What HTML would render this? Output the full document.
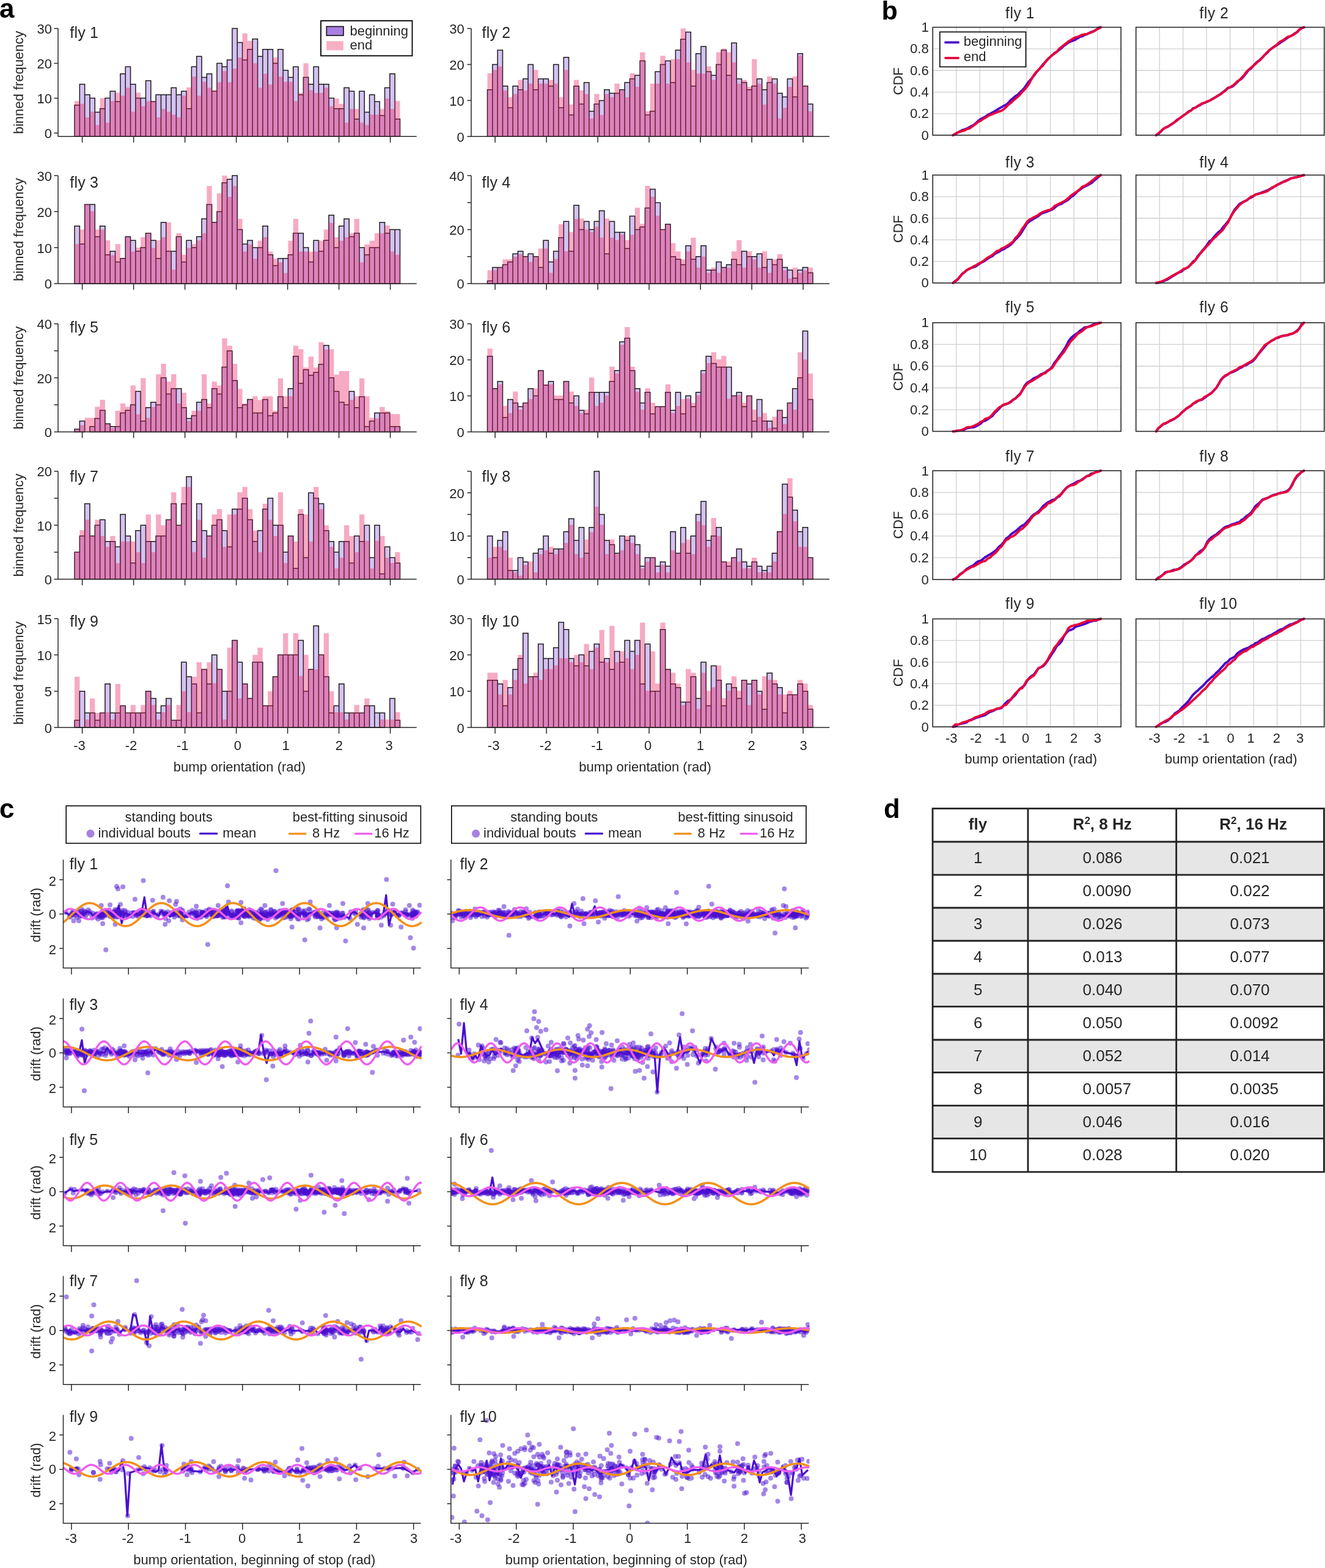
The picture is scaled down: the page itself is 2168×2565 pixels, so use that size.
<!DOCTYPE html>
<html><head><meta charset="utf-8"><title>figure</title>
<style>html,body{margin:0;padding:0;background:#fff;} svg{display:block;}</style></head>
<body><svg width="2168" height="2565" viewBox="0 0 2168 2565" font-family="'Liberation Sans', Arial, Helvetica, sans-serif">
<rect width="2168" height="2565" fill="#fff"/>
<path d="M122 223.3V172H130.32V223.3ZM130.32 223.3V137.8H138.64V223.3ZM138.64 223.3V154.9H146.96V223.3ZM146.96 223.3V160.6H155.28V223.3ZM155.28 223.3V183.4H163.6V223.3ZM163.6 223.3V177.7H171.92V223.3ZM171.92 223.3V160.6H180.24V223.3ZM180.24 223.3V149.2H188.56V223.3ZM188.56 223.3V166.3H196.88V223.3ZM196.88 223.3V120.7H205.2V223.3ZM205.2 223.3V109.3H213.52V223.3ZM213.52 223.3V137.8H221.84V223.3ZM221.84 223.3V160.6H230.16V223.3ZM230.16 223.3V160.6H238.48V223.3ZM238.48 223.3V132.1H246.8V223.3ZM246.8 223.3V166.3H255.12V223.3ZM255.12 223.3V154.9H263.44V223.3ZM263.44 223.3V154.9H271.76V223.3ZM271.76 223.3V154.9H280.08V223.3ZM280.08 223.3V143.5H288.4V223.3ZM288.4 223.3V154.9H296.72V223.3ZM296.72 223.3V149.2H305.04V223.3ZM305.04 223.3V177.7H313.36V223.3ZM313.36 223.3V109.3H321.68V223.3ZM321.68 223.3V92.2H330V223.3ZM330 223.3V126.4H338.32V223.3ZM338.32 223.3V120.7H346.64V223.3ZM346.64 223.3V149.2H354.96V223.3ZM354.96 223.3V103.6H363.28V223.3ZM363.28 223.3V109.3H371.6V223.3ZM371.6 223.3V97.9H379.92V223.3ZM379.92 223.3V46.6H388.24V223.3ZM388.24 223.3V69.4H396.56V223.3ZM396.56 223.3V97.9H404.88V223.3ZM404.88 223.3V80.8H413.2V223.3ZM413.2 223.3V63.7H421.52V223.3ZM421.52 223.3V92.2H429.84V223.3ZM429.84 223.3V80.8H438.16V223.3ZM438.16 223.3V80.8H446.48V223.3ZM446.48 223.3V103.6H454.8V223.3ZM454.8 223.3V80.8H463.12V223.3ZM463.12 223.3V115H471.44V223.3ZM471.44 223.3V126.4H479.76V223.3ZM479.76 223.3V109.3H488.08V223.3ZM488.08 223.3V154.9H496.4V223.3ZM496.4 223.3V126.4H504.72V223.3ZM504.72 223.3V137.8H513.04V223.3ZM513.04 223.3V109.3H521.36V223.3ZM521.36 223.3V137.8H529.68V223.3ZM529.68 223.3V137.8H538V223.3ZM538 223.3V160.6H546.32V223.3ZM546.32 223.3V177.7H554.64V223.3ZM554.64 223.3V177.7H562.96V223.3ZM562.96 223.3V143.5H571.28V223.3ZM571.28 223.3V149.2H579.6V223.3ZM579.6 223.3V194.8H587.92V223.3ZM587.92 223.3V149.2H596.24V223.3ZM596.24 223.3V183.4H604.56V223.3ZM604.56 223.3V154.9H612.88V223.3ZM612.88 223.3V166.3H621.2V223.3ZM621.2 223.3V189.1H629.52V223.3ZM629.52 223.3V143.5H637.84V223.3ZM637.84 223.3V120.7H646.16V223.3ZM646.16 223.3V194.8H654.48V223.3Z" fill="#a57ee6" fill-opacity="0.47" stroke="#1c1c1c" stroke-width="1.5"/>
<path d="M122 223.3V165.16H130.32V223.3ZM130.32 223.3V169.72H138.64V223.3ZM138.64 223.3V191.95H146.96V223.3ZM146.96 223.3V182.83H155.28V223.3ZM155.28 223.3V204.49H163.6V223.3ZM163.6 223.3V160.6H171.92V223.3ZM171.92 223.3V200.5H180.24V223.3ZM180.24 223.3V165.16H188.56V223.3ZM188.56 223.3V151.48H196.88V223.3ZM196.88 223.3V156.61H205.2V223.3ZM205.2 223.3V143.5H213.52V223.3ZM213.52 223.3V182.83H221.84V223.3ZM221.84 223.3V151.48H230.16V223.3ZM230.16 223.3V173.71H238.48V223.3ZM238.48 223.3V165.16H246.8V223.3ZM246.8 223.3V165.16H255.12V223.3ZM255.12 223.3V191.95H263.44V223.3ZM263.44 223.3V178.27H271.76V223.3ZM271.76 223.3V182.83H280.08V223.3ZM280.08 223.3V187.39H288.4V223.3ZM288.4 223.3V191.95H296.72V223.3ZM296.72 223.3V156.61H305.04V223.3ZM305.04 223.3V142.93H313.36V223.3ZM313.36 223.3V125.26H321.68V223.3ZM321.68 223.3V156.61H330V223.3ZM330 223.3V133.81H338.32V223.3ZM338.32 223.3V143.5H346.64V223.3ZM346.64 223.3V148.06H354.96V223.3ZM354.96 223.3V134.38H363.28V223.3ZM363.28 223.3V116.14H371.6V223.3ZM371.6 223.3V134.38H379.92V223.3ZM379.92 223.3V112.15H388.24V223.3ZM388.24 223.3V93.91H396.56V223.3ZM396.56 223.3V54.58H404.88V223.3ZM404.88 223.3V67.12H413.2V223.3ZM413.2 223.3V103.6H421.52V223.3ZM421.52 223.3V143.5H429.84V223.3ZM429.84 223.3V120.7H438.16V223.3ZM438.16 223.3V138.37H446.48V223.3ZM446.48 223.3V93.91H454.8V223.3ZM454.8 223.3V125.26H463.12V223.3ZM463.12 223.3V133.81H471.44V223.3ZM471.44 223.3V133.81H479.76V223.3ZM479.76 223.3V165.16H488.08V223.3ZM488.08 223.3V152.05H496.4V223.3ZM496.4 223.3V103.6H504.72V223.3ZM504.72 223.3V147.49H513.04V223.3ZM513.04 223.3V152.05H521.36V223.3ZM521.36 223.3V152.05H529.68V223.3ZM529.68 223.3V143.5H538V223.3ZM538 223.3V173.71H546.32V223.3ZM546.32 223.3V161.17H554.64V223.3ZM554.64 223.3V169.72H562.96V223.3ZM562.96 223.3V200.5H571.28V223.3ZM571.28 223.3V178.27H579.6V223.3ZM579.6 223.3V178.27H587.92V223.3ZM587.92 223.3V200.5H596.24V223.3ZM596.24 223.3V204.49H604.56V223.3ZM604.56 223.3V187.39H612.88V223.3ZM612.88 223.3V187.39H621.2V223.3ZM621.2 223.3V178.27H629.52V223.3ZM629.52 223.3V161.17H637.84V223.3ZM637.84 223.3V178.27H646.16V223.3ZM646.16 223.3V165.16H654.48V223.3Z" fill="#e6195d" fill-opacity="0.37"/>
<line x1="95" y1="46.6" x2="95" y2="223.3" stroke="#262626" stroke-width="1.5" />
<line x1="95" y1="223.3" x2="681.7" y2="223.3" stroke="#262626" stroke-width="1.5" />
<line x1="88.5" y1="217.6" x2="95" y2="217.6" stroke="#262626" stroke-width="1.5" />
<text x="85.1" y="226.1" font-size="22" text-anchor="end" font-weight="normal" fill="#262626" >0</text>
<line x1="88.5" y1="160.6" x2="95" y2="160.6" stroke="#262626" stroke-width="1.5" />
<text x="85.1" y="169.1" font-size="22" text-anchor="end" font-weight="normal" fill="#262626" >10</text>
<line x1="88.5" y1="103.6" x2="95" y2="103.6" stroke="#262626" stroke-width="1.5" />
<text x="85.1" y="112.1" font-size="22" text-anchor="end" font-weight="normal" fill="#262626" >20</text>
<line x1="88.5" y1="46.6" x2="95" y2="46.6" stroke="#262626" stroke-width="1.5" />
<text x="85.1" y="55.1" font-size="22" text-anchor="end" font-weight="normal" fill="#262626" >30</text>
<line x1="134.6" y1="223.3" x2="134.6" y2="233.3" stroke="#262626" stroke-width="1.5" />
<line x1="218.6" y1="223.3" x2="218.6" y2="233.3" stroke="#262626" stroke-width="1.5" />
<line x1="302.6" y1="223.3" x2="302.6" y2="233.3" stroke="#262626" stroke-width="1.5" />
<line x1="386.6" y1="223.3" x2="386.6" y2="233.3" stroke="#262626" stroke-width="1.5" />
<line x1="470.6" y1="223.3" x2="470.6" y2="233.3" stroke="#262626" stroke-width="1.5" />
<line x1="554.6" y1="223.3" x2="554.6" y2="233.3" stroke="#262626" stroke-width="1.5" />
<line x1="638.6" y1="223.3" x2="638.6" y2="233.3" stroke="#262626" stroke-width="1.5" />
<text x="114.3" y="61.5" font-size="25" text-anchor="start" font-weight="normal" fill="#262626" letter-spacing="0.2">fly 1</text>
<text transform="translate(37.8 134.95) rotate(-90)" font-size="22" text-anchor="middle" fill="#262626">binned frequency</text>
<path d="M797.5 223.3V146.73H805.82V223.3ZM805.82 223.3V105.5H814.14V223.3ZM814.14 223.3V81.94H822.46V223.3ZM822.46 223.3V140.84H830.78V223.3ZM830.78 223.3V176.18H839.1V223.3ZM839.1 223.3V140.84H847.42V223.3ZM847.42 223.3V146.73H855.74V223.3ZM855.74 223.3V129.06H864.06V223.3ZM864.06 223.3V105.5H872.38V223.3ZM872.38 223.3V146.73H880.7V223.3ZM880.7 223.3V129.06H889.02V223.3ZM889.02 223.3V129.06H897.34V223.3ZM897.34 223.3V140.84H905.66V223.3ZM905.66 223.3V105.5H913.98V223.3ZM913.98 223.3V176.18H922.3V223.3ZM922.3 223.3V93.72H930.62V223.3ZM930.62 223.3V187.96H938.94V223.3ZM938.94 223.3V140.84H947.26V223.3ZM947.26 223.3V170.29H955.58V223.3ZM955.58 223.3V134.95H963.9V223.3ZM963.9 223.3V182.07H972.22V223.3ZM972.22 223.3V170.29H980.54V223.3ZM980.54 223.3V164.4H988.86V223.3ZM988.86 223.3V146.73H997.18V223.3ZM997.18 223.3V152.62H1005.5V223.3ZM1005.5 223.3V152.62H1013.82V223.3ZM1013.82 223.3V146.73H1022.14V223.3ZM1022.14 223.3V134.95H1030.46V223.3ZM1030.46 223.3V129.06H1038.78V223.3ZM1038.78 223.3V123.17H1047.1V223.3ZM1047.1 223.3V99.61H1055.42V223.3ZM1055.42 223.3V187.96H1063.74V223.3ZM1063.74 223.3V182.07H1072.06V223.3ZM1072.06 223.3V117.28H1080.38V223.3ZM1080.38 223.3V105.5H1088.7V223.3ZM1088.7 223.3V99.61H1097.02V223.3ZM1097.02 223.3V134.95H1105.34V223.3ZM1105.34 223.3V81.94H1113.66V223.3ZM1113.66 223.3V64.27H1121.98V223.3ZM1121.98 223.3V52.49H1130.3V223.3ZM1130.3 223.3V140.84H1138.62V223.3ZM1138.62 223.3V87.83H1146.94V223.3ZM1146.94 223.3V76.05H1155.26V223.3ZM1155.26 223.3V117.28H1163.58V223.3ZM1163.58 223.3V123.17H1171.9V223.3ZM1171.9 223.3V105.5H1180.22V223.3ZM1180.22 223.3V81.94H1188.54V223.3ZM1188.54 223.3V123.17H1196.86V223.3ZM1196.86 223.3V70.16H1205.18V223.3ZM1205.18 223.3V129.06H1213.5V223.3ZM1213.5 223.3V134.95H1221.82V223.3ZM1221.82 223.3V146.73H1230.14V223.3ZM1230.14 223.3V140.84H1238.46V223.3ZM1238.46 223.3V129.06H1246.78V223.3ZM1246.78 223.3V146.73H1255.1V223.3ZM1255.1 223.3V134.95H1263.42V223.3ZM1263.42 223.3V129.06H1271.74V223.3ZM1271.74 223.3V152.62H1280.06V223.3ZM1280.06 223.3V158.51H1288.38V223.3ZM1288.38 223.3V129.06H1296.7V223.3ZM1296.7 223.3V158.51H1305.02V223.3ZM1305.02 223.3V87.83H1313.34V223.3ZM1313.34 223.3V140.84H1321.66V223.3ZM1321.66 223.3V170.29H1329.98V223.3Z" fill="#a57ee6" fill-opacity="0.47" stroke="#1c1c1c" stroke-width="1.5"/>
<path d="M797.5 223.3V119.64H805.82V223.3ZM805.82 223.3V114.33H814.14V223.3ZM814.14 223.3V108.44H822.46V223.3ZM822.46 223.3V147.91H830.78V223.3ZM830.78 223.3V159.1H839.1V223.3ZM839.1 223.3V153.8H847.42V223.3ZM847.42 223.3V130.83H855.74V223.3ZM855.74 223.3V147.91H864.06V223.3ZM864.06 223.3V136.72H872.38V223.3ZM872.38 223.3V114.33H880.7V223.3ZM880.7 223.3V136.72H889.02V223.3ZM889.02 223.3V136.72H897.34V223.3ZM897.34 223.3V130.83H905.66V223.3ZM905.66 223.3V136.72H913.98V223.3ZM913.98 223.3V159.1H922.3V223.3ZM922.3 223.3V114.33H930.62V223.3ZM930.62 223.3V170.88H938.94V223.3ZM938.94 223.3V130.83H947.26V223.3ZM947.26 223.3V147.91H955.58V223.3ZM955.58 223.3V153.8H963.9V223.3ZM963.9 223.3V193.85H972.22V223.3ZM972.22 223.3V153.8H980.54V223.3ZM980.54 223.3V187.96H988.86V223.3ZM988.86 223.3V153.8H997.18V223.3ZM997.18 223.3V159.1H1005.5V223.3ZM1005.5 223.3V136.72H1013.82V223.3ZM1013.82 223.3V147.91H1022.14V223.3ZM1022.14 223.3V159.1H1030.46V223.3ZM1030.46 223.3V119.64H1038.78V223.3ZM1038.78 223.3V142.02H1047.1V223.3ZM1047.1 223.3V85.47H1055.42V223.3ZM1055.42 223.3V182.07H1063.74V223.3ZM1063.74 223.3V136.72H1072.06V223.3ZM1072.06 223.3V136.72H1080.38V223.3ZM1080.38 223.3V91.36H1088.7V223.3ZM1088.7 223.3V136.72H1097.02V223.3ZM1097.02 223.3V96.66H1105.34V223.3ZM1105.34 223.3V96.66H1113.66V223.3ZM1113.66 223.3V46.6H1121.98V223.3ZM1121.98 223.3V101.97H1130.3V223.3ZM1130.3 223.3V114.33H1138.62V223.3ZM1138.62 223.3V120.22H1146.94V223.3ZM1146.94 223.3V120.22H1155.26V223.3ZM1155.26 223.3V108.44H1163.58V223.3ZM1163.58 223.3V130.83H1171.9V223.3ZM1171.9 223.3V85.47H1180.22V223.3ZM1180.22 223.3V79.58H1188.54V223.3ZM1188.54 223.3V85.47H1196.86V223.3ZM1196.86 223.3V101.97H1205.18V223.3ZM1205.18 223.3V136.72H1213.5V223.3ZM1213.5 223.3V130.83H1221.82V223.3ZM1221.82 223.3V142.02H1230.14V223.3ZM1230.14 223.3V96.66H1238.46V223.3ZM1238.46 223.3V136.72H1246.78V223.3ZM1246.78 223.3V170.88H1255.1V223.3ZM1255.1 223.3V124.94H1263.42V223.3ZM1263.42 223.3V136.72H1271.74V223.3ZM1271.74 223.3V193.85H1280.06V223.3ZM1280.06 223.3V176.18H1288.38V223.3ZM1288.38 223.3V142.02H1296.7V223.3ZM1296.7 223.3V124.94H1305.02V223.3ZM1305.02 223.3V90.78H1313.34V223.3ZM1313.34 223.3V140.84H1321.66V223.3ZM1321.66 223.3V182.07H1329.98V223.3Z" fill="#e6195d" fill-opacity="0.37"/>
<line x1="771" y1="46.6" x2="771" y2="223.3" stroke="#262626" stroke-width="1.5" />
<line x1="771" y1="223.3" x2="1357.2" y2="223.3" stroke="#262626" stroke-width="1.5" />
<line x1="764.5" y1="223.3" x2="771" y2="223.3" stroke="#262626" stroke-width="1.5" />
<text x="759.7" y="231.8" font-size="22" text-anchor="end" font-weight="normal" fill="#262626" >0</text>
<line x1="764.5" y1="164.4" x2="771" y2="164.4" stroke="#262626" stroke-width="1.5" />
<text x="759.7" y="172.9" font-size="22" text-anchor="end" font-weight="normal" fill="#262626" >10</text>
<line x1="764.5" y1="105.5" x2="771" y2="105.5" stroke="#262626" stroke-width="1.5" />
<text x="759.7" y="114" font-size="22" text-anchor="end" font-weight="normal" fill="#262626" >20</text>
<line x1="764.5" y1="46.6" x2="771" y2="46.6" stroke="#262626" stroke-width="1.5" />
<text x="759.7" y="55.1" font-size="22" text-anchor="end" font-weight="normal" fill="#262626" >30</text>
<line x1="810.1" y1="223.3" x2="810.1" y2="233.3" stroke="#262626" stroke-width="1.5" />
<line x1="894.1" y1="223.3" x2="894.1" y2="233.3" stroke="#262626" stroke-width="1.5" />
<line x1="978.1" y1="223.3" x2="978.1" y2="233.3" stroke="#262626" stroke-width="1.5" />
<line x1="1062.1" y1="223.3" x2="1062.1" y2="233.3" stroke="#262626" stroke-width="1.5" />
<line x1="1146.1" y1="223.3" x2="1146.1" y2="233.3" stroke="#262626" stroke-width="1.5" />
<line x1="1230.1" y1="223.3" x2="1230.1" y2="233.3" stroke="#262626" stroke-width="1.5" />
<line x1="1314.1" y1="223.3" x2="1314.1" y2="233.3" stroke="#262626" stroke-width="1.5" />
<text x="788.6" y="61.5" font-size="25" text-anchor="start" font-weight="normal" fill="#262626" letter-spacing="0.2">fly 2</text>
<path d="M122 463.9V369.71H130.32V463.9ZM130.32 463.9V399.15H138.64V463.9ZM138.64 463.9V334.39H146.96V463.9ZM146.96 463.9V334.39H155.28V463.9ZM155.28 463.9V387.37H163.6V463.9ZM163.6 463.9V369.71H171.92V463.9ZM171.92 463.9V416.81H180.24V463.9ZM180.24 463.9V410.92H188.56V463.9ZM188.56 463.9V428.58H196.88V463.9ZM196.88 463.9V422.69H205.2V463.9ZM205.2 463.9V387.37H213.52V463.9ZM213.52 463.9V393.26H221.84V463.9ZM221.84 463.9V410.92H230.16V463.9ZM230.16 463.9V405.03H238.48V463.9ZM238.48 463.9V381.49H246.8V463.9ZM246.8 463.9V393.26H255.12V463.9ZM255.12 463.9V422.69H263.44V463.9ZM263.44 463.9V363.83H271.76V463.9ZM271.76 463.9V410.92H280.08V463.9ZM280.08 463.9V410.92H288.4V463.9ZM288.4 463.9V387.37H296.72V463.9ZM296.72 463.9V428.58H305.04V463.9ZM305.04 463.9V393.26H313.36V463.9ZM313.36 463.9V405.03H321.68V463.9ZM321.68 463.9V387.37H330V463.9ZM330 463.9V357.94H338.32V463.9ZM338.32 463.9V334.39H346.64V463.9ZM346.64 463.9V363.83H354.96V463.9ZM354.96 463.9V346.17H363.28V463.9ZM363.28 463.9V299.07H371.6V463.9ZM371.6 463.9V293.19H379.92V463.9ZM379.92 463.9V287.3H388.24V463.9ZM388.24 463.9V375.6H396.56V463.9ZM396.56 463.9V399.15H404.88V463.9ZM404.88 463.9V393.26H413.2V463.9ZM413.2 463.9V405.03H421.52V463.9ZM421.52 463.9V405.03H429.84V463.9ZM429.84 463.9V369.71H438.16V463.9ZM438.16 463.9V416.81H446.48V463.9ZM446.48 463.9V434.47H454.8V463.9ZM454.8 463.9V422.69H463.12V463.9ZM463.12 463.9V422.69H471.44V463.9ZM471.44 463.9V416.81H479.76V463.9ZM479.76 463.9V381.49H488.08V463.9ZM488.08 463.9V381.49H496.4V463.9ZM496.4 463.9V405.03H504.72V463.9ZM504.72 463.9V428.58H513.04V463.9ZM513.04 463.9V393.26H521.36V463.9ZM521.36 463.9V410.92H529.68V463.9ZM529.68 463.9V393.26H538V463.9ZM538 463.9V352.05H546.32V463.9ZM546.32 463.9V405.03H554.64V463.9ZM554.64 463.9V369.71H562.96V463.9ZM562.96 463.9V357.94H571.28V463.9ZM571.28 463.9V387.37H579.6V463.9ZM579.6 463.9V381.49H587.92V463.9ZM587.92 463.9V405.03H596.24V463.9ZM596.24 463.9V416.81H604.56V463.9ZM604.56 463.9V405.03H612.88V463.9ZM612.88 463.9V405.03H621.2V463.9ZM621.2 463.9V363.83H629.52V463.9ZM629.52 463.9V381.49H637.84V463.9ZM637.84 463.9V375.6H646.16V463.9ZM646.16 463.9V375.6H654.48V463.9Z" fill="#a57ee6" fill-opacity="0.47" stroke="#1c1c1c" stroke-width="1.5"/>
<path d="M122 463.9V399.15H130.32V463.9ZM130.32 463.9V375.6H138.64V463.9ZM138.64 463.9V334.39H146.96V463.9ZM146.96 463.9V345.58H155.28V463.9ZM155.28 463.9V375.6H163.6V463.9ZM163.6 463.9V375.6H171.92V463.9ZM171.92 463.9V393.26H180.24V463.9ZM180.24 463.9V417.4H188.56V463.9ZM188.56 463.9V399.15H196.88V463.9ZM196.88 463.9V422.69H205.2V463.9ZM205.2 463.9V387.96H213.52V463.9ZM213.52 463.9V411.51H221.84V463.9ZM221.84 463.9V405.03H230.16V463.9ZM230.16 463.9V387.96H238.48V463.9ZM238.48 463.9V381.49H246.8V463.9ZM246.8 463.9V405.62H255.12V463.9ZM255.12 463.9V393.26H263.44V463.9ZM263.44 463.9V387.96H271.76V463.9ZM271.76 463.9V363.83H280.08V463.9ZM280.08 463.9V440.94H288.4V463.9ZM288.4 463.9V381.49H296.72V463.9ZM296.72 463.9V416.81H305.04V463.9ZM305.04 463.9V405.62H313.36V463.9ZM313.36 463.9V399.15H321.68V463.9ZM321.68 463.9V393.26H330V463.9ZM330 463.9V381.49H338.32V463.9ZM338.32 463.9V304.37H346.64V463.9ZM346.64 463.9V364.42H354.96V463.9ZM354.96 463.9V316.14H363.28V463.9ZM363.28 463.9V287.3H371.6V463.9ZM371.6 463.9V322.03H379.92V463.9ZM379.92 463.9V304.37H388.24V463.9ZM388.24 463.9V357.94H396.56V463.9ZM396.56 463.9V411.51H404.88V463.9ZM404.88 463.9V399.74H413.2V463.9ZM413.2 463.9V423.28H421.52V463.9ZM421.52 463.9V393.85H429.84V463.9ZM429.84 463.9V387.96H438.16V463.9ZM438.16 463.9V411.51H446.48V463.9ZM446.48 463.9V423.28H454.8V463.9ZM454.8 463.9V429.17H463.12V463.9ZM463.12 463.9V446.83H471.44V463.9ZM471.44 463.9V393.85H479.76V463.9ZM479.76 463.9V357.94H488.08V463.9ZM488.08 463.9V411.51H496.4V463.9ZM496.4 463.9V411.51H504.72V463.9ZM504.72 463.9V411.51H513.04V463.9ZM513.04 463.9V411.51H521.36V463.9ZM521.36 463.9V393.85H529.68V463.9ZM529.68 463.9V375.6H538V463.9ZM538 463.9V364.42H546.32V463.9ZM546.32 463.9V387.96H554.64V463.9ZM554.64 463.9V393.85H562.96V463.9ZM562.96 463.9V387.96H571.28V463.9ZM571.28 463.9V381.49H579.6V463.9ZM579.6 463.9V357.94H587.92V463.9ZM587.92 463.9V429.17H596.24V463.9ZM596.24 463.9V399.74H604.56V463.9ZM604.56 463.9V393.85H612.88V463.9ZM612.88 463.9V381.49H621.2V463.9ZM621.2 463.9V381.49H629.52V463.9ZM629.52 463.9V369.12H637.84V463.9ZM637.84 463.9V411.51H646.16V463.9ZM646.16 463.9V416.81H654.48V463.9Z" fill="#e6195d" fill-opacity="0.37"/>
<line x1="95" y1="287.3" x2="95" y2="463.9" stroke="#262626" stroke-width="1.5" />
<line x1="95" y1="463.9" x2="681.7" y2="463.9" stroke="#262626" stroke-width="1.5" />
<line x1="88.5" y1="463.9" x2="95" y2="463.9" stroke="#262626" stroke-width="1.5" />
<text x="85.1" y="472.4" font-size="22" text-anchor="end" font-weight="normal" fill="#262626" >0</text>
<line x1="88.5" y1="405.03" x2="95" y2="405.03" stroke="#262626" stroke-width="1.5" />
<text x="85.1" y="413.53" font-size="22" text-anchor="end" font-weight="normal" fill="#262626" >10</text>
<line x1="88.5" y1="346.17" x2="95" y2="346.17" stroke="#262626" stroke-width="1.5" />
<text x="85.1" y="354.67" font-size="22" text-anchor="end" font-weight="normal" fill="#262626" >20</text>
<line x1="88.5" y1="287.3" x2="95" y2="287.3" stroke="#262626" stroke-width="1.5" />
<text x="85.1" y="295.8" font-size="22" text-anchor="end" font-weight="normal" fill="#262626" >30</text>
<line x1="134.6" y1="463.9" x2="134.6" y2="473.9" stroke="#262626" stroke-width="1.5" />
<line x1="218.6" y1="463.9" x2="218.6" y2="473.9" stroke="#262626" stroke-width="1.5" />
<line x1="302.6" y1="463.9" x2="302.6" y2="473.9" stroke="#262626" stroke-width="1.5" />
<line x1="386.6" y1="463.9" x2="386.6" y2="473.9" stroke="#262626" stroke-width="1.5" />
<line x1="470.6" y1="463.9" x2="470.6" y2="473.9" stroke="#262626" stroke-width="1.5" />
<line x1="554.6" y1="463.9" x2="554.6" y2="473.9" stroke="#262626" stroke-width="1.5" />
<line x1="638.6" y1="463.9" x2="638.6" y2="473.9" stroke="#262626" stroke-width="1.5" />
<text x="114.3" y="306.5" font-size="25" text-anchor="start" font-weight="normal" fill="#262626" letter-spacing="0.2">fly 3</text>
<text transform="translate(37.8 375.6) rotate(-90)" font-size="22" text-anchor="middle" fill="#262626">binned frequency</text>
<path d="M797.5 463.9V459.48H805.82V463.9ZM805.82 463.9V437.41H814.14V463.9ZM814.14 463.9V437.41H822.46V463.9ZM822.46 463.9V433H830.78V463.9ZM830.78 463.9V428.58H839.1V463.9ZM839.1 463.9V415.33H847.42V463.9ZM847.42 463.9V410.92H855.74V463.9ZM855.74 463.9V419.75H864.06V463.9ZM864.06 463.9V415.33H872.38V463.9ZM872.38 463.9V419.75H880.7V463.9ZM880.7 463.9V437.41H889.02V463.9ZM889.02 463.9V393.26H897.34V463.9ZM897.34 463.9V428.58H905.66V463.9ZM905.66 463.9V410.92H913.98V463.9ZM913.98 463.9V388.85H922.3V463.9ZM922.3 463.9V362.36H930.62V463.9ZM930.62 463.9V410.92H938.94V463.9ZM938.94 463.9V335.87H947.26V463.9ZM947.26 463.9V375.6H955.58V463.9ZM955.58 463.9V362.36H963.9V463.9ZM963.9 463.9V375.6H972.22V463.9ZM972.22 463.9V362.36H980.54V463.9ZM980.54 463.9V344.69H988.86V463.9ZM988.86 463.9V415.33H997.18V463.9ZM997.18 463.9V362.36H1005.5V463.9ZM1005.5 463.9V380.01H1013.82V463.9ZM1013.82 463.9V380.01H1022.14V463.9ZM1022.14 463.9V406.5H1030.46V463.9ZM1030.46 463.9V353.52H1038.78V463.9ZM1038.78 463.9V375.6H1047.1V463.9ZM1047.1 463.9V371.19H1055.42V463.9ZM1055.42 463.9V340.28H1063.74V463.9ZM1063.74 463.9V309.38H1072.06V463.9ZM1072.06 463.9V331.45H1080.38V463.9ZM1080.38 463.9V375.6H1088.7V463.9ZM1088.7 463.9V366.77H1097.02V463.9ZM1097.02 463.9V419.75H1105.34V463.9ZM1105.34 463.9V424.16H1113.66V463.9ZM1113.66 463.9V433H1121.98V463.9ZM1121.98 463.9V402.09H1130.3V463.9ZM1130.3 463.9V424.16H1138.62V463.9ZM1138.62 463.9V419.75H1146.94V463.9ZM1146.94 463.9V402.09H1155.26V463.9ZM1155.26 463.9V441.82H1163.58V463.9ZM1163.58 463.9V441.82H1171.9V463.9ZM1171.9 463.9V428.58H1180.22V463.9ZM1180.22 463.9V437.41H1188.54V463.9ZM1188.54 463.9V433H1196.86V463.9ZM1196.86 463.9V424.16H1205.18V463.9ZM1205.18 463.9V433H1213.5V463.9ZM1213.5 463.9V410.92H1221.82V463.9ZM1221.82 463.9V419.75H1230.14V463.9ZM1230.14 463.9V419.75H1238.46V463.9ZM1238.46 463.9V415.33H1246.78V463.9ZM1246.78 463.9V437.41H1255.1V463.9ZM1255.1 463.9V424.16H1263.42V463.9ZM1263.42 463.9V433H1271.74V463.9ZM1271.74 463.9V424.16H1280.06V463.9ZM1280.06 463.9V437.41H1288.38V463.9ZM1288.38 463.9V441.82H1296.7V463.9ZM1296.7 463.9V455.07H1305.02V463.9ZM1305.02 463.9V441.82H1313.34V463.9ZM1313.34 463.9V437.41H1321.66V463.9ZM1321.66 463.9V446.24H1329.98V463.9Z" fill="#a57ee6" fill-opacity="0.47" stroke="#1c1c1c" stroke-width="1.5"/>
<path d="M797.5 463.9V442.27H805.82V463.9ZM805.82 463.9V441.82H814.14V463.9ZM814.14 463.9V437.41H822.46V463.9ZM822.46 463.9V424.16H830.78V463.9ZM830.78 463.9V424.16H839.1V463.9ZM839.1 463.9V419.75H847.42V463.9ZM847.42 463.9V415.78H855.74V463.9ZM855.74 463.9V419.75H864.06V463.9ZM864.06 463.9V428.58H872.38V463.9ZM872.38 463.9V419.75H880.7V463.9ZM880.7 463.9V406.5H889.02V463.9ZM889.02 463.9V406.5H897.34V463.9ZM897.34 463.9V446.24H905.66V463.9ZM905.66 463.9V423.72H913.98V463.9ZM913.98 463.9V366.77H922.3V463.9ZM922.3 463.9V410.92H930.62V463.9ZM930.62 463.9V379.57H938.94V463.9ZM938.94 463.9V357.94H947.26V463.9ZM947.26 463.9V357.5H955.58V463.9ZM955.58 463.9V375.6H963.9V463.9ZM963.9 463.9V379.57H972.22V463.9ZM972.22 463.9V370.74H980.54V463.9ZM980.54 463.9V388.85H988.86V463.9ZM988.86 463.9V357.5H997.18V463.9ZM997.18 463.9V388.85H1005.5V463.9ZM1005.5 463.9V392.82H1013.82V463.9ZM1013.82 463.9V383.55H1022.14V463.9ZM1022.14 463.9V392.82H1030.46V463.9ZM1030.46 463.9V383.99H1038.78V463.9ZM1038.78 463.9V339.84H1047.1V463.9ZM1047.1 463.9V366.33H1055.42V463.9ZM1055.42 463.9V304.08H1063.74V463.9ZM1063.74 463.9V321.74H1072.06V463.9ZM1072.06 463.9V352.64H1080.38V463.9ZM1080.38 463.9V375.6H1088.7V463.9ZM1088.7 463.9V367.21H1097.02V463.9ZM1097.02 463.9V397.67H1105.34V463.9ZM1105.34 463.9V411.36H1113.66V463.9ZM1113.66 463.9V424.16H1121.98V463.9ZM1121.98 463.9V411.36H1130.3V463.9ZM1130.3 463.9V388.85H1138.62V463.9ZM1138.62 463.9V437.85H1146.94V463.9ZM1146.94 463.9V419.75H1155.26V463.9ZM1155.26 463.9V446.24H1163.58V463.9ZM1163.58 463.9V437.85H1171.9V463.9ZM1171.9 463.9V446.24H1180.22V463.9ZM1180.22 463.9V437.85H1188.54V463.9ZM1188.54 463.9V437.85H1196.86V463.9ZM1196.86 463.9V411.36H1205.18V463.9ZM1205.18 463.9V392.82H1213.5V463.9ZM1213.5 463.9V437.85H1221.82V463.9ZM1221.82 463.9V411.36H1230.14V463.9ZM1230.14 463.9V424.16H1238.46V463.9ZM1238.46 463.9V437.85H1246.78V463.9ZM1246.78 463.9V411.36H1255.1V463.9ZM1255.1 463.9V446.24H1263.42V463.9ZM1263.42 463.9V424.16H1271.74V463.9ZM1271.74 463.9V415.78H1280.06V463.9ZM1280.06 463.9V442.27H1288.38V463.9ZM1288.38 463.9V455.51H1296.7V463.9ZM1296.7 463.9V437.85H1305.02V463.9ZM1305.02 463.9V446.24H1313.34V463.9ZM1313.34 463.9V442.27H1321.66V463.9ZM1321.66 463.9V437.85H1329.98V463.9Z" fill="#e6195d" fill-opacity="0.37"/>
<line x1="771" y1="287.3" x2="771" y2="463.9" stroke="#262626" stroke-width="1.5" />
<line x1="771" y1="463.9" x2="1357.2" y2="463.9" stroke="#262626" stroke-width="1.5" />
<line x1="764.5" y1="463.9" x2="771" y2="463.9" stroke="#262626" stroke-width="1.5" />
<text x="759.7" y="472.4" font-size="22" text-anchor="end" font-weight="normal" fill="#262626" >0</text>
<line x1="764.5" y1="375.6" x2="771" y2="375.6" stroke="#262626" stroke-width="1.5" />
<text x="759.7" y="384.1" font-size="22" text-anchor="end" font-weight="normal" fill="#262626" >20</text>
<line x1="764.5" y1="287.3" x2="771" y2="287.3" stroke="#262626" stroke-width="1.5" />
<text x="759.7" y="295.8" font-size="22" text-anchor="end" font-weight="normal" fill="#262626" >40</text>
<line x1="764.5" y1="419.75" x2="771" y2="419.75" stroke="#262626" stroke-width="1.5" />
<line x1="764.5" y1="331.45" x2="771" y2="331.45" stroke="#262626" stroke-width="1.5" />
<line x1="810.1" y1="463.9" x2="810.1" y2="473.9" stroke="#262626" stroke-width="1.5" />
<line x1="894.1" y1="463.9" x2="894.1" y2="473.9" stroke="#262626" stroke-width="1.5" />
<line x1="978.1" y1="463.9" x2="978.1" y2="473.9" stroke="#262626" stroke-width="1.5" />
<line x1="1062.1" y1="463.9" x2="1062.1" y2="473.9" stroke="#262626" stroke-width="1.5" />
<line x1="1146.1" y1="463.9" x2="1146.1" y2="473.9" stroke="#262626" stroke-width="1.5" />
<line x1="1230.1" y1="463.9" x2="1230.1" y2="473.9" stroke="#262626" stroke-width="1.5" />
<line x1="1314.1" y1="463.9" x2="1314.1" y2="473.9" stroke="#262626" stroke-width="1.5" />
<text x="788.6" y="306.5" font-size="25" text-anchor="start" font-weight="normal" fill="#262626" letter-spacing="0.2">fly 4</text>
<path d="M122 706.5V702.08H130.32V706.5ZM130.32 706.5V688.82H138.64V706.5ZM146.96 706.5V697.66H155.28V706.5ZM155.28 706.5V684.4H163.6V706.5ZM163.6 706.5V671.14H171.92V706.5ZM171.92 706.5V693.24H180.24V706.5ZM180.24 706.5V697.66H188.56V706.5ZM188.56 706.5V697.66H196.88V706.5ZM196.88 706.5V675.56H205.2V706.5ZM205.2 706.5V671.14H213.52V706.5ZM213.52 706.5V662.3H221.84V706.5ZM221.84 706.5V640.2H230.16V706.5ZM230.16 706.5V688.82H238.48V706.5ZM238.48 706.5V666.72H246.8V706.5ZM246.8 706.5V657.88H255.12V706.5ZM255.12 706.5V662.3H263.44V706.5ZM263.44 706.5V618.1H271.76V706.5ZM271.76 706.5V644.62H280.08V706.5ZM280.08 706.5V635.78H288.4V706.5ZM288.4 706.5V635.78H296.72V706.5ZM296.72 706.5V666.72H305.04V706.5ZM305.04 706.5V684.4H313.36V706.5ZM313.36 706.5V679.98H321.68V706.5ZM321.68 706.5V657.88H330V706.5ZM330 706.5V653.46H338.32V706.5ZM338.32 706.5V666.72H346.64V706.5ZM346.64 706.5V635.78H354.96V706.5ZM354.96 706.5V644.62H363.28V706.5ZM363.28 706.5V600.42H371.6V706.5ZM371.6 706.5V573.9H379.92V706.5ZM379.92 706.5V622.52H388.24V706.5ZM388.24 706.5V666.72H396.56V706.5ZM396.56 706.5V662.3H404.88V706.5ZM404.88 706.5V653.46H413.2V706.5ZM413.2 706.5V675.56H421.52V706.5ZM421.52 706.5V675.56H429.84V706.5ZM429.84 706.5V653.46H438.16V706.5ZM438.16 706.5V679.98H446.48V706.5ZM446.48 706.5V675.56H454.8V706.5ZM454.8 706.5V649.04H463.12V706.5ZM463.12 706.5V666.72H471.44V706.5ZM471.44 706.5V635.78H479.76V706.5ZM479.76 706.5V582.74H488.08V706.5ZM488.08 706.5V626.94H496.4V706.5ZM496.4 706.5V604.84H504.72V706.5ZM504.72 706.5V613.68H513.04V706.5ZM513.04 706.5V609.26H521.36V706.5ZM521.36 706.5V596H529.68V706.5ZM529.68 706.5V565.06H538V706.5ZM538 706.5V618.1H546.32V706.5ZM546.32 706.5V640.2H554.64V706.5ZM554.64 706.5V657.88H562.96V706.5ZM562.96 706.5V662.3H571.28V706.5ZM571.28 706.5V640.2H579.6V706.5ZM579.6 706.5V666.72H587.92V706.5ZM587.92 706.5V649.04H596.24V706.5ZM596.24 706.5V697.66H604.56V706.5ZM604.56 706.5V688.82H612.88V706.5ZM612.88 706.5V675.56H621.2V706.5ZM621.2 706.5V675.56H629.52V706.5ZM629.52 706.5V675.56H637.84V706.5ZM637.84 706.5V697.66H646.16V706.5ZM646.16 706.5V697.66H654.48V706.5Z" fill="#a57ee6" fill-opacity="0.47" stroke="#1c1c1c" stroke-width="1.5"/>
<path d="M122 706.5V702.52H130.32V706.5ZM130.32 706.5V695.45H138.64V706.5ZM138.64 706.5V683.52H146.96V706.5ZM146.96 706.5V683.52H155.28V706.5ZM155.28 706.5V665.39H163.6V706.5ZM163.6 706.5V653.9H171.92V706.5ZM171.92 706.5V693.68H180.24V706.5ZM180.24 706.5V700.31H188.56V706.5ZM188.56 706.5V672.02H196.88V706.5ZM196.88 706.5V660.09H205.2V706.5ZM205.2 706.5V665.39H213.52V706.5ZM213.52 706.5V630.48H221.84V706.5ZM221.84 706.5V677.77H230.16V706.5ZM230.16 706.5V618.54H238.48V706.5ZM238.48 706.5V683.52H246.8V706.5ZM246.8 706.5V665.84H255.12V706.5ZM255.12 706.5V612.35H263.44V706.5ZM263.44 706.5V595.12H271.76V706.5ZM271.76 706.5V624.29H280.08V706.5ZM280.08 706.5V612.35H288.4V706.5ZM288.4 706.5V660.09H296.72V706.5ZM296.72 706.5V642.41H305.04V706.5ZM305.04 706.5V688.82H313.36V706.5ZM313.36 706.5V672.02H321.68V706.5ZM321.68 706.5V672.02H330V706.5ZM330 706.5V612.35H338.32V706.5ZM338.32 706.5V660.09H346.64V706.5ZM346.64 706.5V624.29H354.96V706.5ZM354.96 706.5V630.48H363.28V706.5ZM363.28 706.5V553.57H371.6V706.5ZM371.6 706.5V565.5H379.92V706.5ZM379.92 706.5V595.12H388.24V706.5ZM388.24 706.5V636.22H396.56V706.5ZM396.56 706.5V660.09H404.88V706.5ZM404.88 706.5V653.9H413.2V706.5ZM413.2 706.5V648.16H421.52V706.5ZM421.52 706.5V654.34H429.84V706.5ZM429.84 706.5V648.16H438.16V706.5ZM438.16 706.5V648.16H446.48V706.5ZM446.48 706.5V672.02H454.8V706.5ZM454.8 706.5V618.98H463.12V706.5ZM463.12 706.5V648.16H471.44V706.5ZM471.44 706.5V648.16H479.76V706.5ZM479.76 706.5V565.5H488.08V706.5ZM488.08 706.5V571.25H496.4V706.5ZM496.4 706.5V601.3H504.72V706.5ZM504.72 706.5V583.18H513.04V706.5ZM513.04 706.5V601.3H521.36V706.5ZM521.36 706.5V559.76H529.68V706.5ZM529.68 706.5V571.69H538V706.5ZM538 706.5V571.25H546.32V706.5ZM546.32 706.5V612.8H554.64V706.5ZM554.64 706.5V607.05H562.96V706.5ZM562.96 706.5V607.05H571.28V706.5ZM571.28 706.5V653.9H579.6V706.5ZM579.6 706.5V648.16H587.92V706.5ZM587.92 706.5V618.98H596.24V706.5ZM596.24 706.5V648.16H604.56V706.5ZM604.56 706.5V683.52H612.88V706.5ZM612.88 706.5V684.4H621.2V706.5ZM621.2 706.5V665.84H629.52V706.5ZM629.52 706.5V672.47H637.84V706.5ZM637.84 706.5V677.33H646.16V706.5ZM646.16 706.5V677.33H654.48V706.5Z" fill="#e6195d" fill-opacity="0.37"/>
<line x1="95" y1="529.7" x2="95" y2="706.5" stroke="#262626" stroke-width="1.5" />
<line x1="95" y1="706.5" x2="681.7" y2="706.5" stroke="#262626" stroke-width="1.5" />
<line x1="88.5" y1="706.5" x2="95" y2="706.5" stroke="#262626" stroke-width="1.5" />
<text x="85.1" y="715" font-size="22" text-anchor="end" font-weight="normal" fill="#262626" >0</text>
<line x1="88.5" y1="618.1" x2="95" y2="618.1" stroke="#262626" stroke-width="1.5" />
<text x="85.1" y="626.6" font-size="22" text-anchor="end" font-weight="normal" fill="#262626" >20</text>
<line x1="88.5" y1="529.7" x2="95" y2="529.7" stroke="#262626" stroke-width="1.5" />
<text x="85.1" y="538.2" font-size="22" text-anchor="end" font-weight="normal" fill="#262626" >40</text>
<line x1="88.5" y1="662.3" x2="95" y2="662.3" stroke="#262626" stroke-width="1.5" />
<line x1="88.5" y1="573.9" x2="95" y2="573.9" stroke="#262626" stroke-width="1.5" />
<line x1="134.6" y1="706.5" x2="134.6" y2="716.5" stroke="#262626" stroke-width="1.5" />
<line x1="218.6" y1="706.5" x2="218.6" y2="716.5" stroke="#262626" stroke-width="1.5" />
<line x1="302.6" y1="706.5" x2="302.6" y2="716.5" stroke="#262626" stroke-width="1.5" />
<line x1="386.6" y1="706.5" x2="386.6" y2="716.5" stroke="#262626" stroke-width="1.5" />
<line x1="470.6" y1="706.5" x2="470.6" y2="716.5" stroke="#262626" stroke-width="1.5" />
<line x1="554.6" y1="706.5" x2="554.6" y2="716.5" stroke="#262626" stroke-width="1.5" />
<line x1="638.6" y1="706.5" x2="638.6" y2="716.5" stroke="#262626" stroke-width="1.5" />
<text x="114.3" y="543.6" font-size="25" text-anchor="start" font-weight="normal" fill="#262626" letter-spacing="0.2">fly 5</text>
<text transform="translate(37.8 618.1) rotate(-90)" font-size="22" text-anchor="middle" fill="#262626">binned frequency</text>
<path d="M797.5 706.5V582.74H805.82V706.5ZM805.82 706.5V635.78H814.14V706.5ZM814.14 706.5V623.99H822.46V706.5ZM822.46 706.5V682.93H830.78V706.5ZM830.78 706.5V653.46H839.1V706.5ZM839.1 706.5V659.35H847.42V706.5ZM847.42 706.5V665.25H855.74V706.5ZM855.74 706.5V659.35H864.06V706.5ZM864.06 706.5V635.78H872.38V706.5ZM872.38 706.5V647.57H880.7V706.5ZM880.7 706.5V606.31H889.02V706.5ZM889.02 706.5V629.89H897.34V706.5ZM897.34 706.5V623.99H905.66V706.5ZM905.66 706.5V653.46H913.98V706.5ZM913.98 706.5V653.46H922.3V706.5ZM922.3 706.5V623.99H930.62V706.5ZM930.62 706.5V659.35H938.94V706.5ZM938.94 706.5V647.57H947.26V706.5ZM947.26 706.5V671.14H955.58V706.5ZM955.58 706.5V677.03H963.9V706.5ZM963.9 706.5V641.67H972.22V706.5ZM972.22 706.5V641.67H980.54V706.5ZM980.54 706.5V641.67H988.86V706.5ZM988.86 706.5V641.67H997.18V706.5ZM997.18 706.5V623.99H1005.5V706.5ZM1005.5 706.5V606.31H1013.82V706.5ZM1013.82 706.5V559.17H1022.14V706.5ZM1022.14 706.5V553.27H1030.46V706.5ZM1030.46 706.5V606.31H1038.78V706.5ZM1038.78 706.5V635.78H1047.1V706.5ZM1047.1 706.5V659.35H1055.42V706.5ZM1055.42 706.5V641.67H1063.74V706.5ZM1063.74 706.5V677.03H1072.06V706.5ZM1072.06 706.5V665.25H1080.38V706.5ZM1080.38 706.5V665.25H1088.7V706.5ZM1088.7 706.5V641.67H1097.02V706.5ZM1097.02 706.5V671.14H1105.34V706.5ZM1105.34 706.5V641.67H1113.66V706.5ZM1113.66 706.5V677.03H1121.98V706.5ZM1121.98 706.5V647.57H1130.3V706.5ZM1130.3 706.5V665.25H1138.62V706.5ZM1138.62 706.5V641.67H1146.94V706.5ZM1146.94 706.5V606.31H1155.26V706.5ZM1155.26 706.5V582.74H1163.58V706.5ZM1163.58 706.5V594.53H1171.9V706.5ZM1171.9 706.5V600.42H1180.22V706.5ZM1180.22 706.5V600.42H1188.54V706.5ZM1188.54 706.5V600.42H1196.86V706.5ZM1196.86 706.5V647.57H1205.18V706.5ZM1205.18 706.5V641.67H1213.5V706.5ZM1213.5 706.5V665.25H1221.82V706.5ZM1221.82 706.5V647.57H1230.14V706.5ZM1230.14 706.5V688.82H1238.46V706.5ZM1238.46 706.5V653.46H1246.78V706.5ZM1246.78 706.5V688.82H1255.1V706.5ZM1255.1 706.5V688.82H1263.42V706.5ZM1263.42 706.5V700.61H1271.74V706.5ZM1271.74 706.5V671.14H1280.06V706.5ZM1280.06 706.5V682.93H1288.38V706.5ZM1288.38 706.5V659.35H1296.7V706.5ZM1296.7 706.5V635.78H1305.02V706.5ZM1305.02 706.5V618.1H1313.34V706.5ZM1313.34 706.5V541.49H1321.66V706.5ZM1321.66 706.5V653.46H1329.98V706.5Z" fill="#a57ee6" fill-opacity="0.47" stroke="#1c1c1c" stroke-width="1.5"/>
<path d="M797.5 706.5V570.36H805.82V706.5ZM805.82 706.5V636.37H814.14V706.5ZM814.14 706.5V628.71H822.46V706.5ZM822.46 706.5V664.07H830.78V706.5ZM830.78 706.5V675.85H839.1V706.5ZM839.1 706.5V640.49H847.42V706.5ZM847.42 706.5V669.96H855.74V706.5ZM855.74 706.5V659.35H864.06V706.5ZM864.06 706.5V652.87H872.38V706.5ZM872.38 706.5V635.19H880.7V706.5ZM880.7 706.5V606.9H889.02V706.5ZM889.02 706.5V628.71H897.34V706.5ZM897.34 706.5V628.71H905.66V706.5ZM905.66 706.5V646.98H913.98V706.5ZM913.98 706.5V646.98H922.3V706.5ZM922.3 706.5V624.58H930.62V706.5ZM930.62 706.5V640.49H938.94V706.5ZM938.94 706.5V664.07H947.26V706.5ZM947.26 706.5V675.85H955.58V706.5ZM955.58 706.5V669.96H963.9V706.5ZM963.9 706.5V617.51H972.22V706.5ZM972.22 706.5V664.07H980.54V706.5ZM980.54 706.5V658.76H988.86V706.5ZM988.86 706.5V646.98H997.18V706.5ZM997.18 706.5V599.83H1005.5V706.5ZM1005.5 706.5V611.03H1013.82V706.5ZM1013.82 706.5V563.88H1022.14V706.5ZM1022.14 706.5V535H1030.46V706.5ZM1030.46 706.5V599.83H1038.78V706.5ZM1038.78 706.5V640.49H1047.1V706.5ZM1047.1 706.5V669.96H1055.42V706.5ZM1055.42 706.5V635.19H1063.74V706.5ZM1063.74 706.5V658.76H1072.06V706.5ZM1072.06 706.5V665.25H1080.38V706.5ZM1080.38 706.5V665.25H1088.7V706.5ZM1088.7 706.5V628.71H1097.02V706.5ZM1097.02 706.5V675.85H1105.34V706.5ZM1105.34 706.5V664.07H1113.66V706.5ZM1113.66 706.5V652.87H1121.98V706.5ZM1121.98 706.5V652.28H1130.3V706.5ZM1130.3 706.5V658.76H1138.62V706.5ZM1138.62 706.5V646.39H1146.94V706.5ZM1146.94 706.5V611.03H1155.26V706.5ZM1155.26 706.5V593.94H1163.58V706.5ZM1163.58 706.5V576.26H1171.9V706.5ZM1171.9 706.5V588.04H1180.22V706.5ZM1180.22 706.5V582.15H1188.54V706.5ZM1188.54 706.5V652.28H1196.86V706.5ZM1196.86 706.5V647.57H1205.18V706.5ZM1205.18 706.5V646.39H1213.5V706.5ZM1213.5 706.5V658.76H1221.82V706.5ZM1221.82 706.5V647.57H1230.14V706.5ZM1230.14 706.5V669.96H1238.46V706.5ZM1238.46 706.5V681.75H1246.78V706.5ZM1246.78 706.5V675.85H1255.1V706.5ZM1255.1 706.5V700.02H1263.42V706.5ZM1263.42 706.5V681.75H1271.74V706.5ZM1271.74 706.5V671.14H1280.06V706.5ZM1280.06 706.5V693.53H1288.38V706.5ZM1288.38 706.5V659.35H1296.7V706.5ZM1296.7 706.5V669.96H1305.02V706.5ZM1305.02 706.5V576.26H1313.34V706.5ZM1313.34 706.5V588.04H1321.66V706.5ZM1321.66 706.5V611.03H1329.98V706.5Z" fill="#e6195d" fill-opacity="0.37"/>
<line x1="771" y1="529.7" x2="771" y2="706.5" stroke="#262626" stroke-width="1.5" />
<line x1="771" y1="706.5" x2="1357.2" y2="706.5" stroke="#262626" stroke-width="1.5" />
<line x1="764.5" y1="706.5" x2="771" y2="706.5" stroke="#262626" stroke-width="1.5" />
<text x="759.7" y="715" font-size="22" text-anchor="end" font-weight="normal" fill="#262626" >0</text>
<line x1="764.5" y1="647.57" x2="771" y2="647.57" stroke="#262626" stroke-width="1.5" />
<text x="759.7" y="656.07" font-size="22" text-anchor="end" font-weight="normal" fill="#262626" >10</text>
<line x1="764.5" y1="588.63" x2="771" y2="588.63" stroke="#262626" stroke-width="1.5" />
<text x="759.7" y="597.13" font-size="22" text-anchor="end" font-weight="normal" fill="#262626" >20</text>
<line x1="764.5" y1="529.7" x2="771" y2="529.7" stroke="#262626" stroke-width="1.5" />
<text x="759.7" y="538.2" font-size="22" text-anchor="end" font-weight="normal" fill="#262626" >30</text>
<line x1="810.1" y1="706.5" x2="810.1" y2="716.5" stroke="#262626" stroke-width="1.5" />
<line x1="894.1" y1="706.5" x2="894.1" y2="716.5" stroke="#262626" stroke-width="1.5" />
<line x1="978.1" y1="706.5" x2="978.1" y2="716.5" stroke="#262626" stroke-width="1.5" />
<line x1="1062.1" y1="706.5" x2="1062.1" y2="716.5" stroke="#262626" stroke-width="1.5" />
<line x1="1146.1" y1="706.5" x2="1146.1" y2="716.5" stroke="#262626" stroke-width="1.5" />
<line x1="1230.1" y1="706.5" x2="1230.1" y2="716.5" stroke="#262626" stroke-width="1.5" />
<line x1="1314.1" y1="706.5" x2="1314.1" y2="716.5" stroke="#262626" stroke-width="1.5" />
<text x="788.6" y="543.6" font-size="25" text-anchor="start" font-weight="normal" fill="#262626" letter-spacing="0.2">fly 6</text>
<path d="M122 947.5V903.35H130.32V947.5ZM130.32 947.5V876.86H138.64V947.5ZM138.64 947.5V823.88H146.96V947.5ZM146.96 947.5V876.86H155.28V947.5ZM155.28 947.5V859.2H163.6V947.5ZM163.6 947.5V850.37H171.92V947.5ZM171.92 947.5V885.69H180.24V947.5ZM180.24 947.5V885.69H188.56V947.5ZM188.56 947.5V894.52H196.88V947.5ZM196.88 947.5V841.54H205.2V947.5ZM205.2 947.5V876.86H213.52V947.5ZM213.52 947.5V921.01H221.84V947.5ZM221.84 947.5V868.03H230.16V947.5ZM230.16 947.5V859.2H238.48V947.5ZM238.48 947.5V885.69H246.8V947.5ZM246.8 947.5V885.69H255.12V947.5ZM255.12 947.5V876.86H263.44V947.5ZM263.44 947.5V876.86H271.76V947.5ZM271.76 947.5V850.37H280.08V947.5ZM280.08 947.5V823.88H288.4V947.5ZM288.4 947.5V859.2H296.72V947.5ZM296.72 947.5V823.88H305.04V947.5ZM305.04 947.5V779.73H313.36V947.5ZM313.36 947.5V885.69H321.68V947.5ZM321.68 947.5V823.88H330V947.5ZM330 947.5V868.03H338.32V947.5ZM338.32 947.5V876.86H346.64V947.5ZM346.64 947.5V859.2H354.96V947.5ZM354.96 947.5V850.37H363.28V947.5ZM363.28 947.5V868.03H371.6V947.5ZM371.6 947.5V894.52H379.92V947.5ZM379.92 947.5V832.71H388.24V947.5ZM388.24 947.5V832.71H396.56V947.5ZM396.56 947.5V815.05H404.88V947.5ZM404.88 947.5V850.37H413.2V947.5ZM413.2 947.5V885.69H421.52V947.5ZM421.52 947.5V868.03H429.84V947.5ZM429.84 947.5V832.71H438.16V947.5ZM438.16 947.5V815.05H446.48V947.5ZM446.48 947.5V859.2H454.8V947.5ZM454.8 947.5V859.2H463.12V947.5ZM463.12 947.5V903.35H471.44V947.5ZM471.44 947.5V876.86H479.76V947.5ZM479.76 947.5V929.84H488.08V947.5ZM488.08 947.5V841.54H496.4V947.5ZM496.4 947.5V912.18H504.72V947.5ZM504.72 947.5V806.22H513.04V947.5ZM513.04 947.5V815.05H521.36V947.5ZM521.36 947.5V823.88H529.68V947.5ZM529.68 947.5V868.03H538V947.5ZM538 947.5V885.69H546.32V947.5ZM546.32 947.5V903.35H554.64V947.5ZM554.64 947.5V885.69H562.96V947.5ZM562.96 947.5V885.69H571.28V947.5ZM571.28 947.5V921.01H579.6V947.5ZM579.6 947.5V876.86H587.92V947.5ZM587.92 947.5V885.69H596.24V947.5ZM596.24 947.5V859.2H604.56V947.5ZM604.56 947.5V912.18H612.88V947.5ZM612.88 947.5V859.2H621.2V947.5ZM621.2 947.5V938.67H629.52V947.5ZM629.52 947.5V894.52H637.84V947.5ZM637.84 947.5V912.18H646.16V947.5ZM646.16 947.5V921.01H654.48V947.5Z" fill="#a57ee6" fill-opacity="0.47" stroke="#1c1c1c" stroke-width="1.5"/>
<path d="M122 947.5V903.35H130.32V947.5ZM130.32 947.5V867.15H138.64V947.5ZM138.64 947.5V850.37H146.96V947.5ZM146.96 947.5V876.86H155.28V947.5ZM155.28 947.5V850.37H163.6V947.5ZM163.6 947.5V876.86H171.92V947.5ZM171.92 947.5V894.52H180.24V947.5ZM180.24 947.5V876.86H188.56V947.5ZM188.56 947.5V921.01H196.88V947.5ZM196.88 947.5V885.69H205.2V947.5ZM205.2 947.5V885.69H213.52V947.5ZM213.52 947.5V885.69H221.84V947.5ZM221.84 947.5V903.35H230.16V947.5ZM230.16 947.5V921.01H238.48V947.5ZM238.48 947.5V841.54H246.8V947.5ZM246.8 947.5V903.35H255.12V947.5ZM255.12 947.5V841.54H263.44V947.5ZM263.44 947.5V859.2H271.76V947.5ZM271.76 947.5V850.37H280.08V947.5ZM280.08 947.5V805.34H288.4V947.5ZM288.4 947.5V859.2H296.72V947.5ZM296.72 947.5V796.51H305.04V947.5ZM305.04 947.5V796.51H313.36V947.5ZM313.36 947.5V903.35H321.68V947.5ZM321.68 947.5V850.37H330V947.5ZM330 947.5V912.18H338.32V947.5ZM338.32 947.5V876.86H346.64V947.5ZM346.64 947.5V841.54H354.96V947.5ZM354.96 947.5V832.71H363.28V947.5ZM363.28 947.5V894.52H371.6V947.5ZM371.6 947.5V841.54H379.92V947.5ZM379.92 947.5V841.54H388.24V947.5ZM388.24 947.5V805.34H396.56V947.5ZM396.56 947.5V796.51H404.88V947.5ZM404.88 947.5V832.71H413.2V947.5ZM413.2 947.5V868.03H421.52V947.5ZM421.52 947.5V903.35H429.84V947.5ZM429.84 947.5V823.88H438.16V947.5ZM438.16 947.5V850.37H446.48V947.5ZM446.48 947.5V876.86H454.8V947.5ZM454.8 947.5V805.34H463.12V947.5ZM463.12 947.5V921.01H471.44V947.5ZM471.44 947.5V876.86H479.76V947.5ZM479.76 947.5V885.69H488.08V947.5ZM488.08 947.5V832.71H496.4V947.5ZM496.4 947.5V841.54H504.72V947.5ZM504.72 947.5V885.69H513.04V947.5ZM513.04 947.5V796.51H521.36V947.5ZM521.36 947.5V832.71H529.68V947.5ZM529.68 947.5V859.2H538V947.5ZM538 947.5V894.52H546.32V947.5ZM546.32 947.5V929.84H554.64V947.5ZM554.64 947.5V912.18H562.96V947.5ZM562.96 947.5V859.2H571.28V947.5ZM571.28 947.5V876.86H579.6V947.5ZM579.6 947.5V903.35H587.92V947.5ZM587.92 947.5V841.54H596.24V947.5ZM596.24 947.5V884.81H604.56V947.5ZM604.56 947.5V929.84H612.88V947.5ZM612.88 947.5V884.81H621.2V947.5ZM621.2 947.5V876.86H629.52V947.5ZM629.52 947.5V912.18H637.84V947.5ZM637.84 947.5V921.01H646.16V947.5ZM646.16 947.5V903.35H654.48V947.5Z" fill="#e6195d" fill-opacity="0.37"/>
<line x1="95" y1="770.9" x2="95" y2="947.5" stroke="#262626" stroke-width="1.5" />
<line x1="95" y1="947.5" x2="681.7" y2="947.5" stroke="#262626" stroke-width="1.5" />
<line x1="88.5" y1="947.5" x2="95" y2="947.5" stroke="#262626" stroke-width="1.5" />
<text x="85.1" y="956" font-size="22" text-anchor="end" font-weight="normal" fill="#262626" >0</text>
<line x1="88.5" y1="859.2" x2="95" y2="859.2" stroke="#262626" stroke-width="1.5" />
<text x="85.1" y="867.7" font-size="22" text-anchor="end" font-weight="normal" fill="#262626" >10</text>
<line x1="88.5" y1="770.9" x2="95" y2="770.9" stroke="#262626" stroke-width="1.5" />
<text x="85.1" y="779.4" font-size="22" text-anchor="end" font-weight="normal" fill="#262626" >20</text>
<line x1="88.5" y1="903.35" x2="95" y2="903.35" stroke="#262626" stroke-width="1.5" />
<line x1="88.5" y1="815.05" x2="95" y2="815.05" stroke="#262626" stroke-width="1.5" />
<line x1="134.6" y1="947.5" x2="134.6" y2="957.5" stroke="#262626" stroke-width="1.5" />
<line x1="218.6" y1="947.5" x2="218.6" y2="957.5" stroke="#262626" stroke-width="1.5" />
<line x1="302.6" y1="947.5" x2="302.6" y2="957.5" stroke="#262626" stroke-width="1.5" />
<line x1="386.6" y1="947.5" x2="386.6" y2="957.5" stroke="#262626" stroke-width="1.5" />
<line x1="470.6" y1="947.5" x2="470.6" y2="957.5" stroke="#262626" stroke-width="1.5" />
<line x1="554.6" y1="947.5" x2="554.6" y2="957.5" stroke="#262626" stroke-width="1.5" />
<line x1="638.6" y1="947.5" x2="638.6" y2="957.5" stroke="#262626" stroke-width="1.5" />
<text x="114.3" y="787.5" font-size="25" text-anchor="start" font-weight="normal" fill="#262626" letter-spacing="0.2">fly 7</text>
<text transform="translate(37.8 859.2) rotate(-90)" font-size="22" text-anchor="middle" fill="#262626">binned frequency</text>
<path d="M797.5 947.5V876.86H805.82V947.5ZM805.82 947.5V912.18H814.14V947.5ZM814.14 947.5V883.92H822.46V947.5ZM822.46 947.5V869.8H830.78V947.5ZM830.78 947.5V933.37H839.1V947.5ZM839.1 947.5V933.37H847.42V947.5ZM847.42 947.5V912.18H855.74V947.5ZM855.74 947.5V919.24H864.06V947.5ZM872.38 947.5V905.12H880.7V947.5ZM880.7 947.5V898.05H889.02V947.5ZM889.02 947.5V876.86H897.34V947.5ZM897.34 947.5V905.12H905.66V947.5ZM905.66 947.5V898.05H913.98V947.5ZM913.98 947.5V898.05H922.3V947.5ZM922.3 947.5V869.8H930.62V947.5ZM930.62 947.5V848.6H938.94V947.5ZM938.94 947.5V883.92H947.26V947.5ZM947.26 947.5V862.73H955.58V947.5ZM955.58 947.5V905.12H963.9V947.5ZM963.9 947.5V862.73H972.22V947.5ZM972.22 947.5V770.9H980.54V947.5ZM980.54 947.5V841.54H988.86V947.5ZM988.86 947.5V883.92H997.18V947.5ZM997.18 947.5V890.99H1005.5V947.5ZM1005.5 947.5V905.12H1013.82V947.5ZM1013.82 947.5V876.86H1022.14V947.5ZM1022.14 947.5V883.92H1030.46V947.5ZM1030.46 947.5V876.86H1038.78V947.5ZM1038.78 947.5V890.99H1047.1V947.5ZM1047.1 947.5V926.31H1055.42V947.5ZM1055.42 947.5V912.18H1063.74V947.5ZM1063.74 947.5V912.18H1072.06V947.5ZM1072.06 947.5V926.31H1080.38V947.5ZM1080.38 947.5V919.24H1088.7V947.5ZM1088.7 947.5V926.31H1097.02V947.5ZM1097.02 947.5V869.8H1105.34V947.5ZM1105.34 947.5V905.12H1113.66V947.5ZM1113.66 947.5V862.73H1121.98V947.5ZM1121.98 947.5V905.12H1130.3V947.5ZM1130.3 947.5V876.86H1138.62V947.5ZM1138.62 947.5V841.54H1146.94V947.5ZM1146.94 947.5V820.35H1155.26V947.5ZM1155.26 947.5V883.92H1163.58V947.5ZM1163.58 947.5V876.86H1171.9V947.5ZM1171.9 947.5V862.73H1180.22V947.5ZM1180.22 947.5V919.24H1188.54V947.5ZM1188.54 947.5V926.31H1196.86V947.5ZM1196.86 947.5V912.18H1205.18V947.5ZM1205.18 947.5V898.05H1213.5V947.5ZM1213.5 947.5V919.24H1221.82V947.5ZM1221.82 947.5V926.31H1230.14V947.5ZM1230.14 947.5V919.24H1238.46V947.5ZM1238.46 947.5V926.31H1246.78V947.5ZM1246.78 947.5V933.37H1255.1V947.5ZM1255.1 947.5V926.31H1263.42V947.5ZM1263.42 947.5V905.12H1271.74V947.5ZM1271.74 947.5V869.8H1280.06V947.5ZM1280.06 947.5V792.09H1288.38V947.5ZM1288.38 947.5V813.28H1296.7V947.5ZM1296.7 947.5V834.48H1305.02V947.5ZM1305.02 947.5V869.8H1313.34V947.5ZM1313.34 947.5V862.73H1321.66V947.5ZM1321.66 947.5V912.18H1329.98V947.5Z" fill="#a57ee6" fill-opacity="0.47" stroke="#1c1c1c" stroke-width="1.5"/>
<path d="M797.5 947.5V912.18H805.82V947.5ZM805.82 947.5V894.52H814.14V947.5ZM814.14 947.5V894.52H822.46V947.5ZM822.46 947.5V900.17H830.78V947.5ZM830.78 947.5V912.18H839.1V947.5ZM839.1 947.5V936.2H847.42V947.5ZM847.42 947.5V941.85H855.74V947.5ZM855.74 947.5V924.19H864.06V947.5ZM864.06 947.5V918.54H872.38V947.5ZM872.38 947.5V936.2H880.7V947.5ZM880.7 947.5V906.53H889.02V947.5ZM889.02 947.5V900.17H897.34V947.5ZM897.34 947.5V894.52H905.66V947.5ZM905.66 947.5V906.53H913.98V947.5ZM913.98 947.5V899.46H922.3V947.5ZM922.3 947.5V888.16H930.62V947.5ZM930.62 947.5V858.49H938.94V947.5ZM938.94 947.5V906.53H947.26V947.5ZM947.26 947.5V912.18H955.58V947.5ZM955.58 947.5V882.51H963.9V947.5ZM963.9 947.5V870.5H972.22V947.5ZM972.22 947.5V828.82H980.54V947.5ZM980.54 947.5V858.49H988.86V947.5ZM988.86 947.5V906.53H997.18V947.5ZM997.18 947.5V882.51H1005.5V947.5ZM1005.5 947.5V906.53H1013.82V947.5ZM1013.82 947.5V900.17H1022.14V947.5ZM1022.14 947.5V876.86H1030.46V947.5ZM1030.46 947.5V888.16H1038.78V947.5ZM1038.78 947.5V906.53H1047.1V947.5ZM1047.1 947.5V929.84H1055.42V947.5ZM1055.42 947.5V918.54H1063.74V947.5ZM1063.74 947.5V912.18H1072.06V947.5ZM1072.06 947.5V936.2H1080.38V947.5ZM1080.38 947.5V924.19H1088.7V947.5ZM1088.7 947.5V936.2H1097.02V947.5ZM1097.02 947.5V900.17H1105.34V947.5ZM1105.34 947.5V905.12H1113.66V947.5ZM1113.66 947.5V888.16H1121.98V947.5ZM1121.98 947.5V882.51H1130.3V947.5ZM1130.3 947.5V906.53H1138.62V947.5ZM1138.62 947.5V852.84H1146.94V947.5ZM1146.94 947.5V859.2H1155.26V947.5ZM1155.26 947.5V894.52H1163.58V947.5ZM1163.58 947.5V847.19H1171.9V947.5ZM1171.9 947.5V876.86H1180.22V947.5ZM1180.22 947.5V919.24H1188.54V947.5ZM1188.54 947.5V918.54H1196.86V947.5ZM1196.86 947.5V912.18H1205.18V947.5ZM1205.18 947.5V918.54H1213.5V947.5ZM1213.5 947.5V929.84H1221.82V947.5ZM1221.82 947.5V929.84H1230.14V947.5ZM1230.14 947.5V912.18H1238.46V947.5ZM1238.46 947.5V936.2H1246.78V947.5ZM1246.78 947.5V936.2H1255.1V947.5ZM1255.1 947.5V936.2H1263.42V947.5ZM1263.42 947.5V918.54H1271.74V947.5ZM1271.74 947.5V869.8H1280.06V947.5ZM1280.06 947.5V840.83H1288.38V947.5ZM1288.38 947.5V782.2H1296.7V947.5ZM1296.7 947.5V852.84H1305.02V947.5ZM1305.02 947.5V894.52H1313.34V947.5ZM1313.34 947.5V894.52H1321.66V947.5ZM1321.66 947.5V912.18H1329.98V947.5Z" fill="#e6195d" fill-opacity="0.37"/>
<line x1="771" y1="770.9" x2="771" y2="947.5" stroke="#262626" stroke-width="1.5" />
<line x1="771" y1="947.5" x2="1357.2" y2="947.5" stroke="#262626" stroke-width="1.5" />
<line x1="764.5" y1="947.5" x2="771" y2="947.5" stroke="#262626" stroke-width="1.5" />
<text x="759.7" y="956" font-size="22" text-anchor="end" font-weight="normal" fill="#262626" >0</text>
<line x1="764.5" y1="876.86" x2="771" y2="876.86" stroke="#262626" stroke-width="1.5" />
<text x="759.7" y="885.36" font-size="22" text-anchor="end" font-weight="normal" fill="#262626" >10</text>
<line x1="764.5" y1="806.22" x2="771" y2="806.22" stroke="#262626" stroke-width="1.5" />
<text x="759.7" y="814.72" font-size="22" text-anchor="end" font-weight="normal" fill="#262626" >20</text>
<line x1="764.5" y1="912.18" x2="771" y2="912.18" stroke="#262626" stroke-width="1.5" />
<line x1="764.5" y1="841.54" x2="771" y2="841.54" stroke="#262626" stroke-width="1.5" />
<line x1="764.5" y1="770.9" x2="771" y2="770.9" stroke="#262626" stroke-width="1.5" />
<line x1="810.1" y1="947.5" x2="810.1" y2="957.5" stroke="#262626" stroke-width="1.5" />
<line x1="894.1" y1="947.5" x2="894.1" y2="957.5" stroke="#262626" stroke-width="1.5" />
<line x1="978.1" y1="947.5" x2="978.1" y2="957.5" stroke="#262626" stroke-width="1.5" />
<line x1="1062.1" y1="947.5" x2="1062.1" y2="957.5" stroke="#262626" stroke-width="1.5" />
<line x1="1146.1" y1="947.5" x2="1146.1" y2="957.5" stroke="#262626" stroke-width="1.5" />
<line x1="1230.1" y1="947.5" x2="1230.1" y2="957.5" stroke="#262626" stroke-width="1.5" />
<line x1="1314.1" y1="947.5" x2="1314.1" y2="957.5" stroke="#262626" stroke-width="1.5" />
<text x="788.6" y="787.5" font-size="25" text-anchor="start" font-weight="normal" fill="#262626" letter-spacing="0.2">fly 8</text>
<path d="M122 1190V1178.13H130.32V1190ZM130.32 1190V1130.67H138.64V1190ZM138.64 1190V1166.27H146.96V1190ZM146.96 1190V1166.27H155.28V1190ZM155.28 1190V1178.13H163.6V1190ZM163.6 1190V1166.27H171.92V1190ZM171.92 1190V1118.8H180.24V1190ZM180.24 1190V1166.27H188.56V1190ZM188.56 1190V1166.27H196.88V1190ZM196.88 1190V1154.4H205.2V1190ZM205.2 1190V1166.27H213.52V1190ZM213.52 1190V1166.27H221.84V1190ZM221.84 1190V1166.27H230.16V1190ZM230.16 1190V1166.27H238.48V1190ZM238.48 1190V1130.67H246.8V1190ZM246.8 1190V1142.53H255.12V1190ZM255.12 1190V1166.27H263.44V1190ZM263.44 1190V1154.4H271.76V1190ZM271.76 1190V1142.53H280.08V1190ZM280.08 1190V1178.13H288.4V1190ZM288.4 1190V1178.13H296.72V1190ZM296.72 1190V1083.2H305.04V1190ZM305.04 1190V1106.93H313.36V1190ZM313.36 1190V1118.8H321.68V1190ZM321.68 1190V1166.27H330V1190ZM330 1190V1095.07H338.32V1190ZM338.32 1190V1118.8H346.64V1190ZM346.64 1190V1071.33H354.96V1190ZM354.96 1190V1095.07H363.28V1190ZM363.28 1190V1130.67H371.6V1190ZM371.6 1190V1130.67H379.92V1190ZM379.92 1190V1047.6H388.24V1190ZM388.24 1190V1083.2H396.56V1190ZM396.56 1190V1118.8H404.88V1190ZM404.88 1190V1142.53H413.2V1190ZM413.2 1190V1083.2H421.52V1190ZM421.52 1190V1083.2H429.84V1190ZM429.84 1190V1154.4H438.16V1190ZM438.16 1190V1154.4H446.48V1190ZM446.48 1190V1106.93H454.8V1190ZM454.8 1190V1071.33H463.12V1190ZM463.12 1190V1071.33H471.44V1190ZM471.44 1190V1071.33H479.76V1190ZM479.76 1190V1071.33H488.08V1190ZM488.08 1190V1047.6H496.4V1190ZM496.4 1190V1130.67H504.72V1190ZM504.72 1190V1095.07H513.04V1190ZM513.04 1190V1023.87H521.36V1190ZM521.36 1190V1071.33H529.68V1190ZM529.68 1190V1106.93H538V1190ZM538 1190V1166.27H546.32V1190ZM546.32 1190V1154.4H554.64V1190ZM554.64 1190V1118.8H562.96V1190ZM562.96 1190V1166.27H571.28V1190ZM571.28 1190V1166.27H579.6V1190ZM579.6 1190V1166.27H587.92V1190ZM587.92 1190V1166.27H596.24V1190ZM596.24 1190V1154.4H604.56V1190ZM604.56 1190V1154.4H612.88V1190ZM612.88 1190V1166.27H621.2V1190ZM621.2 1190V1166.27H629.52V1190ZM637.84 1190V1142.53H646.16V1190ZM646.16 1190V1178.13H654.48V1190Z" fill="#a57ee6" fill-opacity="0.47" stroke="#1c1c1c" stroke-width="1.5"/>
<path d="M122 1190V1106.93H130.32V1190ZM138.64 1190V1176.95H146.96V1190ZM146.96 1190V1142.53H155.28V1190ZM155.28 1190V1166.27H163.6V1190ZM163.6 1190V1166.27H171.92V1190ZM171.92 1190V1165.08H180.24V1190ZM180.24 1190V1176.95H188.56V1190ZM188.56 1190V1118.8H196.88V1190ZM196.88 1190V1154.4H205.2V1190ZM205.2 1190V1166.27H213.52V1190ZM213.52 1190V1153.21H221.84V1190ZM221.84 1190V1166.27H230.16V1190ZM230.16 1190V1153.21H238.48V1190ZM238.48 1190V1130.67H246.8V1190ZM246.8 1190V1153.21H255.12V1190ZM255.12 1190V1176.95H263.44V1190ZM263.44 1190V1165.08H271.76V1190ZM271.76 1190V1153.21H280.08V1190ZM280.08 1190V1178.13H288.4V1190ZM288.4 1190V1153.21H296.72V1190ZM296.72 1190V1130.67H305.04V1190ZM305.04 1190V1165.08H313.36V1190ZM313.36 1190V1106.93H321.68V1190ZM321.68 1190V1083.2H330V1190ZM330 1190V1095.07H338.32V1190ZM338.32 1190V1083.2H346.64V1190ZM346.64 1190V1117.61H354.96V1190ZM354.96 1190V1095.07H363.28V1190ZM363.28 1190V1176.95H371.6V1190ZM371.6 1190V1059.47H379.92V1190ZM379.92 1190V1047.6H388.24V1190ZM388.24 1190V1142.53H396.56V1190ZM396.56 1190V1118.8H404.88V1190ZM404.88 1190V1142.53H413.2V1190ZM413.2 1190V1071.33H421.52V1190ZM421.52 1190V1059.47H429.84V1190ZM429.84 1190V1154.4H438.16V1190ZM438.16 1190V1130.67H446.48V1190ZM446.48 1190V1106.93H454.8V1190ZM454.8 1190V1071.33H463.12V1190ZM463.12 1190V1035.73H471.44V1190ZM471.44 1190V1071.33H479.76V1190ZM479.76 1190V1035.73H488.08V1190ZM488.08 1190V1105.75H496.4V1190ZM496.4 1190V1071.33H504.72V1190ZM504.72 1190V1095.07H513.04V1190ZM513.04 1190V1095.07H521.36V1190ZM521.36 1190V1071.33H529.68V1190ZM529.68 1190V1035.73H538V1190ZM538 1190V1130.67H546.32V1190ZM546.32 1190V1165.08H554.64V1190ZM554.64 1190V1165.08H562.96V1190ZM562.96 1190V1176.95H571.28V1190ZM571.28 1190V1166.27H579.6V1190ZM579.6 1190V1153.21H587.92V1190ZM587.92 1190V1166.27H596.24V1190ZM596.24 1190V1142.53H604.56V1190ZM621.2 1190V1176.95H629.52V1190ZM629.52 1190V1176.95H637.84V1190ZM637.84 1190V1176.95H646.16V1190ZM646.16 1190V1165.08H654.48V1190Z" fill="#e6195d" fill-opacity="0.37"/>
<line x1="95" y1="1012" x2="95" y2="1190" stroke="#262626" stroke-width="1.5" />
<line x1="95" y1="1190" x2="681.7" y2="1190" stroke="#262626" stroke-width="1.5" />
<line x1="88.5" y1="1190" x2="95" y2="1190" stroke="#262626" stroke-width="1.5" />
<text x="85.1" y="1198.5" font-size="22" text-anchor="end" font-weight="normal" fill="#262626" >0</text>
<line x1="88.5" y1="1130.67" x2="95" y2="1130.67" stroke="#262626" stroke-width="1.5" />
<text x="85.1" y="1139.17" font-size="22" text-anchor="end" font-weight="normal" fill="#262626" >5</text>
<line x1="88.5" y1="1071.33" x2="95" y2="1071.33" stroke="#262626" stroke-width="1.5" />
<text x="85.1" y="1079.83" font-size="22" text-anchor="end" font-weight="normal" fill="#262626" >10</text>
<line x1="88.5" y1="1012" x2="95" y2="1012" stroke="#262626" stroke-width="1.5" />
<text x="85.1" y="1020.5" font-size="22" text-anchor="end" font-weight="normal" fill="#262626" >15</text>
<line x1="134.6" y1="1190" x2="134.6" y2="1200" stroke="#262626" stroke-width="1.5" />
<text x="130" y="1226.6" font-size="22" text-anchor="middle" font-weight="normal" fill="#262626" >-3</text>
<line x1="218.6" y1="1190" x2="218.6" y2="1200" stroke="#262626" stroke-width="1.5" />
<text x="214.5" y="1226.6" font-size="22" text-anchor="middle" font-weight="normal" fill="#262626" >-2</text>
<line x1="302.6" y1="1190" x2="302.6" y2="1200" stroke="#262626" stroke-width="1.5" />
<text x="298.7" y="1226.6" font-size="22" text-anchor="middle" font-weight="normal" fill="#262626" >-1</text>
<line x1="386.6" y1="1190" x2="386.6" y2="1200" stroke="#262626" stroke-width="1.5" />
<text x="388.8" y="1226.6" font-size="22" text-anchor="middle" font-weight="normal" fill="#262626" >0</text>
<line x1="470.6" y1="1190" x2="470.6" y2="1200" stroke="#262626" stroke-width="1.5" />
<text x="467.5" y="1226.6" font-size="22" text-anchor="middle" font-weight="normal" fill="#262626" >1</text>
<line x1="554.6" y1="1190" x2="554.6" y2="1200" stroke="#262626" stroke-width="1.5" />
<text x="554.8" y="1226.6" font-size="22" text-anchor="middle" font-weight="normal" fill="#262626" >2</text>
<line x1="638.6" y1="1190" x2="638.6" y2="1200" stroke="#262626" stroke-width="1.5" />
<text x="636.7" y="1226.6" font-size="22" text-anchor="middle" font-weight="normal" fill="#262626" >3</text>
<text x="114.3" y="1024.6" font-size="25" text-anchor="start" font-weight="normal" fill="#262626" letter-spacing="0.2">fly 9</text>
<text transform="translate(37.8 1101) rotate(-90)" font-size="22" text-anchor="middle" fill="#262626">binned frequency</text>
<path d="M797.5 1190V1112.87H805.82V1190ZM805.82 1190V1112.87H814.14V1190ZM814.14 1190V1118.8H822.46V1190ZM822.46 1190V1154.4H830.78V1190ZM830.78 1190V1124.73H839.1V1190ZM839.1 1190V1095.07H847.42V1190ZM847.42 1190V1077.27H855.74V1190ZM855.74 1190V1035.73H864.06V1190ZM864.06 1190V1106.93H872.38V1190ZM872.38 1190V1106.93H880.7V1190ZM880.7 1190V1053.53H889.02V1190ZM889.02 1190V1077.27H897.34V1190ZM897.34 1190V1077.27H905.66V1190ZM905.66 1190V1059.47H913.98V1190ZM913.98 1190V1017.93H922.3V1190ZM922.3 1190V1029.8H930.62V1190ZM930.62 1190V1077.27H938.94V1190ZM938.94 1190V1089.13H947.26V1190ZM947.26 1190V1071.33H955.58V1190ZM955.58 1190V1089.13H963.9V1190ZM963.9 1190V1065.4H972.22V1190ZM972.22 1190V1053.53H980.54V1190ZM980.54 1190V1083.2H988.86V1190ZM988.86 1190V1077.27H997.18V1190ZM997.18 1190V1095.07H1005.5V1190ZM1005.5 1190V1065.4H1013.82V1190ZM1013.82 1190V1083.2H1022.14V1190ZM1022.14 1190V1047.6H1030.46V1190ZM1030.46 1190V1065.4H1038.78V1190ZM1038.78 1190V1047.6H1047.1V1190ZM1047.1 1190V1118.8H1055.42V1190ZM1055.42 1190V1053.53H1063.74V1190ZM1063.74 1190V1130.67H1072.06V1190ZM1072.06 1190V1130.67H1080.38V1190ZM1080.38 1190V1029.8H1088.7V1190ZM1088.7 1190V1095.07H1097.02V1190ZM1097.02 1190V1118.8H1105.34V1190ZM1105.34 1190V1124.73H1113.66V1190ZM1113.66 1190V1148.47H1121.98V1190ZM1121.98 1190V1148.47H1130.3V1190ZM1130.3 1190V1106.93H1138.62V1190ZM1138.62 1190V1142.53H1146.94V1190ZM1146.94 1190V1083.2H1155.26V1190ZM1155.26 1190V1154.4H1163.58V1190ZM1163.58 1190V1089.13H1171.9V1190ZM1171.9 1190V1112.87H1180.22V1190ZM1180.22 1190V1154.4H1188.54V1190ZM1188.54 1190V1118.8H1196.86V1190ZM1196.86 1190V1124.73H1205.18V1190ZM1205.18 1190V1142.53H1213.5V1190ZM1213.5 1190V1112.87H1221.82V1190ZM1221.82 1190V1118.8H1230.14V1190ZM1230.14 1190V1112.87H1238.46V1190ZM1238.46 1190V1130.67H1246.78V1190ZM1246.78 1190V1160.33H1255.1V1190ZM1255.1 1190V1101H1263.42V1190ZM1263.42 1190V1118.8H1271.74V1190ZM1271.74 1190V1124.73H1280.06V1190ZM1280.06 1190V1166.27H1288.38V1190ZM1288.38 1190V1136.6H1296.7V1190ZM1296.7 1190V1136.6H1305.02V1190ZM1305.02 1190V1118.8H1313.34V1190ZM1313.34 1190V1130.67H1321.66V1190ZM1321.66 1190V1160.33H1329.98V1190Z" fill="#a57ee6" fill-opacity="0.47" stroke="#1c1c1c" stroke-width="1.5"/>
<path d="M797.5 1190V1100.41H805.82V1190ZM805.82 1190V1100.41H814.14V1190ZM814.14 1190V1136.01H822.46V1190ZM822.46 1190V1112.27H830.78V1190ZM830.78 1190V1136.01H839.1V1190ZM839.1 1190V1112.27H847.42V1190ZM847.42 1190V1071.33H855.74V1190ZM855.74 1190V1118.21H864.06V1190ZM864.06 1190V1106.93H872.38V1190ZM872.38 1190V1100.41H880.7V1190ZM880.7 1190V1112.27H889.02V1190ZM889.02 1190V1094.47H897.34V1190ZM897.34 1190V1094.47H905.66V1190ZM905.66 1190V1088.54H913.98V1190ZM913.98 1190V1076.67H922.3V1190ZM922.3 1190V1076.67H930.62V1190ZM930.62 1190V1083.2H938.94V1190ZM938.94 1190V1071.33H947.26V1190ZM947.26 1190V1083.2H955.58V1190ZM955.58 1190V1053.53H963.9V1190ZM963.9 1190V1094.47H972.22V1190ZM972.22 1190V1059.47H980.54V1190ZM980.54 1190V1030.39H988.86V1190ZM988.86 1190V1083.2H997.18V1190ZM997.18 1190V1023.87H1005.5V1190ZM1005.5 1190V1083.2H1013.82V1190ZM1013.82 1190V1065.4H1022.14V1190ZM1022.14 1190V1076.67H1030.46V1190ZM1030.46 1190V1094.47H1038.78V1190ZM1038.78 1190V1071.33H1047.1V1190ZM1047.1 1190V1018.53H1055.42V1190ZM1055.42 1190V1130.07H1063.74V1190ZM1063.74 1190V1065.4H1072.06V1190ZM1072.06 1190V1118.21H1080.38V1190ZM1080.38 1190V1018.53H1088.7V1190ZM1088.7 1190V1095.66H1097.02V1190ZM1097.02 1190V1100.41H1105.34V1190ZM1105.34 1190V1118.21H1113.66V1190ZM1113.66 1190V1153.81H1121.98V1190ZM1121.98 1190V1094.47H1130.3V1190ZM1130.3 1190V1100.41H1138.62V1190ZM1138.62 1190V1159.74H1146.94V1190ZM1146.94 1190V1100.41H1155.26V1190ZM1155.26 1190V1130.07H1163.58V1190ZM1163.58 1190V1124.14H1171.9V1190ZM1171.9 1190V1088.54H1180.22V1190ZM1180.22 1190V1141.94H1188.54V1190ZM1188.54 1190V1130.07H1196.86V1190ZM1196.86 1190V1106.34H1205.18V1190ZM1205.18 1190V1130.07H1213.5V1190ZM1213.5 1190V1112.87H1221.82V1190ZM1221.82 1190V1153.21H1230.14V1190ZM1230.14 1190V1112.87H1238.46V1190ZM1238.46 1190V1136.01H1246.78V1190ZM1246.78 1190V1106.34H1255.1V1190ZM1255.1 1190V1112.27H1263.42V1190ZM1263.42 1190V1112.27H1271.74V1190ZM1271.74 1190V1136.01H1280.06V1190ZM1280.06 1190V1136.01H1288.38V1190ZM1288.38 1190V1130.07H1296.7V1190ZM1296.7 1190V1136.01H1305.02V1190ZM1305.02 1190V1112.27H1313.34V1190ZM1313.34 1190V1118.21H1321.66V1190ZM1321.66 1190V1153.21H1329.98V1190Z" fill="#e6195d" fill-opacity="0.37"/>
<line x1="771" y1="1012" x2="771" y2="1190" stroke="#262626" stroke-width="1.5" />
<line x1="771" y1="1190" x2="1357.2" y2="1190" stroke="#262626" stroke-width="1.5" />
<line x1="764.5" y1="1190" x2="771" y2="1190" stroke="#262626" stroke-width="1.5" />
<text x="759.7" y="1198.5" font-size="22" text-anchor="end" font-weight="normal" fill="#262626" >0</text>
<line x1="764.5" y1="1130.67" x2="771" y2="1130.67" stroke="#262626" stroke-width="1.5" />
<text x="759.7" y="1139.17" font-size="22" text-anchor="end" font-weight="normal" fill="#262626" >10</text>
<line x1="764.5" y1="1071.33" x2="771" y2="1071.33" stroke="#262626" stroke-width="1.5" />
<text x="759.7" y="1079.83" font-size="22" text-anchor="end" font-weight="normal" fill="#262626" >20</text>
<line x1="764.5" y1="1012" x2="771" y2="1012" stroke="#262626" stroke-width="1.5" />
<text x="759.7" y="1020.5" font-size="22" text-anchor="end" font-weight="normal" fill="#262626" >30</text>
<line x1="810.1" y1="1190" x2="810.1" y2="1200" stroke="#262626" stroke-width="1.5" />
<text x="807.6" y="1226.6" font-size="22" text-anchor="middle" font-weight="normal" fill="#262626" >-3</text>
<line x1="894.1" y1="1190" x2="894.1" y2="1200" stroke="#262626" stroke-width="1.5" />
<text x="892.6" y="1226.6" font-size="22" text-anchor="middle" font-weight="normal" fill="#262626" >-2</text>
<line x1="978.1" y1="1190" x2="978.1" y2="1200" stroke="#262626" stroke-width="1.5" />
<text x="977" y="1226.6" font-size="22" text-anchor="middle" font-weight="normal" fill="#262626" >-1</text>
<line x1="1062.1" y1="1190" x2="1062.1" y2="1200" stroke="#262626" stroke-width="1.5" />
<text x="1060.2" y="1226.6" font-size="22" text-anchor="middle" font-weight="normal" fill="#262626" >0</text>
<line x1="1146.1" y1="1190" x2="1146.1" y2="1200" stroke="#262626" stroke-width="1.5" />
<text x="1145.8" y="1226.6" font-size="22" text-anchor="middle" font-weight="normal" fill="#262626" >1</text>
<line x1="1230.1" y1="1190" x2="1230.1" y2="1200" stroke="#262626" stroke-width="1.5" />
<text x="1229.7" y="1226.6" font-size="22" text-anchor="middle" font-weight="normal" fill="#262626" >2</text>
<line x1="1314.1" y1="1190" x2="1314.1" y2="1200" stroke="#262626" stroke-width="1.5" />
<text x="1314.6" y="1226.6" font-size="22" text-anchor="middle" font-weight="normal" fill="#262626" >3</text>
<text x="788.6" y="1024.6" font-size="25" text-anchor="start" font-weight="normal" fill="#262626" letter-spacing="0.2">fly 10</text>
<text x="391.9" y="1261.6" font-size="22" text-anchor="middle" font-weight="normal" fill="#262626" >bump orientation (rad)</text>
<text x="1055.6" y="1261.5" font-size="22" text-anchor="middle" font-weight="normal" fill="#262626" >bump orientation (rad)</text>
<rect x="525" y="34" width="149.5" height="57.3" fill="#fff" stroke="#000" stroke-width="1.8"/>
<rect x="534.3" y="43.4" width="27.7" height="14.7" fill="#a87fe2" stroke="#111" stroke-width="1.6"/>
<rect x="534.1" y="67.3" width="27.7" height="15" fill="#f8b0c4"/>
<text x="572.5" y="57.5" font-size="22" text-anchor="start" font-weight="normal" fill="#262626" >beginning</text>
<text x="572.5" y="81.3" font-size="22" text-anchor="start" font-weight="normal" fill="#262626" >end</text>
<text x="-1" y="28.8" font-size="44" text-anchor="start" font-weight="bold" fill="#000" >a</text>
<path d="M1564.7 44.6V221.2M1603.2 44.6V221.2M1641.7 44.6V221.2M1680.2 44.6V221.2M1718.7 44.6V221.2M1757.2 44.6V221.2M1795.7 44.6V221.2M1526.2 185.88H1834.2M1526.2 150.56H1834.2M1526.2 115.24H1834.2M1526.2 79.92H1834.2" stroke="#d0d0d0" stroke-width="1.3" fill="none"/>
<path d="M1559.25 221.2 L1563.03 219.66 L1566.81 216.96 L1570.59 214.84 L1574.37 212.91 L1578.15 211.75 L1581.93 210.4 L1585.71 208.48 L1589.49 206.16 L1593.27 204.43 L1597.05 201.15 L1600.83 197.49 L1604.61 194.79 L1608.39 192.86 L1612.16 190.93 L1615.94 188.04 L1619.72 186.3 L1623.5 184.18 L1627.28 182.06 L1631.06 179.94 L1634.84 177.44 L1638.62 175.31 L1642.4 173 L1646.18 171.65 L1649.96 167.99 L1653.74 163.75 L1657.52 160.66 L1661.3 157.38 L1665.08 155.07 L1668.86 151.22 L1672.64 147.55 L1676.42 143.5 L1680.2 137.72 L1683.98 132.71 L1687.76 128.66 L1691.54 124.03 L1695.32 118.83 L1699.1 114.58 L1702.88 109.96 L1706.66 105.33 L1710.44 101.47 L1714.22 96.85 L1718 93.38 L1721.78 90.29 L1725.56 86.63 L1729.34 84.51 L1733.12 81.42 L1736.9 78.72 L1740.68 75.06 L1744.46 72.36 L1748.24 69.66 L1752.01 67.74 L1755.79 66.39 L1759.57 65.04 L1763.35 62.53 L1767.13 60.22 L1770.91 59.45 L1774.69 57.13 L1778.47 55.97 L1782.25 53.85 L1786.03 52.12 L1789.81 51.16 L1793.59 48.65 L1797.37 45.37 L1801.15 44.6" stroke="#4a00cc" stroke-width="3.8" fill="none" stroke-linejoin="round" stroke-linecap="round"/>
<path d="M1559.25 221.2 L1563.03 218.89 L1566.81 216.78 L1570.59 215.65 L1574.37 214.12 L1578.15 213.55 L1581.93 211.04 L1585.71 210.28 L1589.49 207.97 L1593.27 205.06 L1597.05 202.38 L1600.83 199.12 L1604.61 197.58 L1608.39 194.67 L1612.16 192.74 L1615.94 190.43 L1619.72 188.12 L1623.5 186.99 L1627.28 185.26 L1631.06 183.73 L1634.84 182.4 L1638.62 181.27 L1642.4 178.59 L1646.18 175.3 L1649.96 171.23 L1653.74 168.55 L1657.52 164.86 L1661.3 161.6 L1665.08 158.54 L1668.86 154.87 L1672.64 150.4 L1676.42 146.74 L1680.2 142.1 L1683.98 136.65 L1687.76 129.47 L1691.54 122.85 L1695.32 117.83 L1699.1 114.57 L1702.88 110.3 L1706.66 106.81 L1710.44 101.37 L1714.22 97.3 L1718 93.61 L1721.78 89.92 L1725.56 87.61 L1729.34 84.73 L1733.12 79.71 L1736.9 76.62 L1740.68 73.74 L1744.46 70.85 L1748.24 67.59 L1752.01 65.66 L1755.79 63.17 L1759.57 61.06 L1763.35 60.31 L1767.13 58.58 L1770.91 56.85 L1774.69 56.09 L1778.47 55.52 L1782.25 54.19 L1786.03 52.86 L1789.81 51.12 L1793.59 48.64 L1797.37 46.91 L1801.15 44.6" stroke="#e8003c" stroke-width="3.8" fill="none" stroke-linejoin="round" stroke-linecap="round"/>
<rect x="1526.2" y="44.6" width="308" height="176.6" fill="none" stroke="#262626" stroke-width="1.6"/>
<text transform="translate(1645 29.5) scale(1 1.09)" font-size="24.5" letter-spacing="0.6" fill="#262626">fly 1</text>
<text x="1519.7" y="228.7" font-size="22" text-anchor="end" font-weight="normal" fill="#262626" >0</text>
<text x="1519.7" y="193.38" font-size="22" text-anchor="end" font-weight="normal" fill="#262626" >0.2</text>
<text x="1519.7" y="158.06" font-size="22" text-anchor="end" font-weight="normal" fill="#262626" >0.4</text>
<text x="1519.7" y="122.74" font-size="22" text-anchor="end" font-weight="normal" fill="#262626" >0.6</text>
<text x="1519.7" y="87.42" font-size="22" text-anchor="end" font-weight="normal" fill="#262626" >0.8</text>
<text x="1519.7" y="52.1" font-size="22" text-anchor="end" font-weight="normal" fill="#262626" >1</text>
<text transform="translate(1477.2 132.9) rotate(-90)" font-size="22" text-anchor="middle" fill="#262626">CDF</text>
<path d="M1897.2 44.6V221.2M1935.7 44.6V221.2M1974.2 44.6V221.2M2012.7 44.6V221.2M2051.2 44.6V221.2M2089.7 44.6V221.2M2128.2 44.6V221.2M1858.7 185.88H2166.7M1858.7 150.56H2166.7M1858.7 115.24H2166.7M1858.7 79.92H2166.7" stroke="#d0d0d0" stroke-width="1.3" fill="none"/>
<path d="M1891.75 221.2 L1895.53 218.92 L1899.31 215.4 L1903.09 211.18 L1906.87 208.72 L1910.65 207.32 L1914.43 204.86 L1918.21 202.57 L1921.99 199.76 L1925.77 196.25 L1929.55 193.96 L1933.33 191.15 L1937.11 188.34 L1940.89 185.88 L1944.66 182.37 L1948.44 180.96 L1952.22 177.09 L1956 176.04 L1959.78 173.58 L1963.56 172 L1967.34 169.36 L1971.12 168.13 L1974.9 166.55 L1978.68 164.79 L1982.46 162.51 L1986.24 160.4 L1990.02 158.29 L1993.8 156.01 L1997.58 153.37 L2001.36 150.56 L2005.14 147.57 L2008.92 143.88 L2012.7 142.83 L2016.48 141.6 L2020.26 138.44 L2024.04 134.92 L2027.82 131.23 L2031.6 128.59 L2035.38 124.38 L2039.16 119.63 L2042.94 114.54 L2046.72 112.08 L2050.5 108.04 L2054.28 103.64 L2058.06 100.48 L2061.84 97.49 L2065.62 93.98 L2069.4 89.76 L2073.18 86.77 L2076.96 82.2 L2080.74 79.39 L2084.51 76.76 L2088.29 74.47 L2092.07 72.01 L2095.85 69.2 L2099.63 66.92 L2103.41 64.28 L2107.19 61.47 L2110.97 59.36 L2114.75 57.43 L2118.53 54.62 L2122.31 52.68 L2126.09 48.64 L2129.87 46.18 L2133.65 44.6" stroke="#4a00cc" stroke-width="3.8" fill="none" stroke-linejoin="round" stroke-linecap="round"/>
<path d="M1891.75 221.2 L1895.53 218.05 L1899.31 214.73 L1903.09 211.23 L1906.87 208.94 L1910.65 206.99 L1914.43 204.87 L1918.21 202.06 L1921.99 199.76 L1925.77 197.13 L1929.55 193.81 L1933.33 191.18 L1937.11 188.54 L1940.89 185.73 L1944.66 183.09 L1948.44 181.14 L1952.22 177.82 L1956 176.23 L1959.78 173.41 L1963.56 171.12 L1967.34 169 L1971.12 168.11 L1974.9 165.99 L1978.68 164.91 L1982.46 162.8 L1986.24 160.85 L1990.02 158.21 L1993.8 155.92 L1997.58 153.96 L2001.36 150.81 L2005.14 148.33 L2008.92 144.14 L2012.7 142.88 L2016.48 140.25 L2020.26 137.61 L2024.04 133.6 L2027.82 130.96 L2031.6 127.11 L2035.38 123.26 L2039.16 117.88 L2042.94 114.19 L2046.72 110.87 L2050.5 107.73 L2054.28 104.6 L2058.06 101.1 L2061.84 98.29 L2065.62 94.09 L2069.4 89.72 L2073.18 85.52 L2076.96 81.83 L2080.74 79.2 L2084.51 76.38 L2088.29 73.91 L2092.07 70.05 L2095.85 67.42 L2099.63 65.82 L2103.41 62.83 L2107.19 60.2 L2110.97 59.3 L2114.75 57.86 L2118.53 55.39 L2122.31 52.4 L2126.09 48.36 L2129.87 45.85 L2133.65 44.6" stroke="#e8003c" stroke-width="3.8" fill="none" stroke-linejoin="round" stroke-linecap="round"/>
<rect x="1858.7" y="44.6" width="308" height="176.6" fill="none" stroke="#262626" stroke-width="1.6"/>
<text transform="translate(1962.5 29.5) scale(1 1.09)" font-size="24.5" letter-spacing="0.6" fill="#262626">fly 2</text>
<path d="M1564.7 286.4V462.9M1603.2 286.4V462.9M1641.7 286.4V462.9M1680.2 286.4V462.9M1718.7 286.4V462.9M1757.2 286.4V462.9M1795.7 286.4V462.9M1526.2 427.6H1834.2M1526.2 392.3H1834.2M1526.2 357H1834.2M1526.2 321.7H1834.2" stroke="#d0d0d0" stroke-width="1.3" fill="none"/>
<path d="M1559.25 462.9 L1563.03 459.52 L1566.81 457.19 L1570.59 452.54 L1574.37 447.89 L1578.15 445.14 L1581.93 441.76 L1585.71 440.07 L1589.49 438.17 L1593.27 436.9 L1597.05 435.42 L1600.83 432.67 L1604.61 430.14 L1608.39 428.23 L1612.16 426.12 L1615.94 423.16 L1619.72 420.62 L1623.5 419.14 L1627.28 415.55 L1631.06 413.65 L1634.84 411.75 L1638.62 409 L1642.4 407.73 L1646.18 405.19 L1649.96 403.08 L1653.74 400.33 L1657.52 396.53 L1661.3 391.88 L1665.08 388.28 L1668.86 384.06 L1672.64 378.14 L1676.42 372.01 L1680.2 365.67 L1683.98 362.5 L1687.76 360.17 L1691.54 357.63 L1695.32 355.52 L1699.1 353.41 L1702.88 350.02 L1706.66 348.33 L1710.44 347.28 L1714.22 345.8 L1718 344.32 L1721.78 342.63 L1725.56 339.67 L1729.34 336.71 L1733.12 334.59 L1736.9 333.33 L1740.68 330.79 L1744.46 328.89 L1748.24 326.35 L1752.01 322.33 L1755.79 320.22 L1759.57 316.84 L1763.35 313.03 L1767.13 310.29 L1770.91 307.33 L1774.69 305.21 L1778.47 303.52 L1782.25 301.41 L1786.03 299.29 L1789.81 295.7 L1793.59 292.74 L1797.37 289.57 L1801.15 286.4" stroke="#4a00cc" stroke-width="3.8" fill="none" stroke-linejoin="round" stroke-linecap="round"/>
<path d="M1559.25 462.9 L1563.03 460.57 L1566.81 457.39 L1570.59 452.72 L1574.37 448.46 L1578.15 445.28 L1581.93 442.1 L1585.71 439.55 L1589.49 437.88 L1593.27 435.55 L1597.05 434.06 L1600.83 431.33 L1604.61 429.44 L1608.39 427.32 L1612.16 424.58 L1615.94 421.62 L1619.72 419.52 L1623.5 416.97 L1627.28 414.24 L1631.06 410.63 L1634.84 409.81 L1638.62 406.84 L1642.4 405.14 L1646.18 403.04 L1649.96 400.71 L1653.74 398.16 L1657.52 395.2 L1661.3 389.45 L1665.08 385.87 L1668.86 380.54 L1672.64 374.18 L1676.42 369.07 L1680.2 363.33 L1683.98 359.51 L1687.76 357.62 L1691.54 355.31 L1695.32 353.85 L1699.1 351.33 L1702.88 348.59 L1706.66 346.7 L1710.44 345.24 L1714.22 343.99 L1718 343.37 L1721.78 340.85 L1725.56 337.03 L1729.34 335.15 L1733.12 333.26 L1736.9 331.37 L1740.68 329.49 L1744.46 326.96 L1748.24 323.78 L1752.01 320.2 L1755.79 317.46 L1759.57 314.94 L1763.35 312.2 L1767.13 309.24 L1770.91 305.42 L1774.69 304.17 L1778.47 301.86 L1782.25 299.33 L1786.03 296.37 L1789.81 293.4 L1793.59 289.98 L1797.37 288.1 L1801.15 286.4" stroke="#e8003c" stroke-width="3.8" fill="none" stroke-linejoin="round" stroke-linecap="round"/>
<rect x="1526.2" y="286.4" width="308" height="176.5" fill="none" stroke="#262626" stroke-width="1.6"/>
<text transform="translate(1645 273.5) scale(1 1.09)" font-size="24.5" letter-spacing="0.6" fill="#262626">fly 3</text>
<text x="1519.7" y="470.4" font-size="22" text-anchor="end" font-weight="normal" fill="#262626" >0</text>
<text x="1519.7" y="435.1" font-size="22" text-anchor="end" font-weight="normal" fill="#262626" >0.2</text>
<text x="1519.7" y="399.8" font-size="22" text-anchor="end" font-weight="normal" fill="#262626" >0.4</text>
<text x="1519.7" y="364.5" font-size="22" text-anchor="end" font-weight="normal" fill="#262626" >0.6</text>
<text x="1519.7" y="329.2" font-size="22" text-anchor="end" font-weight="normal" fill="#262626" >0.8</text>
<text x="1519.7" y="293.9" font-size="22" text-anchor="end" font-weight="normal" fill="#262626" >1</text>
<text transform="translate(1477.2 374.65) rotate(-90)" font-size="22" text-anchor="middle" fill="#262626">CDF</text>
<path d="M1897.2 286.4V462.9M1935.7 286.4V462.9M1974.2 286.4V462.9M2012.7 286.4V462.9M2051.2 286.4V462.9M2089.7 286.4V462.9M2128.2 286.4V462.9M1858.7 427.6H2166.7M1858.7 392.3H2166.7M1858.7 357H2166.7M1858.7 321.7H2166.7" stroke="#d0d0d0" stroke-width="1.3" fill="none"/>
<path d="M1891.75 462.9 L1895.53 462.69 L1899.31 461.4 L1903.09 460.12 L1906.87 458.63 L1910.65 456.92 L1914.43 454.57 L1918.21 452 L1921.99 449.87 L1925.77 447.52 L1929.55 445.38 L1933.33 444.1 L1937.11 440.68 L1940.89 438.97 L1944.66 436.4 L1948.44 432.77 L1952.22 427.86 L1956 425.29 L1959.78 419.1 L1963.56 414.82 L1967.34 409.91 L1971.12 405.63 L1974.9 400.72 L1978.68 394.95 L1982.46 392.6 L1986.24 387.68 L1990.02 383.62 L1993.8 379.56 L1997.58 376.79 L2001.36 371.44 L2005.14 367.17 L2008.92 362.68 L2012.7 356.7 L2016.48 349.22 L2020.26 342.81 L2024.04 338.54 L2027.82 333.84 L2031.6 331.7 L2035.38 329.78 L2039.16 328.28 L2042.94 325.29 L2046.72 323.37 L2050.5 321.23 L2054.28 318.24 L2058.06 317.17 L2061.84 316.1 L2065.62 314.39 L2069.4 313.11 L2073.18 311.61 L2076.96 309.69 L2080.74 308.2 L2084.51 305.63 L2088.29 303.49 L2092.07 301.36 L2095.85 299.01 L2099.63 297.73 L2103.41 295.8 L2107.19 294.31 L2110.97 292.38 L2114.75 291.1 L2118.53 290.03 L2122.31 289.61 L2126.09 288.54 L2129.87 287.25 L2133.65 286.4" stroke="#4a00cc" stroke-width="3.8" fill="none" stroke-linejoin="round" stroke-linecap="round"/>
<path d="M1891.75 462.9 L1895.53 461.85 L1899.31 460.78 L1903.09 459.5 L1906.87 457.58 L1910.65 455.66 L1914.43 453.52 L1918.21 451.19 L1921.99 449.05 L1925.77 447.34 L1929.55 445.21 L1933.33 442.43 L1937.11 439.65 L1940.89 438.8 L1944.66 436.85 L1948.44 432.15 L1952.22 429.59 L1956 425.51 L1959.78 420.38 L1963.56 415.23 L1967.34 410.95 L1971.12 406.87 L1974.9 402.36 L1978.68 398.73 L1982.46 393.58 L1986.24 389.95 L1990.02 386.51 L1993.8 382.62 L1997.58 379.18 L2001.36 375.31 L2005.14 369.31 L2008.92 364.59 L2012.7 356.85 L2016.48 349.97 L2020.26 344.59 L2024.04 340.31 L2027.82 335.63 L2031.6 332.43 L2035.38 329.88 L2039.16 327.96 L2042.94 325.42 L2046.72 321.79 L2050.5 320.52 L2054.28 318.39 L2058.06 317.53 L2061.84 316.27 L2065.62 315.42 L2069.4 314.16 L2073.18 312.9 L2076.96 310.35 L2080.74 306.91 L2084.51 305.65 L2088.29 303.11 L2092.07 301.19 L2095.85 299.93 L2099.63 297.38 L2103.41 296.53 L2107.19 294.61 L2110.97 292.28 L2114.75 291.23 L2118.53 290.82 L2122.31 289.56 L2126.09 288.71 L2129.87 287.66 L2133.65 286.4" stroke="#e8003c" stroke-width="3.8" fill="none" stroke-linejoin="round" stroke-linecap="round"/>
<rect x="1858.7" y="286.4" width="308" height="176.5" fill="none" stroke="#262626" stroke-width="1.6"/>
<text transform="translate(1962.5 273.5) scale(1 1.09)" font-size="24.5" letter-spacing="0.6" fill="#262626">fly 4</text>
<path d="M1564.7 527.9V705.6M1603.2 527.9V705.6M1641.7 527.9V705.6M1680.2 527.9V705.6M1718.7 527.9V705.6M1757.2 527.9V705.6M1795.7 527.9V705.6M1526.2 670.06H1834.2M1526.2 634.52H1834.2M1526.2 598.98H1834.2M1526.2 563.44H1834.2" stroke="#d0d0d0" stroke-width="1.3" fill="none"/>
<path d="M1559.25 705.6 L1563.03 705.35 L1566.81 704.37 L1570.59 704.37 L1574.37 703.88 L1578.15 702.65 L1581.93 700.68 L1585.71 699.95 L1589.49 699.46 L1593.27 698.96 L1597.05 697.24 L1600.83 695.28 L1604.61 692.82 L1608.39 689.13 L1612.16 688.15 L1615.94 685.94 L1619.72 683.23 L1623.5 680.78 L1627.28 675.86 L1631.06 672.42 L1634.84 668.49 L1638.62 664.55 L1642.4 662.34 L1646.18 661.11 L1649.96 659.64 L1653.74 656.94 L1657.52 653.99 L1661.3 651.77 L1665.08 647.84 L1668.86 644.4 L1672.64 638.5 L1676.42 631.13 L1680.2 626.46 L1683.98 624.25 L1687.76 621.79 L1691.54 618.84 L1695.32 617.12 L1699.1 615.4 L1702.88 612.45 L1706.66 610.97 L1710.44 609.25 L1714.22 606.06 L1718 603.85 L1721.78 599.91 L1725.56 593.03 L1729.34 588.61 L1733.12 582.96 L1736.9 577.79 L1740.68 572.39 L1744.46 566.24 L1748.24 558.38 L1752.01 553.46 L1755.79 549.77 L1759.57 547.07 L1763.35 544.61 L1767.13 540.93 L1770.91 538.71 L1774.69 535.52 L1778.47 535.03 L1782.25 534.04 L1786.03 532.32 L1789.81 530.6 L1793.59 528.88 L1797.37 528.39 L1801.15 527.9" stroke="#4a00cc" stroke-width="3.8" fill="none" stroke-linejoin="round" stroke-linecap="round"/>
<path d="M1559.25 705.6 L1563.03 705.43 L1566.81 704.97 L1570.59 704 L1574.37 703.03 L1578.15 701.31 L1581.93 699.09 L1585.71 698.55 L1589.49 698.29 L1593.27 696.84 L1597.05 694.89 L1600.83 693.16 L1604.61 689.96 L1608.39 688.76 L1612.16 685.06 L1615.94 684.09 L1619.72 682.38 L1623.5 678.42 L1627.28 673.73 L1631.06 670.28 L1634.84 666.32 L1638.62 664.36 L1642.4 661.67 L1646.18 660.92 L1649.96 659.47 L1653.74 658.02 L1657.52 654.06 L1661.3 652.11 L1665.08 648.65 L1668.86 645.46 L1672.64 639.02 L1676.42 633.09 L1680.2 628.41 L1683.98 625.45 L1687.76 623.5 L1691.54 621.29 L1695.32 618.83 L1699.1 616.64 L1702.88 614.18 L1706.66 611.73 L1710.44 610.28 L1714.22 606.6 L1718 604.14 L1721.78 601.69 L1725.56 595.76 L1729.34 590.07 L1733.12 585.65 L1736.9 580.46 L1740.68 576.03 L1744.46 569.86 L1748.24 564.19 L1752.01 558.5 L1755.79 554.56 L1759.57 550.38 L1763.35 546.19 L1767.13 543.98 L1770.91 541.53 L1774.69 537.85 L1778.47 535.39 L1782.25 534.43 L1786.03 533.5 L1789.81 531.79 L1793.59 530.35 L1797.37 529.13 L1801.15 527.9" stroke="#e8003c" stroke-width="3.8" fill="none" stroke-linejoin="round" stroke-linecap="round"/>
<rect x="1526.2" y="527.9" width="308" height="177.7" fill="none" stroke="#262626" stroke-width="1.6"/>
<text transform="translate(1645 510.6) scale(1 1.09)" font-size="24.5" letter-spacing="0.6" fill="#262626">fly 5</text>
<text x="1519.7" y="713.1" font-size="22" text-anchor="end" font-weight="normal" fill="#262626" >0</text>
<text x="1519.7" y="677.56" font-size="22" text-anchor="end" font-weight="normal" fill="#262626" >0.2</text>
<text x="1519.7" y="642.02" font-size="22" text-anchor="end" font-weight="normal" fill="#262626" >0.4</text>
<text x="1519.7" y="606.48" font-size="22" text-anchor="end" font-weight="normal" fill="#262626" >0.6</text>
<text x="1519.7" y="570.94" font-size="22" text-anchor="end" font-weight="normal" fill="#262626" >0.8</text>
<text x="1519.7" y="535.4" font-size="22" text-anchor="end" font-weight="normal" fill="#262626" >1</text>
<text transform="translate(1477.2 616.75) rotate(-90)" font-size="22" text-anchor="middle" fill="#262626">CDF</text>
<path d="M1897.2 527.9V705.6M1935.7 527.9V705.6M1974.2 527.9V705.6M2012.7 527.9V705.6M2051.2 527.9V705.6M2089.7 527.9V705.6M2128.2 527.9V705.6M1858.7 670.06H2166.7M1858.7 634.52H2166.7M1858.7 598.98H2166.7M1858.7 563.44H2166.7" stroke="#d0d0d0" stroke-width="1.3" fill="none"/>
<path d="M1891.75 705.6 L1895.53 700.37 L1899.31 697.39 L1903.09 693.9 L1906.87 692.91 L1910.65 690.67 L1914.43 688.68 L1918.21 686.93 L1921.99 684.94 L1925.77 681.96 L1929.55 679.47 L1933.33 675.24 L1937.11 672 L1940.89 668.52 L1944.66 666.28 L1948.44 664.04 L1952.22 660.55 L1956 658.56 L1959.78 656.07 L1963.56 654.58 L1967.34 653.34 L1971.12 650.6 L1974.9 647.86 L1978.68 645.12 L1982.46 642.38 L1986.24 638.9 L1990.02 634.67 L1993.8 628.45 L1997.58 621.98 L2001.36 617.75 L2005.14 614.76 L2008.92 612.77 L2012.7 610.03 L2016.48 608.79 L2020.26 607.04 L2024.04 605.3 L2027.82 602.56 L2031.6 601.07 L2035.38 598.33 L2039.16 597.09 L2042.94 594.6 L2046.72 592.86 L2050.5 590.12 L2054.28 585.89 L2058.06 580.66 L2061.84 575.93 L2065.62 571.45 L2069.4 566.97 L2073.18 562.49 L2076.96 560.01 L2080.74 557.27 L2084.51 555.53 L2088.29 553.04 L2092.07 552.29 L2095.85 550.05 L2099.63 549.3 L2103.41 548.56 L2107.19 548.31 L2110.97 546.81 L2114.75 545.82 L2118.53 543.83 L2122.31 540.84 L2126.09 537.11 L2129.87 530.14 L2133.65 527.9" stroke="#4a00cc" stroke-width="3.8" fill="none" stroke-linejoin="round" stroke-linecap="round"/>
<path d="M1891.75 705.6 L1895.53 699.92 L1899.31 696.99 L1903.09 693.74 L1906.87 691.97 L1910.65 690.69 L1914.43 687.93 L1918.21 686.41 L1921.99 684.44 L1925.77 682.2 L1929.55 679.22 L1933.33 675.06 L1937.11 671.82 L1940.89 668.57 L1944.66 666.08 L1948.44 663.6 L1952.22 660.18 L1956 657.42 L1959.78 655.65 L1963.56 654.37 L1967.34 652.85 L1971.12 649.13 L1974.9 647.36 L1978.68 645.37 L1982.46 642.88 L1986.24 638.43 L1990.02 634.44 L1993.8 628.49 L1997.58 621.33 L2001.36 616.87 L2005.14 614.12 L2008.92 612.59 L2012.7 609.61 L2016.48 607.62 L2020.26 605.9 L2024.04 604.18 L2027.82 600.93 L2031.6 599.65 L2035.38 597.88 L2039.16 595.64 L2042.94 593.37 L2046.72 591.38 L2050.5 588.87 L2054.28 584.89 L2058.06 580.19 L2061.84 574.75 L2065.62 569.8 L2069.4 564.61 L2073.18 562.35 L2076.96 559.89 L2080.74 557.38 L2084.51 555.38 L2088.29 552.92 L2092.07 551.4 L2095.85 550.36 L2099.63 549.09 L2103.41 548.81 L2107.19 547.78 L2110.97 546.3 L2114.75 545.76 L2118.53 543.8 L2122.31 542.27 L2126.09 536.83 L2129.87 531.89 L2133.65 527.9" stroke="#e8003c" stroke-width="3.8" fill="none" stroke-linejoin="round" stroke-linecap="round"/>
<rect x="1858.7" y="527.9" width="308" height="177.7" fill="none" stroke="#262626" stroke-width="1.6"/>
<text transform="translate(1962.5 510.6) scale(1 1.09)" font-size="24.5" letter-spacing="0.6" fill="#262626">fly 6</text>
<path d="M1564.7 770V948M1603.2 770V948M1641.7 770V948M1680.2 770V948M1718.7 770V948M1757.2 770V948M1795.7 770V948M1526.2 912.4H1834.2M1526.2 876.8H1834.2M1526.2 841.2H1834.2M1526.2 805.6H1834.2" stroke="#d0d0d0" stroke-width="1.3" fill="none"/>
<path d="M1559.25 948 L1563.03 946.45 L1566.81 943.96 L1570.59 939.61 L1574.37 937.13 L1578.15 934.02 L1581.93 930.6 L1585.71 928.43 L1589.49 926.25 L1593.27 924.39 L1597.05 920.66 L1600.83 918.18 L1604.61 917.25 L1608.39 914.45 L1612.16 911.34 L1615.94 909.17 L1619.72 906.99 L1623.5 904.51 L1627.28 902.02 L1631.06 898.61 L1634.84 894.26 L1638.62 891.15 L1642.4 886.8 L1646.18 880.9 L1649.96 878.73 L1653.74 874.38 L1657.52 871.58 L1661.3 869.1 L1665.08 865.99 L1668.86 862.57 L1672.64 859.78 L1676.42 857.91 L1680.2 853.87 L1683.98 849.84 L1687.76 845.18 L1691.54 841.76 L1695.32 839.58 L1699.1 836.79 L1702.88 832.75 L1706.66 828.09 L1710.44 824.98 L1714.22 821.88 L1718 820.32 L1721.78 817.84 L1725.56 817.22 L1729.34 813.49 L1733.12 812.25 L1736.9 807.28 L1740.68 802.62 L1744.46 798.27 L1748.24 795.47 L1752.01 793.3 L1755.79 791.75 L1759.57 789.57 L1763.35 787.4 L1767.13 786.46 L1770.91 783.98 L1774.69 781.8 L1778.47 778.7 L1782.25 777.46 L1786.03 774.35 L1789.81 774.04 L1793.59 772.17 L1797.37 770.93 L1801.15 770" stroke="#4a00cc" stroke-width="3.8" fill="none" stroke-linejoin="round" stroke-linecap="round"/>
<path d="M1559.25 948 L1563.03 946.45 L1566.81 943.63 L1570.59 940.22 L1574.37 937.74 L1578.15 934.32 L1581.93 931.84 L1585.71 929.98 L1589.49 927.5 L1593.27 926.57 L1597.05 924.4 L1600.83 922.23 L1604.61 920.06 L1608.39 918.51 L1612.16 917.58 L1615.94 913.86 L1619.72 912.31 L1623.5 908.59 L1627.28 905.48 L1631.06 902.07 L1634.84 897.08 L1638.62 893.98 L1642.4 888.68 L1646.18 883.37 L1649.96 881.82 L1653.74 878.41 L1657.52 877.17 L1661.3 874.69 L1665.08 870.97 L1668.86 866.94 L1672.64 865.08 L1676.42 861.36 L1680.2 857.64 L1683.98 852.64 L1687.76 847.34 L1691.54 843.31 L1695.32 840.52 L1699.1 838.97 L1702.88 834.63 L1706.66 831.21 L1710.44 828.73 L1714.22 823.74 L1718 822.81 L1721.78 820.33 L1725.56 818.16 L1729.34 814.13 L1733.12 810.41 L1736.9 808.24 L1740.68 802.93 L1744.46 798.9 L1748.24 795.8 L1752.01 793.94 L1755.79 793.32 L1759.57 792.08 L1763.35 788.98 L1767.13 786.5 L1770.91 784.95 L1774.69 781.23 L1778.47 779.02 L1782.25 778.4 L1786.03 776.2 L1789.81 773.72 L1793.59 772.48 L1797.37 771.55 L1801.15 770" stroke="#e8003c" stroke-width="3.8" fill="none" stroke-linejoin="round" stroke-linecap="round"/>
<rect x="1526.2" y="770" width="308" height="178" fill="none" stroke="#262626" stroke-width="1.6"/>
<text transform="translate(1645 754.6) scale(1 1.09)" font-size="24.5" letter-spacing="0.6" fill="#262626">fly 7</text>
<text x="1519.7" y="955.5" font-size="22" text-anchor="end" font-weight="normal" fill="#262626" >0</text>
<text x="1519.7" y="919.9" font-size="22" text-anchor="end" font-weight="normal" fill="#262626" >0.2</text>
<text x="1519.7" y="884.3" font-size="22" text-anchor="end" font-weight="normal" fill="#262626" >0.4</text>
<text x="1519.7" y="848.7" font-size="22" text-anchor="end" font-weight="normal" fill="#262626" >0.6</text>
<text x="1519.7" y="813.1" font-size="22" text-anchor="end" font-weight="normal" fill="#262626" >0.8</text>
<text x="1519.7" y="777.5" font-size="22" text-anchor="end" font-weight="normal" fill="#262626" >1</text>
<text transform="translate(1477.2 859) rotate(-90)" font-size="22" text-anchor="middle" fill="#262626">CDF</text>
<path d="M1897.2 770V948M1935.7 770V948M1974.2 770V948M2012.7 770V948M2051.2 770V948M2089.7 770V948M2128.2 770V948M1858.7 912.4H2166.7M1858.7 876.8H2166.7M1858.7 841.2H2166.7M1858.7 805.6H2166.7" stroke="#d0d0d0" stroke-width="1.3" fill="none"/>
<path d="M1891.75 948 L1895.53 944.62 L1899.31 942.93 L1903.09 939.89 L1906.87 936.18 L1910.65 935.5 L1914.43 934.83 L1918.21 933.14 L1921.99 931.79 L1925.77 931.79 L1929.55 929.76 L1933.33 927.4 L1937.11 924.02 L1940.89 921.99 L1944.66 919.63 L1948.44 917.26 L1952.22 913.55 L1956 908.82 L1959.78 905.78 L1963.56 901.73 L1967.34 899.7 L1971.12 895.65 L1974.9 887.2 L1978.68 882.14 L1982.46 879.1 L1986.24 876.39 L1990.02 874.37 L1993.8 870.99 L1997.58 867.95 L2001.36 864.57 L2005.14 861.87 L2008.92 860.86 L2012.7 859.17 L2016.48 857.48 L2020.26 856.47 L2024.04 855.12 L2027.82 854.1 L2031.6 850.39 L2035.38 848.36 L2039.16 844.31 L2042.94 842.28 L2046.72 838.9 L2050.5 833.84 L2054.28 827.76 L2058.06 824.72 L2061.84 821.34 L2065.62 817.29 L2069.4 815.94 L2073.18 814.92 L2076.96 813.23 L2080.74 810.87 L2084.51 809.52 L2088.29 808.5 L2092.07 807.15 L2095.85 806.14 L2099.63 805.46 L2103.41 804.45 L2107.19 802.43 L2110.97 798.71 L2114.75 791.28 L2118.53 784.86 L2122.31 779.46 L2126.09 775.74 L2129.87 771.69 L2133.65 770" stroke="#4a00cc" stroke-width="3.8" fill="none" stroke-linejoin="round" stroke-linecap="round"/>
<path d="M1891.75 948 L1895.53 945.97 L1899.31 942.94 L1903.09 939.9 L1906.87 937.19 L1910.65 935.16 L1914.43 934.51 L1918.21 934.19 L1921.99 932.85 L1925.77 931.19 L1929.55 930.54 L1933.33 928.2 L1937.11 925.48 L1940.89 922.44 L1944.66 920.1 L1948.44 917.34 L1952.22 913.94 L1956 908.84 L1959.78 906.49 L1963.56 904.46 L1967.34 900.74 L1971.12 896.32 L1974.9 889.52 L1978.68 884.41 L1982.46 882.07 L1986.24 878.34 L1990.02 875.99 L1993.8 873.28 L1997.58 869.23 L2001.36 865.82 L2005.14 863.48 L2008.92 862.46 L2012.7 860.8 L2016.48 858.78 L2020.26 858.13 L2024.04 856.79 L2027.82 856.14 L2031.6 853.43 L2035.38 851 L2039.16 847.6 L2042.94 843.87 L2046.72 841.52 L2050.5 836.1 L2054.28 831.03 L2058.06 828 L2061.84 822.25 L2065.62 818.2 L2069.4 816.58 L2073.18 814.92 L2076.96 812.89 L2080.74 811.23 L2084.51 810.22 L2088.29 809.2 L2092.07 807.18 L2095.85 806.53 L2099.63 805.88 L2103.41 805.24 L2107.19 803.57 L2110.97 799.12 L2114.75 793 L2118.53 783.53 L2122.31 778.1 L2126.09 775.06 L2129.87 772.03 L2133.65 770" stroke="#e8003c" stroke-width="3.8" fill="none" stroke-linejoin="round" stroke-linecap="round"/>
<rect x="1858.7" y="770" width="308" height="178" fill="none" stroke="#262626" stroke-width="1.6"/>
<text transform="translate(1962.5 754.6) scale(1 1.09)" font-size="24.5" letter-spacing="0.6" fill="#262626">fly 8</text>
<path d="M1564.7 1012.4V1189M1603.2 1012.4V1189M1641.7 1012.4V1189M1680.2 1012.4V1189M1718.7 1012.4V1189M1757.2 1012.4V1189M1795.7 1012.4V1189M1526.2 1153.68H1834.2M1526.2 1118.36H1834.2M1526.2 1083.04H1834.2M1526.2 1047.72H1834.2" stroke="#d0d0d0" stroke-width="1.3" fill="none"/>
<path d="M1559.25 1189 L1563.03 1188.43 L1566.81 1185.6 L1570.59 1184.47 L1574.37 1183.34 L1578.15 1182.77 L1581.93 1181.64 L1585.71 1178.25 L1589.49 1177.11 L1593.27 1175.98 L1597.05 1174.28 L1600.83 1173.15 L1604.61 1172.02 L1608.39 1170.89 L1612.16 1169.76 L1615.94 1166.92 L1619.72 1164.66 L1623.5 1163.53 L1627.28 1161.83 L1631.06 1159.57 L1634.84 1159 L1638.62 1158.43 L1642.4 1153.34 L1646.18 1149.38 L1649.96 1145.98 L1653.74 1144.85 L1657.52 1140.32 L1661.3 1136.93 L1665.08 1131.27 L1668.86 1126.74 L1672.64 1123.91 L1676.42 1121.08 L1680.2 1114.28 L1683.98 1109.19 L1687.76 1105.79 L1691.54 1103.53 L1695.32 1098.44 L1699.1 1093.34 L1702.88 1091.64 L1706.66 1089.95 L1710.44 1085.98 L1714.22 1080.32 L1718 1074.66 L1721.78 1069 L1725.56 1063.34 L1729.34 1056.55 L1733.12 1053.72 L1736.9 1049.19 L1740.68 1041.27 L1744.46 1035.61 L1748.24 1031.64 L1752.01 1030.51 L1755.79 1028.81 L1759.57 1025.42 L1763.35 1024.29 L1767.13 1023.15 L1770.91 1022.02 L1774.69 1020.89 L1778.47 1019.19 L1782.25 1017.49 L1786.03 1016.36 L1789.81 1015.23 L1793.59 1015.23 L1797.37 1012.97 L1801.15 1012.4" stroke="#4a00cc" stroke-width="3.8" fill="none" stroke-linejoin="round" stroke-linecap="round"/>
<path d="M1559.25 1189 L1563.03 1185.07 L1566.81 1185.07 L1570.59 1184.45 L1574.37 1182.2 L1578.15 1181.07 L1581.93 1179.95 L1585.71 1178.77 L1589.49 1178.15 L1593.27 1174.78 L1597.05 1173.09 L1600.83 1171.97 L1604.61 1170.23 L1608.39 1169.1 L1612.16 1167.36 L1615.94 1164.55 L1619.72 1162.81 L1623.5 1162.19 L1627.28 1161.01 L1631.06 1159.27 L1634.84 1158.7 L1638.62 1156.96 L1642.4 1154.15 L1646.18 1152.97 L1649.96 1149.04 L1653.74 1143.98 L1657.52 1139.48 L1661.3 1134.42 L1665.08 1131 L1668.86 1126.5 L1672.64 1125.88 L1676.42 1119.7 L1680.2 1112.95 L1683.98 1110.7 L1687.76 1107.33 L1691.54 1105.08 L1695.32 1099.46 L1699.1 1093.28 L1702.88 1091.59 L1706.66 1088.78 L1710.44 1084.85 L1714.22 1079.23 L1718 1071.92 L1721.78 1066.3 L1725.56 1058.99 L1729.34 1055 L1733.12 1049.38 L1736.9 1044.89 L1740.68 1040.39 L1744.46 1034.77 L1748.24 1027.46 L1752.01 1024.65 L1755.79 1023.47 L1759.57 1022.29 L1763.35 1021.67 L1767.13 1020.55 L1770.91 1018.81 L1774.69 1017.68 L1778.47 1015.44 L1782.25 1015.44 L1786.03 1015.44 L1789.81 1014.82 L1793.59 1014.2 L1797.37 1013.58 L1801.15 1012.4" stroke="#e8003c" stroke-width="3.8" fill="none" stroke-linejoin="round" stroke-linecap="round"/>
<rect x="1526.2" y="1012.4" width="308" height="176.6" fill="none" stroke="#262626" stroke-width="1.6"/>
<text transform="translate(1645 995.6) scale(1 1.09)" font-size="24.5" letter-spacing="0.6" fill="#262626">fly 9</text>
<text x="1519.7" y="1196.5" font-size="22" text-anchor="end" font-weight="normal" fill="#262626" >0</text>
<text x="1519.7" y="1161.18" font-size="22" text-anchor="end" font-weight="normal" fill="#262626" >0.2</text>
<text x="1519.7" y="1125.86" font-size="22" text-anchor="end" font-weight="normal" fill="#262626" >0.4</text>
<text x="1519.7" y="1090.54" font-size="22" text-anchor="end" font-weight="normal" fill="#262626" >0.6</text>
<text x="1519.7" y="1055.22" font-size="22" text-anchor="end" font-weight="normal" fill="#262626" >0.8</text>
<text x="1519.7" y="1019.9" font-size="22" text-anchor="end" font-weight="normal" fill="#262626" >1</text>
<text transform="translate(1477.2 1100.7) rotate(-90)" font-size="22" text-anchor="middle" fill="#262626">CDF</text>
<text x="1556.8" y="1214.5" font-size="22" text-anchor="middle" font-weight="normal" fill="#262626" >-3</text>
<text x="1596.8" y="1214.5" font-size="22" text-anchor="middle" font-weight="normal" fill="#262626" >-2</text>
<text x="1637.3" y="1214.5" font-size="22" text-anchor="middle" font-weight="normal" fill="#262626" >-1</text>
<text x="1678.1" y="1214.5" font-size="22" text-anchor="middle" font-weight="normal" fill="#262626" >0</text>
<text x="1715.3" y="1214.5" font-size="22" text-anchor="middle" font-weight="normal" fill="#262626" >1</text>
<text x="1757" y="1214.5" font-size="22" text-anchor="middle" font-weight="normal" fill="#262626" >2</text>
<text x="1795.8" y="1214.5" font-size="22" text-anchor="middle" font-weight="normal" fill="#262626" >3</text>
<path d="M1897.2 1012.4V1189M1935.7 1012.4V1189M1974.2 1012.4V1189M2012.7 1012.4V1189M2051.2 1012.4V1189M2089.7 1012.4V1189M2128.2 1012.4V1189M1858.7 1153.68H2166.7M1858.7 1118.36H2166.7M1858.7 1083.04H2166.7M1858.7 1047.72H2166.7" stroke="#d0d0d0" stroke-width="1.3" fill="none"/>
<path d="M1891.75 1189 L1895.53 1186.58 L1899.31 1184.16 L1903.09 1181.93 L1906.87 1180.81 L1910.65 1178.77 L1914.43 1175.79 L1918.21 1172.25 L1921.99 1167.41 L1925.77 1164.81 L1929.55 1162.2 L1933.33 1157.92 L1937.11 1154.39 L1940.89 1150.85 L1944.66 1146.76 L1948.44 1141.36 L1952.22 1136.34 L1956 1132.8 L1959.78 1129.64 L1963.56 1125.92 L1967.34 1122.75 L1971.12 1118.84 L1974.9 1114.56 L1978.68 1111.21 L1982.46 1107.68 L1986.24 1104.7 L1990.02 1100.79 L1993.8 1097.44 L1997.58 1092.98 L2001.36 1089.07 L2005.14 1084.6 L2008.92 1082.37 L2012.7 1078.09 L2016.48 1076.23 L2020.26 1074.37 L2024.04 1069.34 L2027.82 1066.37 L2031.6 1064.13 L2035.38 1062.09 L2039.16 1060.78 L2042.94 1059.48 L2046.72 1056.88 L2050.5 1055.39 L2054.28 1052.04 L2058.06 1050.92 L2061.84 1047.76 L2065.62 1045.34 L2069.4 1044.22 L2073.18 1041.99 L2076.96 1039.94 L2080.74 1038.45 L2084.51 1036.03 L2088.29 1033.8 L2092.07 1031.38 L2095.85 1029.52 L2099.63 1028.59 L2103.41 1025.8 L2107.19 1023.57 L2110.97 1021.52 L2114.75 1020.77 L2118.53 1019.1 L2122.31 1017.42 L2126.09 1015.19 L2129.87 1013.33 L2133.65 1012.4" stroke="#4a00cc" stroke-width="3.8" fill="none" stroke-linejoin="round" stroke-linecap="round"/>
<path d="M1891.75 1189 L1895.53 1186.2 L1899.31 1183.41 L1903.09 1181.72 L1906.87 1179.29 L1910.65 1177.61 L1914.43 1175.18 L1918.21 1171.48 L1921.99 1169.23 L1925.77 1166.64 L1929.55 1163.84 L1933.33 1161.42 L1937.11 1158.43 L1940.89 1155.45 L1944.66 1152.28 L1948.44 1148.74 L1952.22 1145.21 L1956 1141.87 L1959.78 1138.17 L1963.56 1134.83 L1967.34 1130.57 L1971.12 1127.59 L1974.9 1123.51 L1978.68 1118.53 L1982.46 1115.2 L1986.24 1110.01 L1990.02 1106.67 L1993.8 1102.78 L1997.58 1099.25 L2001.36 1096.26 L2005.14 1092.56 L2008.92 1087.2 L2012.7 1085.33 L2016.48 1081.44 L2020.26 1079.2 L2024.04 1073.85 L2027.82 1070.9 L2031.6 1068.11 L2035.38 1065.86 L2039.16 1064.73 L2042.94 1061.75 L2046.72 1058.95 L2050.5 1058.01 L2054.28 1055.21 L2058.06 1053.34 L2061.84 1051.28 L2065.62 1048.12 L2069.4 1046.62 L2073.18 1044.74 L2076.96 1042.13 L2080.74 1040.26 L2084.51 1037.85 L2088.29 1036.7 L2092.07 1034.3 L2095.85 1032.61 L2099.63 1030 L2103.41 1027.57 L2107.19 1025.15 L2110.97 1023.46 L2114.75 1021.77 L2118.53 1019.9 L2122.31 1018.22 L2126.09 1015.79 L2129.87 1013.55 L2133.65 1012.4" stroke="#e8003c" stroke-width="3.8" fill="none" stroke-linejoin="round" stroke-linecap="round"/>
<rect x="1858.7" y="1012.4" width="308" height="176.6" fill="none" stroke="#262626" stroke-width="1.6"/>
<text transform="translate(1962.5 995.6) scale(1 1.09)" font-size="24.5" letter-spacing="0.6" fill="#262626">fly 10</text>
<text x="1889" y="1214.5" font-size="22" text-anchor="middle" font-weight="normal" fill="#262626" >-3</text>
<text x="1929.5" y="1214.5" font-size="22" text-anchor="middle" font-weight="normal" fill="#262626" >-2</text>
<text x="1969.5" y="1214.5" font-size="22" text-anchor="middle" font-weight="normal" fill="#262626" >-1</text>
<text x="2013.7" y="1214.5" font-size="22" text-anchor="middle" font-weight="normal" fill="#262626" >0</text>
<text x="2046.7" y="1214.5" font-size="22" text-anchor="middle" font-weight="normal" fill="#262626" >1</text>
<text x="2088.8" y="1214.5" font-size="22" text-anchor="middle" font-weight="normal" fill="#262626" >2</text>
<text x="2127.2" y="1214.5" font-size="22" text-anchor="middle" font-weight="normal" fill="#262626" >3</text>
<text x="1686.8" y="1249.2" font-size="22" text-anchor="middle" font-weight="normal" fill="#262626" >bump orientation (rad)</text>
<text x="2014.3" y="1249.2" font-size="22" text-anchor="middle" font-weight="normal" fill="#262626" >bump orientation (rad)</text>
<rect x="1537.8" y="52.3" width="140.7" height="57.1" fill="#fff" stroke="#000" stroke-width="1.6"/>
<line x1="1547" y1="69.4" x2="1568" y2="69.4" stroke="#4a00cc" stroke-width="3.8" stroke-linecap="round"/>
<line x1="1547" y1="94.8" x2="1568" y2="94.8" stroke="#e8003c" stroke-width="3.8" stroke-linecap="round"/>
<text x="1576.8" y="75.4" font-size="22" text-anchor="start" font-weight="normal" fill="#262626" >beginning</text>
<text x="1576.8" y="100.2" font-size="22" text-anchor="start" font-weight="normal" fill="#262626" >end</text>
<text x="1442.5" y="31.8" font-size="43" text-anchor="start" font-weight="bold" fill="#000" >b</text>
<clipPath id="cc1"><rect x="103.69" y="1407.02" width="586.22" height="176.56"/></clipPath>
<g clip-path="url(#cc1)">
<g stroke="#4a10d0" stroke-opacity="0.5" stroke-width="8" stroke-linecap="round" fill="none">
<path d="M173.2 1489.9h0m13 7.7h0m44.6-5.9h0m.9 3.5h0m31.5-4.7h0m25.7-16h0m.1 18.9h0m8.3-3.3h0m37.1 7.2h0m13.1 1.5h0m19.3 .3h0m9.9-.7h0m12 .2h0m27.4-5.5h0m2.5-.3h0m8.8 8h0m.1-3.6h0m11.8-1.6h0m13.5 3.5h0m23.1 3.9h0m13.2 .6h0m8.9-3.4h0m1.6-10.7h0m33.2 8.5h0m84.9-8.7h0m.3 9h0m2.1-.6h0m53.9-2.2h0"/>
<path d="M122.9 1497.5h0m3.8-2.2h0m33.7 8.1h0m5.7-7.9h0m1.4 5.9h0m23.7-7h0m1.6-.7h0m15.6 4.3h0m10-4.7h0m21.8 4.5h0m5.9 .5h0m24.5-2.2h0m11.2-2.2h0m14.2 .1h0m35.8 .2h0m40.4-.1h0m1.7-18.5h0m10.3 20.4h0m13.7-.1h0m10.8 .9h0m20.5 1h0m1.5 .8h0m1.1 3.2h0m19.7-77.6h0m17.3 68.3h0m7.7-1.6h0m18.4-.8h0m12.2-1.8h0m90.5 3.2h0m5.2-2.9h0m1.4 14.2h0m13.6-5.3h0m24-3.2h0m18.9-.4h0m2.9-5.7h0m3.4 8.3h0m9-5.7h0"/>
<path d="M114.6 1500.3h0m.8-.9h0m55.9-9.4h0m13.2 1.7h0m6.9-3.5h0m47.8 10.1h0m35.2-6.9h0m15.9 6h0m1.1-1.2h0m7 8.6h0m23.7-6h0m47.5-3.4h0m12 5.1h0m6.9-10.4h0m12.4 9.4h0m1.6-4.7h0m33.1 4.5h0m3.8-4.4h0m6.3 .3h0m2.4 .5h0m12-1.3h0m16.1 3.9h0m40.4-6h0m.1 4.8h0m34.1 20.6h0m1.6-14.8h0m5.6-1.2h0m2-7.2h0m3.3 6.3h0m9.4 1.6h0m50.7-2h0m51.4 .9h0m0 .9h0m.4-13.4h0"/>
<path d="M159.3 1494.7h0m6.9 2.4h0m18.2-2.8h0m3.3-2.4h0m7.8 4.1h0m4 .5h0m35.7-.8h0m59.5 2.9h0m59.8-5.2h0m2.4 4.7h0m3.2-1.9h0m29.7-4.6h0m1.7-2.1h0m10.3 8.6h0m3.4-3.5h0m25.9 3.8h0m26.6-1.1h0m5.6 4.1h0m20.3-9.5h0m3 2h0m33.1-.2h0m13 3h0m2-3.1h0m10.1-.1h0m7.3 3.8h0m43.1 3.1h0m6.6-22.5h0m3.1 19.5h0m1.8-2.9h0m71.8-1.1h0"/>
<path d="M117.9 1495.9h0m1.9-2.7h0m3.9-.4h0m2.4 8h0m2.6-10.1h0m15.6-2.1h0m56.8-37.9h0m19.8 20.4h0m3.2 23.1h0m35 1.6h0m95.9 1.2h0m17.2-48h0m32.6 47.4h0m3.3-8.2h0m6.1 6.9h0m14.4-1.8h0m13.5 2.9h0m20.2-18.3h0m13.1 21.2h0m14.2-4h0m59.1-.5h0m46.3 23.5h0m.3-23.9h0m6.5 2.4h0m.2 2.3h0m44.6-9.4h0m3.2 8.6h0"/>
<path d="M113.8 1498.4h0m23.1-8.3h0m3.3 8.9h0m27.9 11.9h0m4.3-16.6h0m.6 3h0m6.3 1.3h0m29.8-6h0m112.9 5.1h0m97.1 4.7h0m7.6-15.4h0m17 10.6h0m10.1 1.8h0m22-2.2h0m2.5-7.6h0m5.3 6h0m13.7-.9h0m4.3 .4h0m.8 9.4h0m58.6-26.6h0m103.7 18.8h0m15.7-1.2h0"/>
<path d="M119.0 1497.1h0m14-6.2h0m55.5 21h0m17.7-16.1h0m63.9-1.3h0m15.4-1.6h0m11.3-.4h0m24.1-2h0m19.2 2h0m19.1 2.9h0m118.5 21h0m44.6-17.6h0m1.3 19.3h0m16.4-21.4h0m39.2-3.7h0m30.5-.5h0m28.9-2.6h0"/>
<path d="M108.0 1492.5h0m57.7 2.1h0m18.9 2.8h0m11.3 1.9h0m1.1-19.7h0m44.9 15.9h0m29.4-.1h0m34.9 2.3h0m2.5-1.3h0m28.7 .8h0m8.5-3h0m32.1 3h0m15.5-5.9h0m5.6 2.1h0m38.9 10.5h0m32.8-4.6h0m58 1.8h0m25.4-7.4h0m6.7-.1h0m31 4.1h0m50.7-18.7h0m21.1 12.5h0"/>
<path d="M117.4 1493.0h0m13 5.9h0m34.5 2h0m23.2-12.8h0m46.4-47.6h0m41.6 65.7h0m17.6-9.6h0m10.5 1.7h0m24.8 2.2h0m23.9-4.2h0m7.1-3.8h0m7.6-3.1h0m1.5 2.7h0m17.6 8.8h0m7.8-5.5h0m3.2 1.9h0m8.2-3.8h0m8.8 8.3h0m9.3-11.3h0m9.4-9.2h0m18.9 13.3h0m4.7-4.1h0m4.7 2.3h0m2.1-3.6h0m34.8 6.8h0m22.3 .1h0m37.8 1.3h0m22.2-2.5h0"/>
<path d="M151.9 1493.7h0m15.7 5.7h0m11.1-10.6h0m14.1 8.8h0m28.5-4h0m99.9-11.2h0m11.8 13.9h0m8.5-7h0m9.7 2.7h0m16.6 6.7h0m30.6-8.3h0m.7-2.8h0m4 3.9h0m3.2 5.7h0m6.2-.3h0m6.9-2.1h0m2.8 3.7h0m2.9-.7h0m2.6-1.9h0m25.8 2.9h0m8.7-5.1h0m.1 1.2h0m13.5 1.8h0m2.1-8.2h0m27.1 14.4h0m9.8-10.6h0m25.9 3.3h0m5.7 6.2h0m54.8-2.9h0m37-3.3h0m12.4 .9h0m19.2-15.2h0m4.8 16.3h0m1.8-2.7h0m1.9 2.3h0"/>
<path d="M133.9 1497.6h0m58.8-4.9h0m.3-38.6h0m11.4 35.2h0m46.6 4.4h0m33.2 2.6h0m8.6-1.7h0m26.1-1h0m.1 4h0m.4-1h0m11.5-3.6h0m17 3.6h0m5.2-.4h0m12.7-2.7h0m2.6 6.7h0m6.1-6.1h0m2.8 .8h0m2-2.8h0m0 7.7h0m10-6.6h0m2.5-2.3h0m1.2 1.7h0m1.3 1.2h0m12 1.1h0m19.9 7.4h0m.5-5.3h0m2.1-8.4h0m1.8 6.7h0m2.6 4.4h0m16.2-7.6h0m26.3 7.4h0m4.3-8h0m9 6.5h0m14.1 1.3h0m3.9-3.6h0m19.2 7.6h0m10.9-9h0m65.6 .3h0m14.6 2.8h0m1.2-7.6h0m10.5 5.5h0m45.5 .6h0"/>
<path d="M130.4 1496.1h0m33.2 2.8h0m4.4-3.3h0m31.7-2.6h0m15.6 .2h0m52.6 3.2h0m17.4 3.8h0m36.7-1.7h0m12.5-2.4h0m2.7 .2h0m.1-6.8h0m.8 9.9h0m5.8-7.5h0m2-2.3h0m42.6 1.1h0m1.5 8.3h0m18.8-2.5h0m.9 .2h0m.8-3.9h0m7.7 8.6h0m9.4-5.2h0m7.7 2.1h0m15.3-1.1h0m9.5-4.3h0m8.7-.7h0m9.3-3.4h0m7.8-.8h0m30.1 12h0m33.2 4h0m24.6-12.6h0m27.4-2.5h0m17.5 12.5h0m11.4-11.3h0m10 6.8h0m25.9-1.1h0m6.6 2.8h0"/>
<path d="M120.2 1491.4h0m47.5 4.4h0m12.5-3.7h0m1.1 2.9h0m14.1-.9h0m10.5 6.3h0m6.4-2.2h0m13.7 .6h0m8.8-2.5h0m22.7 2.8h0m12-4.8h0m.7 17.6h0m11.6-16.5h0m11.5 2.4h0m29.5 4.4h0m35.2-7.4h0m6-4.6h0m15.9 6.6h0m10.9 4.6h0m9.3-12.4h0m34.4 4h0m9.2-3.8h0m16.3 3.7h0m6.1 .8h0m22.7-7.3h0m26.8 7.2h0m13.7 6.1h0m19.9-3.2h0m3.1-2.7h0m10.2 4.8h0m42-1.7h0m13.6-.6h0m7.5 .5h0m5-3.5h0m8.6 20.3h0m44.1-20h0"/>
<path d="M133.9 1498.6h0m6.3-6.4h0m7.5 2.8h0m15.2 3.3h0m48.2 .3h0m38.7-25.8h0m14.7 20.4h0m5.5 2.2h0m28.7 .4h0m27 4.7h0m39.4-9.7h0m8.5 2.9h0m8.7 2.5h0m9.5-5.9h0m2.5 19.3h0m1-18.3h0m11.2 7h0m28.6 2.8h0m17.8-7h0m7.6 1.5h0m6.4 .2h0m6.3 2.5h0m6 .5h0m20.7-3.5h0m38.2-1.5h0m46.7 18.1h0m5.7-17.4h0m13.5-1.5h0m2.7 3.9h0m17.2 16.7h0m16.4-20.6h0m12.9 4.2h0m4.5-4h0m19.5 4.6h0m1.9-6.5h0m1.5 6.5h0"/>
<path d="M187.9 1499.8h0m5 .5h0m5.7-8.3h0m23.5 4.3h0m5.6-.9h0m6 1.6h0m98.7-2h0m7.5 49.9h0m7.8-54.9h0m3.2 7.9h0m2.2-5.9h0m17.9-4.5h0m10.4 12.2h0m18-13.2h0m29.3 8h0m28.9-1.3h0m21.5 3.2h0m72-4.6h0m.7 7.6h0m104.4 17h0m18-21.4h0m12.6-14.3h0"/>
<path d="M133.6 1487.6h0m.5 3.7h0m2.6 7h0m60.5-5.1h0m20.2 5.9h0m1.8-6.2h0m30.3-.8h0m17.9-.5h0m4.1 2.4h0m28.1 6.4h0m21.8-2h0m.5 .4h0m16.4-2.9h0m5.3 .3h0m20.4-.7h0m24.5-6.1h0m17.7 7.6h0m6.1 1.2h0m6.7 1.5h0m14.7-7.1h0m10.1 .8h0m.2 .1h0m3-1.1h0m26.5-1.4h0m4.2 2.6h0m1.4-.3h0m8.9-5.1h0m94 2.5h0m50.4-51.9h0"/>
<path d="M121.0 1493.9h0m15.1 .3h0m33.1 2.8h0m20.2 2.7h0m15.4-8h0m66.1 10.9h0m9-9.3h0m15.1-6.5h0m26.4 6.7h0m21.1-6.3h0m5.9 9.4h0m45.6-1.4h0m3.3-7.5h0m6 6h0m6.9 2.3h0m18.9 1.4h0m17.2 .1h0m26.6-4.1h0m1 3.6h0m21.5-4.1h0m43.5-11.6h0m55.1 8.7h0m24.2 6.1h0"/>
<path d="M116.1 1495.7h0m12.9 10.5h0m106.6-11.4h0m5.1 1.4h0m74-1.5h0m16.8-2.1h0m32.9 8.2h0m21.5-9.4h0m8.4-15.2h0m7.6 15.2h0m5.9 8.2h0m15.1-4.7h0m34.2 .9h0m2.8-5.9h0m45.5-3.1h0m11 7.1h0m12.2-1h0m8.8 .1h0m11.5 .2h0m4.2 2.6h0m42.8 5.8h0m22.8-5.9h0m60.3-3.2h0"/>
<path d="M123.7 1491.0h0m3.4 1.1h0m44.2 3.8h0m19.6-45.9h0m43.1 42.3h0m1.3 3.1h0m47.2 .8h0m8.6-6.4h0m14.9 8.5h0m92.9-5.6h0m13.2-2.2h0m9.8 8.7h0m4.2-3.3h0m37.4-4.2h0m4.2 1.1h0m5.6 3.3h0m14 1.4h0m2.4-1.7h0m7.6-3.8h0m108.5 8.2h0m46.7-3.1h0m24.1 54h0m1.4-54.9h0"/>
<path d="M157.0 1496.6h0m16.2 57.2h0m6.8-73.5h0m.1 12.1h0m43.3 5.1h0m5.8-3h0m21.9-.5h0m36.1-14.4h0m27.3 13.9h0m12.5-2.5h0m3.9 6.2h0m23.5 1.4h0m2.5-17.3h0m4.1 7.7h0m2.1 4.8h0m86.1-3.2h0m29.5 6.6h0m8.2 5.8h0m2.2-3.6h0m49.6-4.7h0m61.9-.2h0m13.9-2.3h0"/>
<path d="M120.5 1506.2h0m14.6-10.6h0m8.1-1.9h0m7.4 8h0m6-6.3h0m5.3 .4h0m26.1-1.3h0m54.5-3.6h0m24.3-23.2h0m10.2 5.8h0m8.2 20.6h0m41.8 2.2h0m5.4-4h0m12.7-.8h0m19.7 .2h0m1.7 7.3h0m4.9-10.8h0m19 13.6h0m8.3-3.1h0m3.3-1.5h0m11.7 .5h0m4.1-4.1h0m2.3 6.8h0m13.8-2.2h0m2.8-6.8h0m3.2 2.4h0m.2 4.5h0m4.3-2.7h0m28-3.7h0m10 4.2h0m7.7-2.5h0m29.8 5.8h0m14.3 1.2h0m7.5-6.5h0m.1 1.7h0m48.9 4.6h0m26.2-7.8h0m13.4 2h0m41.2 39.5h0m8.7-35.3h0"/>
<path d="M157.4 1500.5h0m13.8-2.2h0m1.5-4.7h0m6.5-.5h0m4.5 6.8h0m4.1-9.2h0m.6 5.9h0m9-.8h0m2.3-6.5h0m51.5 1.3h0m58 1.3h0m12 1.6h0m9.5-.2h0m5.8 3.2h0m24.3 .9h0m7-9.3h0m11 1.9h0m16 1.3h0m4.5 6.5h0m9.3-7.4h0m13.5 9.3h0m2.9 4.7h0m6.8-7.9h0m5.1-1.3h0m19.8 1.4h0m14.3-1.9h0m27.7 42.8h0m16.2-40h0m4.3-6.3h0m13.7 3.6h0m61.7-6.8h0m70.7 9.4h0"/>
<path d="M165.7 1481.3h0m15.5 18.2h0m10.6-5.4h0m7.5 .7h0m31-5.5h0m100 3.2h0m3.9 1.9h0m1.2 0h0m.2 .1h0m9.4-3.3h0m.1 2.9h0m4 5.7h0m1.5-1.5h0m.9-7.3h0m53.7 5.8h0m11.4-1.8h0m26.5-7.3h0m68.7 5.9h0m8.5 5.9h0m4.2 .1h0m23.3 5.2h0m17.6 34.4h0m28.4-40.2h0m34.2-.9h0m3.5-5.9h0m24.9 1.6h0m25.2-.4h0"/>
<path d="M139.9 1491.7h0m6.9-.4h0m89.6-2.4h0m6.4 7.3h0m56-7h0m15.8 0h0m2.5 3.3h0m28.8-3.1h0m5 7.6h0m4.4 .9h0m17.5-3.6h0m11.8 4h0m10.5-4.8h0m3 3h0m26.3 6.2h0m26.2-.9h0m5.6-3.6h0m10.8 2.6h0m17.9-1.7h0m13-4.1h0m1.3 2.6h0m8.4-22h0m10.6 19.8h0m31 1.8h0m68 2h0m25.1-4.4h0m30.4-.4h0m10.5-2.7h0"/>
</g>
<path d="M106.02 1492.46 L110.67 1494.92 L115.32 1497.37 L119.97 1494.3 L124.63 1495.49 L129.28 1494.44 L133.93 1493.68 L138.58 1494.26 L143.24 1491.13 L147.89 1493.13 L152.54 1497.75 L157.19 1496.78 L161.85 1499.11 L166.5 1497.55 L171.15 1494.55 L175.8 1494.39 L180.46 1494.24 L185.11 1496.17 L189.76 1493.8 L194.41 1481.33 L199.07 1510.24 L203.72 1493.8 L208.37 1495.46 L213.02 1496.66 L217.68 1495.09 L222.33 1495.4 L226.98 1496.25 L231.63 1493.28 L236.29 1467.73 L240.94 1500.04 L245.59 1498.33 L250.24 1492.61 L254.9 1495.04 L259.55 1497.47 L264.2 1489.84 L268.85 1495.85 L273.51 1493.57 L278.16 1499.77 L282.81 1495.44 L287.47 1495.12 L292.12 1495.39 L296.77 1493.98 L301.42 1500.39 L306.08 1498.1 L310.73 1494.12 L315.38 1492.47 L320.03 1496.13 L324.69 1499.67 L329.34 1494.29 L333.99 1494.92 L338.64 1495.33 L343.3 1491.63 L347.95 1494.38 L352.6 1495.28 L357.25 1496.64 L361.91 1493.5 L366.56 1495.13 L371.21 1479.63 L375.86 1495.66 L380.52 1496.44 L385.17 1496.64 L389.82 1493.89 L394.47 1493.06 L399.13 1493.3 L403.78 1494.8 L408.43 1495.37 L413.08 1496.7 L417.74 1496.6 L422.39 1497.98 L427.04 1496.41 L431.69 1497.63 L436.35 1497.45 L441 1494.42 L445.65 1494.3 L450.3 1495.35 L454.96 1496.55 L459.61 1493.63 L464.26 1494.12 L468.91 1495.45 L473.57 1496.65 L478.22 1493.36 L482.87 1495.67 L487.52 1495.36 L492.18 1493.63 L496.83 1494.41 L501.48 1496.88 L506.13 1493.41 L510.79 1493.65 L515.44 1495.24 L520.09 1496.31 L524.75 1501.45 L529.4 1497.91 L534.05 1496.74 L538.7 1494.67 L543.36 1494.46 L548.01 1498.88 L552.66 1496.38 L557.31 1499.57 L561.97 1496.88 L566.62 1499.66 L571.27 1502.44 L575.92 1491.4 L580.58 1492.84 L585.23 1495.19 L589.88 1497.55 L594.53 1495.51 L599.19 1493.43 L603.84 1496.57 L608.49 1494.62 L613.14 1492.16 L617.8 1495.79 L622.45 1499.06 L627.1 1496.7 L631.75 1464.33 L636.41 1513.65 L641.06 1494.73 L645.71 1489.47 L650.36 1497.22 L655.02 1495.52 L659.67 1493.53 L664.32 1493.93 L668.97 1496.51 L673.63 1496.59 L678.28 1494.83 L682.93 1494.14" stroke="#4a0fd0" stroke-width="3.2" fill="none" stroke-linejoin="round"/>
<path d="M103.69 1508.8 L105.16 1507.66 L106.63 1506.46 L108.1 1505.19 L109.57 1503.86 L111.04 1502.48 L112.5 1501.07 L113.97 1499.63 L115.44 1498.16 L116.91 1496.68 L118.38 1495.2 L119.85 1493.72 L121.32 1492.26 L122.79 1490.82 L124.26 1489.42 L125.73 1488.06 L127.2 1486.75 L128.67 1485.49 L130.14 1484.3 L131.6 1483.19 L133.07 1482.15 L134.54 1481.21 L136.01 1480.35 L137.48 1479.59 L138.95 1478.94 L140.42 1478.39 L141.89 1477.95 L143.36 1477.63 L144.83 1477.42 L146.3 1477.32 L147.77 1477.34 L149.24 1477.48 L150.7 1477.74 L152.17 1478.1 L153.64 1478.58 L155.11 1479.17 L156.58 1479.87 L158.05 1480.66 L159.52 1481.55 L160.99 1482.53 L162.46 1483.6 L163.93 1484.74 L165.4 1485.95 L166.87 1487.23 L168.34 1488.56 L169.8 1489.94 L171.27 1491.36 L172.74 1492.81 L174.21 1494.28 L175.68 1495.75 L177.15 1497.24 L178.62 1498.71 L180.09 1500.17 L181.56 1501.6 L183.03 1503.01 L184.5 1504.36 L185.97 1505.67 L187.44 1506.92 L188.9 1508.1 L190.37 1509.21 L191.84 1510.23 L193.31 1511.17 L194.78 1512.02 L196.25 1512.76 L197.72 1513.41 L199.19 1513.94 L200.66 1514.37 L202.13 1514.69 L203.6 1514.88 L205.07 1514.97 L206.54 1514.93 L208 1514.78 L209.47 1514.52 L210.94 1514.14 L212.41 1513.65 L213.88 1513.05 L215.35 1512.34 L216.82 1511.54 L218.29 1510.64 L219.76 1509.65 L221.23 1508.58 L222.7 1507.43 L224.17 1506.2 L225.64 1504.92 L227.1 1503.58 L228.57 1502.2 L230.04 1500.78 L231.51 1499.33 L232.98 1497.86 L234.45 1496.38 L235.92 1494.9 L237.39 1493.43 L238.86 1491.97 L240.33 1490.54 L241.8 1489.14 L243.27 1487.79 L244.74 1486.49 L246.2 1485.25 L247.67 1484.07 L249.14 1482.97 L250.61 1481.96 L252.08 1481.03 L253.55 1480.19 L255.02 1479.45 L256.49 1478.82 L257.96 1478.29 L259.43 1477.88 L260.9 1477.58 L262.37 1477.39 L263.84 1477.32 L265.3 1477.36 L266.77 1477.52 L268.24 1477.8 L269.71 1478.19 L271.18 1478.69 L272.65 1479.3 L274.12 1480.02 L275.59 1480.83 L277.06 1481.74 L278.53 1482.74 L280 1483.82 L281.47 1484.98 L282.93 1486.21 L284.4 1487.5 L285.87 1488.84 L287.34 1490.23 L288.81 1491.65 L290.28 1493.1 L291.75 1494.57 L293.22 1496.05 L294.69 1497.54 L296.16 1499.01 L297.63 1500.46 L299.1 1501.89 L300.57 1503.28 L302.03 1504.63 L303.5 1505.93 L304.97 1507.16 L306.44 1508.33 L307.91 1509.42 L309.38 1510.43 L310.85 1511.35 L312.32 1512.18 L313.79 1512.9 L315.26 1513.52 L316.73 1514.04 L318.2 1514.44 L319.67 1514.73 L321.13 1514.91 L322.6 1514.97 L324.07 1514.91 L325.54 1514.74 L327.01 1514.45 L328.48 1514.05 L329.95 1513.53 L331.42 1512.91 L332.89 1512.19 L334.36 1511.36 L335.83 1510.45 L337.3 1509.44 L338.77 1508.35 L340.23 1507.18 L341.7 1505.95 L343.17 1504.66 L344.64 1503.31 L346.11 1501.92 L347.58 1500.49 L349.05 1499.03 L350.52 1497.56 L351.99 1496.08 L353.46 1494.6 L354.93 1493.13 L356.4 1491.68 L357.87 1490.25 L359.33 1488.86 L360.8 1487.52 L362.27 1486.23 L363.74 1485 L365.21 1483.84 L366.68 1482.76 L368.15 1481.76 L369.62 1480.85 L371.09 1480.03 L372.56 1479.32 L374.03 1478.7 L375.5 1478.2 L376.97 1477.81 L378.43 1477.53 L379.9 1477.36 L381.37 1477.32 L382.84 1477.39 L384.31 1477.57 L385.78 1477.87 L387.25 1478.28 L388.72 1478.81 L390.19 1479.44 L391.66 1480.18 L393.13 1481.01 L394.6 1481.94 L396.07 1482.95 L397.53 1484.05 L399 1485.22 L400.47 1486.46 L401.94 1487.76 L403.41 1489.12 L404.88 1490.51 L406.35 1491.94 L407.82 1493.4 L409.29 1494.87 L410.76 1496.35 L412.23 1497.83 L413.7 1499.3 L415.17 1500.75 L416.63 1502.18 L418.1 1503.56 L419.57 1504.9 L421.04 1506.18 L422.51 1507.4 L423.98 1508.56 L425.45 1509.63 L426.92 1510.62 L428.39 1511.52 L429.86 1512.33 L431.33 1513.04 L432.8 1513.64 L434.27 1514.13 L435.73 1514.51 L437.2 1514.78 L438.67 1514.93 L440.14 1514.97 L441.61 1514.89 L443.08 1514.69 L444.55 1514.38 L446.02 1513.95 L447.49 1513.42 L448.96 1512.78 L450.43 1512.03 L451.9 1511.19 L453.37 1510.25 L454.83 1509.22 L456.3 1508.12 L457.77 1506.94 L459.24 1505.69 L460.71 1504.39 L462.18 1503.03 L463.65 1501.63 L465.12 1500.2 L466.59 1498.74 L468.06 1497.26 L469.53 1495.78 L471 1494.3 L472.47 1492.83 L473.93 1491.39 L475.4 1489.97 L476.87 1488.59 L478.34 1487.26 L479.81 1485.98 L481.28 1484.76 L482.75 1483.62 L484.22 1482.55 L485.69 1481.57 L487.16 1480.68 L488.63 1479.88 L490.1 1479.18 L491.57 1478.59 L493.03 1478.11 L494.5 1477.74 L495.97 1477.49 L497.44 1477.35 L498.91 1477.32 L500.38 1477.41 L501.85 1477.62 L503.32 1477.95 L504.79 1478.38 L506.26 1478.93 L507.73 1479.58 L509.2 1480.34 L510.67 1481.19 L512.13 1482.14 L513.6 1483.17 L515.07 1484.28 L516.54 1485.47 L518.01 1486.72 L519.48 1488.03 L520.95 1489.4 L522.42 1490.8 L523.89 1492.24 L525.36 1493.7 L526.83 1495.17 L528.3 1496.65 L529.76 1498.13 L531.23 1499.6 L532.7 1501.04 L534.17 1502.46 L535.64 1503.83 L537.11 1505.16 L538.58 1506.43 L540.05 1507.64 L541.52 1508.78 L542.99 1509.84 L544.46 1510.81 L545.93 1511.69 L547.4 1512.48 L548.86 1513.17 L550.33 1513.75 L551.8 1514.22 L553.27 1514.58 L554.74 1514.82 L556.21 1514.95 L557.68 1514.96 L559.15 1514.86 L560.62 1514.64 L562.09 1514.3 L563.56 1513.85 L565.03 1513.3 L566.5 1512.63 L567.96 1511.87 L569.43 1511 L570.9 1510.05 L572.37 1509.01 L573.84 1507.89 L575.31 1506.69 L576.78 1505.43 L578.25 1504.12 L579.72 1502.75 L581.19 1501.34 L582.66 1499.9 L584.13 1498.44 L585.6 1496.96 L587.06 1495.48 L588.53 1494 L590 1492.54 L591.47 1491.1 L592.94 1489.69 L594.41 1488.31 L595.88 1486.99 L597.35 1485.73 L598.82 1484.52 L600.29 1483.4 L601.76 1482.35 L603.23 1481.38 L604.7 1480.51 L606.16 1479.73 L607.63 1479.06 L609.1 1478.49 L610.57 1478.03 L612.04 1477.68 L613.51 1477.45 L614.98 1477.33 L616.45 1477.33 L617.92 1477.45 L619.39 1477.68 L620.86 1478.03 L622.33 1478.48 L623.8 1479.05 L625.26 1479.73 L626.73 1480.5 L628.2 1481.37 L629.67 1482.34 L631.14 1483.39 L632.61 1484.52 L634.08 1485.72 L635.55 1486.98 L637.02 1488.31 L638.49 1489.68 L639.96 1491.09 L641.43 1492.53 L642.9 1493.99 L644.36 1495.47 L645.83 1496.95 L647.3 1498.43 L648.77 1499.89 L650.24 1501.33 L651.71 1502.74 L653.18 1504.11 L654.65 1505.42 L656.12 1506.68 L657.59 1507.88 L659.06 1509 L660.53 1510.04 L662 1511 L663.46 1511.86 L664.93 1512.63 L666.4 1513.29 L667.87 1513.85 L669.34 1514.3 L670.81 1514.63 L672.28 1514.86 L673.75 1514.96 L675.22 1514.95 L676.69 1514.82 L678.16 1514.58 L679.63 1514.22 L681.1 1513.75 L682.56 1513.17 L684.03 1512.49 L685.5 1511.7 L686.97 1510.82 L688.44 1509.84 L689.91 1508.79" stroke="#f39019" stroke-width="3.6" fill="none"/>
<path d="M103.69 1492.37 L105.16 1491.17 L106.63 1490.07 L108.1 1489.09 L109.57 1488.28 L111.04 1487.63 L112.5 1487.18 L113.97 1486.92 L115.44 1486.88 L116.91 1487.04 L118.38 1487.41 L119.85 1487.97 L121.32 1488.71 L122.79 1489.62 L124.26 1490.67 L125.73 1491.83 L127.2 1493.07 L128.67 1494.38 L130.14 1495.7 L131.6 1497.02 L133.07 1498.29 L134.54 1499.49 L136.01 1500.59 L137.48 1501.55 L138.95 1502.36 L140.42 1503 L141.89 1503.44 L143.36 1503.68 L144.83 1503.72 L146.3 1503.55 L147.77 1503.17 L149.24 1502.6 L150.7 1501.85 L152.17 1500.93 L153.64 1499.88 L155.11 1498.71 L156.58 1497.46 L158.05 1496.16 L159.52 1494.83 L160.99 1493.52 L162.46 1492.25 L163.93 1491.05 L165.4 1489.96 L166.87 1489 L168.34 1488.2 L169.8 1487.58 L171.27 1487.14 L172.74 1486.91 L174.21 1486.89 L175.68 1487.07 L177.15 1487.46 L178.62 1488.04 L180.09 1488.8 L181.56 1489.72 L183.03 1490.78 L184.5 1491.95 L185.97 1493.2 L187.44 1494.51 L188.9 1495.84 L190.37 1497.15 L191.84 1498.42 L193.31 1499.61 L194.78 1500.69 L196.25 1501.64 L197.72 1502.43 L199.19 1503.05 L200.66 1503.47 L202.13 1503.7 L203.6 1503.71 L205.07 1503.52 L206.54 1503.12 L208 1502.53 L209.47 1501.76 L210.94 1500.83 L212.41 1499.76 L213.88 1498.59 L215.35 1497.33 L216.82 1496.02 L218.29 1494.7 L219.76 1493.38 L221.23 1492.12 L222.7 1490.94 L224.17 1489.86 L225.64 1488.92 L227.1 1488.13 L228.57 1487.52 L230.04 1487.11 L231.51 1486.9 L232.98 1486.89 L234.45 1487.1 L235.92 1487.51 L237.39 1488.11 L238.86 1488.88 L240.33 1489.82 L241.8 1490.89 L243.27 1492.07 L244.74 1493.34 L246.2 1494.65 L247.67 1495.97 L249.14 1497.28 L250.61 1498.54 L252.08 1499.72 L253.55 1500.79 L255.02 1501.73 L256.49 1502.5 L257.96 1503.1 L259.43 1503.51 L260.9 1503.71 L262.37 1503.7 L263.84 1503.49 L265.3 1503.07 L266.77 1502.46 L268.24 1501.67 L269.71 1500.73 L271.18 1499.65 L272.65 1498.46 L274.12 1497.2 L275.59 1495.89 L277.06 1494.56 L278.53 1493.25 L280 1492 L281.47 1490.82 L282.93 1489.76 L284.4 1488.83 L285.87 1488.06 L287.34 1487.47 L288.81 1487.08 L290.28 1486.89 L291.75 1486.91 L293.22 1487.13 L294.69 1487.56 L296.16 1488.18 L297.63 1488.97 L299.1 1489.92 L300.57 1491.01 L302.03 1492.2 L303.5 1493.47 L304.97 1494.78 L306.44 1496.11 L307.91 1497.41 L309.38 1498.66 L310.85 1499.84 L312.32 1500.89 L313.79 1501.81 L315.26 1502.57 L316.73 1503.15 L318.2 1503.54 L319.67 1503.72 L321.13 1503.69 L322.6 1503.45 L324.07 1503.02 L325.54 1502.39 L327.01 1501.58 L328.48 1500.63 L329.95 1499.53 L331.42 1498.34 L332.89 1497.07 L334.36 1495.75 L335.83 1494.43 L337.3 1493.12 L338.77 1491.87 L340.23 1490.71 L341.7 1489.66 L343.17 1488.74 L344.64 1487.99 L346.11 1487.42 L347.58 1487.05 L349.05 1486.88 L350.52 1486.92 L351.99 1487.16 L353.46 1487.61 L354.93 1488.25 L356.4 1489.06 L357.87 1490.03 L359.33 1491.12 L360.8 1492.32 L362.27 1493.6 L363.74 1494.91 L365.21 1496.24 L366.68 1497.54 L368.15 1498.79 L369.62 1499.95 L371.09 1500.99 L372.56 1501.9 L374.03 1502.64 L375.5 1503.2 L376.97 1503.56 L378.43 1503.72 L379.9 1503.67 L381.37 1503.42 L382.84 1502.96 L384.31 1502.31 L385.78 1501.49 L387.25 1500.52 L388.72 1499.42 L390.19 1498.21 L391.66 1496.94 L393.13 1495.62 L394.6 1494.29 L396.07 1492.99 L397.53 1491.75 L399 1490.6 L400.47 1489.56 L401.94 1488.66 L403.41 1487.93 L404.88 1487.38 L406.35 1487.02 L407.82 1486.87 L409.29 1486.93 L410.76 1487.2 L412.23 1487.67 L413.7 1488.32 L415.17 1489.15 L416.63 1490.13 L418.1 1491.24 L419.57 1492.45 L421.04 1493.73 L422.51 1495.05 L423.98 1496.37 L425.45 1497.67 L426.92 1498.91 L428.39 1500.06 L429.86 1501.09 L431.33 1501.98 L432.8 1502.7 L434.27 1503.24 L435.73 1503.59 L437.2 1503.73 L438.67 1503.66 L440.14 1503.38 L441.61 1502.9 L443.08 1502.24 L444.55 1501.4 L446.02 1500.41 L447.49 1499.3 L448.96 1498.09 L450.43 1496.8 L451.9 1495.49 L453.37 1494.16 L454.83 1492.87 L456.3 1491.63 L457.77 1490.49 L459.24 1489.46 L460.71 1488.58 L462.18 1487.86 L463.65 1487.33 L465.12 1487 L466.59 1486.87 L468.06 1486.95 L469.53 1487.24 L471 1487.73 L472.47 1488.4 L473.93 1489.24 L475.4 1490.24 L476.87 1491.36 L478.34 1492.58 L479.81 1493.86 L481.28 1495.18 L482.75 1496.51 L484.22 1497.8 L485.69 1499.03 L487.16 1500.17 L488.63 1501.19 L490.1 1502.06 L491.57 1502.77 L493.03 1503.29 L494.5 1503.61 L495.97 1503.73 L497.44 1503.64 L498.91 1503.34 L500.38 1502.84 L501.85 1502.16 L503.32 1501.31 L504.79 1500.31 L506.26 1499.18 L507.73 1497.96 L509.2 1496.67 L510.67 1495.35 L512.13 1494.03 L513.6 1492.74 L515.07 1491.51 L516.54 1490.38 L518.01 1489.36 L519.48 1488.5 L520.95 1487.8 L522.42 1487.29 L523.89 1486.98 L525.36 1486.87 L526.83 1486.97 L528.3 1487.28 L529.76 1487.79 L531.23 1488.48 L532.7 1489.34 L534.17 1490.35 L535.64 1491.48 L537.11 1492.7 L538.58 1493.99 L540.05 1495.32 L541.52 1496.64 L542.99 1497.93 L544.46 1499.15 L545.93 1500.28 L547.4 1501.28 L548.86 1502.14 L550.33 1502.83 L551.8 1503.33 L553.27 1503.63 L554.74 1503.73 L556.21 1503.62 L557.68 1503.3 L559.15 1502.78 L560.62 1502.08 L562.09 1501.21 L563.56 1500.2 L565.03 1499.06 L566.5 1497.83 L567.96 1496.54 L569.43 1495.22 L570.9 1493.9 L572.37 1492.61 L573.84 1491.39 L575.31 1490.27 L576.78 1489.27 L578.25 1488.42 L579.72 1487.74 L581.19 1487.25 L582.66 1486.96 L584.13 1486.87 L585.6 1486.99 L587.06 1487.32 L588.53 1487.85 L590 1488.56 L591.47 1489.43 L592.94 1490.46 L594.41 1491.6 L595.88 1492.83 L597.35 1494.13 L598.82 1495.45 L600.29 1496.77 L601.76 1498.05 L603.23 1499.27 L604.7 1500.39 L606.16 1501.38 L607.63 1502.22 L609.1 1502.89 L610.57 1503.37 L612.04 1503.65 L613.51 1503.73 L614.98 1503.59 L616.45 1503.26 L617.92 1502.72 L619.39 1502 L620.86 1501.12 L622.33 1500.09 L623.8 1498.94 L625.26 1497.7 L626.73 1496.41 L628.2 1495.08 L629.67 1493.76 L631.14 1492.48 L632.61 1491.27 L634.08 1490.16 L635.55 1489.18 L637.02 1488.34 L638.49 1487.68 L639.96 1487.21 L641.43 1486.94 L642.9 1486.87 L644.36 1487.02 L645.83 1487.37 L647.3 1487.91 L648.77 1488.64 L650.24 1489.53 L651.71 1490.57 L653.18 1491.72 L654.65 1492.96 L656.12 1494.26 L657.59 1495.58 L659.06 1496.9 L660.53 1498.18 L662 1499.39 L663.46 1500.49 L664.93 1501.47 L666.4 1502.29 L667.87 1502.95 L669.34 1503.41 L670.81 1503.67 L672.28 1503.72 L673.75 1503.57 L675.22 1503.21 L676.69 1502.66 L678.16 1501.92 L679.63 1501.02 L681.1 1499.98 L682.56 1498.82 L684.03 1497.57 L685.5 1496.27 L686.97 1494.95 L688.44 1493.63 L689.91 1492.36" stroke="#f05cf0" stroke-width="3.4" fill="none"/>
</g>
<line x1="103.5" y1="1406.22" x2="103.5" y2="1584.08" stroke="#262626" stroke-width="1.5" />
<line x1="103.5" y1="1583.58" x2="688.6" y2="1583.58" stroke="#262626" stroke-width="1.5" />
<line x1="97.3" y1="1439.1" x2="103.5" y2="1439.1" stroke="#262626" stroke-width="1.5" />
<text x="91.9" y="1449" font-size="22" text-anchor="end" font-weight="normal" fill="#262626" >2</text>
<line x1="97.3" y1="1495.3" x2="103.5" y2="1495.3" stroke="#262626" stroke-width="1.5" />
<text x="91.9" y="1503.2" font-size="22" text-anchor="end" font-weight="normal" fill="#262626" >0</text>
<line x1="97.3" y1="1551.5" x2="103.5" y2="1551.5" stroke="#262626" stroke-width="1.5" />
<text x="91.9" y="1561.4" font-size="22" text-anchor="end" font-weight="normal" fill="#262626" >2</text>
<line x1="116.9" y1="1583.58" x2="116.9" y2="1593.88" stroke="#262626" stroke-width="1.5" />
<line x1="210.2" y1="1583.58" x2="210.2" y2="1593.88" stroke="#262626" stroke-width="1.5" />
<line x1="303.5" y1="1583.58" x2="303.5" y2="1593.88" stroke="#262626" stroke-width="1.5" />
<line x1="396.8" y1="1583.58" x2="396.8" y2="1593.88" stroke="#262626" stroke-width="1.5" />
<line x1="490.1" y1="1583.58" x2="490.1" y2="1593.88" stroke="#262626" stroke-width="1.5" />
<line x1="583.4" y1="1583.58" x2="583.4" y2="1593.88" stroke="#262626" stroke-width="1.5" />
<line x1="676.7" y1="1583.58" x2="676.7" y2="1593.88" stroke="#262626" stroke-width="1.5" />
<text x="113.8" y="1421.5" font-size="25" text-anchor="start" font-weight="normal" fill="#262626" letter-spacing="0.1">fly 1</text>
<text transform="translate(65.5 1496.8) rotate(-90)" font-size="22" text-anchor="middle" fill="#262626">drift (rad)</text>
<clipPath id="cc2"><rect x="738.19" y="1407.02" width="586.22" height="176.56"/></clipPath>
<g clip-path="url(#cc2)">
<g stroke="#4a10d0" stroke-opacity="0.5" stroke-width="8" stroke-linecap="round" fill="none">
<path d="M753.9 1494.9h0m7.3 6.4h0m.8-5.4h0m14.8 1h0m56.3 .3h0m19-6.2h0m25.4 3.8h0m3.6 2.5h0m7.2-4.1h0m1.1-.8h0m23.3-1.5h0m16.8 4.2h0m44.7-21.6h0m6 24.2h0m15.5-1h0m49.3-.5h0m12.5-2.8h0m16.6 8.9h0m13.4-6.5h0m1.3-11.1h0m7.2 12.6h0m8.6-1h0m7.1-5.4h0m8.2 3.1h0m7.3-.2h0m24.9 0h0m19 1.7h0m10.4-1.8h0m8.7 3.7h0m4.3-8.6h0m22.2 5.3h0m40.7 4.2h0m30.6-5h0m6.8 2.4h0m2.7 .7h0m1-2.3h0m2.4 .1h0m17.5 7.5h0"/>
<path d="M754.9 1494.5h0m13.6 .7h0m10.2 4.3h0m29.2-2.6h0m10.3-2.6h0m6.4-11.3h0m5.4 16.9h0m29.2-3.9h0m16.7-3.2h0m19.5 .8h0m32.2 1.3h0m50.5-.7h0m35.6 .8h0m1.4 0h0m46.2 5.8h0m6.9-7.7h0m5.1-.8h0m7.6 3h0m1.5 .4h0m.4-5.9h0m9.6 7.4h0m.4-4.1h0m3 .2h0m11.1-33.4h0m12.1 38.3h0m2.3 .4h0m3.4-6.6h0m16.4 0h0m76.8 5.7h0m34-1.4h0m7.6-2h0m15-.1h0m26.9 23.5h0m1.5-23.7h0m.6 5h0m.3-7.7h0m8.6 2.7h0"/>
<path d="M790.1 1492.0h0m10.5 3.7h0m14.9-1.8h0m10.9 3.4h0m12.8-1.9h0m6.8-2.4h0m56.8-.2h0m46.4 2.6h0m36-3.1h0m4.2 9.7h0m16.5-8.1h0m25.1-2.1h0m10.3 1.4h0m50.3-2.7h0m9.2 5h0m.9-1.1h0m.5 1.2h0m38.8-1.4h0m3.9 3.6h0m1.6-2.8h0m8.9-2.8h0m4.2-42.5h0m12.3 43.6h0m1.1 4.2h0m9.7 1.2h0m9.6-3.4h0m2.9 0h0m28.1-5.7h0m3.5 7.8h0m47-5.5h0m2.8 5.2h0m1.4 1.6h0"/>
<path d="M744.8 1501.2h0m46.2-7.6h0m71.1-.6h0m4.7-.7h0m15.1 .5h0m35.3 4.4h0m27.9-1h0m4.6-1.1h0m31.5-1.7h0m6.3-1.6h0m7.2 1h0m31.6 2.8h0m15.9 11.2h0m60.9-16h0m3.2 .5h0m36.8 8.1h0m9.3-.3h0m17.4-.4h0m1.3-3.6h0m18.2 1h0m37.2-4.4h0m40.4 .6h0m.3 4.4h0m6.6-.2h0m17.6 2.2h0m29.3-2.7h0"/>
<path d="M740.2 1506.2h0m9.8-11.8h0m9-2.5h0m9.9-1.3h0m42 4.8h0m2.5 .9h0m33.7 3.2h0m7.5-2.9h0m9.5-.5h0m57.9 .8h0m63.6 .2h0m6.6 .1h0m10.6-1.5h0m18-2.4h0m18.5 4.7h0m5.1 .3h0m6.2-1h0m6.1-4.5h0m2.4 .3h0m1.6 3.6h0m11.6-3.4h0m8.5 3.8h0m34.3-1.4h0m7.8 15.6h0m4.7-14.4h0m7.4-4.2h0m.5 1.4h0m14.5-1.2h0m12.2 1h0m9.1-2.5h0m1.1 .4h0m29.5 5.1h0m6-3.4h0m43.3 9.3h0m7-4h0m54.8-3.3h0"/>
<path d="M747.8 1495.4h0m6.5 4.6h0m17.2-6.5h0m10 3h0m21.9-.4h0m13.9-2.1h0m22.6 4.2h0m74.7-2h0m43.4-1.5h0m30.9-1.8h0m53.3 3.6h0m30.6 2h0m4-11.1h0m4.1 6.6h0m8 1.4h0m9 .1h0m35.8-2.5h0m21.9 1.7h0m24.2 7.4h0m6-3.4h0m12.5-.1h0m.6-2.9h0m20.1 1.1h0m20.3-.4h0m10.7-.7h0m2.8-1.1h0m34.9 2.6h0m13.5-.9h0m9.4 2.9h0m9.7 1.1h0"/>
<path d="M748.3 1495.7h0m14.6 2.2h0m7 3.2h0m27.7-5.1h0m30.6 2.9h0m5.6-5.7h0m22.8 .7h0m2.9-1.9h0m24.4 4.5h0m34.1 2.9h0m3.7-7.3h0m38.2 2.8h0m11.1 .6h0m31.7 3.9h0m27.8-7.2h0m5.2 .5h0m4.9 4.2h0m28.6-4.5h0m16.7 1.8h0m11.8 1.1h0m3.2-5.6h0m28 6.3h0m1.2-2.1h0m23.9 6h0m8.8-3.8h0m17-.2h0m8.7-2.1h0m6.3-3.7h0m5.3 1.7h0m13.3 6.1h0m8.1 .2h0m42.5-8.4h0m2.7-2.6h0m32.6 13.7h0m23.1-7.7h0m.2-1.1h0"/>
<path d="M743.6 1497.5h0m44.9 1.7h0m28.1-6.9h0m15.7 4.7h0m26.9 .5h0m21.2-1.2h0m14-5.1h0m15.6 4.1h0m22.4 .9h0m23.1 14.7h0m24.1-14.9h0m16.6 2.3h0m35.5-1.4h0m10.8 .1h0m5.4 4.7h0m16.6-10h0m33.1 1.4h0m5.1 3.4h0m3.9-.7h0m4.5-2.1h0m29.7-2.7h0m2.5-6.9h0m18.2 9.1h0m3.1-1.1h0m3.9 1.3h0m.1 2.5h0m40.8-1.6h0m6.4 4.1h0m25.2-9.5h0m4.4 8h0m2.5-.6h0m9.9-.5h0m14.3 6.5h0m12.8-1.2h0m1.2-18.1h0m10.9 6.4h0m.4 3.8h0m6.7 4.9h0"/>
<path d="M811.1 1499.0h0m10-2.4h0m1.7 .5h0m.4-4.8h0m13.3 2.7h0m10.9-.7h0m122.3-.7h0m.2-.3h0m.6 .2h0m9.8-.8h0m76.4 3.2h0m33-.3h0m4.9-.3h0m4.8-3.3h0m.3 .4h0m9.5 5.1h0m8.7-4.2h0m15.4 1.2h0m25.5-2h0m27.7-1.3h0m28.5 7.6h0m8.3-4.2h0m1.7 4.2h0m18.2 .9h0m3.7-4.4h0m21.2 30.9h0m28.2-25.8h0"/>
<path d="M772.9 1495.4h0m34.4-4h0m29.4 2.5h0m15.9 3.3h0m30.2 1.1h0m21.8-2.4h0m48.5-1.9h0m22.5 2.6h0m45.7-7.2h0m7 9.6h0m34.7-5.8h0m1.6 4.9h0m.4-2.3h0m18.9 2.6h0m6.2-1.8h0m5.4-5.8h0m33.1 4.3h0m11.3-5.8h0m25.7 3.8h0m9.3-.1h0m9.4 5.2h0m2.2-2.3h0m37.5 .8h0m7.3 1.6h0m52.1-44.2h0m4.3 42.8h0m9.6-3.7h0"/>
<path d="M792.8 1498.3h0m35.4-1.1h0m24.6-.9h0m12.2 6h0m44.8-6.1h0m2.2 1.1h0m.3-6.9h0m16.1 5.5h0m3.8-2.8h0m62.5 1.6h0m24.8-1.4h0m60.6 1.8h0m3.3 .5h0m9.8 0h0m.1 15.3h0m6-12.2h0m29.7-7.3h0m2.1 5.9h0m28.1-7h0m.4 4h0m9.4 3.4h0m25.7-4.3h0m70.4 8.6h0m4.4-6.7h0"/>
<path d="M759.8 1493.7h0m.2 4.9h0m10.5-1h0m32.7-2.1h0m5.6-2.2h0m6.4-4.2h0m8.8 7.9h0m10.3-.3h0m5.2-2.7h0m38.1 7.2h0m13.1-8.6h0m4 4.2h0m7.6-.1h0m90.7-2.3h0m3 2.7h0m23.5-.5h0m4.6-4.9h0m36.8 1.4h0m43 8h0m10-8.1h0m9.5-1.6h0m5.5 6.8h0m7.9-2.9h0m14.2 1.1h0m23.8-1h0m1.9-1.8h0m.9-1.8h0m4.3 .3h0m5.2 .2h0m75.7-4h0"/>
<path d="M751.4 1490.2h0m14.2 1.2h0m24.4 2.2h0m14.5 2.4h0m18-.3h0m18-3.9h0m5.7 2.4h0m12.4-1.9h0m28.6 6.5h0m57.7-11.6h0m8.9-17.1h0m7.9 27h0m17.3 11.1h0m27-13.5h0m15.2-.2h0m30.9 3.7h0m4.7-4.1h0m20.4-1.3h0m26.6 1.6h0m22.3 4.5h0m11.1-1.2h0m1.6-.6h0m20.4-.5h0m21.8 2.3h0m.1-9h0m.4 3.4h0m15 1.6h0m8.6 3.9h0m27-2.4h0m21.4 .4h0m64.5-3.9h0"/>
<path d="M745.6 1498.1h0m56.6-5.8h0m7.7 3.2h0m5 .4h0m23.3-.9h0m9.8 1.4h0m5.2-2.6h0m2.4-1.8h0m40.8 3.8h0m36-2.7h0m34.5 1.7h0m21-1.4h0m51.9-.6h0m16.8 3.5h0m1.6-11.6h0m2.4 16.3h0m20.5-6.7h0m11.9-4.5h0m8.9 6.1h0m24.8-3.1h0m30.6 6.3h0m33.9-4h0m26.6-2h0m20.8 2.5h0m39.8 3.4h0m3.3-17.7h0m41.6 13.3h0"/>
<path d="M738.7 1493.7h0m17.8 4h0m5.7-6.9h0m2.9 6.1h0m17.9-1h0m23.6-1.7h0m19.5 4.3h0m30.2-4.5h0m1.4 .7h0m8.6 5.6h0m15.8-5.8h0m36 5.3h0m1.9-4.4h0m7.9-.5h0m11.3-17h0m9.7 21.5h0m2.3-8.9h0m49 3.6h0m4.3 4.5h0m5.2-4h0m38.6 1h0m34.1-.8h0m3.9 3.2h0m33.7-3.4h0m27.1-2.5h0m17.6-13.1h0m14 15.5h0m4.7 .8h0m6.3 2.2h0m11.6-3.9h0m19.4 2.8h0m3.2 10.4h0m3.4-10.1h0m6.3 .6h0m7.1-.7h0m4.1-4.5h0m8.5 4.3h0m16.9-3.3h0m25.7 3.5h0m5.7-.4h0"/>
<path d="M745.3 1495.1h0m27.1-2.6h0m42.8 4h0m62.1 1.5h0m35.7-5.8h0m3.6-2.1h0m20.4 7.1h0m21.8-2.6h0m7.2 1h0m30.8 .1h0m4.6-5.2h0m8.7 6.3h0m3.4-4.6h0m4.5 4.7h0m27.8 1.6h0m51.3-8.5h0m5.1 4.8h0m4.2 5.2h0m.8-6.9h0m9.6 5.3h0m19.2-6.1h0m3.3 6.8h0m19.9-2.7h0m8.9-.2h0m14.2-3.4h0m46.8 1.2h0m30.4 2.5h0m22.8-1.3h0m8.1 1.9h0m9.3-3.8h0m.7 5.2h0m2.3-5.6h0m10.1 1.5h0"/>
<path d="M749.8 1489.5h0m27.6 2.4h0m3.6 4.6h0m11.5-4.3h0m15 3.6h0m6.3 1.5h0m10.9-3.2h0m52.6 7.3h0m55.1 13.3h0m35.3-22.1h0m29.7-3.4h0m10.3 2.3h0m39.1 4.7h0m7.3-.1h0m20.7-7.3h0m6.5 7.6h0m4.3 4.3h0m6.7-.3h0m26.6-9.2h0m3.7 5.6h0m14 2.5h0m33.9-2.2h0m13.9-1.8h0m44.5-1.9h0m13.9 1.9h0m78 1.1h0"/>
<path d="M777.3 1487.0h0m22 9.9h0m1.4-3.9h0m7.7 4.4h0m11.6 .5h0m22-10.1h0m38 9.5h0m13.9-3.1h0m7.4-1.8h0m18.3 3.1h0m6.5 4.6h0m17.2-8.5h0m36.4 3h0m1.6 .2h0m9.5 3.4h0m23.9-3.7h0m28.2 .5h0m5.1-.6h0m13.2 3.5h0m1.2-4.7h0m1.1 4.8h0m4.1-6.6h0m10.6 6.6h0m3.1-3.4h0m3.2 1.5h0m30.2-5h0m3 9.9h0m8.2-4h0m53.9-1.2h0m0 5.1h0m1.8-6.2h0m8.4 2.4h0m19-2.5h0m3.1-3.8h0m1.6 4.5h0m.2-.1h0m25.8 3.7h0m8.7-4.8h0m8-.6h0m11.2 3.4h0m37.6-4h0"/>
<path d="M738.7 1500.4h0m14.3-5.2h0m55.4-2.1h0m11.6 .1h0m12-2.1h0m28.5 5.4h0m.7-9.9h0m.9 11.4h0m69.1-2.6h0m39.8-4.2h0m.2 2.4h0m12.3-.9h0m.3 5.7h0m10.9-6.8h0m25.6 1.4h0m30.6 8h0m15.9-4.7h0m24.8 1.3h0m27.2-.5h0m.5 1.4h0m41.5-4.2h0m2.9 4.2h0m28.6-4h0m4.7-.7h0m6.5 .7h0m1.1 7.3h0m6-8.6h0m.7 5.7h0m17.9-5.7h0m3.3 1.6h0m21 2.3h0m44.2-2.5h0m9.5-.4h0"/>
<path d="M762.4 1493.3h0m18.8 2.7h0m10.6-1.2h0m40.9 35.2h0m5.7-37.1h0m4.1-.3h0m17.5-1.3h0m11.6 8.4h0m28.4-6.6h0m26.9 2.5h0m72.4-.1h0m7.3 .8h0m.3 1.2h0m17.8-.4h0m4.2-4.3h0m14.5-1h0m12.4 5.9h0m4.2-6.5h0m4.3 5.2h0m10 1.2h0m6 .5h0m4.6 .7h0m4.2-3.5h0m44.9-.2h0m21.7 5.9h0m15.9-9.8h0m1.2 8h0m13.6-4.1h0m25.9 4.2h0m62.3 1h0m23.4-3.5h0m2.1 1.6h0"/>
<path d="M773.1 1495.8h0m1.9-.6h0m42.6-5.9h0m9.1 3.5h0m.9 7.6h0m5.6-1.1h0m4.9-2.9h0m57.3-4.9h0m41.6 1.8h0m7.9 2.8h0m16.7 1.3h0m37.1-.1h0m18 .1h0m33.8-4h0m12.4 4.7h0m4.9-4.6h0m23.8 4.8h0m8.9-5.5h0m13.3 4.3h0m38.3-4h0m17.3-.2h0m.3 2.5h0m8.2 3.5h0m20.6-1.8h0m26.2-1.4h0m2.4-.1h0m57.4 .7h0"/>
<path d="M784.1 1492.1h0m12.6 .4h0m1 4.2h0m16.3-.1h0m2.9-3.5h0m19.7 2.3h0m3-2.3h0m12.3 6.2h0m31 .2h0m6.1-1.8h0m6.2-2.5h0m19.6-.8h0m25.6 1h0m29.2 3.4h0m31.6-7.4h0m40.4 4.2h0m5.3-1.5h0m3.1-2.9h0m15.3 10.1h0m9.3-3.3h0m15-2.3h0m13.7 .4h0m13-3.8h0m1.7-1.1h0m2.2 3h0m7.6 .1h0m23.4 .9h0m6-4.2h0m4.4 8.7h0m11.9-8.5h0m18 .6h0m107.7 .8h0m22 5h0"/>
<path d="M755.2 1491.5h0m56.1 1h0m21.7 .8h0m123.3 2.1h0m9-3h0m15 3.1h0m31.3-28.8h0m8.5 28.7h0m26.1-9.8h0m37.4 9.2h0m8.6-2h0m17.6 .7h0m5.6 1h0m2.5-1.3h0m17.9 1.8h0m3.1-2.6h0m7.7 3.7h0m20.4 5.2h0m11.8-4.1h0m34.8 .9h0m.7 1.5h0m2.3 3h0m12.2-8.5h0m1.8-3h0m17 1.9h0m9.4 1.6h0m31.5 .1h0m.4 2.9h0m6.3-3h0m2.9 2.3h0m.2-1.4h0m5.5 2.6h0m8.5 0h0m3.1-6.3h0"/>
<path d="M751.4 1493.4h0m34.1 .2h0m11.6 6.7h0m3.1-4.5h0m20.7-.7h0m40 .8h0m21.4-4.1h0m59.1 5.2h0m1.8-3.9h0m9.5 4.3h0m26.3-.1h0m3.8-3.9h0m12.1 1.2h0m7.5 3.8h0m8 2.4h0m6.1-7.5h0m33 3.5h0m14.4-1.9h0m.8 1.9h0m5.9-.9h0m25.2 1.4h0m16.8-2h0m6.6-.3h0m11.5-1.5h0m5.5 1.1h0m5.8-4.4h0m2 8.5h0m.4-.3h0m9.4-3.1h0m.3-3.4h0m17 2.9h0m20 3.1h0m.3-5h0m6.7-1.6h0m39 4.5h0m9.2 1.7h0m47.8-.7h0m11.3-1.4h0m7.8-5.6h0"/>
</g>
<path d="M740.52 1497.02 L745.17 1497.98 L749.82 1493.1 L754.47 1495.62 L759.13 1496.38 L763.78 1494.38 L768.43 1496.13 L773.08 1494.47 L777.74 1493.82 L782.39 1495.4 L787.04 1496.38 L791.69 1494.09 L796.35 1496.37 L801 1494.85 L805.65 1495.08 L810.3 1495.18 L814.96 1494.56 L819.61 1494.34 L824.26 1496 L828.91 1497.83 L833.57 1495.41 L838.22 1494.66 L842.87 1490.19 L847.52 1495.51 L852.18 1495.53 L856.83 1493.92 L861.48 1494.1 L866.13 1497.71 L870.79 1499.67 L875.44 1497.65 L880.09 1495.02 L884.74 1498.08 L889.4 1494.96 L894.05 1493.76 L898.7 1494.42 L903.35 1494.44 L908.01 1495.72 L912.66 1493.57 L917.31 1496.39 L921.97 1494.8 L926.62 1496.28 L931.27 1500.04 L935.92 1478.61 L940.58 1496.2 L945.23 1492.85 L949.88 1495.12 L954.53 1495.61 L959.19 1494.7 L963.84 1495.61 L968.49 1494.44 L973.14 1482.35 L977.8 1500.04 L982.45 1494.82 L987.1 1494.92 L991.75 1496.63 L996.41 1494.8 L1001.06 1495 L1005.71 1495.43 L1010.36 1497.37 L1015.02 1494.56 L1019.67 1494.03 L1024.32 1494.79 L1028.97 1493.94 L1033.63 1494.81 L1038.28 1495.9 L1042.93 1495.44 L1047.58 1495.36 L1052.24 1496.18 L1056.89 1494.76 L1061.54 1496.31 L1066.19 1495.38 L1070.85 1495.03 L1075.5 1494.15 L1080.15 1495.77 L1084.8 1496.28 L1089.46 1495.63 L1094.11 1494.81 L1098.76 1493.49 L1103.41 1495.59 L1108.07 1495.19 L1112.72 1493.52 L1117.37 1495.34 L1122.02 1494.93 L1126.68 1495.52 L1131.33 1494.13 L1135.98 1494.92 L1140.63 1493.15 L1145.29 1496.79 L1149.94 1494.25 L1154.59 1496.3 L1159.25 1494.74 L1163.9 1494.74 L1168.55 1496.51 L1173.2 1494.13 L1177.86 1496.73 L1182.51 1494.81 L1187.16 1494.71 L1191.81 1495.5 L1196.47 1493.69 L1201.12 1494.51 L1205.77 1497.16 L1210.42 1495.17 L1215.08 1497.77 L1219.73 1496.42 L1224.38 1494.51 L1229.03 1494.88 L1233.69 1496.14 L1238.34 1496.68 L1242.99 1494.53 L1247.64 1495.52 L1252.3 1497.09 L1256.95 1496.21 L1261.6 1493.01 L1266.25 1495.52 L1270.91 1496.9 L1275.56 1495.99 L1280.21 1497.62 L1284.86 1498.68 L1289.52 1496.48 L1294.17 1496.85 L1298.82 1495.19 L1303.47 1495.41 L1308.13 1494.2 L1312.78 1495.17 L1317.43 1492.35 L1322.08 1495.71" stroke="#4a0fd0" stroke-width="3.2" fill="none" stroke-linejoin="round"/>
<path d="M738.19 1494.22 L739.66 1493.77 L741.13 1493.33 L742.6 1492.9 L744.07 1492.48 L745.54 1492.08 L747 1491.69 L748.47 1491.32 L749.94 1490.97 L751.41 1490.64 L752.88 1490.33 L754.35 1490.05 L755.82 1489.8 L757.29 1489.57 L758.76 1489.37 L760.23 1489.21 L761.7 1489.07 L763.17 1488.96 L764.64 1488.89 L766.1 1488.85 L767.57 1488.84 L769.04 1488.86 L770.51 1488.92 L771.98 1489 L773.45 1489.12 L774.92 1489.27 L776.39 1489.45 L777.86 1489.66 L779.33 1489.9 L780.8 1490.17 L782.27 1490.46 L783.74 1490.78 L785.2 1491.11 L786.67 1491.47 L788.14 1491.85 L789.61 1492.25 L791.08 1492.66 L792.55 1493.08 L794.02 1493.52 L795.49 1493.96 L796.96 1494.42 L798.43 1494.87 L799.9 1495.33 L801.37 1495.79 L802.84 1496.24 L804.3 1496.69 L805.77 1497.14 L807.24 1497.57 L808.71 1498 L810.18 1498.41 L811.65 1498.8 L813.12 1499.18 L814.59 1499.53 L816.06 1499.87 L817.53 1500.18 L819 1500.47 L820.47 1500.73 L821.94 1500.97 L823.4 1501.17 L824.87 1501.35 L826.34 1501.49 L827.81 1501.61 L829.28 1501.69 L830.75 1501.74 L832.22 1501.76 L833.69 1501.75 L835.16 1501.7 L836.63 1501.62 L838.1 1501.51 L839.57 1501.37 L841.04 1501.2 L842.5 1501 L843.97 1500.77 L845.44 1500.51 L846.91 1500.23 L848.38 1499.92 L849.85 1499.59 L851.32 1499.23 L852.79 1498.86 L854.26 1498.47 L855.73 1498.06 L857.2 1497.64 L858.67 1497.21 L860.14 1496.77 L861.6 1496.32 L863.07 1495.86 L864.54 1495.4 L866.01 1494.95 L867.48 1494.49 L868.95 1494.04 L870.42 1493.59 L871.89 1493.15 L873.36 1492.73 L874.83 1492.31 L876.3 1491.91 L877.77 1491.53 L879.24 1491.17 L880.7 1490.83 L882.17 1490.51 L883.64 1490.21 L885.11 1489.94 L886.58 1489.7 L888.05 1489.49 L889.52 1489.3 L890.99 1489.15 L892.46 1489.02 L893.93 1488.93 L895.4 1488.87 L896.87 1488.84 L898.34 1488.84 L899.8 1488.88 L901.27 1488.95 L902.74 1489.05 L904.21 1489.18 L905.68 1489.34 L907.15 1489.54 L908.62 1489.76 L910.09 1490.01 L911.56 1490.29 L913.03 1490.59 L914.5 1490.91 L915.97 1491.26 L917.43 1491.63 L918.9 1492.01 L920.37 1492.42 L921.84 1492.83 L923.31 1493.26 L924.78 1493.7 L926.25 1494.15 L927.72 1494.6 L929.19 1495.06 L930.66 1495.52 L932.13 1495.98 L933.6 1496.43 L935.07 1496.88 L936.53 1497.32 L938 1497.75 L939.47 1498.17 L940.94 1498.57 L942.41 1498.96 L943.88 1499.33 L945.35 1499.67 L946.82 1500 L948.29 1500.3 L949.76 1500.58 L951.23 1500.83 L952.7 1501.05 L954.17 1501.25 L955.63 1501.41 L957.1 1501.55 L958.57 1501.65 L960.04 1501.72 L961.51 1501.76 L962.98 1501.76 L964.45 1501.73 L965.92 1501.67 L967.39 1501.58 L968.86 1501.46 L970.33 1501.31 L971.8 1501.12 L973.27 1500.91 L974.73 1500.67 L976.2 1500.4 L977.67 1500.1 L979.14 1499.78 L980.61 1499.44 L982.08 1499.08 L983.55 1498.7 L985.02 1498.3 L986.49 1497.89 L987.96 1497.46 L989.43 1497.03 L990.9 1496.58 L992.37 1496.13 L993.83 1495.67 L995.3 1495.21 L996.77 1494.76 L998.24 1494.3 L999.71 1493.85 L1001.18 1493.41 L1002.65 1492.98 L1004.12 1492.55 L1005.59 1492.15 L1007.06 1491.75 L1008.53 1491.38 L1010 1491.03 L1011.47 1490.69 L1012.93 1490.38 L1014.4 1490.1 L1015.87 1489.84 L1017.34 1489.61 L1018.81 1489.41 L1020.28 1489.23 L1021.75 1489.09 L1023.22 1488.98 L1024.69 1488.9 L1026.16 1488.85 L1027.63 1488.84 L1029.1 1488.85 L1030.57 1488.9 L1032.03 1488.99 L1033.5 1489.1 L1034.97 1489.25 L1036.44 1489.42 L1037.91 1489.63 L1039.38 1489.86 L1040.85 1490.12 L1042.32 1490.41 L1043.79 1490.72 L1045.26 1491.05 L1046.73 1491.41 L1048.2 1491.79 L1049.67 1492.18 L1051.13 1492.59 L1052.6 1493.01 L1054.07 1493.44 L1055.54 1493.89 L1057.01 1494.34 L1058.48 1494.79 L1059.95 1495.25 L1061.42 1495.71 L1062.89 1496.17 L1064.36 1496.62 L1065.83 1497.06 L1067.3 1497.5 L1068.77 1497.92 L1070.23 1498.34 L1071.7 1498.73 L1073.17 1499.11 L1074.64 1499.47 L1076.11 1499.81 L1077.58 1500.13 L1079.05 1500.42 L1080.52 1500.69 L1081.99 1500.93 L1083.46 1501.14 L1084.93 1501.32 L1086.4 1501.47 L1087.87 1501.59 L1089.33 1501.68 L1090.8 1501.74 L1092.27 1501.76 L1093.74 1501.75 L1095.21 1501.71 L1096.68 1501.64 L1098.15 1501.54 L1099.62 1501.4 L1101.09 1501.23 L1102.56 1501.04 L1104.03 1500.81 L1105.5 1500.56 L1106.97 1500.28 L1108.43 1499.97 L1109.9 1499.65 L1111.37 1499.3 L1112.84 1498.93 L1114.31 1498.54 L1115.78 1498.13 L1117.25 1497.72 L1118.72 1497.28 L1120.19 1496.84 L1121.66 1496.39 L1123.13 1495.94 L1124.6 1495.48 L1126.07 1495.02 L1127.53 1494.57 L1129 1494.11 L1130.47 1493.67 L1131.94 1493.23 L1133.41 1492.8 L1134.88 1492.38 L1136.35 1491.98 L1137.82 1491.6 L1139.29 1491.23 L1140.76 1490.89 L1142.23 1490.56 L1143.7 1490.26 L1145.17 1489.99 L1146.63 1489.74 L1148.1 1489.52 L1149.57 1489.33 L1151.04 1489.17 L1152.51 1489.04 L1153.98 1488.94 L1155.45 1488.88 L1156.92 1488.84 L1158.39 1488.84 L1159.86 1488.87 L1161.33 1488.93 L1162.8 1489.03 L1164.26 1489.16 L1165.73 1489.31 L1167.2 1489.5 L1168.67 1489.72 L1170.14 1489.96 L1171.61 1490.24 L1173.08 1490.53 L1174.55 1490.85 L1176.02 1491.2 L1177.49 1491.56 L1178.96 1491.95 L1180.43 1492.35 L1181.9 1492.76 L1183.36 1493.19 L1184.83 1493.63 L1186.3 1494.07 L1187.77 1494.53 L1189.24 1494.98 L1190.71 1495.44 L1192.18 1495.9 L1193.65 1496.35 L1195.12 1496.8 L1196.59 1497.24 L1198.06 1497.68 L1199.53 1498.1 L1201 1498.5 L1202.46 1498.89 L1203.93 1499.26 L1205.4 1499.62 L1206.87 1499.95 L1208.34 1500.25 L1209.81 1500.53 L1211.28 1500.79 L1212.75 1501.02 L1214.22 1501.22 L1215.69 1501.39 L1217.16 1501.52 L1218.63 1501.63 L1220.1 1501.71 L1221.56 1501.75 L1223.03 1501.76 L1224.5 1501.74 L1225.97 1501.69 L1227.44 1501.6 L1228.91 1501.48 L1230.38 1501.33 L1231.85 1501.16 L1233.32 1500.95 L1234.79 1500.71 L1236.26 1500.45 L1237.73 1500.16 L1239.2 1499.84 L1240.66 1499.5 L1242.13 1499.15 L1243.6 1498.77 L1245.07 1498.37 L1246.54 1497.96 L1248.01 1497.54 L1249.48 1497.1 L1250.95 1496.66 L1252.42 1496.21 L1253.89 1495.75 L1255.36 1495.29 L1256.83 1494.84 L1258.3 1494.38 L1259.76 1493.93 L1261.23 1493.48 L1262.7 1493.05 L1264.17 1492.63 L1265.64 1492.22 L1267.11 1491.82 L1268.58 1491.44 L1270.05 1491.09 L1271.52 1490.75 L1272.99 1490.44 L1274.46 1490.15 L1275.93 1489.88 L1277.4 1489.65 L1278.86 1489.44 L1280.33 1489.26 L1281.8 1489.11 L1283.27 1489 L1284.74 1488.91 L1286.21 1488.86 L1287.68 1488.84 L1289.15 1488.85 L1290.62 1488.89 L1292.09 1488.97 L1293.56 1489.08 L1295.03 1489.22 L1296.5 1489.39 L1297.96 1489.59 L1299.43 1489.82 L1300.9 1490.07 L1302.37 1490.36 L1303.84 1490.66 L1305.31 1490.99 L1306.78 1491.35 L1308.25 1491.72 L1309.72 1492.11 L1311.19 1492.52 L1312.66 1492.94 L1314.13 1493.37 L1315.6 1493.81 L1317.06 1494.26 L1318.53 1494.71 L1320 1495.17 L1321.47 1495.63 L1322.94 1496.09 L1324.41 1496.54" stroke="#f39019" stroke-width="3.6" fill="none"/>
<path d="M738.19 1496.24 L739.66 1497.77 L741.13 1499.26 L742.6 1500.66 L744.07 1501.96 L745.54 1503.12 L747 1504.13 L748.47 1504.96 L749.94 1505.59 L751.41 1506.02 L752.88 1506.23 L754.35 1506.23 L755.82 1506 L757.29 1505.56 L758.76 1504.91 L760.23 1504.07 L761.7 1503.05 L763.17 1501.88 L764.64 1500.58 L766.1 1499.17 L767.57 1497.68 L769.04 1496.14 L770.51 1494.59 L771.98 1493.05 L773.45 1491.55 L774.92 1490.14 L776.39 1488.82 L777.86 1487.64 L779.33 1486.61 L780.8 1485.75 L782.27 1485.09 L783.74 1484.63 L785.2 1484.38 L786.67 1484.36 L788.14 1484.55 L789.61 1484.96 L791.08 1485.58 L792.55 1486.39 L794.02 1487.39 L795.49 1488.54 L796.96 1489.82 L798.43 1491.22 L799.9 1492.7 L801.37 1494.23 L802.84 1495.79 L804.3 1497.33 L805.77 1498.83 L807.24 1500.26 L808.71 1501.59 L810.18 1502.8 L811.65 1503.85 L813.12 1504.74 L814.59 1505.43 L816.06 1505.92 L817.53 1506.2 L819 1506.25 L820.47 1506.09 L821.94 1505.71 L823.4 1505.12 L824.87 1504.34 L826.34 1503.37 L827.81 1502.24 L829.28 1500.97 L830.75 1499.59 L832.22 1498.12 L833.69 1496.59 L835.16 1495.04 L836.63 1493.5 L838.1 1491.99 L839.57 1490.54 L841.04 1489.19 L842.5 1487.97 L843.97 1486.89 L845.44 1485.98 L846.91 1485.26 L848.38 1484.74 L849.85 1484.43 L851.32 1484.34 L852.79 1484.47 L854.26 1484.82 L855.73 1485.38 L857.2 1486.14 L858.67 1487.08 L860.14 1488.18 L861.6 1489.43 L863.07 1490.8 L864.54 1492.26 L866.01 1493.78 L867.48 1495.33 L868.95 1496.88 L870.42 1498.4 L871.89 1499.85 L873.36 1501.21 L874.83 1502.46 L876.3 1503.56 L877.77 1504.5 L879.24 1505.25 L880.7 1505.8 L882.17 1506.14 L883.64 1506.26 L885.11 1506.16 L886.58 1505.84 L888.05 1505.32 L889.52 1504.59 L890.99 1503.67 L892.46 1502.59 L893.93 1501.36 L895.4 1500 L896.87 1498.56 L898.34 1497.05 L899.8 1495.5 L901.27 1493.95 L902.74 1492.42 L904.21 1490.96 L905.68 1489.58 L907.15 1488.31 L908.62 1487.19 L910.09 1486.23 L911.56 1485.45 L913.03 1484.87 L914.5 1484.5 L915.97 1484.35 L917.43 1484.41 L918.9 1484.7 L920.37 1485.19 L921.84 1485.89 L923.31 1486.78 L924.78 1487.84 L926.25 1489.05 L927.72 1490.39 L929.19 1491.83 L930.66 1493.33 L932.13 1494.87 L933.6 1496.43 L935.07 1497.96 L936.53 1499.43 L938 1500.83 L939.47 1502.11 L940.94 1503.25 L942.41 1504.24 L943.88 1505.05 L945.35 1505.66 L946.82 1506.06 L948.29 1506.25 L949.76 1506.21 L951.23 1505.96 L952.7 1505.49 L954.17 1504.82 L955.63 1503.96 L957.1 1502.92 L958.57 1501.73 L960.04 1500.41 L961.51 1498.99 L962.98 1497.49 L964.45 1495.95 L965.92 1494.4 L967.39 1492.87 L968.86 1491.38 L970.33 1489.97 L971.8 1488.67 L973.27 1487.5 L974.73 1486.49 L976.2 1485.66 L977.67 1485.02 L979.14 1484.59 L980.61 1484.37 L982.08 1484.37 L983.55 1484.59 L985.02 1485.03 L986.49 1485.67 L987.96 1486.5 L989.43 1487.52 L990.9 1488.69 L992.37 1489.99 L993.83 1491.4 L995.3 1492.88 L996.77 1494.42 L998.24 1495.97 L999.71 1497.51 L1001.18 1499.01 L1002.65 1500.43 L1004.12 1501.75 L1005.59 1502.93 L1007.06 1503.97 L1008.53 1504.83 L1010 1505.5 L1011.47 1505.96 L1012.93 1506.21 L1014.4 1506.24 L1015.87 1506.06 L1017.34 1505.65 L1018.81 1505.04 L1020.28 1504.23 L1021.75 1503.24 L1023.22 1502.09 L1024.69 1500.81 L1026.16 1499.42 L1027.63 1497.94 L1029.1 1496.41 L1030.57 1494.86 L1032.03 1493.31 L1033.5 1491.81 L1034.97 1490.37 L1036.44 1489.04 L1037.91 1487.83 L1039.38 1486.77 L1040.85 1485.89 L1042.32 1485.19 L1043.79 1484.69 L1045.26 1484.41 L1046.73 1484.35 L1048.2 1484.5 L1049.67 1484.88 L1051.13 1485.46 L1052.6 1486.24 L1054.07 1487.2 L1055.54 1488.33 L1057.01 1489.59 L1058.48 1490.97 L1059.95 1492.44 L1061.42 1493.97 L1062.89 1495.52 L1064.36 1497.06 L1065.83 1498.57 L1067.3 1500.02 L1068.77 1501.37 L1070.23 1502.6 L1071.7 1503.68 L1073.17 1504.6 L1074.64 1505.32 L1076.11 1505.85 L1077.58 1506.16 L1079.05 1506.26 L1080.52 1506.13 L1081.99 1505.79 L1083.46 1505.24 L1084.93 1504.49 L1086.4 1503.55 L1087.87 1502.45 L1089.33 1501.2 L1090.8 1499.83 L1092.27 1498.38 L1093.74 1496.86 L1095.21 1495.31 L1096.68 1493.76 L1098.15 1492.24 L1099.62 1490.79 L1101.09 1489.42 L1102.56 1488.17 L1104.03 1487.07 L1105.5 1486.13 L1106.97 1485.37 L1108.43 1484.81 L1109.9 1484.47 L1111.37 1484.34 L1112.84 1484.43 L1114.31 1484.74 L1115.78 1485.27 L1117.25 1485.99 L1118.72 1486.9 L1120.19 1487.98 L1121.66 1489.21 L1123.13 1490.56 L1124.6 1492 L1126.07 1493.51 L1127.53 1495.06 L1129 1496.61 L1130.47 1498.14 L1131.94 1499.61 L1133.41 1500.99 L1134.88 1502.25 L1136.35 1503.38 L1137.82 1504.35 L1139.29 1505.13 L1140.76 1505.72 L1142.23 1506.09 L1143.7 1506.25 L1145.17 1506.19 L1146.63 1505.91 L1148.1 1505.42 L1149.57 1504.73 L1151.04 1503.84 L1152.51 1502.79 L1153.98 1501.58 L1155.45 1500.25 L1156.92 1498.81 L1158.39 1497.31 L1159.86 1495.77 L1161.33 1494.21 L1162.8 1492.68 L1164.26 1491.21 L1165.73 1489.81 L1167.2 1488.52 L1168.67 1487.37 L1170.14 1486.38 L1171.61 1485.57 L1173.08 1484.96 L1174.55 1484.55 L1176.02 1484.36 L1177.49 1484.38 L1178.96 1484.63 L1180.43 1485.09 L1181.9 1485.76 L1183.36 1486.62 L1184.83 1487.65 L1186.3 1488.84 L1187.77 1490.15 L1189.24 1491.57 L1190.71 1493.07 L1192.18 1494.61 L1193.65 1496.16 L1195.12 1497.69 L1196.59 1499.18 L1198.06 1500.59 L1199.53 1501.9 L1201 1503.07 L1202.46 1504.08 L1203.93 1504.92 L1205.4 1505.57 L1206.87 1506.01 L1208.34 1506.23 L1209.81 1506.23 L1211.28 1506.02 L1212.75 1505.59 L1214.22 1504.95 L1215.69 1504.12 L1217.16 1503.11 L1218.63 1501.95 L1220.1 1500.65 L1221.56 1499.24 L1223.03 1497.76 L1224.5 1496.22 L1225.97 1494.67 L1227.44 1493.13 L1228.91 1491.63 L1230.38 1490.21 L1231.85 1488.89 L1233.32 1487.7 L1234.79 1486.66 L1236.26 1485.79 L1237.73 1485.12 L1239.2 1484.65 L1240.66 1484.39 L1242.13 1484.35 L1243.6 1484.54 L1245.07 1484.94 L1246.54 1485.54 L1248.01 1486.35 L1249.48 1487.33 L1250.95 1488.47 L1252.42 1489.75 L1253.89 1491.15 L1255.36 1492.62 L1256.83 1494.15 L1258.3 1495.7 L1259.76 1497.25 L1261.23 1498.75 L1262.7 1500.19 L1264.17 1501.53 L1265.64 1502.74 L1267.11 1503.8 L1268.58 1504.69 L1270.05 1505.4 L1271.52 1505.9 L1272.99 1506.19 L1274.46 1506.26 L1275.93 1506.1 L1277.4 1505.74 L1278.86 1505.16 L1280.33 1504.38 L1281.8 1503.42 L1283.27 1502.3 L1284.74 1501.04 L1286.21 1499.66 L1287.68 1498.2 L1289.15 1496.68 L1290.62 1495.12 L1292.09 1493.58 L1293.56 1492.06 L1295.03 1490.62 L1296.5 1489.26 L1297.96 1488.03 L1299.43 1486.94 L1300.9 1486.03 L1302.37 1485.29 L1303.84 1484.76 L1305.31 1484.44 L1306.78 1484.34 L1308.25 1484.46 L1309.72 1484.8 L1311.19 1485.34 L1312.66 1486.09 L1314.13 1487.02 L1315.6 1488.12 L1317.06 1489.37 L1318.53 1490.73 L1320 1492.18 L1321.47 1493.7 L1322.94 1495.25 L1324.41 1496.8" stroke="#f05cf0" stroke-width="3.4" fill="none"/>
</g>
<line x1="737.8" y1="1406.22" x2="737.8" y2="1584.08" stroke="#262626" stroke-width="1.5" />
<line x1="737.8" y1="1583.58" x2="1323.4" y2="1583.58" stroke="#262626" stroke-width="1.5" />
<line x1="731.6" y1="1439.1" x2="737.8" y2="1439.1" stroke="#262626" stroke-width="1.5" />
<line x1="731.6" y1="1495.3" x2="737.8" y2="1495.3" stroke="#262626" stroke-width="1.5" />
<line x1="731.6" y1="1551.5" x2="737.8" y2="1551.5" stroke="#262626" stroke-width="1.5" />
<line x1="751.4" y1="1583.58" x2="751.4" y2="1593.88" stroke="#262626" stroke-width="1.5" />
<line x1="844.7" y1="1583.58" x2="844.7" y2="1593.88" stroke="#262626" stroke-width="1.5" />
<line x1="938" y1="1583.58" x2="938" y2="1593.88" stroke="#262626" stroke-width="1.5" />
<line x1="1031.3" y1="1583.58" x2="1031.3" y2="1593.88" stroke="#262626" stroke-width="1.5" />
<line x1="1124.6" y1="1583.58" x2="1124.6" y2="1593.88" stroke="#262626" stroke-width="1.5" />
<line x1="1217.9" y1="1583.58" x2="1217.9" y2="1593.88" stroke="#262626" stroke-width="1.5" />
<line x1="1311.2" y1="1583.58" x2="1311.2" y2="1593.88" stroke="#262626" stroke-width="1.5" />
<text x="752.4" y="1421.5" font-size="25" text-anchor="start" font-weight="normal" fill="#262626" letter-spacing="0.1">fly 2</text>
<clipPath id="cc3"><rect x="103.69" y="1634.09" width="586.22" height="176.56"/></clipPath>
<g clip-path="url(#cc3)">
<g stroke="#4a10d0" stroke-opacity="0.5" stroke-width="8" stroke-linecap="round" fill="none">
<path d="M147.5 1718.4h0m64 9.7h0m3.3-6.5h0m25.6 1.1h0m.8 1.2h0m25.8-1.6h0m6.4-2.1h0m28.5 3.6h0m47.7-1.7h0m11.7-3.3h0m7.9 2.5h0m10.2 1.2h0m3.4 2.6h0m6.6-4.8h0m60.3 4.8h0m16.6-8.3h0m77.3 5.6h0m19.9 4h0m39.5-4.5h0m52.2-1h0"/>
<path d="M139.8 1721.9h0m11.9-.3h0m12.9 1.5h0m29.8 2.3h0m31.2 1.9h0m39-10.6h0m86.2 8.4h0m4.2-1.5h0m8.7 21.1h0m4.8-19.1h0m9.7-7h0m6.8-1.2h0m5.9 2.7h0m2.1-.7h0m4.1 .2h0m49.7-1.7h0m12.9 4.8h0m57-1.2h0m33.1 5.2h0m98 .3h0"/>
<path d="M121.3 1720.3h0m10.3 .8h0m4.2 1.6h0m18.2-4.7h0m36.6 6.2h0m4.8-3.3h0m63.4-1.1h0m24.9 2.5h0m7.1-3.1h0m16.9 2.5h0m12.1-3.6h0m61.6 6.2h0m3.1 .6h0m10.7 1h0m7.2-6.9h0m55.5-2.3h0m29.5 1.4h0m3.9-8.1h0m17.9 17.1h0m22.9-10.6h0m49.3-10.9h0m9.9 14.4h0m5.6 2.2h0m32.2-3.7h0m2.7 4.9h0m.2-3.6h0m2.6 4.6h0m26.5-.4h0m17.9-2.4h0m7.3 4.2h0m.9 1.1h0"/>
<path d="M132.2 1722.4h0m28.3-3h0m.7 1.7h0m13.3-3h0m47.1 1h0m4 1.7h0m16.3 34.1h0m27.3-30.3h0m59.3-3.8h0m4.4-.4h0m7 3h0m12.1 .8h0m.4-4h0m5.1 2.2h0m25.2-.5h0m74.4 3.3h0m9.3-14.1h0m63.7 12.4h0m119.9 1h0m20-1.2h0m.9 1.7h0m10.6-2.8h0"/>
<path d="M105.8 1721.5h0m3.3 .2h0m5.3 .5h0m10.2 2h0m9.5-40.7h0m2.9 40.9h0m51.4-2h0m28.5 .1h0m18.9-.9h0m121.5 5.1h0m4.4-9.2h0m3.2 3.2h0m19.1 1h0m2 .5h0m28.2 1.5h0m25.8-5h0m20.5 4.8h0m63.1-1.5h0m28.4-2.2h0m14.7 .6h0m33.3 5.7h0m.1-4.8h0m42.2 3.4h0m.9-1h0m20.3 .6h0m16.8-6.7h0m4.7 8.1h0"/>
<path d="M133.6 1724.6h0m1.7-3.1h0m12.3-1.5h0m6.6 5.9h0m14.7-9.5h0m3.8 10.1h0m12.7-8h0m175.3 6.2h0m55-1.7h0m51.4-1.5h0m46.3-2.8h0m98.9 1h0m31.1 2.6h0m.5 1h0m34.2-1.5h0"/>
<path d="M109.6 1724.0h0m19.4-.8h0m64.1-.7h0m5.2-3.2h0m22.6 14.5h0m33.4-18.5h0m50.2 7h0m5.7-1.3h0m8.1 .6h0m31.2 2.9h0m23.1-3.9h0m14 1h0m2.6 15.6h0m18.6-11.7h0m4.7-2h0m56.5-3.9h0m20.3 4.3h0m53.7-.7h0m7.5-3.6h0m11.6 6.1h0m6-3.2h0m8.4-.1h0m25.2 2.4h0m8.3-3.9h0m23.2-.7h0m53.8 3.1h0"/>
<path d="M124.5 1720.4h0m7.3 .1h0m69.4 .1h0m33-.1h0m27.6-1.2h0m1 3.1h0m70.5-.7h0m17 3h0m5.7-2.8h0m30.1 3.7h0m7.5-14.9h0m63.3 8.9h0m11.4 2.8h0m53.5 .8h0m47-40.4h0m16.5 42.7h0m6-2.1h0m19.7-11.7h0m37.2 9.6h0m14.9 2.2h0m22.9-2.1h0"/>
<path d="M108.6 1730.4h0m21.9-6.1h0m3.1 .4h0m1.6-3.8h0m.6 5.4h0m14.1-4.5h0m7.5 1.6h0m3.8 3.7h0m41.7-6.7h0m1.7 5.1h0m18.8-.2h0m16.5-5.8h0m8.4 2.6h0m62 1.1h0m42.4-5.5h0m10.2 2.3h0m13.8 2.3h0m9.2-2.9h0m9.3 5.5h0m23.3-5.2h0m24.7 4.6h0m54.5-.4h0m7.8-33.6h0m55.8 31.5h0m2.1 2.3h0m4.3-2.5h0m17.9 6h0m17.4-5.6h0m38.8 3.1h0m34.4-5h0"/>
<path d="M111.6 1719.6h0m61.7 3.6h0m23.9 1.4h0m41-3.7h0m12.7 4.8h0m27.7-10h0m12.6 8.8h0m3.7-2.2h0m23.2-3.4h0m10.4 5.3h0m10.7-3.6h0m26.2 4.1h0m2.6-2.3h0m10.5-1.6h0m4.6-1.2h0m13.2 3.9h0m6.2 .1h0m29.8-2.4h0m26.3 2.8h0m43.8-.4h0m1.3-4.5h0m60.4 4.6h0m21.7 2.2h0m7.5-4.5h0m10.9 1.8h0m12.2-4.2h0m44.3 4.5h0"/>
<path d="M126.7 1723.1h0m3.6-2.4h0m23.6 4.2h0m24.5-4.1h0m18.3-2h0m3.8 4h0m8.6 .9h0m32.8 2.6h0m7.8-7.5h0m31.6 7.8h0m59.5-1.9h0m21.1-3.5h0m4.3 .1h0m15.3 3.4h0m49.9-1.2h0m51.8 1.6h0m29.8-1.2h0m65.9-.3h0m56-3.1h0m19 .5h0"/>
<path d="M192.3 1720.8h0m13.4 1h0m11.8-1.9h0m42.6 .6h0m1.5 .9h0m47.6-1.2h0m1.9-.6h0m9 .5h0m8.6 1.9h0m16.7-5.1h0m20.9 8.2h0m3.9-1.9h0m11.9-2h0m69-.9h0m42.6 4.7h0m9.5-7.7h0m15.4 5.2h0m19.6-.8h0m138.4 1.7h0m9.6-2.9h0"/>
<path d="M109.9 1720.3h0m10.4-.7h0m4.4 3.9h0m32.5-3.2h0m40.4 1.9h0m41.5 .1h0m7.5-2.4h0m33.5 1.6h0m25-.8h0m19.2-1h0m13.7-1.5h0m17.4 4.2h0m34.5-.9h0m16.4-3.9h0m14.6 3.2h0m.3-2.6h0m1.3 5.4h0m12.5-5.8h0m12.2 10.7h0m42.8-.7h0m13.8 9.4h0m16-12.8h0m6.3 .1h0m44.9 2.8h0m.1-7.7h0m14.8 2h0m16.6 3.8h0m42.7-3.6h0m12.3 3.3h0m4.1-2.2h0m14.6-2.2h0m2.5 2.2h0"/>
<path d="M125.5 1724.9h0m11.6-4.9h0m8.1 1.7h0m13-1.3h0m83.7-.5h0m2.6-2.4h0m21.5 3.9h0m20.4 2.9h0m43.2-2.8h0m20.3 1.9h0m9.5 1.3h0m.3-.4h0m11.2-1.7h0m21.1-6.9h0m4.5 4.3h0m27.9 3.7h0m131.6-9.6h0"/>
<path d="M153.3 1724.0h0m79 1.2h0m66.3-4.9h0m11.7 2.6h0m29.2-3.4h0m19.4 5.9h0m7.4 1.3h0m14.1-5.3h0m29.6 3h0m79.1-4.3h0m20.3 2h0m40.4-25.7h0m15.1 25.3h0m7.6 1.9h0m28.3-2.4h0m48.2 .9h0m14.4 1.9h0"/>
<path d="M108.5 1716.9h0m19.2 6.5h0m3-4h0m10.7 6.6h0m4.1-4.2h0m9.5-.8h0m11.2-4.7h0m.8 8.6h0m29.2-9.9h0m9.8 9.6h0m3.8-.1h0m8.2 .5h0m.5 1.3h0m11.3-1.1h0m6.8-.9h0m29.9-.2h0m6.9-2.4h0m47.7-1.7h0m23.3 3h0m36.2 3.2h0m3.8-5.3h0m15.4 6h0m10.4-4.3h0m39.3-.2h0m43.9-.9h0m4.8-1.6h0m82.9 2.2h0m77.9-1.7h0m.5-.9h0m4 .7h0m8.7-23.8h0"/>
<path d="M133.3 1721.6h0m9.5-1.7h0m57.8 5.6h0m66.7-3.2h0m.8 1.9h0m8.6-3.3h0m2.1-1.5h0m65-1.5h0m39.5 1.6h0m6.6-.3h0m14.6 4.3h0m55 .8h0m75.8-.5h0m13-2.4h0m38.6 1.8h0m11.4 3.5h0m17.7-9.2h0m28.2 3.2h0"/>
<path d="M108.7 1721.7h0m74.8-5.4h0m.2 6h0m19.5-11.6h0m131.1 10.9h0m22.5 10.5h0m4-6.6h0m67.5-31.8h0m15.9 30.1h0m14.1 .3h0m7.9-4h0m14.2 3h0m1.9 1.3h0m22 .8h0m4-55h0m79.2 52.7h0m10.9-14.6h0m10.2 13.5h0m52.5 .7h0m11.1 1h0m17.5-2.2h0"/>
<path d="M113.1 1718.8h0m25.6-.9h0m66.5 4.3h0m28.7-1.5h0m87.3 17.2h0m30.9-15.5h0m3.9 3h0m19-1h0m17.7 .7h0m16.2-2.1h0m37.5 21h0m72.6-22.8h0m21.8 5.1h0m21.7 .5h0m21.3-.9h0m18.6-3.1h0m6.9 31.5h0m47.4-30.1h0"/>
<path d="M114.7 1718.4h0m26 1.3h0m18.6 2.2h0m45-2h0m24.2 1.6h0m4.9 9.6h0m55.5 2.1h0m52.5-11.1h0m8.9-2.2h0m27.1 4.2h0m7.1-4.8h0m6.9 1.7h0m12 1.4h0m39.7 1.9h0m66.3 1.9h0m5-5.1h0m3.6 .8h0m25 2.1h0m10.9-.5h0m18.2-2.4h0m16.2-1.4h0m4.5 5.5h0m34.1-2.4h0m15.5-.2h0m17.9-21.1h0m12 16.7h0m4.9 6.9h0m1.1-20.2h0m9.2-22.1h0"/>
<path d="M126.7 1727.2h0m4.2-1.3h0m7 58.3h0m9.7-64.3h0m9.4 .7h0m14.5-6.5h0m31.4 12.2h0m42.2-1.3h0m17.2-5.4h0m21.7 1.4h0m73.1-1.1h0m17.8 2.9h0m3.7 2.8h0m10.7-1.7h0m27.1-2.8h0m1.6 .3h0m17.8 44.8h0m20.4-43.3h0m18.3-1.7h0m19.9-1.9h0m20.6 .8h0m6.3 5.7h0m30.8-1.5h0m32.1 4.7h0m3-9.2h0"/>
<path d="M104.3 1717.8h0m6 4.6h0m1.3-.6h0m10.7 .6h0m1.5-.5h0m11.7 4.2h0m62.9-5.9h0m6.9 3.2h0m2.9 1.9h0m72.8-1.2h0m13 .8h0m.3 1.8h0m33.2-8h0m7.3 1.1h0m14.6 7h0m18.9-5.2h0m2.5 .5h0m14 3.4h0m18.1-.1h0m18.7-4.3h0m14.2 1.3h0m.9-1.7h0m23.3 3.4h0m21.8-1.4h0m18.7 .7h0m17.7 .3h0m2.8-1.8h0m13.5 12.6h0m4.4-12.4h0m11.2 5.8h0m17.6-8h0m19.6-.7h0m78.5 6.1h0m23.5-.6h0"/>
<path d="M114.4 1723.6h0m11.5 4.4h0m2.8-4.9h0m.5 .2h0m8-.2h0m57.2-.2h0m6.3-.6h0m27.9-3.9h0m37.5 6.8h0m36.4-4.3h0m29.5-2.6h0m7.8 6.1h0m2.1-2.3h0m35.9-2.4h0m.7 7.6h0m12.5-6h0m1.4 3.2h0m1.7-7.6h0m.5 5.1h0m14.1 .5h0m15.3-.6h0m12.1-1.8h0m64.5 2.5h0m52.6-4.3h0m87.4 8.5h0m9.4-3h0m17.9 .5h0m15.1 3.7h0"/>
<path d="M109.1 1718.4h0m14 2.5h0m40.3 2h0m18.9 1.7h0m16 .5h0m20-3.1h0m17.3 2.2h0m32.9-3.3h0m7.7 5.3h0m4.7-1.4h0m17.5-2h0m70.8 3.4h0m5.6-6.8h0m1.6 5.8h0m3.2-6.6h0m5.5 5.9h0m18.8-1.2h0m13.2-2.5h0m40.9 3.2h0m43.1-.5h0m23.7-1.4h0m14.9 2h0m3.4 .4h0m6.7 11h0m22.7-13.8h0m20.5 2.9h0m6.6-4.1h0m17.9 5.7h0m33.2 1.2h0m4.7-1.1h0m2.9 .8h0m19.9-7.1h0m.5 .6h0m5.7 4.3h0"/>
</g>
<path d="M106.02 1719.64 L110.67 1720.76 L115.32 1720.75 L119.97 1719.95 L124.63 1723.64 L129.28 1722.71 L133.93 1701.53 L138.58 1738.95 L143.24 1722.36 L147.89 1720.02 L152.54 1722.87 L157.19 1721.26 L161.85 1722.65 L166.5 1721.45 L171.15 1722.02 L175.8 1714.12 L180.46 1722.67 L185.11 1719.01 L189.76 1723.31 L194.41 1720.9 L199.07 1722.5 L203.72 1723.01 L208.37 1724.5 L213.02 1724.86 L217.68 1723.13 L222.33 1722.22 L226.98 1722.01 L231.63 1723.68 L236.29 1722.32 L240.94 1722.44 L245.59 1720.82 L250.24 1722.22 L254.9 1715.26 L259.55 1720.26 L264.2 1721.57 L268.85 1722.85 L273.51 1720.96 L278.16 1720.75 L282.81 1723.76 L287.47 1724.3 L292.12 1723.83 L296.77 1721.79 L301.42 1722.36 L306.08 1721.55 L310.73 1721.38 L315.38 1720.56 L320.03 1719.74 L324.69 1719.73 L329.34 1721.42 L333.99 1720.34 L338.64 1721.79 L343.3 1720.39 L347.95 1724.2 L352.6 1722.05 L357.25 1724.44 L361.91 1721.71 L366.56 1723.51 L371.21 1722.66 L375.86 1722.57 L380.52 1722.95 L385.17 1721.7 L389.82 1720.38 L394.47 1722.46 L399.13 1723.24 L403.78 1722.87 L408.43 1722.59 L413.08 1723.6 L417.74 1721.21 L422.39 1721.54 L427.04 1693.03 L431.69 1722.31 L436.35 1738.95 L441 1722.46 L445.65 1723.39 L450.3 1722.59 L454.96 1722.58 L459.61 1722.92 L464.26 1718.42 L468.91 1721.19 L473.57 1721.15 L478.22 1723.14 L482.87 1724.08 L487.52 1720.7 L492.18 1723.41 L496.83 1721.91 L501.48 1721.59 L506.13 1725.16 L510.79 1724.81 L515.44 1720.35 L520.09 1723.07 L524.75 1722.85 L529.4 1723.45 L534.05 1720.15 L538.7 1723.54 L543.36 1723.51 L548.01 1725.33 L552.66 1721.09 L557.31 1714.13 L561.97 1724.76 L566.62 1721.24 L571.27 1722.65 L575.92 1722.4 L580.58 1722.86 L585.23 1724.05 L589.88 1721.01 L594.53 1723.73 L599.19 1722.99 L603.84 1723.36 L608.49 1721.35 L613.14 1719.67 L617.8 1720.91 L622.45 1720.76 L627.1 1720.62 L631.75 1721.12 L636.41 1722.41 L641.06 1724.57 L645.71 1723.05 L650.36 1723.81 L655.02 1723.11 L659.67 1723.11 L664.32 1723.47 L668.97 1724.2 L673.63 1720.88 L678.28 1721.37 L682.93 1725.18 L687.58 1723.42" stroke="#4a0fd0" stroke-width="3.2" fill="none" stroke-linejoin="round"/>
<path d="M103.69 1712.85 L105.16 1712.7 L106.63 1712.59 L108.1 1712.54 L109.57 1712.54 L111.04 1712.6 L112.5 1712.71 L113.97 1712.87 L115.44 1713.08 L116.91 1713.34 L118.38 1713.65 L119.85 1714.01 L121.32 1714.42 L122.79 1714.87 L124.26 1715.36 L125.73 1715.89 L127.2 1716.45 L128.67 1717.06 L130.14 1717.69 L131.6 1718.35 L133.07 1719.04 L134.54 1719.75 L136.01 1720.47 L137.48 1721.21 L138.95 1721.96 L140.42 1722.72 L141.89 1723.49 L143.36 1724.25 L144.83 1725.01 L146.3 1725.76 L147.77 1726.5 L149.24 1727.23 L150.7 1727.94 L152.17 1728.62 L153.64 1729.28 L155.11 1729.92 L156.58 1730.52 L158.05 1731.09 L159.52 1731.62 L160.99 1732.11 L162.46 1732.56 L163.93 1732.97 L165.4 1733.33 L166.87 1733.64 L168.34 1733.91 L169.8 1734.12 L171.27 1734.28 L172.74 1734.39 L174.21 1734.44 L175.68 1734.45 L177.15 1734.4 L178.62 1734.29 L180.09 1734.14 L181.56 1733.93 L183.03 1733.67 L184.5 1733.37 L185.97 1733.01 L187.44 1732.61 L188.9 1732.16 L190.37 1731.68 L191.84 1731.15 L193.31 1730.58 L194.78 1729.98 L196.25 1729.35 L197.72 1728.7 L199.19 1728.01 L200.66 1727.31 L202.13 1726.58 L203.6 1725.84 L205.07 1725.09 L206.54 1724.33 L208 1723.57 L209.47 1722.81 L210.94 1722.05 L212.41 1721.29 L213.88 1720.55 L215.35 1719.82 L216.82 1719.11 L218.29 1718.42 L219.76 1717.76 L221.23 1717.12 L222.7 1716.52 L224.17 1715.95 L225.64 1715.41 L227.1 1714.92 L228.57 1714.46 L230.04 1714.05 L231.51 1713.69 L232.98 1713.37 L234.45 1713.1 L235.92 1712.89 L237.39 1712.72 L238.86 1712.61 L240.33 1712.55 L241.8 1712.54 L243.27 1712.58 L244.74 1712.68 L246.2 1712.83 L247.67 1713.04 L249.14 1713.29 L250.61 1713.59 L252.08 1713.94 L253.55 1714.34 L255.02 1714.78 L256.49 1715.27 L257.96 1715.79 L259.43 1716.35 L260.9 1716.95 L262.37 1717.58 L263.84 1718.23 L265.3 1718.92 L266.77 1719.62 L268.24 1720.34 L269.71 1721.08 L271.18 1721.83 L272.65 1722.59 L274.12 1723.35 L275.59 1724.12 L277.06 1724.88 L278.53 1725.63 L280 1726.37 L281.47 1727.1 L282.93 1727.81 L284.4 1728.51 L285.87 1729.17 L287.34 1729.81 L288.81 1730.42 L290.28 1730.99 L291.75 1731.53 L293.22 1732.03 L294.69 1732.49 L296.16 1732.9 L297.63 1733.27 L299.1 1733.59 L300.57 1733.86 L302.03 1734.09 L303.5 1734.26 L304.97 1734.37 L306.44 1734.44 L307.91 1734.45 L309.38 1734.41 L310.85 1734.32 L312.32 1734.17 L313.79 1733.97 L315.26 1733.72 L316.73 1733.42 L318.2 1733.08 L319.67 1732.68 L321.13 1732.24 L322.6 1731.76 L324.07 1731.24 L325.54 1730.68 L327.01 1730.09 L328.48 1729.47 L329.95 1728.81 L331.42 1728.13 L332.89 1727.43 L334.36 1726.71 L335.83 1725.97 L337.3 1725.22 L338.77 1724.46 L340.23 1723.7 L341.7 1722.94 L343.17 1722.18 L344.64 1721.42 L346.11 1720.68 L347.58 1719.95 L349.05 1719.23 L350.52 1718.54 L351.99 1717.87 L353.46 1717.23 L354.93 1716.62 L356.4 1716.04 L357.87 1715.5 L359.33 1715 L360.8 1714.54 L362.27 1714.12 L363.74 1713.75 L365.21 1713.42 L366.68 1713.15 L368.15 1712.92 L369.62 1712.75 L371.09 1712.62 L372.56 1712.55 L374.03 1712.54 L375.5 1712.57 L376.97 1712.66 L378.43 1712.8 L379.9 1713 L381.37 1713.24 L382.84 1713.54 L384.31 1713.88 L385.78 1714.27 L387.25 1714.7 L388.72 1715.18 L390.19 1715.7 L391.66 1716.25 L393.13 1716.84 L394.6 1717.47 L396.07 1718.12 L397.53 1718.8 L399 1719.5 L400.47 1720.22 L401.94 1720.95 L403.41 1721.7 L404.88 1722.46 L406.35 1723.22 L407.82 1723.98 L409.29 1724.74 L410.76 1725.5 L412.23 1726.25 L413.7 1726.98 L415.17 1727.69 L416.63 1728.39 L418.1 1729.06 L419.57 1729.7 L421.04 1730.31 L422.51 1730.9 L423.98 1731.44 L425.45 1731.95 L426.92 1732.41 L428.39 1732.83 L429.86 1733.21 L431.33 1733.54 L432.8 1733.82 L434.27 1734.05 L435.73 1734.23 L437.2 1734.36 L438.67 1734.43 L440.14 1734.45 L441.61 1734.42 L443.08 1734.34 L444.55 1734.2 L446.02 1734.01 L447.49 1733.77 L448.96 1733.48 L450.43 1733.14 L451.9 1732.75 L453.37 1732.32 L454.83 1731.85 L456.3 1731.34 L457.77 1730.78 L459.24 1730.2 L460.71 1729.58 L462.18 1728.93 L463.65 1728.25 L465.12 1727.55 L466.59 1726.83 L468.06 1726.1 L469.53 1725.35 L471 1724.6 L472.47 1723.83 L473.93 1723.07 L475.4 1722.31 L476.87 1721.55 L478.34 1720.81 L479.81 1720.07 L481.28 1719.36 L482.75 1718.66 L484.22 1717.99 L485.69 1717.34 L487.16 1716.73 L488.63 1716.14 L490.1 1715.59 L491.57 1715.08 L493.03 1714.62 L494.5 1714.19 L495.97 1713.81 L497.44 1713.48 L498.91 1713.19 L500.38 1712.96 L501.85 1712.77 L503.32 1712.64 L504.79 1712.56 L506.26 1712.54 L507.73 1712.56 L509.2 1712.64 L510.67 1712.78 L512.13 1712.96 L513.6 1713.2 L515.07 1713.48 L516.54 1713.82 L518.01 1714.2 L519.48 1714.63 L520.95 1715.09 L522.42 1715.61 L523.89 1716.15 L525.36 1716.74 L526.83 1717.36 L528.3 1718 L529.76 1718.68 L531.23 1719.37 L532.7 1720.09 L534.17 1720.82 L535.64 1721.57 L537.11 1722.33 L538.58 1723.09 L540.05 1723.85 L541.52 1724.61 L542.99 1725.37 L544.46 1726.12 L545.93 1726.85 L547.4 1727.57 L548.86 1728.27 L550.33 1728.94 L551.8 1729.59 L553.27 1730.21 L554.74 1730.8 L556.21 1731.35 L557.68 1731.86 L559.15 1732.33 L560.62 1732.76 L562.09 1733.15 L563.56 1733.49 L565.03 1733.77 L566.5 1734.01 L567.96 1734.2 L569.43 1734.34 L570.9 1734.42 L572.37 1734.45 L573.84 1734.43 L575.31 1734.35 L576.78 1734.23 L578.25 1734.05 L579.72 1733.81 L581.19 1733.53 L582.66 1733.2 L584.13 1732.82 L585.6 1732.4 L587.06 1731.94 L588.53 1731.43 L590 1730.88 L591.47 1730.3 L592.94 1729.69 L594.41 1729.04 L595.88 1728.37 L597.35 1727.68 L598.82 1726.96 L600.29 1726.23 L601.76 1725.48 L603.23 1724.73 L604.7 1723.97 L606.16 1723.2 L607.63 1722.44 L609.1 1721.68 L610.57 1720.94 L612.04 1720.2 L613.51 1719.48 L614.98 1718.78 L616.45 1718.1 L617.92 1717.45 L619.39 1716.83 L620.86 1716.24 L622.33 1715.69 L623.8 1715.17 L625.26 1714.69 L626.73 1714.26 L628.2 1713.87 L629.67 1713.53 L631.14 1713.24 L632.61 1712.99 L634.08 1712.8 L635.55 1712.66 L637.02 1712.57 L638.49 1712.54 L639.96 1712.55 L641.43 1712.62 L642.9 1712.75 L644.36 1712.92 L645.83 1713.15 L647.3 1713.43 L648.77 1713.76 L650.24 1714.13 L651.71 1714.55 L653.18 1715.01 L654.65 1715.51 L656.12 1716.06 L657.59 1716.63 L659.06 1717.25 L660.53 1717.89 L662 1718.56 L663.46 1719.25 L664.93 1719.96 L666.4 1720.7 L667.87 1721.44 L669.34 1722.19 L670.81 1722.95 L672.28 1723.72 L673.75 1724.48 L675.22 1725.24 L676.69 1725.99 L678.16 1726.72 L679.63 1727.45 L681.1 1728.15 L682.56 1728.83 L684.03 1729.48 L685.5 1730.11 L686.97 1730.7 L688.44 1731.26 L689.91 1731.77" stroke="#f39019" stroke-width="3.6" fill="none"/>
<path d="M103.69 1703.54 L105.16 1703.76 L106.63 1704.34 L108.1 1705.26 L109.57 1706.52 L111.04 1708.08 L112.5 1709.92 L113.97 1712.01 L115.44 1714.29 L116.91 1716.73 L118.38 1719.28 L119.85 1721.89 L121.32 1724.51 L122.79 1727.09 L124.26 1729.57 L125.73 1731.92 L127.2 1734.08 L128.67 1736.02 L130.14 1737.69 L131.6 1739.06 L133.07 1740.11 L134.54 1740.81 L136.01 1741.16 L137.48 1741.14 L138.95 1740.76 L140.42 1740.02 L141.89 1738.94 L143.36 1737.54 L144.83 1735.85 L146.3 1733.89 L147.77 1731.71 L149.24 1729.35 L150.7 1726.85 L152.17 1724.27 L153.64 1721.65 L155.11 1719.04 L156.58 1716.5 L158.05 1714.07 L159.52 1711.81 L160.99 1709.75 L162.46 1707.93 L163.93 1706.39 L165.4 1705.16 L166.87 1704.27 L168.34 1703.72 L169.8 1703.54 L171.27 1703.73 L172.74 1704.27 L174.21 1705.17 L175.68 1706.4 L177.15 1707.94 L178.62 1709.75 L180.09 1711.82 L181.56 1714.09 L183.03 1716.51 L184.5 1719.06 L185.97 1721.66 L187.44 1724.28 L188.9 1726.87 L190.37 1729.36 L191.84 1731.72 L193.31 1733.9 L194.78 1735.86 L196.25 1737.55 L197.72 1738.95 L199.19 1740.03 L200.66 1740.76 L202.13 1741.14 L203.6 1741.16 L205.07 1740.81 L206.54 1740.1 L208 1739.05 L209.47 1737.68 L210.94 1736.01 L212.41 1734.07 L213.88 1731.91 L215.35 1729.56 L216.82 1727.08 L218.29 1724.5 L219.76 1721.88 L221.23 1719.27 L222.7 1716.72 L224.17 1714.28 L225.64 1712 L227.1 1709.92 L228.57 1708.07 L230.04 1706.51 L231.51 1705.26 L232.98 1704.33 L234.45 1703.76 L235.92 1703.54 L237.39 1703.7 L238.86 1704.21 L240.33 1705.08 L241.8 1706.28 L243.27 1707.79 L244.74 1709.59 L246.2 1711.63 L247.67 1713.88 L249.14 1716.3 L250.61 1718.83 L252.08 1721.44 L253.55 1724.06 L255.02 1726.64 L256.49 1729.15 L257.96 1731.52 L259.43 1733.72 L260.9 1735.7 L262.37 1737.42 L263.84 1738.84 L265.3 1739.95 L266.77 1740.71 L268.24 1741.12 L269.71 1741.17 L271.18 1740.85 L272.65 1740.18 L274.12 1739.16 L275.59 1737.81 L277.06 1736.16 L278.53 1734.25 L280 1732.11 L281.47 1729.77 L282.93 1727.3 L284.4 1724.72 L285.87 1722.11 L287.34 1719.49 L288.81 1716.94 L290.28 1714.49 L291.75 1712.19 L293.22 1710.09 L294.69 1708.22 L296.16 1706.64 L297.63 1705.35 L299.1 1704.4 L300.57 1703.79 L302.03 1703.55 L303.5 1703.67 L304.97 1704.15 L306.44 1704.99 L307.91 1706.16 L309.38 1707.65 L310.85 1709.42 L312.32 1711.44 L313.79 1713.68 L315.26 1716.08 L316.73 1718.61 L318.2 1721.21 L319.67 1723.83 L321.13 1726.42 L322.6 1728.94 L324.07 1731.32 L325.54 1733.54 L327.01 1735.53 L328.48 1737.28 L329.95 1738.73 L331.42 1739.87 L332.89 1740.66 L334.36 1741.1 L335.83 1741.18 L337.3 1740.9 L338.77 1740.25 L340.23 1739.26 L341.7 1737.94 L343.17 1736.32 L344.64 1734.43 L346.11 1732.3 L347.58 1729.98 L349.05 1727.52 L350.52 1724.95 L351.99 1722.34 L353.46 1719.72 L354.93 1717.16 L356.4 1714.69 L357.87 1712.38 L359.33 1710.26 L360.8 1708.38 L362.27 1706.76 L363.74 1705.45 L365.21 1704.47 L366.68 1703.83 L368.15 1703.56 L369.62 1703.64 L371.09 1704.09 L372.56 1704.9 L374.03 1706.04 L375.5 1707.51 L376.97 1709.25 L378.43 1711.26 L379.9 1713.48 L381.37 1715.87 L382.84 1718.39 L384.31 1720.98 L385.78 1723.6 L387.25 1726.2 L388.72 1728.72 L390.19 1731.12 L391.66 1733.35 L393.13 1735.37 L394.6 1737.14 L396.07 1738.62 L397.53 1739.78 L399 1740.61 L400.47 1741.08 L401.94 1741.19 L403.41 1740.94 L404.88 1740.32 L406.35 1739.36 L407.82 1738.07 L409.29 1736.47 L410.76 1734.6 L412.23 1732.49 L413.7 1730.19 L415.17 1727.74 L416.63 1725.18 L418.1 1722.56 L419.57 1719.95 L421.04 1717.38 L422.51 1714.9 L423.98 1712.58 L425.45 1710.44 L426.92 1708.53 L428.39 1706.89 L429.86 1705.55 L431.33 1704.54 L432.8 1703.87 L434.27 1703.56 L435.73 1703.62 L437.2 1704.04 L438.67 1704.82 L440.14 1705.93 L441.61 1707.37 L443.08 1709.09 L444.55 1711.07 L446.02 1713.28 L447.49 1715.65 L448.96 1718.16 L450.43 1720.75 L451.9 1723.37 L453.37 1725.98 L454.83 1728.51 L456.3 1730.92 L457.77 1733.17 L459.24 1735.2 L460.71 1736.99 L462.18 1738.5 L463.65 1739.69 L465.12 1740.55 L466.59 1741.05 L468.06 1741.19 L469.53 1740.97 L471 1740.39 L472.47 1739.46 L473.93 1738.19 L475.4 1736.62 L476.87 1734.77 L478.34 1732.69 L479.81 1730.4 L481.28 1727.95 L482.75 1725.4 L484.22 1722.79 L485.69 1720.17 L487.16 1717.6 L488.63 1715.11 L490.1 1712.77 L491.57 1710.61 L493.03 1708.69 L494.5 1707.02 L495.97 1705.66 L497.44 1704.61 L498.91 1703.92 L500.38 1703.58 L501.85 1703.6 L503.32 1703.99 L504.79 1704.74 L506.26 1705.82 L507.73 1707.23 L509.2 1708.93 L510.67 1710.89 L512.13 1713.08 L513.6 1715.44 L515.07 1717.94 L516.54 1720.52 L518.01 1723.15 L519.48 1725.75 L520.95 1728.29 L522.42 1730.72 L523.89 1732.98 L525.36 1735.04 L526.83 1736.85 L528.3 1738.38 L529.76 1739.6 L531.23 1740.49 L532.7 1741.02 L534.17 1741.2 L535.64 1741.01 L537.11 1740.45 L538.58 1739.55 L540.05 1738.31 L541.52 1736.77 L542.99 1734.94 L544.46 1732.88 L545.93 1730.6 L547.4 1728.17 L548.86 1725.63 L550.33 1723.02 L551.8 1720.4 L553.27 1717.82 L554.74 1715.33 L556.21 1712.97 L557.68 1710.79 L559.15 1708.84 L560.62 1707.16 L562.09 1705.76 L563.56 1704.69 L565.03 1703.96 L566.5 1703.59 L567.96 1703.59 L569.43 1703.94 L570.9 1704.66 L572.37 1705.71 L573.84 1707.1 L575.31 1708.77 L576.78 1710.71 L578.25 1712.88 L579.72 1715.23 L581.19 1717.72 L582.66 1720.3 L584.13 1722.92 L585.6 1725.53 L587.06 1728.07 L588.53 1730.51 L590 1732.79 L591.47 1734.87 L592.94 1736.7 L594.41 1738.26 L595.88 1739.51 L597.35 1740.42 L598.82 1740.99 L600.29 1741.2 L601.76 1741.04 L603.23 1740.52 L604.7 1739.64 L606.16 1738.43 L607.63 1736.91 L609.1 1735.11 L610.57 1733.06 L612.04 1730.81 L613.51 1728.39 L614.98 1725.85 L616.45 1723.25 L617.92 1720.63 L619.39 1718.04 L620.86 1715.54 L622.33 1713.17 L623.8 1710.97 L625.26 1709 L626.73 1707.29 L628.2 1705.87 L629.67 1704.77 L631.14 1704.01 L632.61 1703.61 L634.08 1703.57 L635.55 1703.9 L637.02 1704.58 L638.49 1705.61 L639.96 1706.96 L641.43 1708.62 L642.9 1710.53 L644.36 1712.68 L645.83 1715.02 L647.3 1717.5 L648.77 1720.07 L650.24 1722.69 L651.71 1725.3 L653.18 1727.86 L654.65 1730.3 L656.12 1732.6 L657.59 1734.7 L659.06 1736.55 L660.53 1738.14 L662 1739.41 L663.46 1740.36 L664.93 1740.96 L666.4 1741.19 L667.87 1741.07 L669.34 1740.57 L670.81 1739.73 L672.28 1738.55 L673.75 1737.06 L675.22 1735.28 L676.69 1733.25 L678.16 1731.01 L679.63 1728.6 L681.1 1726.08 L682.56 1723.48 L684.03 1720.85 L685.5 1718.26 L686.97 1715.75 L688.44 1713.37 L689.91 1711.16" stroke="#f05cf0" stroke-width="3.4" fill="none"/>
</g>
<line x1="103.5" y1="1633.29" x2="103.5" y2="1811.15" stroke="#262626" stroke-width="1.5" />
<line x1="103.5" y1="1810.65" x2="688.6" y2="1810.65" stroke="#262626" stroke-width="1.5" />
<line x1="97.3" y1="1666.17" x2="103.5" y2="1666.17" stroke="#262626" stroke-width="1.5" />
<text x="91.9" y="1676.07" font-size="22" text-anchor="end" font-weight="normal" fill="#262626" >2</text>
<line x1="97.3" y1="1722.37" x2="103.5" y2="1722.37" stroke="#262626" stroke-width="1.5" />
<text x="91.9" y="1730.27" font-size="22" text-anchor="end" font-weight="normal" fill="#262626" >0</text>
<line x1="97.3" y1="1778.57" x2="103.5" y2="1778.57" stroke="#262626" stroke-width="1.5" />
<text x="91.9" y="1788.47" font-size="22" text-anchor="end" font-weight="normal" fill="#262626" >2</text>
<line x1="116.9" y1="1810.65" x2="116.9" y2="1820.95" stroke="#262626" stroke-width="1.5" />
<line x1="210.2" y1="1810.65" x2="210.2" y2="1820.95" stroke="#262626" stroke-width="1.5" />
<line x1="303.5" y1="1810.65" x2="303.5" y2="1820.95" stroke="#262626" stroke-width="1.5" />
<line x1="396.8" y1="1810.65" x2="396.8" y2="1820.95" stroke="#262626" stroke-width="1.5" />
<line x1="490.1" y1="1810.65" x2="490.1" y2="1820.95" stroke="#262626" stroke-width="1.5" />
<line x1="583.4" y1="1810.65" x2="583.4" y2="1820.95" stroke="#262626" stroke-width="1.5" />
<line x1="676.7" y1="1810.65" x2="676.7" y2="1820.95" stroke="#262626" stroke-width="1.5" />
<text x="113.8" y="1651.5" font-size="25" text-anchor="start" font-weight="normal" fill="#262626" letter-spacing="0.1">fly 3</text>
<text transform="translate(65.5 1723.87) rotate(-90)" font-size="22" text-anchor="middle" fill="#262626">drift (rad)</text>
<clipPath id="cc4"><rect x="738.19" y="1634.09" width="586.22" height="176.56"/></clipPath>
<g clip-path="url(#cc4)">
<g stroke="#4a10d0" stroke-opacity="0.5" stroke-width="8" stroke-linecap="round" fill="none">
<path d="M792.2 1735.5h0m7.5 1.7h0m.1-16.8h0m19.7-14.7h0m8 15.9h0m19.7 0h0m26.8 3.5h0m4-44h0m1.7 16h0m3.8 29.7h0m1-6.2h0m8.1 2.4h0m8.3 4.1h0m14.6-11.9h0m6.4-8.4h0m23.6 19.6h0m50-8.2h0m11.8 5.3h0m20.9 7.3h0m.5-7.3h0m3.6-6.4h0m3.8-11.1h0m56.1 25.2h0m18.8-38.2h0m5.3 29.7h0m186.6 5.3h0m11.2 3.3h0"/>
<path d="M806.9 1716.1h0m57.2 4h0m9.4 11.6h0m1.1-76.8h0m1.3 75.7h0m5.7-7.7h0m.3 11.8h0m35.1-13.5h0m9.2 1.4h0m.7-5.7h0m3.6 6.3h0m34.7-9.4h0m5.6 7h0m6.6 6.4h0m59.3-12.8h0m1.4-.9h0m3.9 10h0m12.9-1.2h0m4.3-9.2h0m47.7 34.3h0m121.1-38.8h0m37.8 8.4h0m2.3 18.9h0m4.3-17.3h0m8.5-.4h0"/>
<path d="M809.1 1728.3h0m28.4-11.3h0m32 3.2h0m.2 9.6h0m.4-31.7h0m31.7 6.8h0m5.2 22.3h0m4.7 3.1h0m2.6-11.6h0m19.9 2.2h0m2.6-7h0m27.9-36.2h0m45.2 24.9h0m26.5 20.3h0m4.2-.2h0m5.7-9.7h0"/>
<path d="M817.4 1721.6h0m10.4 1.1h0m4.6 1.2h0m12.4-7.1h0m39.1 10.4h0m34.5-6.1h0m3.5 13.3h0m17.7-8h0m43.1 .8h0m9.2-19.9h0m26.8 5.6h0m62.9 12.9h0m17.5-3.9h0m16.1 5.3h0m22-13.8h0m72.7-.4h0m35.7 2.2h0m1.4-20.5h0m23.8 5.8h0"/>
<path d="M862.0 1686.2h0m39.3 38.2h0m6.2 5.4h0m36.2-9.7h0m.2-3.6h0m10.6 1.7h0m19.1 3.3h0m3.2-8.2h0m4.6 8.7h0m4.4-.3h0m4-3.2h0m25.7 7.2h0m2.5 6.7h0m4.5 .8h0m30.3-9.2h0m5-4h0m11.3-1h0m2.7 8.6h0m1.3-1.8h0m22.5-19.8h0m11 18h0m7.3-2.3h0m59.4-.7h0m33 4.7h0"/>
<path d="M784.2 1733.3h0m33.7-15.3h0m13.9 .3h0m20.5 9.2h0m32.5-40.6h0m6.9 37.2h0m22.5 4.2h0m45.3-13.1h0m1 5.1h0m16.7-3.1h0m49.7 4.7h0m12.4-4.9h0m5 9.7h0m4.2-5.6h0m1.9-1.6h0m11.1 4.7h0m17.2 3.1h0m15.9-.6h0m22.3-2.1h0m21.3-7.4h0m19.6 1.7h0m28.1-3.8h0m8.7 10.3h0m26.9 9.1h0m16.3-9.9h0"/>
<path d="M811.6 1700.5h0m2.5 19.7h0m46.3-6.7h0m21.8 8.6h0m15.2 1.1h0m1.6 4h0m.8-6.1h0m50.4-1.6h0m2.7-.9h0m4.8-4.6h0m3.1 6.4h0m2.3 5.3h0m12.5-12.7h0m4.8 16h0m4.7-40.1h0m16 40.1h0m20.6-11.7h0m4.4-.2h0m42.7 11.2h0m30.2-9.5h0m3.1 3.7h0m8.8 7.2h0m5.3-5.1h0m59.1-3.4h0m9.2-.1h0m.2 3.5h0m16.4-18h0m76.1 20h0"/>
<path d="M808.0 1731.8h0m21.4-16.6h0m14.6 3.8h0m2.3 1.3h0m14.3 5.7h0m7.1-5.2h0m42.6-4h0m1.2 9.2h0m7.4 4.1h0m6.1-11.2h0m23.5-3.2h0m4.3 26.6h0m12.7-16.8h0m1.2 1h0m3.1 8h0m3.5-13.7h0m51 10.9h0m32.5-13.5h0m6.6-.7h0m91.8 18h0m29.6-29h0m8.9 17.3h0m22-.8h0m24.6-2.6h0m42.4-16.5h0"/>
<path d="M790.5 1723.4h0m3.5 1.2h0m49.6-2.7h0m4.1-2.2h0m9.7 7.1h0m5 1.9h0m19-57.8h0m11.9 66.3h0m3.6-25.9h0m29.1 5.2h0m10.5 7h0m4.1-13h0m2.8 11h0m23 7.2h0m.7-39.1h0m5 37.2h0m2.2-3.1h0m15.2-8.1h0m50.1 6.1h0m2.7 6.7h0m19.8-1.8h0m.1-10.5h0m4.7 5.8h0m58.3 4.7h0m23.8-2h0m4.9-9.5h0m21.4 1.9h0m70.1 3.1h0m7 1.5h0m18.9-3.4h0m2.5 4h0"/>
<path d="M767.1 1725.2h0m47.8 1.3h0m10.9-3.4h0m18.9 .7h0m34.5-2.4h0m6.6 4.2h0m16-9.1h0m32.6 13.5h0m5.9-7.8h0m.6 28.7h0m43.3-14.4h0m6.4-6.9h0m10.1-6.5h0m1.8 3h0m23.5-4.1h0m4.1-13.8h0m3 14.3h0m92.8-8.5h0m14.2 13.5h0m37.9-8.5h0m6-2.8h0m19.9 4.9h0m19.5 .7h0"/>
<path d="M768.6 1724.2h0m49.8-19.3h0m28.7 29.5h0m52.4-15h0m14.8 6.6h0m1.6-8.1h0m80.4 7.6h0m18.2-3.7h0m18.1-8.1h0m5.9 18.3h0m8.1-10.9h0m18.4-29.8h0m70.6 27.4h0m22.6 6.6h0m42.9-5h0m76.3-6.1h0m15.5-7.6h0m4.4 16.1h0m12.6-33.8h0m10.1 34.3h0"/>
<path d="M772.3 1732.2h0m92.3-7.7h0m28.7-40h0m27.5 37.2h0m8.6-2.5h0m4.7 3.9h0m27.2-39.6h0m5.7 40.7h0m65.2-5.5h0m4.1 9.7h0m17.5 35.4h0m5.5-19.1h0m13.5-30.7h0m22.5 16.5h0m54.9-6.8h0m76.8-4.8h0m21.9-6.1h0m60.6 2.1h0"/>
<path d="M776.1 1723.9h0m66.2 4.7h0m2-13.3h0m4.7 13.6h0m52-1.3h0m27.8-1.1h0m5.1-7.7h0m18.6 13.7h0m6.5-6.7h0m3-5.6h0m5.1 4.6h0m17.6 20.8h0m1.7-25.3h0m6.1 5.6h0m16.3 .6h0m10.8-.7h0m23.2 7.2h0m32.7-4.4h0m155.1-8.6h0m31.2-.8h0"/>
<path d="M838.0 1728.1h0m85.2-8.1h0m83.3 2.5h0m4.3 4.3h0m19-6.7h0m16.6-.2h0m14.2-8.2h0m21.6 10.2h0m93.6-.8h0m63.2-5.7h0m64.1 47.4h0"/>
<path d="M776.8 1729.5h0m12.8-11.9h0m3.4 10.4h0m15.9-5.1h0m56.8 2.7h0m36.7-6.8h0m2.7 2.4h0m24.7-2.5h0m5.8 3.1h0m3.9-10h0m1.4 52h0m13.6-62.3h0m21.2 16.5h0m.4 3.8h0m1-.8h0m11.2 9.8h0m13.9-7.3h0m1.2-5.9h0m29.7 7.7h0m8.8 2.9h0m5-3.9h0m6.5-.6h0m2.3-5.7h0m53.8 1.8h0m8.5-7.1h0m3.9 6.3h0m33.4 3.4h0m25.1-4.2h0m66.5-3.3h0m1.8 18.9h0"/>
<path d="M767.5 1717.7h0m15.2-8.3h0m96.9 16.7h0m7.5-8.2h0m10.7 5.9h0m12.4-6.5h0m37.2 1h0m5.4 2.6h0m13.1 2.7h0m2 1.7h0m29.7-7.4h0m15.5 3.6h0m22.5-4h0m.2 4.7h0m3.7 30.4h0m4.7-21.5h0m15.8-11.2h0m25.7-4h0m38.9 25.4h0m18-2.4h0m56.7-13.9h0m10.5 .9h0m6.2 .8h0m19.1 43.9h0m6.3-41.9h0"/>
<path d="M839.7 1751.2h0m5.7-35.8h0m1.7-1.5h0m29.1 13.1h0m5.3-7.6h0m26.4 4.2h0m24.5 15.3h0m7.5-8.8h0m1.9-2.8h0m5.1-10h0m1.1 7.5h0m14.9 8.2h0m1.1-37.6h0m15.3 27.6h0m20.4 57.8h0m.9-71.3h0m2.5 10.1h0m13-1.7h0m1.4 8.1h0m5.9-4.2h0m18.8 1.6h0m5.6-1.7h0m86 3.6h0m65-6.3h0m72.3-2.7h0m36.5-16.5h0m14.2 7.5h0"/>
<path d="M788.5 1710.9h0m41.1 14.6h0m42.3 3.8h0m1.2-6h0m.3-7.7h0m32 6.6h0m3.4-1.3h0m33.2 3.6h0m18 2.9h0m.3 1.5h0m1 14.5h0m11.9-22.7h0m2.5-8.7h0m13.3 9.9h0m.7-4.1h0m43.7 2h0m76.4 6.4h0m13.9-6.9h0m30.4 6.9h0m9.6-27.4h0m47.6 30.7h0m11.3-1.2h0m26.4-5.6h0m16.7 11.1h0m11.4-13.7h0"/>
<path d="M803.8 1716.9h0m54.8 12.1h0m40.6 7.5h0m33.5-12.2h0m12.9-30.4h0m1.2 28.7h0m15.6-9h0m13.2-13.1h0m2.8 17.8h0m7.3 2.3h0m18.9 13.9h0m22.8-11.2h0m47.8 63.3h0m23.9-49.9h0m56.3-15.5h0m65.8-1.1h0m2.7-.4h0m62.2 1.9h0"/>
<path d="M749.3 1726.2h0m124.2-59.7h0m4.1 58.4h0m7-6.4h0m27.7 2.2h0m31.2 11.6h0m.5-11.8h0m79.2-2.3h0m2.1 4.7h0m9.4 4.4h0m12.7-6h0m4 16.6h0m37.7-26.7h0m1.2 13.6h0m25.8-66.5h0m14.6 55.3h0m22 5.9h0m5.4-4.1h0m51.5-7.1h0"/>
<path d="M789.4 1714.2h0m48.6 9.2h0m1.3-.9h0m10.4 14.1h0m25.1-22.8h0m5.7 2.1h0m18.9 8.9h0m5.6 0h0m7 26.7h0m6.8-16h0m69.8-14.1h0m15-1h0m9.1-1.9h0m33.6 32.4h0m21.6-25.5h0m4.6-3.9h0m98.6-5.8h0m1-2.6h0m68.6 8.8h0m60.9 5.4h0m22.7-10h0"/>
<path d="M751.1 1675.3h0m43.2 51.4h0m17.1-8.7h0m2.3-.4h0m12-3.4h0m22.2 4.4h0m53 1.6h0m1.3 .8h0m51.5 2.4h0m25.9 3.8h0m17.1-8.1h0m36.1 2.2h0m16.4-2h0m.6-4.7h0m.7 10.4h0m5.3-.4h0m4.4-2.7h0m8.2 31.7h0m.4-29.8h0m23.5 .6h0m21.1 0h0m19.7-38.2h0m67.1 42.8h0m.7-3.6h0m5.5 4.2h0m16.4-15.5h0m6.7 15.2h0m9.5-11.8h0m61.4 8.7h0"/>
<path d="M796.9 1722.3h0m.8 6.6h0m51.1-10.5h0m1.1 3.7h0m52.6-2.3h0m20.4-11.5h0m6.1-10.2h0m10.9 22.6h0m1.9 .4h0m70.6-4h0m9.8 8.9h0m.4 3.4h0m24.3-11.3h0m2.5 11.5h0m3.3-4.8h0m7.8 6.4h0m4-13.5h0m.6 2.5h0m53.7 11.2h0"/>
<path d="M795.3 1731.6h0m7.1 .3h0m39.1-17.3h0m2.4 28.8h0m22.1-18.4h0m15.6-8.3h0m26.7 6.7h0m13.4-1.5h0m3.8-5.3h0m7.6-10.6h0m8.5 10.8h0m5.4-17h0m11.8 31.1h0m2.9-.6h0m7.1-5.2h0m13.7-5.7h0m28 4.8h0m4.6-6.4h0m19.7 8.7h0m6.5-13.5h0m.1 12.2h0m3.8-2.8h0m2.9 4.2h0m74.6-6.1h0m47.8 28.6h0m58.7-32.4h0m69 8.2h0m11.2 1.7h0"/>
</g>
<path d="M749.82 1699.83 L754.47 1723.64 L759.13 1673.64 L763.78 1723.64 L768.43 1722.39 L773.08 1732.21 L777.74 1726.72 L782.39 1733.27 L787.04 1710.87 L791.69 1721.56 L796.35 1727.37 L801 1726.15 L805.65 1716.53 L810.3 1725.24 L814.96 1721.44 L819.61 1715.11 L824.26 1718.65 L828.91 1721.25 L833.57 1721.1 L838.22 1728.44 L842.87 1719.99 L847.52 1721.25 L852.18 1724.79 L856.83 1727.91 L861.48 1722.74 L866.13 1723.19 L870.79 1697.11 L875.44 1706.63 L880.09 1699.83 L884.74 1710.03 L889.4 1721 L894.05 1722.98 L898.7 1723.85 L903.35 1721.08 L908.01 1722.7 L912.66 1725.01 L917.31 1721.1 L921.97 1718.83 L926.62 1719.64 L931.27 1721.34 L935.92 1721.72 L940.58 1721.13 L945.23 1718.94 L949.88 1720 L954.53 1722.71 L959.19 1722.88 L963.84 1723.21 L968.49 1725.06 L973.14 1722.71 L977.8 1719.27 L982.45 1729.95 L987.1 1722.79 L991.75 1721.47 L996.41 1720.17 L1001.06 1721.82 L1005.71 1723.68 L1010.36 1723.68 L1015.02 1720.52 L1019.67 1722.88 L1024.32 1723.64 L1028.97 1721.33 L1033.63 1721.08 L1038.28 1721.56 L1042.93 1725.49 L1047.58 1720.89 L1052.24 1723.39 L1056.89 1720.62 L1061.54 1720.24 L1066.19 1721.29 L1070.85 1722.86 L1075.5 1786.56 L1080.15 1724.99 L1084.8 1715.91 L1089.46 1718.02 L1094.11 1728.19 L1098.76 1725.81 L1103.41 1722.51 L1108.07 1723.35 L1112.72 1696.43 L1117.37 1723.88 L1122.02 1719.6 L1126.68 1720.29 L1131.33 1713.61 L1135.98 1718.65 L1140.63 1727.49 L1145.29 1738.95 L1149.94 1724.17 L1154.59 1720.89 L1159.25 1719.85 L1163.9 1698.75 L1168.55 1708.18 L1173.2 1717.61 L1177.86 1720.08 L1182.51 1717.31 L1187.16 1715.12 L1191.81 1723.81 L1196.47 1725.4 L1201.12 1723.73 L1205.77 1725.44 L1210.42 1722.82 L1215.08 1724.87 L1219.73 1720.05 L1224.38 1721 L1229.03 1718.73 L1233.69 1738.95 L1238.34 1719.49 L1242.99 1725.29 L1247.64 1717.14 L1252.3 1721.56 L1256.95 1720.37 L1261.6 1719.19 L1266.25 1726.45 L1270.91 1717.69 L1275.56 1720.76 L1280.21 1718.2 L1284.86 1721.61 L1289.52 1722.6 L1294.17 1723.59 L1298.82 1724.59 L1303.47 1742.35 L1308.13 1703.23 L1312.78 1731.32 L1317.43 1725.79 L1322.08 1720.26" stroke="#4a0fd0" stroke-width="3.2" fill="none" stroke-linejoin="round"/>
<path d="M738.19 1726.74 L739.66 1727.14 L741.13 1727.51 L742.6 1727.85 L744.07 1728.15 L745.54 1728.41 L747 1728.63 L748.47 1728.82 L749.94 1728.96 L751.41 1729.05 L752.88 1729.1 L754.35 1729.11 L755.82 1729.07 L757.29 1728.99 L758.76 1728.87 L760.23 1728.7 L761.7 1728.49 L763.17 1728.24 L764.64 1727.96 L766.1 1727.63 L767.57 1727.27 L769.04 1726.89 L770.51 1726.47 L771.98 1726.03 L773.45 1725.56 L774.92 1725.08 L776.39 1724.58 L777.86 1724.06 L779.33 1723.55 L780.8 1723.02 L782.27 1722.5 L783.74 1721.97 L785.2 1721.46 L786.67 1720.96 L788.14 1720.47 L789.61 1719.99 L791.08 1719.54 L792.55 1719.12 L794.02 1718.72 L795.49 1718.35 L796.96 1718.01 L798.43 1717.71 L799.9 1717.45 L801.37 1717.23 L802.84 1717.05 L804.3 1716.91 L805.77 1716.81 L807.24 1716.76 L808.71 1716.75 L810.18 1716.79 L811.65 1716.87 L813.12 1717 L814.59 1717.16 L816.06 1717.37 L817.53 1717.62 L819 1717.91 L820.47 1718.24 L821.94 1718.59 L823.4 1718.98 L824.87 1719.4 L826.34 1719.84 L827.81 1720.31 L829.28 1720.79 L830.75 1721.29 L832.22 1721.8 L833.69 1722.32 L835.16 1722.85 L836.63 1723.37 L838.1 1723.89 L839.57 1724.41 L841.04 1724.91 L842.5 1725.4 L843.97 1725.87 L845.44 1726.32 L846.91 1726.75 L848.38 1727.15 L849.85 1727.52 L851.32 1727.85 L852.79 1728.15 L854.26 1728.41 L855.73 1728.64 L857.2 1728.82 L858.67 1728.96 L860.14 1729.05 L861.6 1729.1 L863.07 1729.11 L864.54 1729.07 L866.01 1728.99 L867.48 1728.87 L868.95 1728.7 L870.42 1728.49 L871.89 1728.24 L873.36 1727.95 L874.83 1727.63 L876.3 1727.27 L877.77 1726.88 L879.24 1726.46 L880.7 1726.02 L882.17 1725.55 L883.64 1725.07 L885.11 1724.57 L886.58 1724.05 L888.05 1723.54 L889.52 1723.01 L890.99 1722.49 L892.46 1721.96 L893.93 1721.45 L895.4 1720.95 L896.87 1720.46 L898.34 1719.99 L899.8 1719.54 L901.27 1719.11 L902.74 1718.71 L904.21 1718.34 L905.68 1718.01 L907.15 1717.71 L908.62 1717.45 L910.09 1717.22 L911.56 1717.04 L913.03 1716.91 L914.5 1716.81 L915.97 1716.76 L917.43 1716.75 L918.9 1716.79 L920.37 1716.87 L921.84 1717 L923.31 1717.17 L924.78 1717.38 L926.25 1717.63 L927.72 1717.92 L929.19 1718.24 L930.66 1718.6 L932.13 1718.99 L933.6 1719.41 L935.07 1719.85 L936.53 1720.32 L938 1720.8 L939.47 1721.3 L940.94 1721.81 L942.41 1722.33 L943.88 1722.86 L945.35 1723.38 L946.82 1723.9 L948.29 1724.42 L949.76 1724.92 L951.23 1725.41 L952.7 1725.88 L954.17 1726.33 L955.63 1726.76 L957.1 1727.16 L958.57 1727.52 L960.04 1727.86 L961.51 1728.16 L962.98 1728.42 L964.45 1728.64 L965.92 1728.82 L967.39 1728.96 L968.86 1729.05 L970.33 1729.1 L971.8 1729.11 L973.27 1729.07 L974.73 1728.99 L976.2 1728.86 L977.67 1728.69 L979.14 1728.48 L980.61 1728.23 L982.08 1727.94 L983.55 1727.62 L985.02 1727.26 L986.49 1726.87 L987.96 1726.45 L989.43 1726.01 L990.9 1725.54 L992.37 1725.06 L993.83 1724.56 L995.3 1724.04 L996.77 1723.52 L998.24 1723 L999.71 1722.48 L1001.18 1721.95 L1002.65 1721.44 L1004.12 1720.94 L1005.59 1720.45 L1007.06 1719.98 L1008.53 1719.53 L1010 1719.1 L1011.47 1718.7 L1012.93 1718.34 L1014.4 1718 L1015.87 1717.7 L1017.34 1717.44 L1018.81 1717.22 L1020.28 1717.04 L1021.75 1716.9 L1023.22 1716.81 L1024.69 1716.76 L1026.16 1716.75 L1027.63 1716.79 L1029.1 1716.88 L1030.57 1717 L1032.03 1717.17 L1033.5 1717.38 L1034.97 1717.63 L1036.44 1717.92 L1037.91 1718.25 L1039.38 1718.61 L1040.85 1719 L1042.32 1719.42 L1043.79 1719.86 L1045.26 1720.33 L1046.73 1720.81 L1048.2 1721.31 L1049.67 1721.82 L1051.13 1722.34 L1052.6 1722.87 L1054.07 1723.39 L1055.54 1723.91 L1057.01 1724.43 L1058.48 1724.93 L1059.95 1725.42 L1061.42 1725.89 L1062.89 1726.34 L1064.36 1726.77 L1065.83 1727.16 L1067.3 1727.53 L1068.77 1727.87 L1070.23 1728.16 L1071.7 1728.42 L1073.17 1728.64 L1074.64 1728.82 L1076.11 1728.96 L1077.58 1729.06 L1079.05 1729.11 L1080.52 1729.11 L1081.99 1729.07 L1083.46 1728.99 L1084.93 1728.86 L1086.4 1728.69 L1087.87 1728.48 L1089.33 1728.23 L1090.8 1727.94 L1092.27 1727.61 L1093.74 1727.25 L1095.21 1726.86 L1096.68 1726.44 L1098.15 1726 L1099.62 1725.53 L1101.09 1725.05 L1102.56 1724.55 L1104.03 1724.03 L1105.5 1723.51 L1106.97 1722.99 L1108.43 1722.47 L1109.9 1721.94 L1111.37 1721.43 L1112.84 1720.93 L1114.31 1720.44 L1115.78 1719.97 L1117.25 1719.52 L1118.72 1719.09 L1120.19 1718.7 L1121.66 1718.33 L1123.13 1718 L1124.6 1717.7 L1126.07 1717.44 L1127.53 1717.22 L1129 1717.04 L1130.47 1716.9 L1131.94 1716.81 L1133.41 1716.76 L1134.88 1716.75 L1136.35 1716.79 L1137.82 1716.88 L1139.29 1717 L1140.76 1717.18 L1142.23 1717.39 L1143.7 1717.64 L1145.17 1717.93 L1146.63 1718.26 L1148.1 1718.61 L1149.57 1719.01 L1151.04 1719.43 L1152.51 1719.87 L1153.98 1720.34 L1155.45 1720.82 L1156.92 1721.32 L1158.39 1721.83 L1159.86 1722.35 L1161.33 1722.88 L1162.8 1723.4 L1164.26 1723.92 L1165.73 1724.44 L1167.2 1724.94 L1168.67 1725.43 L1170.14 1725.9 L1171.61 1726.35 L1173.08 1726.77 L1174.55 1727.17 L1176.02 1727.54 L1177.49 1727.87 L1178.96 1728.17 L1180.43 1728.43 L1181.9 1728.65 L1183.36 1728.83 L1184.83 1728.96 L1186.3 1729.06 L1187.77 1729.11 L1189.24 1729.11 L1190.71 1729.07 L1192.18 1728.99 L1193.65 1728.86 L1195.12 1728.69 L1196.59 1728.47 L1198.06 1728.22 L1199.53 1727.93 L1201 1727.61 L1202.46 1727.25 L1203.93 1726.85 L1205.4 1726.43 L1206.87 1725.99 L1208.34 1725.52 L1209.81 1725.04 L1211.28 1724.54 L1212.75 1724.02 L1214.22 1723.5 L1215.69 1722.98 L1217.16 1722.46 L1218.63 1721.93 L1220.1 1721.42 L1221.56 1720.92 L1223.03 1720.43 L1224.5 1719.96 L1225.97 1719.51 L1227.44 1719.09 L1228.91 1718.69 L1230.38 1718.32 L1231.85 1717.99 L1233.32 1717.69 L1234.79 1717.43 L1236.26 1717.21 L1237.73 1717.03 L1239.2 1716.9 L1240.66 1716.81 L1242.13 1716.76 L1243.6 1716.75 L1245.07 1716.79 L1246.54 1716.88 L1248.01 1717.01 L1249.48 1717.18 L1250.95 1717.39 L1252.42 1717.64 L1253.89 1717.93 L1255.36 1718.26 L1256.83 1718.62 L1258.3 1719.01 L1259.76 1719.43 L1261.23 1719.88 L1262.7 1720.35 L1264.17 1720.83 L1265.64 1721.33 L1267.11 1721.84 L1268.58 1722.36 L1270.05 1722.89 L1271.52 1723.41 L1272.99 1723.93 L1274.46 1724.45 L1275.93 1724.95 L1277.4 1725.44 L1278.86 1725.91 L1280.33 1726.36 L1281.8 1726.78 L1283.27 1727.18 L1284.74 1727.54 L1286.21 1727.88 L1287.68 1728.17 L1289.15 1728.43 L1290.62 1728.65 L1292.09 1728.83 L1293.56 1728.97 L1295.03 1729.06 L1296.5 1729.11 L1297.96 1729.11 L1299.43 1729.07 L1300.9 1728.98 L1302.37 1728.85 L1303.84 1728.68 L1305.31 1728.47 L1306.78 1728.22 L1308.25 1727.93 L1309.72 1727.6 L1311.19 1727.24 L1312.66 1726.85 L1314.13 1726.43 L1315.6 1725.98 L1317.06 1725.51 L1318.53 1725.03 L1320 1724.53 L1321.47 1724.02 L1322.94 1723.49 L1324.41 1722.97" stroke="#f39019" stroke-width="3.6" fill="none"/>
<path d="M738.19 1716.96 L739.66 1714.54 L741.13 1712.35 L742.6 1710.44 L744.07 1708.88 L745.54 1707.7 L747 1706.95 L748.47 1706.64 L749.94 1706.79 L751.41 1707.38 L752.88 1708.4 L754.35 1709.83 L755.82 1711.62 L757.29 1713.71 L758.76 1716.06 L760.23 1718.59 L761.7 1721.22 L763.17 1723.89 L764.64 1726.52 L766.1 1729.02 L767.57 1731.34 L769.04 1733.4 L770.51 1735.14 L771.98 1736.51 L773.45 1737.47 L774.92 1738 L776.39 1738.08 L777.86 1737.71 L779.33 1736.9 L780.8 1735.66 L782.27 1734.05 L783.74 1732.1 L785.2 1729.87 L786.67 1727.42 L788.14 1724.83 L789.61 1722.17 L791.08 1719.51 L792.55 1716.94 L794.02 1714.52 L795.49 1712.33 L796.96 1710.42 L798.43 1708.86 L799.9 1707.69 L801.37 1706.94 L802.84 1706.64 L804.3 1706.79 L805.77 1707.39 L807.24 1708.41 L808.71 1709.84 L810.18 1711.64 L811.65 1713.73 L813.12 1716.08 L814.59 1718.61 L816.06 1721.25 L817.53 1723.92 L819 1726.54 L820.47 1729.05 L821.94 1731.36 L823.4 1733.41 L824.87 1735.15 L826.34 1736.52 L827.81 1737.48 L829.28 1738.01 L830.75 1738.08 L832.22 1737.7 L833.69 1736.89 L835.16 1735.65 L836.63 1734.03 L838.1 1732.08 L839.57 1729.85 L841.04 1727.4 L842.5 1724.81 L843.97 1722.14 L845.44 1719.49 L846.91 1716.91 L848.38 1714.5 L849.85 1712.31 L851.32 1710.41 L852.79 1708.85 L854.26 1707.68 L855.73 1706.94 L857.2 1706.64 L858.67 1706.79 L860.14 1707.39 L861.6 1708.43 L863.07 1709.86 L864.54 1711.65 L866.01 1713.76 L867.48 1716.11 L868.95 1718.64 L870.42 1721.27 L871.89 1723.94 L873.36 1726.57 L874.83 1729.07 L876.3 1731.38 L877.77 1733.43 L879.24 1735.17 L880.7 1736.53 L882.17 1737.49 L883.64 1738.01 L885.11 1738.08 L886.58 1737.7 L888.05 1736.88 L889.52 1735.64 L890.99 1734.02 L892.46 1732.06 L893.93 1729.82 L895.4 1727.37 L896.87 1724.78 L898.34 1722.12 L899.8 1719.46 L901.27 1716.89 L902.74 1714.47 L904.21 1712.29 L905.68 1710.39 L907.15 1708.84 L908.62 1707.67 L910.09 1706.93 L911.56 1706.64 L913.03 1706.8 L914.5 1707.4 L915.97 1708.44 L917.43 1709.88 L918.9 1711.67 L920.37 1713.78 L921.84 1716.13 L923.31 1718.66 L924.78 1721.3 L926.25 1723.97 L927.72 1726.59 L929.19 1729.09 L930.66 1731.4 L932.13 1733.45 L933.6 1735.18 L935.07 1736.54 L936.53 1737.49 L938 1738.01 L939.47 1738.08 L940.94 1737.69 L942.41 1736.87 L943.88 1735.62 L945.35 1734 L946.82 1732.04 L948.29 1729.8 L949.76 1727.35 L951.23 1724.75 L952.7 1722.09 L954.17 1719.44 L955.63 1716.86 L957.1 1714.45 L958.57 1712.27 L960.04 1710.37 L961.51 1708.82 L962.98 1707.67 L964.45 1706.93 L965.92 1706.64 L967.39 1706.8 L968.86 1707.41 L970.33 1708.45 L971.8 1709.89 L973.27 1711.69 L974.73 1713.8 L976.2 1716.15 L977.67 1718.69 L979.14 1721.33 L980.61 1724 L982.08 1726.62 L983.55 1729.12 L985.02 1731.42 L986.49 1733.47 L987.96 1735.2 L989.43 1736.55 L990.9 1737.5 L992.37 1738.01 L993.83 1738.08 L995.3 1737.69 L996.77 1736.86 L998.24 1735.61 L999.71 1733.98 L1001.18 1732.02 L1002.65 1729.78 L1004.12 1727.33 L1005.59 1724.73 L1007.06 1722.07 L1008.53 1719.41 L1010 1716.84 L1011.47 1714.43 L1012.93 1712.25 L1014.4 1710.36 L1015.87 1708.81 L1017.34 1707.66 L1018.81 1706.92 L1020.28 1706.64 L1021.75 1706.8 L1023.22 1707.42 L1024.69 1708.46 L1026.16 1709.91 L1027.63 1711.71 L1029.1 1713.82 L1030.57 1716.18 L1032.03 1718.71 L1033.5 1721.35 L1034.97 1724.02 L1036.44 1726.64 L1037.91 1729.14 L1039.38 1731.44 L1040.85 1733.49 L1042.32 1735.21 L1043.79 1736.56 L1045.26 1737.51 L1046.73 1738.02 L1048.2 1738.07 L1049.67 1737.68 L1051.13 1736.85 L1052.6 1735.6 L1054.07 1733.96 L1055.54 1732 L1057.01 1729.76 L1058.48 1727.3 L1059.95 1724.7 L1061.42 1722.04 L1062.89 1719.39 L1064.36 1716.82 L1065.83 1714.41 L1067.3 1712.23 L1068.77 1710.34 L1070.23 1708.8 L1071.7 1707.65 L1073.17 1706.92 L1074.64 1706.64 L1076.11 1706.81 L1077.58 1707.43 L1079.05 1708.47 L1080.52 1709.92 L1081.99 1711.73 L1083.46 1713.84 L1084.93 1716.2 L1086.4 1718.74 L1087.87 1721.38 L1089.33 1724.05 L1090.8 1726.67 L1092.27 1729.16 L1093.74 1731.47 L1095.21 1733.51 L1096.68 1735.22 L1098.15 1736.57 L1099.62 1737.51 L1101.09 1738.02 L1102.56 1738.07 L1104.03 1737.68 L1105.5 1736.84 L1106.97 1735.58 L1108.43 1733.95 L1109.9 1731.98 L1111.37 1729.73 L1112.84 1727.28 L1114.31 1724.68 L1115.78 1722.01 L1117.25 1719.36 L1118.72 1716.79 L1120.19 1714.39 L1121.66 1712.21 L1123.13 1710.32 L1124.6 1708.79 L1126.07 1707.64 L1127.53 1706.92 L1129 1706.64 L1130.47 1706.81 L1131.94 1707.43 L1133.41 1708.49 L1134.88 1709.94 L1136.35 1711.75 L1137.82 1713.86 L1139.29 1716.22 L1140.76 1718.76 L1142.23 1721.4 L1143.7 1724.07 L1145.17 1726.69 L1146.63 1729.19 L1148.1 1731.49 L1149.57 1733.52 L1151.04 1735.24 L1152.51 1736.59 L1153.98 1737.52 L1155.45 1738.02 L1156.92 1738.07 L1158.39 1737.67 L1159.86 1736.83 L1161.33 1735.57 L1162.8 1733.93 L1164.26 1731.96 L1165.73 1729.71 L1167.2 1727.25 L1168.67 1724.65 L1170.14 1721.99 L1171.61 1719.33 L1173.08 1716.77 L1174.55 1714.36 L1176.02 1712.19 L1177.49 1710.31 L1178.96 1708.77 L1180.43 1707.63 L1181.9 1706.91 L1183.36 1706.64 L1184.83 1706.82 L1186.3 1707.44 L1187.77 1708.5 L1189.24 1709.95 L1190.71 1711.77 L1192.18 1713.89 L1193.65 1716.25 L1195.12 1718.79 L1196.59 1721.43 L1198.06 1724.1 L1199.53 1726.72 L1201 1729.21 L1202.46 1731.51 L1203.93 1733.54 L1205.4 1735.25 L1206.87 1736.6 L1208.34 1737.53 L1209.81 1738.02 L1211.28 1738.07 L1212.75 1737.66 L1214.22 1736.82 L1215.69 1735.55 L1217.16 1733.91 L1218.63 1731.94 L1220.1 1729.69 L1221.56 1727.23 L1223.03 1724.63 L1224.5 1721.96 L1225.97 1719.31 L1227.44 1716.74 L1228.91 1714.34 L1230.38 1712.17 L1231.85 1710.29 L1233.32 1708.76 L1234.79 1707.62 L1236.26 1706.91 L1237.73 1706.64 L1239.2 1706.82 L1240.66 1707.45 L1242.13 1708.51 L1243.6 1709.97 L1245.07 1711.79 L1246.54 1713.91 L1248.01 1716.27 L1249.48 1718.81 L1250.95 1721.45 L1252.42 1724.12 L1253.89 1726.74 L1255.36 1729.23 L1256.83 1731.53 L1258.3 1733.56 L1259.76 1735.27 L1261.23 1736.61 L1262.7 1737.54 L1264.17 1738.03 L1265.64 1738.07 L1267.11 1737.66 L1268.58 1736.81 L1270.05 1735.54 L1271.52 1733.89 L1272.99 1731.92 L1274.46 1729.67 L1275.93 1727.2 L1277.4 1724.6 L1278.86 1721.94 L1280.33 1719.28 L1281.8 1716.72 L1283.27 1714.32 L1284.74 1712.15 L1286.21 1710.27 L1287.68 1708.75 L1289.15 1707.61 L1290.62 1706.9 L1292.09 1706.64 L1293.56 1706.82 L1295.03 1707.46 L1296.5 1708.52 L1297.96 1709.99 L1299.43 1711.81 L1300.9 1713.93 L1302.37 1716.3 L1303.84 1718.84 L1305.31 1721.48 L1306.78 1724.15 L1308.25 1726.77 L1309.72 1729.26 L1311.19 1731.55 L1312.66 1733.58 L1314.13 1735.28 L1315.6 1736.62 L1317.06 1737.54 L1318.53 1738.03 L1320 1738.07 L1321.47 1737.65 L1322.94 1736.8 L1324.41 1735.53" stroke="#f05cf0" stroke-width="3.4" fill="none"/>
</g>
<line x1="737.8" y1="1633.29" x2="737.8" y2="1811.15" stroke="#262626" stroke-width="1.5" />
<line x1="737.8" y1="1810.65" x2="1323.4" y2="1810.65" stroke="#262626" stroke-width="1.5" />
<line x1="731.6" y1="1666.17" x2="737.8" y2="1666.17" stroke="#262626" stroke-width="1.5" />
<line x1="731.6" y1="1722.37" x2="737.8" y2="1722.37" stroke="#262626" stroke-width="1.5" />
<line x1="731.6" y1="1778.57" x2="737.8" y2="1778.57" stroke="#262626" stroke-width="1.5" />
<line x1="751.4" y1="1810.65" x2="751.4" y2="1820.95" stroke="#262626" stroke-width="1.5" />
<line x1="844.7" y1="1810.65" x2="844.7" y2="1820.95" stroke="#262626" stroke-width="1.5" />
<line x1="938" y1="1810.65" x2="938" y2="1820.95" stroke="#262626" stroke-width="1.5" />
<line x1="1031.3" y1="1810.65" x2="1031.3" y2="1820.95" stroke="#262626" stroke-width="1.5" />
<line x1="1124.6" y1="1810.65" x2="1124.6" y2="1820.95" stroke="#262626" stroke-width="1.5" />
<line x1="1217.9" y1="1810.65" x2="1217.9" y2="1820.95" stroke="#262626" stroke-width="1.5" />
<line x1="1311.2" y1="1810.65" x2="1311.2" y2="1820.95" stroke="#262626" stroke-width="1.5" />
<text x="752.4" y="1651.5" font-size="25" text-anchor="start" font-weight="normal" fill="#262626" letter-spacing="0.1">fly 4</text>
<clipPath id="cc5"><rect x="103.69" y="1861.16" width="586.22" height="176.56"/></clipPath>
<g clip-path="url(#cc5)">
<g stroke="#4a10d0" stroke-opacity="0.5" stroke-width="8" stroke-linecap="round" fill="none">
<path d="M218.9 1944.7h0m3.5 1.3h0m.2 8.2h0m6.5-6.3h0m45.4 2.2h0m141-1.5h0m51.1-1.2h0m33.6 .6h0m7.6-.9h0m.3 1.6h0m3.1 3.3h0m5.2-1.6h0m35-1.7h0m1.2 2.5h0m15.7 2.6h0m102.3-5h0"/>
<path d="M119.7 1951.5h0m75.1-4.4h0m31.6 4.7h0m43.3-.1h0m13.9 .6h0m41.2-5h0m14.9 1.9h0m46.9 .6h0m89.9 3.8h0m13.4-4.2h0m11.5 1.3h0m3.4 4.7h0m20.1-3.4h0m20.8-1.6h0m5.1 0h0m6.4-.1h0m3 1.3h0m5-1.2h0m5.9-3.1h0m10.5 1.4h0m88.3 3.5h0"/>
<path d="M152.1 1949.2h0m9-4.9h0m21.6 5.2h0m17.1-2.7h0m14.3 4.8h0m81.5 1.8h0m18.7-5.1h0m3 .2h0m22.6-.9h0m20.5-2.4h0m5.9 4.8h0m8.4-.3h0m5.6-4.5h0m8.6 1.1h0m24.7 3.7h0m16.4-20.4h0m15.5 17.5h0m38.1 5.7h0m16-4.5h0m12.9 .9h0m3.8-.7h0m7.8-1.8h0m4.5 5.4h0m4.6-.9h0m11.4-2.9h0m9.3-2.5h0m1 1.2h0m1.4 5.2h0m7.1 33.1h0m6.5-33.5h0m4.8-.9h0m10.2-3.3h0m13.9 4.2h0m18.3 .4h0m50-1.5h0"/>
<path d="M142.6 1952.1h0m8.3-1.9h0m47.1 1.8h0m45-5.5h0m23.8 8.2h0m7.2-1.3h0m42-.6h0m32.6 .5h0m18.4-.7h0m25.1 0h0m78.5-1h0m41.8-3.6h0m56.5 3.4h0m44.3 1.9h0"/>
<path d="M149.4 1954.7h0m67-4.3h0m86.1-27h0m4.1 26.8h0m29.2 1.1h0m25.5-25.2h0m1.1 24.4h0m7.8-.6h0m2.1 .2h0m4.9 1.6h0m28.2-3.5h0m5.3 2.4h0m9.3 .3h0m2.2-1.6h0m79.2 .5h0m6.4-.5h0m4.9-1.1h0m2.5 1h0m37-.3h0m.9 1.8h0"/>
<path d="M254.7 1947.1h0m22.1-2.4h0m7.1 4.1h0m2.6 1.7h0m42.1-2.8h0m48.3 1.6h0m15.2 5.6h0m22.4-2.6h0m80.2-5.5h0m4.5 3.2h0m18.8 .1h0m15.3 2.4h0m14-9.8h0m7 5h0m4 .6h0m.8 6.6h0m67.2-6.3h0"/>
<path d="M187.8 1946.8h0m53.4 3.6h0m4.4 3.9h0m48.3-1.4h0m32.4 2.1h0m.5-9.9h0m57.3-6.4h0m21.5 11.2h0m18-2.8h0m19.9-.4h0m45.3 4.7h0m2.8-2.9h0m10.9 3.9h0m20.5-2.5h0m14.4-2.3h0m3.8 3.4h0m13.1-3.6h0m48.8 2.4h0m2-1.6h0m58.9-2.1h0"/>
<path d="M164.5 1952.7h0m25.2-1.8h0m18.1-5.5h0m26.7 3.3h0m19-1.7h0m2.5 5.1h0m30.9-5.1h0m13.9 1.9h0m30.5-4.4h0m22.7 5.6h0m15.4 .7h0m9.8-1.8h0m4.7 .8h0m6.3 0h0m54.4-2h0m1.3 .5h0m17.3 1.5h0m21.3 28.1h0m4.9-28.5h0m28.5 1.1h0m1.3-.6h0m28-2.1h0m15.6 4.3h0m1.5 .7h0m14.7-3.6h0m33.2-4.2h0m7.1 5.5h0m2.7 .5h0m8-1.2h0m25-1.7h0"/>
<path d="M144.1 1947.7h0m1.9 3.6h0m16.6-1.1h0m32.8-7.2h0m20.7 4.6h0m55.5-.4h0m31.6 53.8h0m1.8-49.8h0m28.7-.7h0m2.9 1.6h0m.3-2.7h0m15.6 .7h0m0-2.2h0m41.8-1.4h0m17.6-2.1h0m93.2 7.4h0m14.7-1.4h0m28.6 21.3h0m9.2-22.4h0m41 1.8h0m56-4.1h0m9.2 1.9h0m.4-3.4h0"/>
<path d="M106.0 1951.7h0m35-3.4h0m16.5 3.7h0m4 1.6h0m23.6 5.5h0m34.9-9.3h0m15.3-4.2h0m93.6 4.6h0m25.4-.1h0m22.6 3.8h0m.7-1.4h0m0-3.3h0m1.2 3.8h0m8.4-2.2h0m50.5-.7h0m59.8 .1h0m1.2-5.6h0m19.4 4.7h0m3-7.4h0m12.9 10.5h0m4.2 0h0m2.4-6.5h0m6.4 1h0m2-.2h0m1.4 3.8h0m7.1 1.6h0m4.2-5.8h0m41.8 16.2h0m32.6-8.7h0m30.4-6.1h0m2.6 20.6h0"/>
<path d="M198.1 1949.7h0m11.7-.7h0m39.8 .4h0m12.7 .5h0m3.6 1.6h0m29.9-1.2h0m.8-2.7h0m12.3 2.8h0m17.2 .6h0m43.5-.8h0m4.5-.5h0m7.9-4.8h0m10.3 3h0m7.6-1.2h0m99.2 5.6h0m24.2-5.4h0m10 2.5h0m14.2-2.7h0m11.5 1.4h0m.1 1.5h0m2.2 1.5h0m11.9-.8h0m1.4 .5h0m8.9-3.3h0m25.5 5h0"/>
<path d="M243.1 1946.3h0m49.3 2.9h0m36.4 .6h0m4.6-.3h0m3.9 .8h0m37.2 1.3h0m10.3 21.8h0m9.3-24.9h0m52.9-2.1h0m26.5-.6h0m20.8 .1h0m26.3 2.8h0m5.4-3.1h0m12.4-.7h0m12.6 3.2h0m4.9 3.1h0m15.9-1.4h0"/>
<path d="M150.9 1952.3h0m57.1-1.7h0m31.4 .1h0m29.2-2.3h0m22 2.4h0m.8-2.2h0m4.1 3.5h0m27.1 .1h0m1.4-1.8h0m1.2 1.6h0m44.5-7.3h0m1 3.3h0m10.2 5.8h0m1.1-3.6h0m2.2 .5h0m1.3-2.9h0m7.6 3.1h0m14.1-15.6h0m7.4 15.1h0m34.5-1.6h0m22.5-.9h0m40.4 1.2h0m13.2-.3h0m11.4 .9h0m4.2 4.6h0m55.2-4.9h0m29.4-1.4h0m18.7 3.7h0m8.4-2h0m7.2-5.5h0"/>
<path d="M121.7 1945.7h0m24.8 7.1h0m42.6-3.7h0m47.3 .1h0m23.6-3.4h0m97.1 3.4h0m3.3 1h0m18.1-.1h0m2-1.2h0m8.2 2.3h0m6.6-.3h0m7.9-5.5h0m.5-2h0m121.8 5.2h0m25.3 1.1h0m11.9-1.1h0m9.5 .8h0m3.9 2.2h0m30.3-3.4h0"/>
<path d="M175.5 1948.6h0m30.2 .3h0m29.8-.6h0m31.3 32.3h0m5.7-33.8h0m4 6.3h0m1.6-7h0m.4 1.9h0m10.2 0h0m43.3 2.9h0m11.4-.1h0m36.5-1.3h0m2.1 0h0m5.8 .7h0m30.3 1.6h0m60.3-3.5h0m7.5-.7h0m5.4 16h0m5.8-14.8h0m.1-3.5h0m3.6 6h0m7.2-2h0m5.4 .6h0m15.8-4.2h0m3.1 1.9h0m2 1.4h0m3.8-5.2h0m9.6 5.7h0m.8-1h0m95.9-2h0"/>
<path d="M196.1 1948.9h0m13.7 .3h0m22.1-.6h0m25.5 .6h0m5.1-3.3h0m22-27.6h0m16.6 27.8h0m25.1 5.6h0m52.2 1.1h0m9.9-1.8h0m2.6-1.4h0m4.1-1.6h0m18 12.2h0m8.6-11h0m23.8-2.8h0m9.9 3h0m19.8 0h0m30.9 1.9h0m13.6-2.4h0m31.9-.6h0m5.6 .2h0m26.4 1.5h0m80.1-1.7h0m21.5-.7h0"/>
<path d="M250.6 1950.9h0m12 1.6h0m44.5-7.7h0m65.2 6.2h0m25.8-1.2h0m3.5-2h0m16.1-.5h0m51.4-1.1h0m1.7 3.8h0m26.8-.7h0m.1 2.9h0m11.8-5.5h0m5-3h0m2.8 3.5h0m18 2.2h0m10.2 .1h0m31.2 1.1h0m6.5 .3h0m7.7 1.4h0m.3-1.8h0m11.9-.4h0"/>
<path d="M142.2 1948.8h0m72.3-.4h0m65.5-2.3h0m.2 2.4h0m6.1 2.7h0m37.4 2.4h0m2.6-.3h0m20.3-4.7h0m23.9-29.3h0m23.9 31.9h0m3.8-3.7h0m21.3 10.4h0m40.7-10h0m37.9 .6h0m29.7 .2h0m9.7 2.4h0m0 3h0m11.8-5.4h0m1.2-.7h0m14.2 1.2h0m3.3-2.2h0m.2 2.4h0m32.2-2.4h0m14.1 1.8h0m7.6 2.8h0m12-7.8h0"/>
<path d="M212.5 1954.2h0m1.5-5.5h0m6.7-1.9h0m45.2 5.3h0m12.5-1.8h0m.1-1.4h0m5-1.8h0m8.7-1h0m50.9-2.2h0m.9 6.9h0m16.2-5.9h0m14.2 5.9h0m14.1-2.8h0m62.5 2.8h0m19.9-3.9h0m20.8 5.8h0m15-2.4h0m9.8 2.1h0m11.5-3.3h0m2.4 33.9h0m6.4-32h0m7.2-1h0m10.9-1.2h0m17.3 2.2h0m16.7-2h0"/>
<path d="M141.6 1947.5h0m16.6 1h0m26.8-1.8h0m43.7 .3h0m36 .6h0m30.2 4.3h0m6.8-1.4h0m12.2-5.2h0m20.7 3.5h0m22.3-2.2h0m22.2 7.7h0m7.9-3.8h0m3 1.6h0m31.9-1h0m13.1-2.5h0m16.3-3.1h0m22.8 4.9h0m5.3-.8h0m9.2-1.3h0m14.4 2.9h0m6.5-5.4h0m6.7 3.3h0m6.4-.6h0m1 .9h0m29-.9h0m1.8-.1h0m4.7-2.2h0m104.1 4.5h0"/>
<path d="M133.9 1946.3h0m8.2 2.9h0m128.1-4.2h0m13 2.6h0m6.6-1h0m.3 5h0m4.9 1.8h0m8.1-6.8h0m23.1 6.8h0m1.8-20.8h0m29.4 19.6h0m25-.1h0m.7-3.7h0m4.3 5.7h0m23.5-2.5h0m22.6-2.5h0m41.3 4.1h0m27.8-3.9h0m26.3-2.7h0m8.5-.2h0m1 2h0m.7-3.1h0m18.4 4.1h0m1.2-1h0m1.7-1.3h0m15.9 4.3h0m2.4-4.3h0m55.4 17.8h0m6.9-14.8h0"/>
<path d="M116.1 1945.0h0m41 1.7h0m124.1 2.4h0m14.2 2.4h0m19.2-2.7h0m31.4-9h0m3.7 11.6h0m26.2-4.7h0m11.1 4.6h0m3.7-2.2h0m13.2-.8h0m26.1 1.1h0m36.8 .4h0m33.8 .1h0m39.7-.6h0m17.3-2.7h0m.7 6.1h0m80.5-4.1h0m25 .4h0m2.6-21.5h0"/>
<path d="M234.8 1946.7h0m14 5.3h0m7-2.2h0m12.8-.8h0m5.9 2.3h0m20.3-2.3h0m15.7-.6h0m64.8 3.7h0m1.1-4h0m7.6-.8h0m.5 2.1h0m.3-3h0m14.8 4.8h0m8.2-.9h0m36.2-3.7h0m49.8 6.1h0m.2-2.1h0m6-1.8h0m8.9-26.4h0m20.6 23.9h0m27.2 2.2h0m20.6 .2h0m6.8-.3h0m5-.1h0m22.6 .4h0m55.6 2.5h0"/>
<path d="M157.7 1947.6h0m10 2.2h0m44.2-1.7h0m49.4-3.1h0m16.7 3.7h0m.1-2.3h0m58.5 2.6h0m25.2 .7h0m14.9 1.4h0m6.3 2.4h0m2.3-3.4h0m2.3-.5h0m2.4 1.9h0m16.2-7.4h0m16.2 6h0m17.8 1.3h0m1.1-24.6h0m4.1 24.2h0m40.2-2.9h0m2 3.1h0m5.7-3.2h0m8 1.3h0m15.3-1.7h0m18.5 1.8h0m.8 1.4h0m17.1-5.3h0m6.3-14.2h0m1.1 11.6h0m11.8 3.7h0m26.8 1h0"/>
</g>
<path d="M106.02 1951.71 L110.67 1948.36 L115.32 1945.01 L119.97 1948.58 L124.63 1947.81 L129.28 1947.04 L133.93 1946.28 L138.58 1947.6 L143.24 1948.93 L147.89 1952.04 L152.54 1950.57 L157.19 1948.7 L161.85 1949.37 L166.5 1951.27 L171.15 1949.93 L175.8 1948.59 L180.46 1949.47 L185.11 1946.69 L189.76 1948.97 L194.41 1946.32 L199.07 1949.48 L203.72 1948.86 L208.37 1948.53 L213.02 1950.19 L217.68 1947.57 L222.33 1949.2 L226.98 1948.87 L231.63 1948.6 L236.29 1947.71 L240.94 1948.47 L245.59 1954.28 L250.24 1950.77 L254.9 1948.99 L259.55 1946.67 L264.2 1949.92 L268.85 1949.75 L273.51 1949.74 L278.16 1948.08 L282.81 1948.98 L287.47 1949.17 L292.12 1949.42 L296.77 1951.15 L301.42 1948.03 L306.08 1948.73 L310.73 1949.41 L315.38 1948.73 L320.03 1950.05 L324.69 1951.36 L329.34 1948.06 L333.99 1950.21 L338.64 1949.6 L343.3 1948.49 L347.95 1951.12 L352.6 1949.53 L357.25 1949.32 L361.91 1948.1 L366.56 1951.3 L371.21 1949.24 L375.86 1950.5 L380.52 1950.26 L385.17 1949.99 L389.82 1950.44 L394.47 1949.14 L399.13 1948.78 L403.78 1947.16 L408.43 1948.35 L413.08 1949.77 L417.74 1951.31 L422.39 1949.34 L427.04 1949.29 L431.69 1949.23 L436.35 1949.37 L441 1951.44 L445.65 1947.53 L450.3 1948.38 L454.96 1949.38 L459.61 1947.85 L464.26 1949.77 L468.91 1948.65 L473.57 1949.34 L478.22 1950.51 L482.87 1952.79 L487.52 1949.34 L492.18 1949.68 L496.83 1948.67 L501.48 1949.91 L506.13 1950.4 L510.79 1948.43 L515.44 1948.68 L520.09 1948.73 L524.75 1948.48 L529.4 1948.09 L534.05 1950.19 L538.7 1948.86 L543.36 1949.69 L548.01 1947.55 L552.66 1948.53 L557.31 1949.78 L561.97 1949.06 L566.62 1950.2 L571.27 1949.46 L575.92 1950.66 L580.58 1948.33 L585.23 1948.9 L589.88 1950.05 L594.53 1949.37 L599.19 1949.35 L603.84 1949.36 L608.49 1950.35 L613.14 1948.94 L617.8 1951.34 L622.45 1951.3 L627.1 1948.31 L631.75 1949.79 L636.41 1948.78 L641.06 1949.36 L645.71 1949.09 L650.36 1949.71 L655.02 1947.51 L659.67 1944.17 L664.32 1948.04 L668.97 1950.73 L673.63 1949.69 L678.28 1948.66 L682.93 1947.62" stroke="#4a0fd0" stroke-width="3.2" fill="none" stroke-linejoin="round"/>
<path d="M103.69 1957.74 L105.16 1958.33 L106.63 1958.87 L108.1 1959.34 L109.57 1959.74 L111.04 1960.08 L112.5 1960.34 L113.97 1960.53 L115.44 1960.64 L116.91 1960.68 L118.38 1960.64 L119.85 1960.53 L121.32 1960.34 L122.79 1960.07 L124.26 1959.74 L125.73 1959.33 L127.2 1958.86 L128.67 1958.32 L130.14 1957.73 L131.6 1957.08 L133.07 1956.38 L134.54 1955.63 L136.01 1954.84 L137.48 1954.02 L138.95 1953.17 L140.42 1952.3 L141.89 1951.41 L143.36 1950.51 L144.83 1949.61 L146.3 1948.71 L147.77 1947.82 L149.24 1946.94 L150.7 1946.09 L152.17 1945.27 L153.64 1944.47 L155.11 1943.72 L156.58 1943.02 L158.05 1942.36 L159.52 1941.76 L160.99 1941.21 L162.46 1940.73 L163.93 1940.32 L165.4 1939.97 L166.87 1939.7 L168.34 1939.5 L169.8 1939.37 L171.27 1939.32 L172.74 1939.35 L174.21 1939.46 L175.68 1939.63 L177.15 1939.89 L178.62 1940.21 L180.09 1940.61 L181.56 1941.07 L183.03 1941.6 L184.5 1942.18 L185.97 1942.83 L187.44 1943.52 L188.9 1944.26 L190.37 1945.04 L191.84 1945.86 L193.31 1946.7 L194.78 1947.57 L196.25 1948.46 L197.72 1949.36 L199.19 1950.26 L200.66 1951.16 L202.13 1952.05 L203.6 1952.93 L205.07 1953.79 L206.54 1954.62 L208 1955.41 L209.47 1956.17 L210.94 1956.89 L212.41 1957.55 L213.88 1958.16 L215.35 1958.71 L216.82 1959.2 L218.29 1959.63 L219.76 1959.99 L221.23 1960.27 L222.7 1960.48 L224.17 1960.62 L225.64 1960.68 L227.1 1960.66 L228.57 1960.57 L230.04 1960.4 L231.51 1960.16 L232.98 1959.84 L234.45 1959.46 L235.92 1959.01 L237.39 1958.49 L238.86 1957.91 L240.33 1957.28 L241.8 1956.59 L243.27 1955.86 L244.74 1955.08 L246.2 1954.27 L247.67 1953.43 L249.14 1952.56 L250.61 1951.68 L252.08 1950.78 L253.55 1949.88 L255.02 1948.98 L256.49 1948.08 L257.96 1947.2 L259.43 1946.34 L260.9 1945.51 L262.37 1944.71 L263.84 1943.94 L265.3 1943.22 L266.77 1942.55 L268.24 1941.93 L269.71 1941.37 L271.18 1940.87 L272.65 1940.43 L274.12 1940.07 L275.59 1939.77 L277.06 1939.55 L278.53 1939.4 L280 1939.33 L281.47 1939.34 L282.93 1939.42 L284.4 1939.57 L285.87 1939.8 L287.34 1940.11 L288.81 1940.48 L290.28 1940.93 L291.75 1941.43 L293.22 1942 L294.69 1942.63 L296.16 1943.31 L297.63 1944.03 L299.1 1944.8 L300.57 1945.61 L302.03 1946.45 L303.5 1947.31 L304.97 1948.19 L306.44 1949.09 L307.91 1949.99 L309.38 1950.89 L310.85 1951.79 L312.32 1952.67 L313.79 1953.53 L315.26 1954.37 L316.73 1955.18 L318.2 1955.95 L319.67 1956.68 L321.13 1957.36 L322.6 1957.99 L324.07 1958.56 L325.54 1959.07 L327.01 1959.51 L328.48 1959.89 L329.95 1960.19 L331.42 1960.43 L332.89 1960.58 L334.36 1960.67 L335.83 1960.67 L337.3 1960.6 L338.77 1960.46 L340.23 1960.24 L341.7 1959.95 L343.17 1959.58 L344.64 1959.15 L346.11 1958.65 L347.58 1958.09 L349.05 1957.47 L350.52 1956.8 L351.99 1956.08 L353.46 1955.32 L354.93 1954.52 L356.4 1953.68 L357.87 1952.82 L359.33 1951.94 L360.8 1951.05 L362.27 1950.15 L363.74 1949.25 L365.21 1948.35 L366.68 1947.46 L368.15 1946.6 L369.62 1945.75 L371.09 1944.94 L372.56 1944.17 L374.03 1943.43 L375.5 1942.74 L376.97 1942.11 L378.43 1941.53 L379.9 1941.01 L381.37 1940.56 L382.84 1940.17 L384.31 1939.85 L385.78 1939.61 L387.25 1939.44 L388.72 1939.34 L390.19 1939.33 L391.66 1939.38 L393.13 1939.52 L394.6 1939.73 L396.07 1940.01 L397.53 1940.36 L399 1940.79 L400.47 1941.28 L401.94 1941.83 L403.41 1942.44 L404.88 1943.1 L406.35 1943.81 L407.82 1944.57 L409.29 1945.37 L410.76 1946.19 L412.23 1947.05 L413.7 1947.93 L415.17 1948.82 L416.63 1949.72 L418.1 1950.62 L419.57 1951.52 L421.04 1952.41 L422.51 1953.28 L423.98 1954.13 L425.45 1954.94 L426.92 1955.72 L428.39 1956.47 L429.86 1957.16 L431.33 1957.8 L432.8 1958.39 L434.27 1958.92 L435.73 1959.38 L437.2 1959.78 L438.67 1960.11 L440.14 1960.36 L441.61 1960.54 L443.08 1960.65 L444.55 1960.68 L446.02 1960.63 L447.49 1960.51 L448.96 1960.31 L450.43 1960.04 L451.9 1959.7 L453.37 1959.28 L454.83 1958.81 L456.3 1958.26 L457.77 1957.66 L459.24 1957.01 L460.71 1956.3 L462.18 1955.55 L463.65 1954.76 L465.12 1953.94 L466.59 1953.08 L468.06 1952.21 L469.53 1951.32 L471 1950.42 L472.47 1949.52 L473.93 1948.62 L475.4 1947.73 L476.87 1946.85 L478.34 1946 L479.81 1945.18 L481.28 1944.39 L482.75 1943.65 L484.22 1942.94 L485.69 1942.29 L487.16 1941.7 L488.63 1941.16 L490.1 1940.68 L491.57 1940.28 L493.03 1939.94 L494.5 1939.67 L495.97 1939.48 L497.44 1939.36 L498.91 1939.32 L500.38 1939.36 L501.85 1939.47 L503.32 1939.66 L504.79 1939.92 L506.26 1940.25 L507.73 1940.65 L509.2 1941.12 L510.67 1941.66 L512.13 1942.25 L513.6 1942.9 L515.07 1943.59 L516.54 1944.34 L518.01 1945.12 L519.48 1945.94 L520.95 1946.79 L522.42 1947.66 L523.89 1948.55 L525.36 1949.45 L526.83 1950.35 L528.3 1951.25 L529.76 1952.15 L531.23 1953.02 L532.7 1953.88 L534.17 1954.7 L535.64 1955.5 L537.11 1956.25 L538.58 1956.96 L540.05 1957.62 L541.52 1958.22 L542.99 1958.77 L544.46 1959.25 L545.93 1959.67 L547.4 1960.02 L548.86 1960.3 L550.33 1960.5 L551.8 1960.63 L553.27 1960.68 L554.74 1960.65 L556.21 1960.55 L557.68 1960.38 L559.15 1960.13 L560.62 1959.81 L562.09 1959.41 L563.56 1958.96 L565.03 1958.43 L566.5 1957.85 L567.96 1957.21 L569.43 1956.52 L570.9 1955.78 L572.37 1955 L573.84 1954.18 L575.31 1953.34 L576.78 1952.47 L578.25 1951.58 L579.72 1950.69 L581.19 1949.78 L582.66 1948.88 L584.13 1947.99 L585.6 1947.11 L587.06 1946.25 L588.53 1945.42 L590 1944.62 L591.47 1943.86 L592.94 1943.15 L594.41 1942.48 L595.88 1941.87 L597.35 1941.31 L598.82 1940.82 L600.29 1940.39 L601.76 1940.03 L603.23 1939.75 L604.7 1939.53 L606.16 1939.39 L607.63 1939.33 L609.1 1939.34 L610.57 1939.43 L612.04 1939.59 L613.51 1939.83 L614.98 1940.14 L616.45 1940.53 L617.92 1940.98 L619.39 1941.49 L620.86 1942.07 L622.33 1942.7 L623.8 1943.38 L625.26 1944.11 L626.73 1944.89 L628.2 1945.7 L629.67 1946.54 L631.14 1947.4 L632.61 1948.29 L634.08 1949.18 L635.55 1950.08 L637.02 1950.99 L638.49 1951.88 L639.96 1952.76 L641.43 1953.62 L642.9 1954.46 L644.36 1955.26 L645.83 1956.03 L647.3 1956.75 L648.77 1957.43 L650.24 1958.05 L651.71 1958.61 L653.18 1959.12 L654.65 1959.55 L656.12 1959.92 L657.59 1960.22 L659.06 1960.45 L660.53 1960.6 L662 1960.67 L663.46 1960.67 L664.93 1960.59 L666.4 1960.44 L667.87 1960.21 L669.34 1959.91 L670.81 1959.54 L672.28 1959.1 L673.75 1958.59 L675.22 1958.03 L676.69 1957.4 L678.16 1956.73 L679.63 1956 L681.1 1955.24 L682.56 1954.43 L684.03 1953.59 L685.5 1952.73 L686.97 1951.85 L688.44 1950.96 L689.91 1950.05" stroke="#f39019" stroke-width="3.6" fill="none"/>
<path d="M103.69 1952.88 L105.16 1955.23 L106.63 1957.4 L108.1 1959.35 L109.57 1961.02 L111.04 1962.35 L112.5 1963.32 L113.97 1963.89 L115.44 1964.05 L116.91 1963.79 L118.38 1963.12 L119.85 1962.06 L121.32 1960.65 L122.79 1958.91 L124.26 1956.9 L125.73 1954.68 L127.2 1952.31 L128.67 1949.85 L130.14 1947.39 L131.6 1944.98 L133.07 1942.7 L134.54 1940.62 L136.01 1938.78 L137.48 1937.25 L138.95 1936.07 L140.42 1935.27 L141.89 1934.87 L143.36 1934.89 L144.83 1935.32 L146.3 1936.16 L147.77 1937.38 L149.24 1938.94 L150.7 1940.8 L152.17 1942.9 L153.64 1945.2 L155.11 1947.61 L156.58 1950.08 L158.05 1952.53 L159.52 1954.89 L160.99 1957.09 L162.46 1959.08 L163.93 1960.79 L165.4 1962.18 L166.87 1963.2 L168.34 1963.83 L169.8 1964.05 L171.27 1963.86 L172.74 1963.25 L174.21 1962.25 L175.68 1960.88 L177.15 1959.19 L178.62 1957.21 L180.09 1955.02 L181.56 1952.67 L183.03 1950.22 L184.5 1947.75 L185.97 1945.34 L187.44 1943.03 L188.9 1940.91 L190.37 1939.04 L191.84 1937.46 L193.31 1936.22 L194.78 1935.36 L196.25 1934.9 L197.72 1934.86 L199.19 1935.23 L200.66 1936.01 L202.13 1937.17 L203.6 1938.68 L205.07 1940.5 L206.54 1942.58 L208 1944.85 L209.47 1947.25 L210.94 1949.71 L212.41 1952.16 L213.88 1954.54 L215.35 1956.77 L216.82 1958.8 L218.29 1960.55 L219.76 1961.99 L221.23 1963.07 L222.7 1963.76 L224.17 1964.05 L225.64 1963.91 L227.1 1963.36 L228.57 1962.42 L230.04 1961.1 L231.51 1959.46 L232.98 1957.52 L234.45 1955.36 L235.92 1953.03 L237.39 1950.59 L238.86 1948.12 L240.33 1945.69 L241.8 1943.37 L243.27 1941.22 L244.74 1939.3 L246.2 1937.67 L247.67 1936.38 L249.14 1935.47 L250.61 1934.95 L252.08 1934.84 L253.55 1935.15 L255.02 1935.87 L256.49 1936.98 L257.96 1938.44 L259.43 1940.21 L260.9 1942.25 L262.37 1944.5 L263.84 1946.88 L265.3 1949.34 L266.77 1951.8 L268.24 1954.19 L269.71 1956.45 L271.18 1958.51 L272.65 1960.31 L274.12 1961.8 L275.59 1962.93 L277.06 1963.69 L278.53 1964.03 L280 1963.96 L281.47 1963.47 L282.93 1962.58 L284.4 1961.32 L285.87 1959.72 L287.34 1957.83 L288.81 1955.69 L290.28 1953.38 L291.75 1950.96 L293.22 1948.49 L294.69 1946.05 L296.16 1943.7 L297.63 1941.52 L299.1 1939.57 L300.57 1937.9 L302.03 1936.55 L303.5 1935.58 L304.97 1935 L306.44 1934.83 L307.91 1935.08 L309.38 1935.74 L310.85 1936.79 L312.32 1938.2 L313.79 1939.93 L315.26 1941.93 L316.73 1944.15 L318.2 1946.52 L319.67 1948.97 L321.13 1951.44 L322.6 1953.84 L324.07 1956.13 L325.54 1958.22 L327.01 1960.06 L328.48 1961.6 L329.95 1962.79 L331.42 1963.6 L332.89 1964 L334.36 1963.99 L335.83 1963.57 L337.3 1962.74 L338.77 1961.53 L340.23 1959.98 L341.7 1958.13 L343.17 1956.03 L344.64 1953.74 L346.11 1951.32 L347.58 1948.86 L349.05 1946.41 L350.52 1944.05 L351.99 1941.84 L353.46 1939.84 L354.93 1938.13 L356.4 1936.73 L357.87 1935.7 L359.33 1935.06 L360.8 1934.83 L362.27 1935.02 L363.74 1935.61 L365.21 1936.61 L366.68 1937.97 L368.15 1939.65 L369.62 1941.62 L371.09 1943.81 L372.56 1946.16 L374.03 1948.6 L375.5 1951.07 L376.97 1953.49 L378.43 1955.8 L379.9 1957.92 L381.37 1959.8 L382.84 1961.39 L384.31 1962.63 L385.78 1963.5 L387.25 1963.97 L388.72 1964.02 L390.19 1963.66 L391.66 1962.89 L393.13 1961.74 L394.6 1960.23 L396.07 1958.42 L397.53 1956.35 L399 1954.09 L400.47 1951.69 L401.94 1949.23 L403.41 1946.77 L404.88 1944.39 L406.35 1942.15 L407.82 1940.13 L409.29 1938.36 L410.76 1936.92 L412.23 1935.83 L413.7 1935.13 L415.17 1934.84 L416.63 1934.96 L418.1 1935.5 L419.57 1936.44 L421.04 1937.74 L422.51 1939.38 L423.98 1941.31 L425.45 1943.47 L426.92 1945.8 L428.39 1948.24 L429.86 1950.7 L431.33 1953.14 L432.8 1955.46 L434.27 1957.62 L435.73 1959.54 L437.2 1961.17 L438.67 1962.47 L440.14 1963.4 L441.61 1963.93 L443.08 1964.04 L444.55 1963.74 L446.02 1963.03 L447.49 1961.93 L448.96 1960.48 L450.43 1958.71 L451.9 1956.67 L453.37 1954.43 L454.83 1952.05 L456.3 1949.59 L457.77 1947.13 L459.24 1944.74 L460.71 1942.48 L462.18 1940.41 L463.65 1938.61 L465.12 1937.11 L466.59 1935.97 L468.06 1935.21 L469.53 1934.85 L471 1934.92 L472.47 1935.39 L473.93 1936.27 L475.4 1937.53 L476.87 1939.12 L478.34 1941.01 L479.81 1943.14 L481.28 1945.45 L482.75 1947.87 L484.22 1950.34 L485.69 1952.78 L487.16 1955.13 L488.63 1957.31 L490.1 1959.27 L491.57 1960.95 L493.03 1962.3 L494.5 1963.28 L495.97 1963.87 L497.44 1964.05 L498.91 1963.81 L500.38 1963.16 L501.85 1962.12 L503.32 1960.72 L504.79 1958.99 L506.26 1956.99 L507.73 1954.78 L509.2 1952.41 L510.67 1949.96 L512.13 1947.5 L513.6 1945.09 L515.07 1942.8 L516.54 1940.7 L518.01 1938.86 L519.48 1937.31 L520.95 1936.11 L522.42 1935.3 L523.89 1934.88 L525.36 1934.88 L526.83 1935.3 L528.3 1936.12 L529.76 1937.32 L531.23 1938.86 L532.7 1940.71 L534.17 1942.81 L535.64 1945.09 L537.11 1947.5 L538.58 1949.97 L540.05 1952.42 L541.52 1954.78 L542.99 1957 L544.46 1958.99 L545.93 1960.72 L547.4 1962.12 L548.86 1963.16 L550.33 1963.81 L551.8 1964.05 L553.27 1963.87 L554.74 1963.28 L556.21 1962.3 L557.68 1960.95 L559.15 1959.27 L560.62 1957.31 L562.09 1955.12 L563.56 1952.77 L565.03 1950.33 L566.5 1947.86 L567.96 1945.44 L569.43 1943.13 L570.9 1941 L572.37 1939.12 L573.84 1937.52 L575.31 1936.27 L576.78 1935.39 L578.25 1934.92 L579.72 1934.85 L581.19 1935.21 L582.66 1935.97 L584.13 1937.11 L585.6 1938.61 L587.06 1940.42 L588.53 1942.48 L590 1944.74 L591.47 1947.14 L592.94 1949.6 L594.41 1952.06 L595.88 1954.44 L597.35 1956.68 L598.82 1958.71 L600.29 1960.48 L601.76 1961.93 L603.23 1963.03 L604.7 1963.74 L606.16 1964.04 L607.63 1963.93 L609.1 1963.4 L610.57 1962.47 L612.04 1961.17 L613.51 1959.54 L614.98 1957.61 L616.45 1955.46 L617.92 1953.13 L619.39 1950.7 L620.86 1948.23 L622.33 1945.8 L623.8 1943.47 L625.26 1941.31 L626.73 1939.38 L628.2 1937.74 L629.67 1936.43 L631.14 1935.5 L632.61 1934.96 L634.08 1934.84 L635.55 1935.13 L637.02 1935.83 L638.49 1936.92 L639.96 1938.37 L641.43 1940.13 L642.9 1942.16 L644.36 1944.39 L645.83 1946.77 L647.3 1949.23 L648.77 1951.69 L650.24 1954.09 L651.71 1956.36 L653.18 1958.42 L654.65 1960.24 L656.12 1961.74 L657.59 1962.89 L659.06 1963.66 L660.53 1964.02 L662 1963.97 L663.46 1963.5 L664.93 1962.63 L666.4 1961.39 L667.87 1959.8 L669.34 1957.92 L670.81 1955.79 L672.28 1953.49 L673.75 1951.07 L675.22 1948.6 L676.69 1946.15 L678.16 1943.8 L679.63 1941.62 L681.1 1939.65 L682.56 1937.96 L684.03 1936.61 L685.5 1935.61 L686.97 1935.01 L688.44 1934.83 L689.91 1935.06" stroke="#f05cf0" stroke-width="3.4" fill="none"/>
</g>
<line x1="103.5" y1="1860.36" x2="103.5" y2="2038.22" stroke="#262626" stroke-width="1.5" />
<line x1="103.5" y1="2037.72" x2="688.6" y2="2037.72" stroke="#262626" stroke-width="1.5" />
<line x1="97.3" y1="1893.24" x2="103.5" y2="1893.24" stroke="#262626" stroke-width="1.5" />
<text x="91.9" y="1903.14" font-size="22" text-anchor="end" font-weight="normal" fill="#262626" >2</text>
<line x1="97.3" y1="1949.44" x2="103.5" y2="1949.44" stroke="#262626" stroke-width="1.5" />
<text x="91.9" y="1957.34" font-size="22" text-anchor="end" font-weight="normal" fill="#262626" >0</text>
<line x1="97.3" y1="2005.64" x2="103.5" y2="2005.64" stroke="#262626" stroke-width="1.5" />
<text x="91.9" y="2015.54" font-size="22" text-anchor="end" font-weight="normal" fill="#262626" >2</text>
<line x1="116.9" y1="2037.72" x2="116.9" y2="2048.02" stroke="#262626" stroke-width="1.5" />
<line x1="210.2" y1="2037.72" x2="210.2" y2="2048.02" stroke="#262626" stroke-width="1.5" />
<line x1="303.5" y1="2037.72" x2="303.5" y2="2048.02" stroke="#262626" stroke-width="1.5" />
<line x1="396.8" y1="2037.72" x2="396.8" y2="2048.02" stroke="#262626" stroke-width="1.5" />
<line x1="490.1" y1="2037.72" x2="490.1" y2="2048.02" stroke="#262626" stroke-width="1.5" />
<line x1="583.4" y1="2037.72" x2="583.4" y2="2048.02" stroke="#262626" stroke-width="1.5" />
<line x1="676.7" y1="2037.72" x2="676.7" y2="2048.02" stroke="#262626" stroke-width="1.5" />
<text x="113.8" y="1873.4" font-size="25" text-anchor="start" font-weight="normal" fill="#262626" letter-spacing="0.1">fly 5</text>
<text transform="translate(65.5 1950.94) rotate(-90)" font-size="22" text-anchor="middle" fill="#262626">drift (rad)</text>
<clipPath id="cc6"><rect x="738.19" y="1861.16" width="586.22" height="176.56"/></clipPath>
<g clip-path="url(#cc6)">
<g stroke="#4a10d0" stroke-opacity="0.5" stroke-width="8" stroke-linecap="round" fill="none">
<path d="M744.5 1949.6h0m32.7-.2h0m37.8 1.1h0m4.8-2.3h0m25.4 2.5h0m6.8-1.5h0m43.2-.8h0m25-.9h0m11.3 4.1h0m53.5-4.8h0m1.2 3.6h0m1.9-4h0m1.2 8.6h0m11.7-6.7h0m7.3 3.2h0m7 .2h0m70.7-7h0m39.3 3.5h0m6.8-1h0m5.9 2h0m5.9 2.1h0m7.3-3.8h0m8.7-.7h0m26.9 4.7h0m3.5-3.9h0m36.9 1.7h0m80.8 .6h0m7.1-3.5h0"/>
<path d="M743.7 1954.0h0m4.4-4.5h0m3.9-2.7h0m42.8 1.1h0m19.9 1.3h0m17.3-2.3h0m9.1-1.1h0m9.4 5h0m16.7-.8h0m5 3.7h0m11.6-5.5h0m4.9 1.4h0m1.5 1.5h0m3.7-2.4h0m51 3.9h0m18.2 1.7h0m15.4-.6h0m26.9-5.7h0m21.6 4.6h0m58-4h0m17.9 3.4h0m20.9-3.9h0m21.8 .5h0m28.9 1.4h0m5.2-1h0m128.7-4.7h0m5.9 8.4h0"/>
<path d="M775.2 1949.4h0m3.9-5.1h0m4.5 8.1h0m2.8-1.9h0m19.1 2.9h0m27.3-10.7h0m24.2 5.3h0m6 2h0m115.3-1.3h0m15.3 2.7h0m72.1-4.8h0m40.1-1.4h0m19.9 5.7h0m10.7-2.5h0m11.5 2h0m21-3.1h0m18.6 2.3h0m39.9-1.3h0m53.1 5.9h0m28.5-7.7h0"/>
<path d="M869.5 1931.3h0m12.1 18.2h0m90-4.5h0m17.2 4.6h0m41.3 .9h0m49.9-3.2h0m6 2.6h0m22.9-1.2h0m30 2.4h0m1.1-2.6h0m27.4-.6h0m27.5 3.7h0m104.2-5.4h0m9.8 4.1h0m1-3.1h0"/>
<path d="M778.6 1948.1h0m5.1 4.2h0m49.5-1h0m6.3 11.2h0m59.7-6.6h0m71.1-8h0m9.9 5.1h0m3.8-8.8h0m6 6.9h0m1.4-.6h0m10.9-5.4h0m39.2 6.7h0m91.7-3.1h0m43.1-.7h0m37.8-2.4h0m23.5 3h0m26.4-.1h0m30.4 1.2h0m12.1 2.5h0m14.8-3.1h0"/>
<path d="M744.3 1951.0h0m16.7 .4h0m6.7-3.4h0m108.1-2.8h0m1.1 19h0m9.1-9.7h0m40.2 .8h0m9.9-9.7h0m24.4 4.2h0m50.3-2.5h0m80.5 0h0m12.5-.3h0m2.4-1h0m9.5 1.8h0m29.9 1.7h0m.6-1.6h0m10-.6h0m3.3 1.6h0m16.1 3.9h0m5.2-3.7h0m10.7 .4h0m.2-3.2h0m58 2.4h0m61.1-.9h0"/>
<path d="M791.9 1951.2h0m28.3-1.6h0m16.4 1.5h0m25.5-4.3h0m2.3-.1h0m7 4.1h0m6.7-3.6h0m2.6-.3h0m98 1.1h0m17-5.5h0m15.8 4h0m2.2-2.6h0m6.1 19.7h0m9.5-6.2h0m55-10.3h0m40.5-2.2h0m35.2 8.1h0m2.7-3.2h0m10.6 .6h0m1.7-.5h0m93.2 .2h0m47 .2h0"/>
<path d="M746.3 1948.1h0m11.9 2.5h0m28.1 2.9h0m11.1-4.5h0m11.6 4.2h0m3.9-5.5h0m40.4 2.8h0m69.2-4.3h0m62.1 5.6h0m23.8-4.3h0m19.2 4.4h0m60.3 .4h0m14.2-6.4h0m31.9 4.2h0m33.1 .2h0m11.2-.2h0m26-1h0m97.6 1.5h0m9.8-.5h0"/>
<path d="M803.8 1881.9h0m54.7 65.4h0m123.3 2.9h0m83.1-2.4h0m32.2-.5h0m12.7 3.9h0m19.9-5.7h0m4.1 3.9h0m4.8-1.7h0m2.1 3.2h0m17.9-3.8h0m1.8 .8h0m24.9 1.2h0m124.7 .3h0m4-.3h0m2.1 .3h0"/>
<path d="M741.7 1948.7h0m1.9-11.7h0m54.3 16.3h0m19.9-2.2h0m14.9 1.8h0m.7-4.8h0m1.5 1.6h0m15.1-2.4h0m29.1 1.9h0m12.5 4.3h0m8-4.9h0m23.6 3.1h0m2.3-7.4h0m4.7 2.2h0m19.8 .8h0m26.4-3.4h0m18.2 16.3h0m17.7-9.4h0m10.4 2h0m8.2-1.6h0m10.6 1h0m102.1-2.3h0m12.9 .2h0m9.7 1.2h0m63.9 .1h0m35.4-4.5h0m44.8 3.6h0"/>
<path d="M757.4 1954.8h0m5.2-7.1h0m60.6 .9h0m7.2 3.7h0m3.7-3.9h0m12.4-1.4h0m.6 4.9h0m9.7-4.3h0m50-.2h0m54.1 1.1h0m3.7 3.6h0m.6-4.3h0m7.3 5h0m1.2-2.9h0m6.6 1.9h0m11.2-3.9h0m44.7 2.8h0m2.6-2.6h0m8.7-2.8h0m50.3 2.7h0m51.1-4.8h0m5.7 6.8h0m13 2.3h0m46-2.1h0m31.2-.4h0m51.4-5.1h0m3 2.8h0m11.6-.6h0m1.9 2h0m8 .8h0"/>
<path d="M743.4 1949.6h0m.5-1.5h0m14.2-.4h0m20.4 .1h0m7.4 2.7h0m6.6 .9h0m15.1 1.2h0m10 .9h0m16.2-2.3h0m8-2h0m28.6-.7h0m.7 2.6h0m29.9-3.5h0m1.9-.6h0m22.9 4h0m4.1 0h0m23.5-2.5h0m10.5 2.2h0m5.5 .9h0m5.7-3.1h0m4.2-.3h0m3.3-.2h0m.3-.6h0m9.7-2h0m49.6 5.9h0m99 1.5h0m7.8-3.1h0m2.7-.3h0m4.4-.2h0m6.4-1.1h0m62-.7h0m24.2-.8h0m17.6 4.7h0m24.9-5h0m15 4.8h0m2.7 1.5h0m9-8.4h0"/>
<path d="M754.6 1948.1h0m10.1 .8h0m38.8-3.4h0m17.6 5.6h0m62.2 1.6h0m15.1-4.2h0m46.9 1.9h0m16.8 3.6h0m9.8-3.7h0m3.3-1.5h0m16 .6h0m3 2.3h0m6.9 .4h0m15.5-1.5h0m75.6 2.5h0m40.3-2.6h0m8.5-1.8h0m8.1-.4h0m3.7 4.1h0m8.3-6.7h0m28.6 2.3h0m87.8 2.9h0"/>
<path d="M747.0 1945.0h0m9.3 3.2h0m3.7 4.9h0m12.6-3.2h0m23.6 1.7h0m35.9-.2h0m56.8-5.6h0m2.1 2.2h0m13.1-14.4h0m17.1 16.9h0m40.7 .5h0m18.3-4.6h0m6 1.6h0m114.3 4.9h0m27.4-5.5h0m3.9 2.1h0m2.7 1.6h0m4-1.9h0m33.5-.2h0m60.8-2.6h0m28.9 6.2h0m26.9-6h0m5.5 3.3h0m9.1-1.5h0m18.9-2.2h0"/>
<path d="M741.7 1951.1h0m14-2.8h0m47.4 2.9h0m14.7-11.4h0m7.6 11.7h0m.4-1.9h0m9.8 .7h0m9.7 1.7h0m30.3-4.6h0m3.9-.7h0m119.4 1.3h0m29.1 1.7h0m13.1-2.3h0m41.5 1.6h0m3.5 4.9h0m10.7-3.2h0m22.3 .3h0m8.3-1.6h0m8.4 11.4h0m.6-10.9h0m1.8 7.5h0m7-10h0m42.6 .1h0m72.2-.8h0m3.5 3.6h0m31.6 .3h0m5.2 .7h0m3.1-5.1h0m11.2 1.9h0"/>
<path d="M762.1 1948.1h0m45.4 3.4h0m29.2 .3h0m.3 1.5h0m1.2-2.3h0m11-.6h0m2.5-5.9h0m27.3 6.3h0m53.5-.8h0m14.6 1.5h0m.4-1.5h0m24.3-1.1h0m4.5-4.7h0m51.5 7.4h0m1.5-1.9h0m.5-2.4h0m8 4h0m88-3.7h0m14 1.2h0m.2-.5h0m3.6 2.3h0m3.1-3.8h0m10.1 8.4h0m31.1-2.7h0m109.4-.2h0"/>
<path d="M757.8 1948.6h0m4.6 .5h0m3.4-1.5h0m11.2 6.3h0m18.4-5.5h0m11.8 10.2h0m21.6-10h0m13.5-2.9h0m74.1 5.5h0m19.9-1.2h0m.1 1.2h0m33.3-2.6h0m19.4-.5h0m1.9-1.5h0m129.1 2.8h0m4.8-1.2h0m42.9-.2h0m95 3.2h0m23.8-2.4h0m19.3 .7h0m5.8 2.6h0m3.8-3.7h0"/>
<path d="M803.1 1951.0h0m19.4-3.4h0m5.1 2.9h0m.3-3.7h0m1.6 2.6h0m26-1.6h0m20.1 9.6h0m54.2-10.4h0m60.3 4.3h0m30.3-4h0m28.1 .3h0m7.5-.3h0m3 3h0m44.6-.3h0m7-6h0m17.8 6.1h0m4-1.3h0m26.5-1.5h0m17.2 2.8h0m18.1-.4h0m4.4 1.6h0m8.7-4.4h0m62.3 3.8h0m9.1-.3h0m8.5-2.6h0m9 1.5h0"/>
<path d="M739.1 1946.7h0m.9 5.4h0m1.7-3.5h0m.6 .8h0m125.9-3.4h0m16.2 3h0m7.3-4.5h0m9.1 3.7h0m23 4.1h0m15.1-6.2h0m5.6 5h0m21-8h0m7.5 5.3h0m14-1.3h0m6.8 2.4h0m6.6 1.4h0m20-.2h0m.1 3.6h0m39-5.3h0m40.4 2.1h0m49.5-12.4h0m9.2 7.1h0m11.8 3.7h0m16.2-1.3h0m96.8 .7h0m12.9 4h0m2.4-3.1h0m13.2-1.3h0"/>
<path d="M789.4 1951.0h0m10.7 .9h0m13.6-5.6h0m64.8 .8h0m23.4 2.7h0m36.6 .3h0m36.4-3.6h0m7.6-.3h0m12.1 3.4h0m5.6 .8h0m10.3-.4h0m3.9-1.2h0m35.5 2h0m9-4.5h0m24.7 2.6h0m31.6 2.2h0m22.5 .6h0m30.6-4.6h0m5.7 2.5h0m29.9 .6h0m97-1.6h0m6 2.1h0"/>
<path d="M738.9 1949.1h0m28.5-3.2h0m11.2 2.4h0m23.3 1.8h0m120-.8h0m5.6 2.5h0m1.9-4.9h0m47.5 2.4h0m21.4 1.2h0m2.5-2h0m21.9 4.1h0m13.1-7.5h0m6.8 5.9h0m36-12.3h0m96.7 14.8h0m9.7-3.1h0m15.8 .4h0m6 .8h0m21.1 1.1h0m7.2-10.6h0m40.8 10.7h0m18.4-.6h0m12-1.2h0m3.7 3.5h0"/>
<path d="M794.5 1949.2h0m39.3 1.1h0m26.7-2.4h0m5.4-.5h0m51.2 1.9h0m13.5 .6h0m31.3-2.4h0m3.2 5.4h0m4 .1h0m33.6 .5h0m9.4-4.7h0m11.7-.8h0m75.2 3.2h0m7.3-1.1h0m7-3.5h0m32.8 4h0m1.6-1.3h0m144-1.8h0m13.5 3h0"/>
<path d="M739.3 1952.3h0m8.9-2.3h0m7.6-.8h0m.7 11.6h0m96.6-.6h0m22-12h0m23.2-2.9h0m69.9-3.7h0m11.1 11h0m33.5-3.7h0m67.3 5.9h0m10.3-10.5h0m83.5 14.8h0m49.7-11.8h0m19.7 .6h0m48.5 2.9h0m2.1 .1h0m9.2 6.5h0m16.9-2.3h0"/>
<path d="M745.3 1948.5h0m9.8-.8h0m77 2.9h0m16.6-3.4h0m33.7 4.4h0m40.7-1.7h0m30 .2h0m3.4-3.6h0m5.6 4.3h0m10.4-5.2h0m12.6 5.7h0m18.2-1.2h0m15.8-1.3h0m26.6 7.2h0m10.3-3.8h0m57.8-4.7h0m29.2 4.8h0m10.4 3.2h0m4.4-5.8h0m11.3 1.6h0m24.3-5.3h0m9.2 4.5h0m5.2-3h0m5.8 4.2h0m67.5-3.8h0m31.1 2.8h0"/>
</g>
<path d="M740.52 1949.75 L745.17 1949.23 L749.82 1948.74 L754.47 1948.31 L759.13 1951.04 L763.78 1948.29 L768.43 1946.99 L773.08 1949.69 L777.74 1948.62 L782.39 1952.36 L787.04 1951.52 L791.69 1951.18 L796.35 1949.89 L801 1951.04 L805.65 1926.15 L810.3 1953.24 L814.96 1948.42 L819.61 1950.68 L824.26 1949.34 L828.91 1949.51 L833.57 1949.49 L838.22 1951.8 L842.87 1947.84 L847.52 1949.72 L852.18 1948.47 L856.83 1947.66 L861.48 1948.23 L866.13 1947.54 L870.79 1951.02 L875.44 1946.92 L880.09 1948.61 L884.74 1951.1 L889.4 1949.6 L894.05 1947.19 L898.7 1949.01 L903.35 1948.44 L908.01 1947.37 L912.66 1948.79 L917.31 1950.22 L921.97 1949.64 L926.62 1950.59 L931.27 1948.99 L935.92 1948.94 L940.58 1948.08 L945.23 1951.1 L949.88 1947.26 L954.53 1948.39 L959.19 1949.17 L963.84 1950.42 L968.49 1948.55 L973.14 1948.48 L977.8 1948.57 L982.45 1948.77 L987.1 1949.2 L991.75 1949.23 L996.41 1948.56 L1001.06 1949.66 L1005.71 1947.97 L1010.36 1948.91 L1015.02 1948.78 L1019.67 1950.28 L1024.32 1951.14 L1028.97 1950.53 L1033.63 1945.08 L1038.28 1950.01 L1042.93 1950.74 L1047.58 1949.92 L1052.24 1949.47 L1056.89 1949.01 L1061.54 1949.01 L1066.19 1947.18 L1070.85 1948.46 L1075.5 1949.74 L1080.15 1951.02 L1084.8 1948.87 L1089.46 1948 L1094.11 1953.08 L1098.76 1950.18 L1103.41 1948.7 L1108.07 1948.23 L1112.72 1946.04 L1117.37 1949.96 L1122.02 1948.75 L1126.68 1948.33 L1131.33 1948.39 L1135.98 1949.97 L1140.63 1949.55 L1145.29 1949.49 L1149.94 1948.28 L1154.59 1951.39 L1159.25 1948.02 L1163.9 1949.71 L1168.55 1949.21 L1173.2 1950.4 L1177.86 1949.98 L1182.51 1949.15 L1187.16 1949.82 L1191.81 1947.46 L1196.47 1950.87 L1201.12 1950.61 L1205.77 1949.05 L1210.42 1949.09 L1215.08 1949.13 L1219.73 1948.23 L1224.38 1947.32 L1229.03 1950.39 L1233.69 1946.43 L1238.34 1948.56 L1242.99 1948.83 L1247.64 1948.66 L1252.3 1949.18 L1256.95 1949.69 L1261.6 1950.21 L1266.25 1949.21 L1270.91 1950.68 L1275.56 1951.84 L1280.21 1950.84 L1284.86 1948.51 L1289.52 1947.79 L1294.17 1950.01 L1298.82 1949.27 L1303.47 1948.94 L1308.13 1949.97 L1312.78 1949.51 L1317.43 1947.72 L1322.08 1950" stroke="#4a0fd0" stroke-width="3.2" fill="none" stroke-linejoin="round"/>
<path d="M738.19 1935.27 L739.66 1935.46 L741.13 1935.72 L742.6 1936.05 L744.07 1936.46 L745.54 1936.93 L747 1937.47 L748.47 1938.08 L749.94 1938.74 L751.41 1939.47 L752.88 1940.25 L754.35 1941.08 L755.82 1941.97 L757.29 1942.89 L758.76 1943.86 L760.23 1944.87 L761.7 1945.91 L763.17 1946.98 L764.64 1948.07 L766.1 1949.18 L767.57 1950.3 L769.04 1951.44 L770.51 1952.57 L771.98 1953.71 L773.45 1954.85 L774.92 1955.97 L776.39 1957.08 L777.86 1958.17 L779.33 1959.23 L780.8 1960.27 L782.27 1961.27 L783.74 1962.24 L785.2 1963.16 L786.67 1964.04 L788.14 1964.87 L789.61 1965.65 L791.08 1966.37 L792.55 1967.03 L794.02 1967.63 L795.49 1968.17 L796.96 1968.64 L798.43 1969.04 L799.9 1969.37 L801.37 1969.62 L802.84 1969.81 L804.3 1969.92 L805.77 1969.95 L807.24 1969.91 L808.71 1969.8 L810.18 1969.61 L811.65 1969.36 L813.12 1969.02 L814.59 1968.62 L816.06 1968.15 L817.53 1967.61 L819 1967.01 L820.47 1966.35 L821.94 1965.62 L823.4 1964.84 L824.87 1964.01 L826.34 1963.13 L827.81 1962.2 L829.28 1961.24 L830.75 1960.23 L832.22 1959.19 L833.69 1958.13 L835.16 1957.04 L836.63 1955.93 L838.1 1954.81 L839.57 1953.67 L841.04 1952.53 L842.5 1951.39 L843.97 1950.26 L845.44 1949.14 L846.91 1948.03 L848.38 1946.94 L849.85 1945.87 L851.32 1944.83 L852.79 1943.83 L854.26 1942.86 L855.73 1941.93 L857.2 1941.05 L858.67 1940.22 L860.14 1939.44 L861.6 1938.72 L863.07 1938.05 L864.54 1937.45 L866.01 1936.91 L867.48 1936.44 L868.95 1936.04 L870.42 1935.71 L871.89 1935.45 L873.36 1935.26 L874.83 1935.15 L876.3 1935.11 L877.77 1935.14 L879.24 1935.25 L880.7 1935.44 L882.17 1935.7 L883.64 1936.02 L885.11 1936.42 L886.58 1936.89 L888.05 1937.43 L889.52 1938.03 L890.99 1938.69 L892.46 1939.41 L893.93 1940.19 L895.4 1941.02 L896.87 1941.89 L898.34 1942.82 L899.8 1943.79 L901.27 1944.79 L902.74 1945.83 L904.21 1946.89 L905.68 1947.98 L907.15 1949.09 L908.62 1950.21 L910.09 1951.35 L911.56 1952.48 L913.03 1953.62 L914.5 1954.76 L915.97 1955.88 L917.43 1956.99 L918.9 1958.08 L920.37 1959.15 L921.84 1960.19 L923.31 1961.19 L924.78 1962.16 L926.25 1963.09 L927.72 1963.97 L929.19 1964.81 L930.66 1965.59 L932.13 1966.32 L933.6 1966.98 L935.07 1967.59 L936.53 1968.13 L938 1968.6 L939.47 1969.01 L940.94 1969.34 L942.41 1969.6 L943.88 1969.79 L945.35 1969.91 L946.82 1969.95 L948.29 1969.92 L949.76 1969.81 L951.23 1969.63 L952.7 1969.38 L954.17 1969.05 L955.63 1968.66 L957.1 1968.19 L958.57 1967.66 L960.04 1967.06 L961.51 1966.4 L962.98 1965.68 L964.45 1964.91 L965.92 1964.08 L967.39 1963.2 L968.86 1962.28 L970.33 1961.32 L971.8 1960.31 L973.27 1959.28 L974.73 1958.21 L976.2 1957.13 L977.67 1956.02 L979.14 1954.9 L980.61 1953.76 L982.08 1952.62 L983.55 1951.49 L985.02 1950.35 L986.49 1949.23 L987.96 1948.12 L989.43 1947.02 L990.9 1945.96 L992.37 1944.91 L993.83 1943.91 L995.3 1942.94 L996.77 1942.01 L998.24 1941.12 L999.71 1940.29 L1001.18 1939.5 L1002.65 1938.77 L1004.12 1938.1 L1005.59 1937.5 L1007.06 1936.95 L1008.53 1936.48 L1010 1936.07 L1011.47 1935.73 L1012.93 1935.47 L1014.4 1935.27 L1015.87 1935.15 L1017.34 1935.11 L1018.81 1935.14 L1020.28 1935.24 L1021.75 1935.42 L1023.22 1935.67 L1024.69 1936 L1026.16 1936.39 L1027.63 1936.85 L1029.1 1937.38 L1030.57 1937.98 L1032.03 1938.63 L1033.5 1939.35 L1034.97 1940.12 L1036.44 1940.95 L1037.91 1941.82 L1039.38 1942.74 L1040.85 1943.71 L1042.32 1944.71 L1043.79 1945.74 L1045.26 1946.8 L1046.73 1947.89 L1048.2 1949 L1049.67 1950.12 L1051.13 1951.25 L1052.6 1952.39 L1054.07 1953.53 L1055.54 1954.67 L1057.01 1955.79 L1058.48 1956.9 L1059.95 1958 L1061.42 1959.06 L1062.89 1960.11 L1064.36 1961.12 L1065.83 1962.09 L1067.3 1963.02 L1068.77 1963.91 L1070.23 1964.74 L1071.7 1965.53 L1073.17 1966.26 L1074.64 1966.93 L1076.11 1967.54 L1077.58 1968.09 L1079.05 1968.57 L1080.52 1968.98 L1081.99 1969.32 L1083.46 1969.59 L1084.93 1969.78 L1086.4 1969.9 L1087.87 1969.95 L1089.33 1969.93 L1090.8 1969.82 L1092.27 1969.65 L1093.74 1969.4 L1095.21 1969.08 L1096.68 1968.69 L1098.15 1968.23 L1099.62 1967.7 L1101.09 1967.11 L1102.56 1966.46 L1104.03 1965.74 L1105.5 1964.97 L1106.97 1964.15 L1108.43 1963.27 L1109.9 1962.36 L1111.37 1961.39 L1112.84 1960.4 L1114.31 1959.36 L1115.78 1958.3 L1117.25 1957.21 L1118.72 1956.11 L1120.19 1954.99 L1121.66 1953.85 L1123.13 1952.71 L1124.6 1951.58 L1126.07 1950.44 L1127.53 1949.32 L1129 1948.2 L1130.47 1947.11 L1131.94 1946.04 L1133.41 1945 L1134.88 1943.99 L1136.35 1943.01 L1137.82 1942.08 L1139.29 1941.19 L1140.76 1940.35 L1142.23 1939.56 L1143.7 1938.83 L1145.17 1938.16 L1146.63 1937.54 L1148.1 1937 L1149.57 1936.51 L1151.04 1936.1 L1152.51 1935.76 L1153.98 1935.48 L1155.45 1935.29 L1156.92 1935.16 L1158.39 1935.11 L1159.86 1935.13 L1161.33 1935.23 L1162.8 1935.4 L1164.26 1935.65 L1165.73 1935.97 L1167.2 1936.36 L1168.67 1936.81 L1170.14 1937.34 L1171.61 1937.93 L1173.08 1938.58 L1174.55 1939.29 L1176.02 1940.06 L1177.49 1940.88 L1178.96 1941.75 L1180.43 1942.67 L1181.9 1943.63 L1183.36 1944.63 L1184.83 1945.66 L1186.3 1946.72 L1187.77 1947.8 L1189.24 1948.91 L1190.71 1950.03 L1192.18 1951.16 L1193.65 1952.3 L1195.12 1953.44 L1196.59 1954.58 L1198.06 1955.7 L1199.53 1956.81 L1201 1957.91 L1202.46 1958.98 L1203.93 1960.02 L1205.4 1961.04 L1206.87 1962.01 L1208.34 1962.95 L1209.81 1963.84 L1211.28 1964.68 L1212.75 1965.47 L1214.22 1966.2 L1215.69 1966.88 L1217.16 1967.5 L1218.63 1968.05 L1220.1 1968.53 L1221.56 1968.95 L1223.03 1969.29 L1224.5 1969.57 L1225.97 1969.77 L1227.44 1969.9 L1228.91 1969.95 L1230.38 1969.93 L1231.85 1969.84 L1233.32 1969.67 L1234.79 1969.42 L1236.26 1969.11 L1237.73 1968.72 L1239.2 1968.27 L1240.66 1967.75 L1242.13 1967.16 L1243.6 1966.51 L1245.07 1965.8 L1246.54 1965.04 L1248.01 1964.22 L1249.48 1963.35 L1250.95 1962.43 L1252.42 1961.47 L1253.89 1960.48 L1255.36 1959.45 L1256.83 1958.39 L1258.3 1957.3 L1259.76 1956.2 L1261.23 1955.08 L1262.7 1953.94 L1264.17 1952.81 L1265.64 1951.67 L1267.11 1950.53 L1268.58 1949.4 L1270.05 1948.29 L1271.52 1947.2 L1272.99 1946.12 L1274.46 1945.08 L1275.93 1944.07 L1277.4 1943.09 L1278.86 1942.15 L1280.33 1941.26 L1281.8 1940.42 L1283.27 1939.62 L1284.74 1938.89 L1286.21 1938.21 L1287.68 1937.59 L1289.15 1937.04 L1290.62 1936.55 L1292.09 1936.13 L1293.56 1935.78 L1295.03 1935.5 L1296.5 1935.3 L1297.96 1935.17 L1299.43 1935.11 L1300.9 1935.13 L1302.37 1935.22 L1303.84 1935.39 L1305.31 1935.63 L1306.78 1935.94 L1308.25 1936.32 L1309.72 1936.77 L1311.19 1937.29 L1312.66 1937.88 L1314.13 1938.52 L1315.6 1939.23 L1317.06 1940 L1318.53 1940.81 L1320 1941.68 L1321.47 1942.59 L1322.94 1943.55 L1324.41 1944.55" stroke="#f39019" stroke-width="3.6" fill="none"/>
<path d="M738.19 1943.05 L739.66 1943.57 L741.13 1944.18 L742.6 1944.89 L744.07 1945.67 L745.54 1946.52 L747 1947.42 L748.47 1948.35 L749.94 1949.3 L751.41 1950.26 L752.88 1951.2 L754.35 1952.11 L755.82 1952.97 L757.29 1953.78 L758.76 1954.51 L760.23 1955.15 L761.7 1955.69 L763.17 1956.13 L764.64 1956.46 L766.1 1956.66 L767.57 1956.74 L769.04 1956.7 L770.51 1956.53 L771.98 1956.25 L773.45 1955.84 L774.92 1955.33 L776.39 1954.71 L777.86 1954.01 L779.33 1953.22 L780.8 1952.38 L782.27 1951.48 L783.74 1950.55 L785.2 1949.59 L786.67 1948.64 L788.14 1947.7 L789.61 1946.79 L791.08 1945.92 L792.55 1945.12 L794.02 1944.39 L795.49 1943.74 L796.96 1943.19 L798.43 1942.75 L799.9 1942.43 L801.37 1942.22 L802.84 1942.14 L804.3 1942.18 L805.77 1942.34 L807.24 1942.63 L808.71 1943.03 L810.18 1943.54 L811.65 1944.16 L813.12 1944.86 L814.59 1945.64 L816.06 1946.49 L817.53 1947.38 L819 1948.31 L820.47 1949.27 L821.94 1950.22 L823.4 1951.16 L824.87 1952.07 L826.34 1952.94 L827.81 1953.75 L829.28 1954.48 L830.75 1955.13 L832.22 1955.68 L833.69 1956.12 L835.16 1956.45 L836.63 1956.66 L838.1 1956.74 L839.57 1956.71 L841.04 1956.54 L842.5 1956.26 L843.97 1955.86 L845.44 1955.35 L846.91 1954.74 L848.38 1954.04 L849.85 1953.26 L851.32 1952.41 L852.79 1951.52 L854.26 1950.58 L855.73 1949.63 L857.2 1948.68 L858.67 1947.74 L860.14 1946.83 L861.6 1945.96 L863.07 1945.15 L864.54 1944.42 L866.01 1943.77 L867.48 1943.21 L868.95 1942.77 L870.42 1942.44 L871.89 1942.23 L873.36 1942.14 L874.83 1942.17 L876.3 1942.33 L877.77 1942.61 L879.24 1943.01 L880.7 1943.52 L882.17 1944.13 L883.64 1944.83 L885.11 1945.61 L886.58 1946.45 L888.05 1947.35 L889.52 1948.28 L890.99 1949.23 L892.46 1950.18 L893.93 1951.12 L895.4 1952.04 L896.87 1952.91 L898.34 1953.71 L899.8 1954.45 L901.27 1955.1 L902.74 1955.66 L904.21 1956.1 L905.68 1956.44 L907.15 1956.65 L908.62 1956.74 L910.09 1956.71 L911.56 1956.55 L913.03 1956.27 L914.5 1955.88 L915.97 1955.37 L917.43 1954.76 L918.9 1954.07 L920.37 1953.29 L921.84 1952.45 L923.31 1951.55 L924.78 1950.62 L926.25 1949.67 L927.72 1948.72 L929.19 1947.77 L930.66 1946.86 L932.13 1945.99 L933.6 1945.18 L935.07 1944.44 L936.53 1943.79 L938 1943.23 L939.47 1942.78 L940.94 1942.45 L942.41 1942.23 L943.88 1942.14 L945.35 1942.17 L946.82 1942.32 L948.29 1942.6 L949.76 1942.99 L951.23 1943.5 L952.7 1944.1 L954.17 1944.8 L955.63 1945.58 L957.1 1946.42 L958.57 1947.31 L960.04 1948.24 L961.51 1949.19 L962.98 1950.14 L964.45 1951.09 L965.92 1952 L967.39 1952.87 L968.86 1953.68 L970.33 1954.42 L971.8 1955.08 L973.27 1955.64 L974.73 1956.09 L976.2 1956.43 L977.67 1956.65 L979.14 1956.74 L980.61 1956.71 L982.08 1956.56 L983.55 1956.29 L985.02 1955.89 L986.49 1955.39 L987.96 1954.79 L989.43 1954.1 L990.9 1953.32 L992.37 1952.48 L993.83 1951.59 L995.3 1950.66 L996.77 1949.71 L998.24 1948.75 L999.71 1947.81 L1001.18 1946.9 L1002.65 1946.03 L1004.12 1945.21 L1005.59 1944.47 L1007.06 1943.82 L1008.53 1943.26 L1010 1942.8 L1011.47 1942.46 L1012.93 1942.24 L1014.4 1942.14 L1015.87 1942.17 L1017.34 1942.32 L1018.81 1942.59 L1020.28 1942.98 L1021.75 1943.48 L1023.22 1944.08 L1024.69 1944.77 L1026.16 1945.54 L1027.63 1946.38 L1029.1 1947.27 L1030.57 1948.2 L1032.03 1949.15 L1033.5 1950.11 L1034.97 1951.05 L1036.44 1951.97 L1037.91 1952.84 L1039.38 1953.65 L1040.85 1954.39 L1042.32 1955.05 L1043.79 1955.61 L1045.26 1956.07 L1046.73 1956.41 L1048.2 1956.64 L1049.67 1956.74 L1051.13 1956.72 L1052.6 1956.57 L1054.07 1956.3 L1055.54 1955.91 L1057.01 1955.41 L1058.48 1954.82 L1059.95 1954.12 L1061.42 1953.35 L1062.89 1952.52 L1064.36 1951.62 L1065.83 1950.7 L1067.3 1949.75 L1068.77 1948.79 L1070.23 1947.85 L1071.7 1946.93 L1073.17 1946.06 L1074.64 1945.24 L1076.11 1944.5 L1077.58 1943.84 L1079.05 1943.28 L1080.52 1942.82 L1081.99 1942.47 L1083.46 1942.24 L1084.93 1942.14 L1086.4 1942.16 L1087.87 1942.31 L1089.33 1942.57 L1090.8 1942.96 L1092.27 1943.45 L1093.74 1944.05 L1095.21 1944.74 L1096.68 1945.51 L1098.15 1946.35 L1099.62 1947.24 L1101.09 1948.16 L1102.56 1949.11 L1104.03 1950.07 L1105.5 1951.01 L1106.97 1951.93 L1108.43 1952.8 L1109.9 1953.62 L1111.37 1954.37 L1112.84 1955.03 L1114.31 1955.59 L1115.78 1956.06 L1117.25 1956.4 L1118.72 1956.63 L1120.19 1956.74 L1121.66 1956.72 L1123.13 1956.58 L1124.6 1956.31 L1126.07 1955.93 L1127.53 1955.44 L1129 1954.84 L1130.47 1954.15 L1131.94 1953.39 L1133.41 1952.55 L1134.88 1951.66 L1136.35 1950.73 L1137.82 1949.79 L1139.29 1948.83 L1140.76 1947.89 L1142.23 1946.97 L1143.7 1946.09 L1145.17 1945.27 L1146.63 1944.53 L1148.1 1943.86 L1149.57 1943.3 L1151.04 1942.83 L1152.51 1942.48 L1153.98 1942.25 L1155.45 1942.14 L1156.92 1942.16 L1158.39 1942.3 L1159.86 1942.56 L1161.33 1942.94 L1162.8 1943.43 L1164.26 1944.03 L1165.73 1944.71 L1167.2 1945.48 L1168.67 1946.31 L1170.14 1947.2 L1171.61 1948.13 L1173.08 1949.08 L1174.55 1950.03 L1176.02 1950.98 L1177.49 1951.89 L1178.96 1952.77 L1180.43 1953.59 L1181.9 1954.34 L1183.36 1955 L1184.83 1955.57 L1186.3 1956.04 L1187.77 1956.39 L1189.24 1956.63 L1190.71 1956.74 L1192.18 1956.72 L1193.65 1956.58 L1195.12 1956.32 L1196.59 1955.95 L1198.06 1955.46 L1199.53 1954.87 L1201 1954.18 L1202.46 1953.42 L1203.93 1952.58 L1205.4 1951.7 L1206.87 1950.77 L1208.34 1949.82 L1209.81 1948.87 L1211.28 1947.92 L1212.75 1947 L1214.22 1946.13 L1215.69 1945.31 L1217.16 1944.56 L1218.63 1943.89 L1220.1 1943.32 L1221.56 1942.85 L1223.03 1942.49 L1224.5 1942.26 L1225.97 1942.14 L1227.44 1942.16 L1228.91 1942.29 L1230.38 1942.55 L1231.85 1942.92 L1233.32 1943.41 L1234.79 1944 L1236.26 1944.68 L1237.73 1945.45 L1239.2 1946.28 L1240.66 1947.16 L1242.13 1948.09 L1243.6 1949.04 L1245.07 1949.99 L1246.54 1950.94 L1248.01 1951.86 L1249.48 1952.74 L1250.95 1953.56 L1252.42 1954.31 L1253.89 1954.98 L1255.36 1955.55 L1256.83 1956.02 L1258.3 1956.38 L1259.76 1956.62 L1261.23 1956.73 L1262.7 1956.73 L1264.17 1956.59 L1265.64 1956.34 L1267.11 1955.96 L1268.58 1955.48 L1270.05 1954.89 L1271.52 1954.21 L1272.99 1953.45 L1274.46 1952.62 L1275.93 1951.73 L1277.4 1950.81 L1278.86 1949.86 L1280.33 1948.91 L1281.8 1947.96 L1283.27 1947.04 L1284.74 1946.16 L1286.21 1945.34 L1287.68 1944.58 L1289.15 1943.91 L1290.62 1943.34 L1292.09 1942.87 L1293.56 1942.51 L1295.03 1942.27 L1296.5 1942.15 L1297.96 1942.15 L1299.43 1942.28 L1300.9 1942.54 L1302.37 1942.91 L1303.84 1943.39 L1305.31 1943.97 L1306.78 1944.65 L1308.25 1945.41 L1309.72 1946.24 L1311.19 1947.13 L1312.66 1948.05 L1314.13 1949 L1315.6 1949.95 L1317.06 1950.9 L1318.53 1951.82 L1320 1952.7 L1321.47 1953.53 L1322.94 1954.28 L1324.41 1954.95" stroke="#f05cf0" stroke-width="3.4" fill="none"/>
</g>
<line x1="737.8" y1="1860.36" x2="737.8" y2="2038.22" stroke="#262626" stroke-width="1.5" />
<line x1="737.8" y1="2037.72" x2="1323.4" y2="2037.72" stroke="#262626" stroke-width="1.5" />
<line x1="731.6" y1="1893.24" x2="737.8" y2="1893.24" stroke="#262626" stroke-width="1.5" />
<line x1="731.6" y1="1949.44" x2="737.8" y2="1949.44" stroke="#262626" stroke-width="1.5" />
<line x1="731.6" y1="2005.64" x2="737.8" y2="2005.64" stroke="#262626" stroke-width="1.5" />
<line x1="751.4" y1="2037.72" x2="751.4" y2="2048.02" stroke="#262626" stroke-width="1.5" />
<line x1="844.7" y1="2037.72" x2="844.7" y2="2048.02" stroke="#262626" stroke-width="1.5" />
<line x1="938" y1="2037.72" x2="938" y2="2048.02" stroke="#262626" stroke-width="1.5" />
<line x1="1031.3" y1="2037.72" x2="1031.3" y2="2048.02" stroke="#262626" stroke-width="1.5" />
<line x1="1124.6" y1="2037.72" x2="1124.6" y2="2048.02" stroke="#262626" stroke-width="1.5" />
<line x1="1217.9" y1="2037.72" x2="1217.9" y2="2048.02" stroke="#262626" stroke-width="1.5" />
<line x1="1311.2" y1="2037.72" x2="1311.2" y2="2048.02" stroke="#262626" stroke-width="1.5" />
<text x="752.4" y="1873.4" font-size="25" text-anchor="start" font-weight="normal" fill="#262626" letter-spacing="0.1">fly 6</text>
<clipPath id="cc7"><rect x="103.69" y="2088.23" width="586.22" height="176.56"/></clipPath>
<g clip-path="url(#cc7)">
<g stroke="#4a10d0" stroke-opacity="0.5" stroke-width="8" stroke-linecap="round" fill="none">
<path d="M151.8 2174.5h0m28.9 .4h0m6.3 1.5h0m83.8-4.5h0m13.9-4.8h0m18 4.4h0m18.2 4.1h0m10.5-16.7h0m13.6 20.3h0m11.4-7.2h0m39.5 2.5h0m3.1 1.8h0m10.7-6.1h0m3.9 6h0m15.7 1.2h0m15.7-1.3h0m9.4 .7h0m89.1 1.8h0m8.1-1.8h0m32.1 4.1h0m46.6-3.6h0m18.8 .1h0m34.3 13.8h0"/>
<path d="M239.6 2196.3h0m16.5-25.4h0m1.7 9h0m5.6-13h0m71.4 8.7h0m17.4 4.9h0m4.2-2.6h0m12.5 2.7h0m5.8-4h0m43.4 4h0m1-2.2h0m38-1h0m4.3-5.5h0m0 6.6h0m50.5-5.8h0m16.9-1.3h0m19 4.9h0m.2-6.2h0m14.2 5.8h0m32.7 4h0m31.8-1.3h0m19.4-3.9h0"/>
<path d="M132.8 2175.0h0m5.4 5.1h0m11.9 29.9h0m5.8-34.8h0m8.1 7.9h0m4.5-6h0m47.3-3.1h0m117.3-22.6h0m56.7 30.3h0m17 .1h0m35.1-10.7h0m32.1-1.4h0m74.4 3.9h0m35.3 4.2h0m65-2.1h0"/>
<path d="M110.9 2179.9h0m34.1-2.8h0m29.3 .3h0m67.9 .6h0m15.1-3.7h0m74.5 5.1h0m28.6-4.7h0m24.1 2.7h0m18.5-8.3h0m11.2 2.3h0m24.5 3.7h0m16.4-.6h0m75 7.3h0m1.5-10.7h0m7.2 5.7h0m13.7-15.1h0m4.8 16.7h0m.4 .3h0m108.3-1.8h0"/>
<path d="M123.8 2180.1h0m19.6-2.8h0m46.8-2.7h0m55.2 .2h0m9.5-8.1h0m13.3 8.3h0m3.6 4.2h0m13.7 2.2h0m9.1-5.7h0m10.5-3.5h0m11 6h0m111-3.4h0m52.6 4.3h0m157.8 1.3h0"/>
<path d="M190.7 2177.0h0m27.5-5.1h0m71.8 1.2h0m2.2 6.8h0m14.1-2.5h0m2.6-4.1h0m18.3 4h0m30.9 .1h0m81.4-3.3h0m94.3 1.4h0m102.5 4.2h0m33.5-.8h0m5.4-5.9h0"/>
<path d="M114.2 2177.4h0m15.9 .2h0m1.7 1.9h0m18.3-26.7h0m3.4-18.4h0m34.2 43.1h0m4.2-2.6h0m27.4 5.6h0m4.3-85.5h0m2.3 77.5h0m.4 4.7h0m7.9-.3h0m4.4 3.1h0m8.8-26.2h0m16.3 19.2h0m2.3-3.3h0m18 8.4h0m22.9-7.4h0m43.2 3.9h0m70.1 2.1h0m23.7-2.2h0m12.4 3h0m72.2 1.3h0m12.9 2.7h0m83.4-6.4h0m3.6 .3h0m3.7 4.7h0m41.5-1.2h0"/>
<path d="M107.3 2174.8h0m5.9 4.1h0m3.2 .4h0m12.2-2.4h0m7.2-8.8h0m16.2 7.8h0m6.8-1.1h0m22.5-1.3h0m8.2-2.7h0m14.7 4.3h0m73.9-.8h0m47-3.9h0m3.9 9.1h0m32.8 .3h0m14.9-3.1h0m28.5 .1h0m27.8 4.2h0m58-5.8h0m40.3-1.7h0m33-1.2h0m3.5-8.9h0m13.2 16.4h0m30.1-.7h0m16.3-1h0"/>
<path d="M158.3 2174.2h0m6.7 5.6h0m53.6-.2h0m20.8-.2h0m14-9h0m87.1 6.2h0m55-1.6h0m16.4 .7h0m30.7-1h0m2.6 6.4h0m10.3-2.1h0m3.1-5.4h0m18.7-1.3h0m80.4 7.5h0m64.1-10.9h0m2 3.1h0"/>
<path d="M142.5 2176.4h0m3.6-.4h0m5-2.9h0m44.8 6.1h0m41 .2h0m22.3-7.4h0m2.5 10.5h0m39.4-8.4h0m16.3-4.1h0m76 5.2h0m11.1 2.9h0m26-1.8h0m29.9 2.7h0m67.8-.3h0m4.7-3.1h0m18.5-3.7h0m8.1 8.1h0m12.4-3.9h0m16.7-5h0m5.2 2.9h0m38.4 1.4h0m25.9-1.8h0"/>
<path d="M141.5 2176.8h0m2-.9h0m117.8 5.1h0m37.8 6.2h0m7.9-11h0m43.9 .1h0m22.5 .2h0m25.9-1.3h0m.9 4.1h0m132.6-27.2h0m35.2 27.8h0m2.7-2.2h0m38.5-1.4h0m22.1 3.8h0m53.6 1.3h0"/>
<path d="M106.0 2172.4h0m16.4 6.6h0m13.4-7h0m13.8 5.4h0m25.9 3.7h0m19.6 1.7h0m8.2-9.1h0m19.5-.1h0m89 5.9h0m46.5-4.4h0m28.3-1.5h0m11.2-1.8h0m6.1 3.1h0m.4 4.5h0m31.5-4.7h0m5.3 7.3h0m11.7-4.9h0m6.2-1.3h0m49.1-3.2h0m23.2 5h0m24.4 3h0m11.9-.1h0m21.9-9.8h0m34 1.3h0m9.2 0h0m20 3.9h0"/>
<path d="M113.0 2177.9h0m16.8-4.6h0m35.3 2.6h0m16.1 4.1h0m103.6 5.7h0m5.7-18.7h0m.1 10.1h0m10.1-.4h0m2.3 2.6h0m42.3-2.8h0m7.8 2.9h0m34.3-1.1h0m3.3-.2h0m1.9-9.3h0m20.7 7.1h0m44.1 3.1h0m73-2h0m0-1.1h0m29.4-3.8h0m14.8-6.4h0m59.7 9.4h0"/>
<path d="M153.2 2173.2h0m39.8-11.5h0m119.3 9.9h0m53 1.2h0m34.2 1.9h0m1.2-2.3h0m13.8 1.3h0m63.7 .3h0m55.2 5.9h0m8.2-4.6h0m85.2-1h0m6.9-1.7h0m2.6 5.6h0"/>
<path d="M113.4 2181.5h0m25.8-7.6h0m65.7-.9h0m.2-1.6h0m14.4 4.5h0m.7-25.5h0m.1 23.6h0m.8-.7h0m31.7 1.4h0m23.9 9.4h0m44.2-16.5h0m77.8 9.5h0m.3-2.7h0m107.1 7.1h0m4.6 .6h0m1.1-.5h0m18.8-.6h0m2.2-3.6h0m.2 3.7h0m105.9-10.6h0m12.5 10.8h0"/>
<path d="M165.2 2177.1h0m.5-1h0m16 19.2h0m66.2-21.6h0m5.1 6.3h0m12.2-6.7h0m32.9-31.4h0m70.3 34.2h0m79.2 2h0m65.8-3.3h0m31.8 5.1h0m12.6-5.2h0m60.3 4.6h0m35 4.9h0"/>
<path d="M158.3 2177.2h0m2.5-4.1h0m43.7 1.5h0m51.9 9h0m18.1-6.5h0m2.4 3.8h0m1.6-3.1h0m19 2.3h0m69.2-6.9h0m34 5.6h0m2.1-6.1h0m44.2-12.1h0m60.8 16h0m31.1-1.1h0m45.4 2.1h0m41 2.9h0"/>
<path d="M143.8 2170.4h0m40.3 19.1h0m100-4h0m14.1-4.9h0m15.6-2.9h0m3.1-1.6h0m19.6 10h0m0-25.5h0m13.9 12.9h0m.9 3h0m12.4-1.3h0m75.9-31.6h0m25.7 36.7h0m10.9 2h0m153.2-5.3h0"/>
<path d="M164.4 2180.7h0m11.4-8.6h0m135.4 3.1h0m33-1.1h0m50.3 1.5h0m5.6-2.9h0m48.9 1.2h0m5.8 .4h0m65.4 7.4h0m9-7.9h0m14.3-1.1h0m25.1 5.5h0m14.4-6.1h0m12.5 6.2h0m31.3-9.4h0"/>
<path d="M244.0 2201.4h0m2.9-20.3h0m12.9-3.2h0m40.1 4.2h0m19.2-.4h0m8.9 15.7h0m8.9-21.7h0m15.5 1.7h0m55.3-3.8h0m13.6 3.4h0m3.7-.8h0m18.2-.1h0m9.4 4.3h0m42.1-2.9h0m70.1 1.8h0m12.5-1.4h0m36.7-3.1h0m40 2.1h0m2.2-16.3h0"/>
<path d="M116.9 2175.1h0m.5 4.3h0m1.5 .4h0m30.4-.3h0m16.4-2.4h0m8.7 3.2h0m4.3 1.2h0m35.5-6.4h0m46.3 2.9h0m59.1 .3h0m18.2-3.7h0m5.8 7.4h0m56.1-8h0m59.1-3.4h0m16.4 6h0m19.3 1.5h0m.2-14.1h0m32.9 13.4h0m5.2 .1h0m54.2 0h0m3.9 46.1h0m23.2-45.9h0m51 2h0"/>
<path d="M107.2 2177.5h0m7.6 4.2h0m34.7-5.8h0m8.7 1h0m55.6 4h0m5.7-6h0m10.7 5h0m5.3-4.1h0m9.7 1.7h0m6.1 2h0m21-3.4h0m6.6-1.9h0m25.3-.8h0m36.5 1.5h0m28.3 2.1h0m5.9 1.3h0m18.6-5.3h0m9.7 5h0m46.5-3.6h0m25.4 3.4h0m58.4-.7h0m7.8-.9h0m1.9 2.6h0m4.2 8.4h0m5.1-13.5h0m7.9 7.8h0m17.3-7.6h0m17.7 3.2h0"/>
<path d="M108.6 2121.5h0m20.2 60.7h0m22.1-6.3h0m114.2-10.2h0m9.4 8.6h0m10.8-4.5h0m23.9 4.8h0m46.7-.1h0m14.8 .4h0m5.7 3.6h0m11-1.7h0m37.7-1.9h0m3.5 1.1h0m34-.5h0m95.7 3.8h0m26.6-4.9h0m3.5 5.5h0m11.7 13h0"/>
<path d="M164.7 2187.2h0m12.6-17.8h0m45.6 7.9h0m6.5 .7h0m54.3 2.9h0m11.5-5.8h0m3.5 .8h0m.6-1.5h0m30.4-12.1h0m63.6 14.2h0m55.9 .2h0m5.4-5.5h0m79 12.8h0m45.3-15.9h0m12.4 9.3h0"/>
</g>
<path d="M106.02 2174.88 L110.67 2177.64 L115.32 2178.89 L119.97 2179.8 L124.63 2179.59 L129.28 2177.5 L133.93 2175.49 L138.58 2177 L143.24 2175.64 L147.89 2177.19 L152.54 2174.54 L157.19 2175.68 L161.85 2178.11 L166.5 2177.68 L171.15 2176.86 L175.8 2176.05 L180.46 2177.48 L185.11 2176.39 L189.76 2174.96 L194.41 2180.99 L199.07 2177.28 L203.72 2173.57 L208.37 2175.79 L213.02 2178.01 L217.68 2150.43 L222.33 2152.13 L226.98 2174.81 L231.63 2178.96 L236.29 2178.04 L240.94 2199.75 L245.59 2153.83 L250.24 2176.63 L254.9 2174.38 L259.55 2177.97 L264.2 2170.74 L268.85 2173.45 L273.51 2176.66 L278.16 2178.28 L282.81 2179.44 L287.47 2175.64 L292.12 2174.28 L296.77 2177.49 L301.42 2176.35 L306.08 2173.97 L310.73 2174.82 L315.38 2175.5 L320.03 2175.79 L324.69 2170.41 L329.34 2178.36 L333.99 2177.51 L338.64 2175.45 L343.3 2177.94 L347.95 2174.64 L352.6 2177.26 L357.25 2175.37 L361.91 2176.57 L366.56 2174.06 L371.21 2177.25 L375.86 2177.51 L380.52 2177.02 L385.17 2176.53 L389.82 2179.9 L394.47 2174.09 L399.13 2175.14 L403.78 2175.58 L408.43 2175.23 L413.08 2174.59 L417.74 2179.51 L422.39 2176.87 L427.04 2175.86 L431.69 2178.67 L436.35 2174.72 L441 2175.51 L445.65 2177.44 L450.3 2176.35 L454.96 2175.97 L459.61 2175.49 L464.26 2177.9 L468.91 2176.3 L473.57 2174.7 L478.22 2176.92 L482.87 2176.84 L487.52 2176.75 L492.18 2176.67 L496.83 2177.45 L501.48 2177.17 L506.13 2176.89 L510.79 2178.8 L515.44 2174.85 L520.09 2181.68 L524.75 2179.09 L529.4 2176.5 L534.05 2178.52 L538.7 2176.18 L543.36 2177.57 L548.01 2173.36 L552.66 2174.12 L557.31 2178.79 L561.97 2175.42 L566.62 2179.44 L571.27 2176.89 L575.92 2175.91 L580.58 2173.93 L585.23 2176.72 L589.88 2174.75 L594.53 2177.31 L599.19 2194.65 L603.84 2176.63 L608.49 2176.3 L613.14 2177.18 L617.8 2179.26 L622.45 2170.98 L627.1 2175.98 L631.75 2176.25 L636.41 2178.36 L641.06 2170.53 L645.71 2174.69 L650.36 2178.14 L655.02 2179 L659.67 2173.58 L664.32 2178.27 L668.97 2178.93 L673.63 2175.94 L678.28 2178.66 L682.93 2181.38" stroke="#4a0fd0" stroke-width="3.2" fill="none" stroke-linejoin="round"/>
<path d="M103.69 2187.8 L105.16 2188.47 L106.63 2189.07 L108.1 2189.59 L109.57 2190.05 L111.04 2190.42 L112.5 2190.72 L113.97 2190.94 L115.44 2191.07 L116.91 2191.12 L118.38 2191.09 L119.85 2190.98 L121.32 2190.78 L122.79 2190.5 L124.26 2190.14 L125.73 2189.71 L127.2 2189.2 L128.67 2188.62 L130.14 2187.97 L131.6 2187.25 L133.07 2186.47 L134.54 2185.64 L136.01 2184.75 L137.48 2183.82 L138.95 2182.85 L140.42 2181.84 L141.89 2180.8 L143.36 2179.73 L144.83 2178.65 L146.3 2177.55 L147.77 2176.45 L149.24 2175.35 L150.7 2174.26 L152.17 2173.18 L153.64 2172.11 L155.11 2171.08 L156.58 2170.07 L158.05 2169.1 L159.52 2168.17 L160.99 2167.29 L162.46 2166.46 L163.93 2165.69 L165.4 2164.98 L166.87 2164.34 L168.34 2163.76 L169.8 2163.26 L171.27 2162.84 L172.74 2162.49 L174.21 2162.22 L175.68 2162.03 L177.15 2161.92 L178.62 2161.9 L180.09 2161.96 L181.56 2162.1 L183.03 2162.33 L184.5 2162.63 L185.97 2163.02 L187.44 2163.48 L188.9 2164.01 L190.37 2164.62 L191.84 2165.29 L193.31 2166.03 L194.78 2166.83 L196.25 2167.68 L197.72 2168.58 L199.19 2169.53 L200.66 2170.52 L202.13 2171.54 L203.6 2172.59 L205.07 2173.66 L206.54 2174.75 L208 2175.84 L209.47 2176.94 L210.94 2178.04 L212.41 2179.13 L213.88 2180.21 L215.35 2181.26 L216.82 2182.29 L218.29 2183.29 L219.76 2184.24 L221.23 2185.15 L222.7 2186.02 L224.17 2186.83 L225.64 2187.58 L227.1 2188.26 L228.57 2188.89 L230.04 2189.44 L231.51 2189.91 L232.98 2190.31 L234.45 2190.63 L235.92 2190.88 L237.39 2191.04 L238.86 2191.11 L240.33 2191.11 L241.8 2191.02 L243.27 2190.85 L244.74 2190.6 L246.2 2190.26 L247.67 2189.85 L249.14 2189.37 L250.61 2188.81 L252.08 2188.18 L253.55 2187.48 L255.02 2186.72 L256.49 2185.91 L257.96 2185.04 L259.43 2184.12 L260.9 2183.16 L262.37 2182.16 L263.84 2181.13 L265.3 2180.07 L266.77 2178.99 L268.24 2177.9 L269.71 2176.8 L271.18 2175.7 L272.65 2174.6 L274.12 2173.52 L275.59 2172.45 L277.06 2171.4 L278.53 2170.38 L280 2169.4 L281.47 2168.46 L282.93 2167.56 L284.4 2166.72 L285.87 2165.93 L287.34 2165.2 L288.81 2164.54 L290.28 2163.94 L291.75 2163.41 L293.22 2162.96 L294.69 2162.59 L296.16 2162.29 L297.63 2162.08 L299.1 2161.95 L300.57 2161.9 L302.03 2161.93 L303.5 2162.05 L304.97 2162.25 L306.44 2162.53 L307.91 2162.89 L309.38 2163.32 L310.85 2163.84 L312.32 2164.42 L313.79 2165.07 L315.26 2165.79 L316.73 2166.57 L318.2 2167.4 L319.67 2168.29 L321.13 2169.22 L322.6 2170.2 L324.07 2171.21 L325.54 2172.25 L327.01 2173.32 L328.48 2174.4 L329.95 2175.5 L331.42 2176.6 L332.89 2177.7 L334.36 2178.79 L335.83 2179.87 L337.3 2180.93 L338.77 2181.97 L340.23 2182.98 L341.7 2183.95 L343.17 2184.87 L344.64 2185.75 L346.11 2186.58 L347.58 2187.35 L349.05 2188.05 L350.52 2188.7 L351.99 2189.27 L353.46 2189.77 L354.93 2190.19 L356.4 2190.54 L357.87 2190.81 L359.33 2190.99 L360.8 2191.1 L362.27 2191.12 L363.74 2191.06 L365.21 2190.91 L366.68 2190.69 L368.15 2190.38 L369.62 2189.99 L371.09 2189.53 L372.56 2188.99 L374.03 2188.38 L375.5 2187.71 L376.97 2186.97 L378.43 2186.17 L379.9 2185.32 L381.37 2184.41 L382.84 2183.47 L384.31 2182.48 L385.78 2181.46 L387.25 2180.41 L388.72 2179.33 L390.19 2178.25 L391.66 2177.15 L393.13 2176.05 L394.6 2174.95 L396.07 2173.86 L397.53 2172.78 L399 2171.73 L400.47 2170.7 L401.94 2169.71 L403.41 2168.75 L404.88 2167.84 L406.35 2166.98 L407.82 2166.17 L409.29 2165.42 L410.76 2164.74 L412.23 2164.12 L413.7 2163.57 L415.17 2163.1 L416.63 2162.7 L418.1 2162.38 L419.57 2162.14 L421.04 2161.98 L422.51 2161.9 L423.98 2161.91 L425.45 2162 L426.92 2162.18 L428.39 2162.43 L429.86 2162.77 L431.33 2163.18 L432.8 2163.67 L434.27 2164.23 L435.73 2164.86 L437.2 2165.56 L438.67 2166.32 L440.14 2167.13 L441.61 2168.01 L443.08 2168.93 L444.55 2169.89 L446.02 2170.89 L447.49 2171.92 L448.96 2172.98 L450.43 2174.06 L451.9 2175.15 L453.37 2176.25 L454.83 2177.35 L456.3 2178.45 L457.77 2179.53 L459.24 2180.6 L460.71 2181.65 L462.18 2182.66 L463.65 2183.64 L465.12 2184.58 L466.59 2185.48 L468.06 2186.32 L469.53 2187.11 L471 2187.84 L472.47 2188.5 L473.93 2189.1 L475.4 2189.62 L476.87 2190.07 L478.34 2190.44 L479.81 2190.73 L481.28 2190.95 L482.75 2191.07 L484.22 2191.12 L485.69 2191.09 L487.16 2190.97 L488.63 2190.77 L490.1 2190.48 L491.57 2190.12 L493.03 2189.68 L494.5 2189.17 L495.97 2188.58 L497.44 2187.93 L498.91 2187.21 L500.38 2186.43 L501.85 2185.59 L503.32 2184.7 L504.79 2183.77 L506.26 2182.79 L507.73 2181.78 L509.2 2180.74 L510.67 2179.67 L512.13 2178.59 L513.6 2177.5 L515.07 2176.39 L516.54 2175.29 L518.01 2174.2 L519.48 2173.12 L520.95 2172.06 L522.42 2171.02 L523.89 2170.02 L525.36 2169.05 L526.83 2168.12 L528.3 2167.25 L529.76 2166.42 L531.23 2165.65 L532.7 2164.95 L534.17 2164.31 L535.64 2163.74 L537.11 2163.24 L538.58 2162.82 L540.05 2162.47 L541.52 2162.21 L542.99 2162.02 L544.46 2161.92 L545.93 2161.9 L547.4 2161.97 L548.86 2162.11 L550.33 2162.34 L551.8 2162.65 L553.27 2163.04 L554.74 2163.5 L556.21 2164.04 L557.68 2164.65 L559.15 2165.33 L560.62 2166.07 L562.09 2166.87 L563.56 2167.73 L565.03 2168.63 L566.5 2169.58 L567.96 2170.57 L569.43 2171.59 L570.9 2172.64 L572.37 2173.71 L573.84 2174.8 L575.31 2175.9 L576.78 2177 L578.25 2178.1 L579.72 2179.19 L581.19 2180.27 L582.66 2181.32 L584.13 2182.35 L585.6 2183.34 L587.06 2184.29 L588.53 2185.2 L590 2186.06 L591.47 2186.87 L592.94 2187.62 L594.41 2188.3 L595.88 2188.92 L597.35 2189.46 L598.82 2189.94 L600.29 2190.33 L601.76 2190.65 L603.23 2190.89 L604.7 2191.04 L606.16 2191.12 L607.63 2191.11 L609.1 2191.01 L610.57 2190.84 L612.04 2190.58 L613.51 2190.24 L614.98 2189.83 L616.45 2189.34 L617.92 2188.78 L619.39 2188.14 L620.86 2187.44 L622.33 2186.68 L623.8 2185.86 L625.26 2184.99 L626.73 2184.07 L628.2 2183.11 L629.67 2182.1 L631.14 2181.07 L632.61 2180.01 L634.08 2178.93 L635.55 2177.84 L637.02 2176.74 L638.49 2175.64 L639.96 2174.54 L641.43 2173.46 L642.9 2172.39 L644.36 2171.35 L645.83 2170.33 L647.3 2169.35 L648.77 2168.41 L650.24 2167.52 L651.71 2166.68 L653.18 2165.89 L654.65 2165.16 L656.12 2164.5 L657.59 2163.91 L659.06 2163.39 L660.53 2162.94 L662 2162.57 L663.46 2162.28 L664.93 2162.07 L666.4 2161.94 L667.87 2161.9 L669.34 2161.94 L670.81 2162.06 L672.28 2162.26 L673.75 2162.55 L675.22 2162.91 L676.69 2163.35 L678.16 2163.87 L679.63 2164.45 L681.1 2165.11 L682.56 2165.83 L684.03 2166.61 L685.5 2167.45 L686.97 2168.34 L688.44 2169.28 L689.91 2170.25" stroke="#f39019" stroke-width="3.6" fill="none"/>
<path d="M103.69 2171.12 L105.16 2170.27 L106.63 2169.55 L108.1 2168.99 L109.57 2168.6 L111.04 2168.4 L112.5 2168.37 L113.97 2168.54 L115.44 2168.88 L116.91 2169.39 L118.38 2170.07 L119.85 2170.89 L121.32 2171.85 L122.79 2172.9 L124.26 2174.04 L125.73 2175.24 L127.2 2176.46 L128.67 2177.69 L130.14 2178.88 L131.6 2180.03 L133.07 2181.09 L134.54 2182.05 L136.01 2182.89 L137.48 2183.58 L138.95 2184.11 L140.42 2184.46 L141.89 2184.64 L143.36 2184.63 L144.83 2184.44 L146.3 2184.07 L147.77 2183.52 L149.24 2182.82 L150.7 2181.97 L152.17 2181 L153.64 2179.93 L155.11 2178.78 L156.58 2177.58 L158.05 2176.35 L159.52 2175.13 L160.99 2173.94 L162.46 2172.8 L163.93 2171.76 L165.4 2170.81 L166.87 2170 L168.34 2169.34 L169.8 2168.84 L171.27 2168.51 L172.74 2168.37 L174.21 2168.41 L175.68 2168.63 L177.15 2169.04 L178.62 2169.61 L180.09 2170.34 L181.56 2171.21 L183.03 2172.2 L184.5 2173.28 L185.97 2174.45 L187.44 2175.65 L188.9 2176.88 L190.37 2178.1 L191.84 2179.28 L193.31 2180.4 L194.78 2181.43 L196.25 2182.35 L197.72 2183.14 L199.19 2183.78 L200.66 2184.25 L202.13 2184.54 L203.6 2184.66 L205.07 2184.59 L206.54 2184.33 L208 2183.9 L209.47 2183.3 L210.94 2182.54 L212.41 2181.65 L213.88 2180.64 L215.35 2179.54 L216.82 2178.37 L218.29 2177.16 L219.76 2175.93 L221.23 2174.71 L222.7 2173.54 L224.17 2172.43 L225.64 2171.42 L227.1 2170.52 L228.57 2169.76 L230.04 2169.15 L231.51 2168.71 L232.98 2168.44 L234.45 2168.36 L235.92 2168.46 L237.39 2168.75 L238.86 2169.21 L240.33 2169.84 L241.8 2170.62 L243.27 2171.53 L244.74 2172.56 L246.2 2173.67 L247.67 2174.85 L249.14 2176.07 L250.61 2177.3 L252.08 2178.51 L253.55 2179.67 L255.02 2180.77 L256.49 2181.76 L257.96 2182.64 L259.43 2183.38 L260.9 2183.96 L262.37 2184.37 L263.84 2184.6 L265.3 2184.65 L266.77 2184.52 L268.24 2184.2 L269.71 2183.71 L271.18 2183.06 L272.65 2182.25 L274.12 2181.32 L275.59 2180.28 L277.06 2179.15 L278.53 2177.96 L280 2176.74 L281.47 2175.51 L282.93 2174.31 L284.4 2173.15 L285.87 2172.08 L287.34 2171.1 L288.81 2170.24 L290.28 2169.53 L291.75 2168.98 L293.22 2168.6 L294.69 2168.39 L296.16 2168.38 L297.63 2168.54 L299.1 2168.89 L300.57 2169.41 L302.03 2170.09 L303.5 2170.92 L304.97 2171.87 L306.44 2172.93 L307.91 2174.07 L309.38 2175.27 L310.85 2176.49 L312.32 2177.72 L313.79 2178.91 L315.26 2180.06 L316.73 2181.12 L318.2 2182.08 L319.67 2182.91 L321.13 2183.59 L322.6 2184.12 L324.07 2184.47 L325.54 2184.64 L327.01 2184.63 L328.48 2184.43 L329.95 2184.05 L331.42 2183.5 L332.89 2182.8 L334.36 2181.95 L335.83 2180.97 L337.3 2179.9 L338.77 2178.75 L340.23 2177.54 L341.7 2176.32 L343.17 2175.09 L344.64 2173.91 L346.11 2172.77 L347.58 2171.73 L349.05 2170.79 L350.52 2169.98 L351.99 2169.32 L353.46 2168.83 L354.93 2168.51 L356.4 2168.37 L357.87 2168.41 L359.33 2168.64 L360.8 2169.05 L362.27 2169.63 L363.74 2170.36 L365.21 2171.23 L366.68 2172.22 L368.15 2173.31 L369.62 2174.48 L371.09 2175.69 L372.56 2176.91 L374.03 2178.13 L375.5 2179.31 L376.97 2180.43 L378.43 2181.46 L379.9 2182.38 L381.37 2183.16 L382.84 2183.79 L384.31 2184.26 L385.78 2184.55 L387.25 2184.66 L388.72 2184.58 L390.19 2184.32 L391.66 2183.88 L393.13 2183.28 L394.6 2182.52 L396.07 2181.63 L397.53 2180.62 L399 2179.51 L400.47 2178.34 L401.94 2177.12 L403.41 2175.9 L404.88 2174.68 L406.35 2173.51 L407.82 2172.41 L409.29 2171.39 L410.76 2170.5 L412.23 2169.74 L413.7 2169.14 L415.17 2168.7 L416.63 2168.44 L418.1 2168.36 L419.57 2168.47 L421.04 2168.76 L422.51 2169.23 L423.98 2169.86 L425.45 2170.64 L426.92 2171.56 L428.39 2172.59 L429.86 2173.71 L431.33 2174.89 L432.8 2176.11 L434.27 2177.33 L435.73 2178.54 L437.2 2179.7 L438.67 2180.79 L440.14 2181.79 L441.61 2182.66 L443.08 2183.39 L444.55 2183.97 L446.02 2184.38 L447.49 2184.61 L448.96 2184.65 L450.43 2184.51 L451.9 2184.19 L453.37 2183.7 L454.83 2183.04 L456.3 2182.23 L457.77 2181.29 L459.24 2180.25 L460.71 2179.12 L462.18 2177.93 L463.65 2176.7 L465.12 2175.48 L466.59 2174.28 L468.06 2173.12 L469.53 2172.05 L471 2171.07 L472.47 2170.22 L473.93 2169.52 L475.4 2168.97 L476.87 2168.59 L478.34 2168.39 L479.81 2168.38 L481.28 2168.55 L482.75 2168.9 L484.22 2169.43 L485.69 2170.11 L487.16 2170.94 L488.63 2171.9 L490.1 2172.96 L491.57 2174.1 L493.03 2175.3 L494.5 2176.53 L495.97 2177.75 L497.44 2178.95 L498.91 2180.09 L500.38 2181.15 L501.85 2182.1 L503.32 2182.93 L504.79 2183.61 L506.26 2184.13 L507.73 2184.48 L509.2 2184.64 L510.67 2184.63 L512.13 2184.42 L513.6 2184.04 L515.07 2183.49 L516.54 2182.78 L518.01 2181.92 L519.48 2180.95 L520.95 2179.87 L522.42 2178.71 L523.89 2177.51 L525.36 2176.28 L526.83 2175.06 L528.3 2173.87 L529.76 2172.75 L531.23 2171.7 L532.7 2170.77 L534.17 2169.96 L535.64 2169.31 L537.11 2168.82 L538.58 2168.5 L540.05 2168.37 L541.52 2168.42 L542.99 2168.65 L544.46 2169.06 L545.93 2169.64 L547.4 2170.38 L548.86 2171.26 L550.33 2172.25 L551.8 2173.34 L553.27 2174.51 L554.74 2175.72 L556.21 2176.95 L557.68 2178.16 L559.15 2179.34 L560.62 2180.46 L562.09 2181.49 L563.56 2182.4 L565.03 2183.18 L566.5 2183.81 L567.96 2184.27 L569.43 2184.56 L570.9 2184.66 L572.37 2184.58 L573.84 2184.31 L575.31 2183.87 L576.78 2183.26 L578.25 2182.5 L579.72 2181.6 L581.19 2180.59 L582.66 2179.48 L584.13 2178.31 L585.6 2177.09 L587.06 2175.86 L588.53 2174.65 L590 2173.48 L591.47 2172.38 L592.94 2171.37 L594.41 2170.48 L595.88 2169.72 L597.35 2169.12 L598.82 2168.69 L600.29 2168.43 L601.76 2168.36 L603.23 2168.48 L604.7 2168.77 L606.16 2169.24 L607.63 2169.88 L609.1 2170.67 L610.57 2171.58 L612.04 2172.62 L613.51 2173.74 L614.98 2174.92 L616.45 2176.14 L617.92 2177.36 L619.39 2178.57 L620.86 2179.73 L622.33 2180.82 L623.8 2181.81 L625.26 2182.68 L626.73 2183.41 L628.2 2183.98 L629.67 2184.39 L631.14 2184.61 L632.61 2184.65 L634.08 2184.51 L635.55 2184.18 L637.02 2183.68 L638.49 2183.02 L639.96 2182.21 L641.43 2181.27 L642.9 2180.22 L644.36 2179.09 L645.83 2177.89 L647.3 2176.67 L648.77 2175.45 L650.24 2174.24 L651.71 2173.09 L653.18 2172.02 L654.65 2171.05 L656.12 2170.2 L657.59 2169.5 L659.06 2168.95 L660.53 2168.58 L662 2168.39 L663.46 2168.38 L664.93 2168.56 L666.4 2168.91 L667.87 2169.44 L669.34 2170.13 L670.81 2170.97 L672.28 2171.93 L673.75 2172.99 L675.22 2174.13 L676.69 2175.33 L678.16 2176.56 L679.63 2177.78 L681.1 2178.98 L682.56 2180.12 L684.03 2181.17 L685.5 2182.12 L686.97 2182.95 L688.44 2183.63 L689.91 2184.14" stroke="#f05cf0" stroke-width="3.4" fill="none"/>
</g>
<line x1="103.5" y1="2087.43" x2="103.5" y2="2265.29" stroke="#262626" stroke-width="1.5" />
<line x1="103.5" y1="2264.79" x2="688.6" y2="2264.79" stroke="#262626" stroke-width="1.5" />
<line x1="97.3" y1="2120.31" x2="103.5" y2="2120.31" stroke="#262626" stroke-width="1.5" />
<text x="91.9" y="2130.21" font-size="22" text-anchor="end" font-weight="normal" fill="#262626" >2</text>
<line x1="97.3" y1="2176.51" x2="103.5" y2="2176.51" stroke="#262626" stroke-width="1.5" />
<text x="91.9" y="2184.41" font-size="22" text-anchor="end" font-weight="normal" fill="#262626" >0</text>
<line x1="97.3" y1="2232.71" x2="103.5" y2="2232.71" stroke="#262626" stroke-width="1.5" />
<text x="91.9" y="2242.61" font-size="22" text-anchor="end" font-weight="normal" fill="#262626" >2</text>
<line x1="116.9" y1="2264.79" x2="116.9" y2="2275.09" stroke="#262626" stroke-width="1.5" />
<line x1="210.2" y1="2264.79" x2="210.2" y2="2275.09" stroke="#262626" stroke-width="1.5" />
<line x1="303.5" y1="2264.79" x2="303.5" y2="2275.09" stroke="#262626" stroke-width="1.5" />
<line x1="396.8" y1="2264.79" x2="396.8" y2="2275.09" stroke="#262626" stroke-width="1.5" />
<line x1="490.1" y1="2264.79" x2="490.1" y2="2275.09" stroke="#262626" stroke-width="1.5" />
<line x1="583.4" y1="2264.79" x2="583.4" y2="2275.09" stroke="#262626" stroke-width="1.5" />
<line x1="676.7" y1="2264.79" x2="676.7" y2="2275.09" stroke="#262626" stroke-width="1.5" />
<text x="113.8" y="2103.5" font-size="25" text-anchor="start" font-weight="normal" fill="#262626" letter-spacing="0.1">fly 7</text>
<text transform="translate(65.5 2178.01) rotate(-90)" font-size="22" text-anchor="middle" fill="#262626">drift (rad)</text>
<clipPath id="cc8"><rect x="738.19" y="2088.23" width="586.22" height="176.56"/></clipPath>
<g clip-path="url(#cc8)">
<g stroke="#4a10d0" stroke-opacity="0.5" stroke-width="8" stroke-linecap="round" fill="none">
<path d="M843.4 2176.5h0m56.9 1.4h0m34.8 .9h0m12.4 1.2h0m32.4-.9h0m25.3-3.2h0m2.3 .3h0m4.8 1.3h0m112.1-2.7h0m.4 .8h0m63.6-.1h0m12.7 0h0m74.4-2.3h0m1.6 4.3h0m1.3-3.4h0m2.6 1.2h0m9.4 .8h0m2.1 .8h0m29.1-2.3h0"/>
<path d="M740.2 2179.6h0m64.6 8.9h0m17.7-10.9h0m2.7-6.8h0m14.9 2.6h0m98.8 8.3h0m8.1-5.9h0m12.8 3.4h0m39.7-4.7h0m66.8-1h0m6.1 .4h0m38.8 5.7h0m109.3-2.5h0m18.5-2h0m25.6-1.3h0m13.8 2.4h0m4.8 .2h0m1.1-1.3h0m4.2 1.4h0m3.3-1.3h0m9.6 2.1h0"/>
<path d="M752.8 2174.8h0m46.3 1.5h0m125.5-.3h0m9.3-.1h0m3.2-.2h0m5.6 2.9h0m3.5 0h0m11.6-2.8h0m48.5-.2h0m8.4 .5h0m57.1-.4h0m4.1 .5h0m9 1.6h0m21.8 1.8h0m7.1-3.2h0m39.3-2.9h0m0 4.3h0m117.8-2.9h0m6.5-.4h0m6.1 2.6h0m.5-1.7h0m4.6 0h0m8.1 .9h0m6.1 2.1h0m17-2.3h0"/>
<path d="M879.5 2174.6h0m28.7 2.7h0m8.9-.7h0m6.9 1.3h0m24.8-1.4h0m7.6-2.7h0m37.4 4.7h0m4.7-3h0m108.6 2h0m12.2-.9h0m125.7-.1h0m39.5-.6h0m6.3 1.2h0m0-2.8h0m24.2 10.1h0"/>
<path d="M904.1 2175.2h0m13.3-.8h0m7.6 3.2h0m47.4-5h0m19.9 7.1h0m5-6.1h0m13.7 4.8h0m98.3-16.1h0m6.4 13.4h0m8.7 1h0m19.5-.4h0m36.4 3.1h0m7.9-2h0m42.9-3.9h0m30.6 5.3h0m52.1-3h0m1.5 2.8h0"/>
<path d="M871.6 2177.1h0m19.1-3.1h0m2.4 4.1h0m54.7-1.8h0m23.2-.8h0m10.8 1.3h0m1.8 1h0m29.1-.5h0m64.9 0h0m34.4 2.5h0m2.9-2.8h0m12.1-1.5h0m33.2 1.2h0m113.5 .2h0m27.7 .1h0"/>
<path d="M761.7 2178.4h0m76.7-1.5h0m21.4-2.2h0m49.4-1.2h0m42.1 3.3h0m26.7-2.7h0m2.8 2.1h0m2.6-1h0m9 1.9h0m.4 2h0m19 .2h0m63.1-1.6h0m43.5-1.2h0m4.8 2.1h0m10.2-4.2h0m14 5.8h0m33.2-2.7h0m87.4-1.5h0m.3 2.9h0m13.8-2.8h0m11.9 4.1h0m11.2-3.5h0"/>
<path d="M745.4 2176.5h0m63.4 1.3h0m1.7 1.3h0m30.4-2.7h0m2.6-.4h0m35.5 3.3h0m30.3-5.9h0m.6 2h0m18.3 3.3h0m153.1-2.5h0m25.7-2.1h0m12.1 1.1h0m33.1 3.8h0m9.1-10.9h0m91.9 8.1h0m39.4 1.3h0m13.8-.1h0"/>
<path d="M774.4 2178.1h0m2.3-5.6h0m17.7 7.1h0m40.1-5.5h0m43.8 3.1h0m1.2 1.3h0m41.2-5.4h0m3.7 1.9h0m78.8 0h0m104.6 3h0m9.5-1.2h0m7.1 .1h0m5.9 .4h0m112.9-2h0m33.9 2.6h0"/>
<path d="M739.4 2178.9h0m25.9-.8h0m68.1-3.3h0m7.1 11.3h0m24.3-10.2h0m32.6 .1h0m47.5-2.4h0m2.6 4.4h0m10.7-3.3h0m8.4 2.9h0m6.2-.2h0m31.2-.1h0m83.4 .3h0m36.2 .3h0m15.7-2h0m18.4 3.1h0m43.3-3.1h0m83.7-1.2h0m7.5 5h0m32.2-8.2h0"/>
<path d="M738.3 2174.3h0m148.3 1.3h0m6.4-.3h0m11.8 1.3h0m2.3-5.3h0m39.4 5.4h0m22.6 11.8h0m9.2-31.3h0m31.4 21.8h0m26.1-5.6h0m37.5 4.7h0m77.8-4.3h0m35.6-1.1h0m100.2 2h0"/>
<path d="M770.6 2174.8h0m51.3 2.8h0m5.4 0h0m66.9 1.3h0m8.9-1.6h0m31.2-1.6h0m13.7 4.8h0m4.9-1.6h0m46 .8h0m96.2-.7h0m24.7 .4h0m3.9-2.7h0m1.3 .3h0m16.9-1.7h0m56.5 .6h0m73.1-.1h0m15.4 .1h0m1.3 3.1h0m21.4-4h0m9.6 4.5h0"/>
<path d="M786.4 2176.4h0m38.6-3.9h0m2.4 3.3h0m45.7 3.1h0m5.8-3h0m50.5-.2h0m14.6 2.1h0m.1-1.4h0m12.4 .8h0m52.7-5.7h0m.2 5h0m91.9-4.1h0m.8 2.9h0m17.1 4.8h0m5.8-.2h0m55.1-4.6h0m34.7-.5h0m49.6 3.6h0"/>
<path d="M767.3 2177.5h0m75.5 .6h0m30.7-1.1h0m12-3h0m5.7 3.4h0m43.7 1.2h0m1.8 .6h0m1-4.5h0m.1 .5h0m40.4 1.1h0m108.9-4.8h0m40.3 6.9h0m93.2-3.9h0m8.6 .1h0m41.5 1.5h0m10-1.5h0m7.4 5.9h0"/>
<path d="M761.5 2179.2h0m.6-2.8h0m15-.7h0m26.8 1.6h0m1 1.2h0m29.4-1.5h0m11.5 .8h0m22.7-2.2h0m31.6 4.7h0m21.5-5.1h0m12.5 .5h0m13.3-1.2h0m.3 5.7h0m15.4-5.2h0m76.9 .9h0m46.7 .5h0m62.7 .9h0m70.9 .1h0m41.7 .2h0m12.8-3.4h0m6.3 3.5h0m5.4 0h0"/>
<path d="M765.8 2175.5h0m42.4 1.8h0m133.3-1.6h0m.9 1.1h0m3.1-.5h0m8.1-2.5h0m88.1 1.5h0m29.1 .9h0m5.7 3h0m69.7-6.3h0m4.8 3.3h0m7.8 2.3h0m142.5-3h0m9 3.3h0m4.4-2.1h0"/>
<path d="M757.2 2187.2h0m93.7-12h0m3.9-1.6h0m62.1 3h0m10.9-1h0m5.5-2.7h0m18.4 3.8h0m42.4-2.1h0m77.1 2.5h0m11.3 .1h0m32.1-3.6h0m4.1 1.7h0m13.7 1.9h0m14.9-2.3h0m44.7 2h0m63.2 .8h0m27.1-1.7h0m4.2 5.5h0"/>
<path d="M738.3 2177.8h0m33.3-.1h0m60.8 .1h0m8.1-2.2h0m8.1 2.5h0m22.2-1.9h0m8.7 1.4h0m29.9-3.1h0m22.7 2h0m5.3-1h0m34.8-9.8h0m26 10.4h0m121.4 2.2h0m20.3 6.1h0m4.2-7.9h0m23.2-.9h0m22.3-3h0m56.4-9.6h0m29.7 14.5h0m.9 .1h0m4 .7h0m10.5-1h0m7.4-2.1h0m1.5 3.7h0m22.1-3.1h0"/>
<path d="M745.1 2173.9h0m20.6 5.7h0m114.2-3.1h0m60.4-.7h0m91.9 6.1h0m36.7-7.1h0m23.2 2.7h0m0-2.1h0m4.2-14.8h0m6.8-1h0m23.4 15.9h0m70.2 14h0m80.1-9.9h0m16.7-3.8h0m28.3-9h0"/>
<path d="M751.9 2176.0h0m39.7 5.6h0m4.9-5.4h0m42.7-2.4h0m19.7 4h0m.6-1.9h0m56.7 2.7h0m19.1-1.8h0m6.6-1.4h0m48.7 1.6h0m89.7-8.9h0m5.6 8.3h0m9.6 0h0m25.8 1.4h0m10.6-2.4h0m15.7 3.3h0m38.4-2.3h0m97.4-2.6h0m4.2 .1h0m5.3 2.1h0"/>
<path d="M767.0 2175.9h0m29.3-1.4h0m86.5 1.7h0m50.8 2.8h0m4.4-1.2h0m8.2 1.7h0m30.5 0h0m5.2-2.8h0m11-3.9h0m10.2 3.2h0m17.9-1.2h0m47.6 2.2h0m4.9-10.2h0m16.4-3.4h0m3.7 12.4h0m51.8 .9h0"/>
<path d="M748.4 2176.0h0m13.1 1h0m126-10.6h0m19.8 9.2h0m65.5-.2h0m1.5 3.8h0m13.8-1.6h0m22-3h0m11.4 1h0m24.2 .4h0m42.7 .6h0m125.7-2h0m50.4-2.4h0m21.7 4.9h0m4.9-3.5h0m26.7 3.6h0"/>
<path d="M748.3 2177.6h0m83.8-4h0m3.3 1.9h0m43.2 2.7h0m2.5-2.3h0m13 2.7h0m24.4-6.3h0m12.6 3.3h0m11.4 1.8h0m37.7 5.5h0m3.2-4.3h0m55.4-22h0m18.6 21.7h0m16.6-2.7h0m34.6-.1h0m12.3-3.4h0m20.2 3.3h0m39.9-1.1h0m9.8 4.8h0m82.7-2.6h0m.8 3h0m5.3-2h0"/>
<path d="M792.1 2176.2h0m47.5-3.9h0m49.7 5.1h0m21.7-1.8h0m3.7 12.9h0m4.2-8h0m32.8-4.1h0m15.2 .5h0m20.2 2.1h0m3.4-3.2h0m34.7-16.9h0m39 20.9h0m17.2-5.1h0m4.8 2h0m2.9-4.7h0m13.8 4.8h0m8.9-.7h0m10.4-.7h0m21.8 1.1h0m150.3 .1h0"/>
</g>
<path d="M740.52 2177.64 L745.17 2175.2 L749.82 2176.52 L754.47 2174.82 L759.13 2176.28 L763.78 2177.74 L768.43 2176.09 L773.08 2177.92 L777.74 2174.1 L782.39 2175.26 L787.04 2176.43 L791.69 2178.87 L796.35 2176.77 L801 2176.26 L805.65 2177.88 L810.3 2178.08 L814.96 2177.85 L819.61 2177.62 L824.26 2175.03 L828.91 2176.74 L833.57 2175.46 L838.22 2174.1 L842.87 2176.5 L847.52 2177.95 L852.18 2175.22 L856.83 2175.69 L861.48 2175.32 L866.13 2175.91 L870.79 2176.95 L875.44 2177 L880.09 2177.08 L884.74 2175.26 L889.4 2176.24 L894.05 2177.71 L898.7 2178.08 L903.35 2176.4 L908.01 2174.42 L912.66 2175.55 L917.31 2176.48 L921.97 2175.39 L926.62 2176.55 L931.27 2175.2 L935.92 2176.8 L940.58 2177.37 L945.23 2177.02 L949.88 2177.64 L954.53 2175.92 L959.19 2176.58 L963.84 2175.05 L968.49 2177.25 L973.14 2176.04 L977.8 2177.24 L982.45 2177.72 L987.1 2178.29 L991.75 2177.15 L996.41 2174.94 L1001.06 2176.29 L1005.71 2176.26 L1010.36 2176.68 L1015.02 2176.7 L1019.67 2175.21 L1024.32 2176.02 L1028.97 2176.83 L1033.63 2177.63 L1038.28 2175.92 L1042.93 2175.32 L1047.58 2175.95 L1052.24 2177.13 L1056.89 2178.31 L1061.54 2177.48 L1066.19 2176.65 L1070.85 2175.77 L1075.5 2177.33 L1080.15 2175.47 L1084.8 2176.91 L1089.46 2175.41 L1094.11 2176.82 L1098.76 2175.84 L1103.41 2174.86 L1108.07 2176.95 L1112.72 2177.08 L1117.37 2176.81 L1122.02 2176.85 L1126.68 2176.7 L1131.33 2176.07 L1135.98 2175.8 L1140.63 2175.52 L1145.29 2176.59 L1149.94 2176.57 L1154.59 2175.63 L1159.25 2178.05 L1163.9 2176.8 L1168.55 2175.55 L1173.2 2175.44 L1177.86 2175.33 L1182.51 2177.1 L1187.16 2175.52 L1191.81 2176.19 L1196.47 2175.89 L1201.12 2175.71 L1205.77 2175.37 L1210.42 2175.03 L1215.08 2174.69 L1219.73 2176.34 L1224.38 2175.19 L1229.03 2174.03 L1233.69 2174.54 L1238.34 2175.05 L1242.99 2175.89 L1247.64 2176.03 L1252.3 2176.17 L1256.95 2177.71 L1261.6 2178.21 L1266.25 2175.87 L1270.91 2175.58 L1275.56 2176.81 L1280.21 2176.2 L1284.86 2176.28 L1289.52 2176.28 L1294.17 2177.51 L1298.82 2176.81 L1303.47 2176.98 L1308.13 2177.04 L1312.78 2176.27 L1317.43 2178.41 L1322.08 2174.49" stroke="#4a0fd0" stroke-width="3.2" fill="none" stroke-linejoin="round"/>
<path d="M738.19 2173.99 L739.66 2173.82 L741.13 2173.65 L742.6 2173.5 L744.07 2173.37 L745.54 2173.25 L747 2173.14 L748.47 2173.05 L749.94 2172.98 L751.41 2172.92 L752.88 2172.88 L754.35 2172.86 L755.82 2172.86 L757.29 2172.87 L758.76 2172.9 L760.23 2172.95 L761.7 2173.01 L763.17 2173.09 L764.64 2173.18 L766.1 2173.3 L767.57 2173.42 L769.04 2173.57 L770.51 2173.72 L771.98 2173.89 L773.45 2174.07 L774.92 2174.26 L776.39 2174.47 L777.86 2174.68 L779.33 2174.9 L780.8 2175.13 L782.27 2175.36 L783.74 2175.6 L785.2 2175.85 L786.67 2176.1 L788.14 2176.35 L789.61 2176.6 L791.08 2176.85 L792.55 2177.1 L794.02 2177.34 L795.49 2177.59 L796.96 2177.82 L798.43 2178.05 L799.9 2178.28 L801.37 2178.49 L802.84 2178.7 L804.3 2178.89 L805.77 2179.08 L807.24 2179.25 L808.71 2179.41 L810.18 2179.56 L811.65 2179.69 L813.12 2179.8 L814.59 2179.9 L816.06 2179.99 L817.53 2180.06 L819 2180.11 L820.47 2180.14 L821.94 2180.16 L823.4 2180.16 L824.87 2180.14 L826.34 2180.11 L827.81 2180.06 L829.28 2179.99 L830.75 2179.91 L832.22 2179.81 L833.69 2179.69 L835.16 2179.56 L836.63 2179.41 L838.1 2179.25 L839.57 2179.08 L841.04 2178.9 L842.5 2178.7 L843.97 2178.5 L845.44 2178.28 L846.91 2178.06 L848.38 2177.83 L849.85 2177.59 L851.32 2177.35 L852.79 2177.1 L854.26 2176.85 L855.73 2176.6 L857.2 2176.35 L858.67 2176.1 L860.14 2175.85 L861.6 2175.61 L863.07 2175.37 L864.54 2175.13 L866.01 2174.9 L867.48 2174.68 L868.95 2174.47 L870.42 2174.27 L871.89 2174.07 L873.36 2173.89 L874.83 2173.72 L876.3 2173.57 L877.77 2173.43 L879.24 2173.3 L880.7 2173.19 L882.17 2173.09 L883.64 2173.01 L885.11 2172.95 L886.58 2172.9 L888.05 2172.87 L889.52 2172.86 L890.99 2172.86 L892.46 2172.88 L893.93 2172.92 L895.4 2172.98 L896.87 2173.05 L898.34 2173.14 L899.8 2173.25 L901.27 2173.37 L902.74 2173.5 L904.21 2173.65 L905.68 2173.81 L907.15 2173.99 L908.62 2174.18 L910.09 2174.37 L911.56 2174.58 L913.03 2174.8 L914.5 2175.03 L915.97 2175.26 L917.43 2175.5 L918.9 2175.74 L920.37 2175.99 L921.84 2176.24 L923.31 2176.49 L924.78 2176.74 L926.25 2176.99 L927.72 2177.24 L929.19 2177.48 L930.66 2177.72 L932.13 2177.95 L933.6 2178.18 L935.07 2178.4 L936.53 2178.61 L938 2178.81 L939.47 2179 L940.94 2179.18 L942.41 2179.34 L943.88 2179.49 L945.35 2179.63 L946.82 2179.75 L948.29 2179.86 L949.76 2179.95 L951.23 2180.03 L952.7 2180.09 L954.17 2180.13 L955.63 2180.16 L957.1 2180.16 L958.57 2180.15 L960.04 2180.13 L961.51 2180.08 L962.98 2180.02 L964.45 2179.95 L965.92 2179.85 L967.39 2179.74 L968.86 2179.62 L970.33 2179.48 L971.8 2179.33 L973.27 2179.16 L974.73 2178.98 L976.2 2178.79 L977.67 2178.59 L979.14 2178.38 L980.61 2178.16 L982.08 2177.93 L983.55 2177.7 L985.02 2177.46 L986.49 2177.21 L987.96 2176.96 L989.43 2176.71 L990.9 2176.46 L992.37 2176.21 L993.83 2175.96 L995.3 2175.72 L996.77 2175.47 L998.24 2175.24 L999.71 2175 L1001.18 2174.78 L1002.65 2174.56 L1004.12 2174.35 L1005.59 2174.16 L1007.06 2173.97 L1008.53 2173.8 L1010 2173.63 L1011.47 2173.49 L1012.93 2173.35 L1014.4 2173.23 L1015.87 2173.13 L1017.34 2173.04 L1018.81 2172.97 L1020.28 2172.92 L1021.75 2172.88 L1023.22 2172.86 L1024.69 2172.86 L1026.16 2172.87 L1027.63 2172.9 L1029.1 2172.95 L1030.57 2173.02 L1032.03 2173.1 L1033.5 2173.2 L1034.97 2173.31 L1036.44 2173.44 L1037.91 2173.58 L1039.38 2173.74 L1040.85 2173.91 L1042.32 2174.09 L1043.79 2174.28 L1045.26 2174.49 L1046.73 2174.7 L1048.2 2174.92 L1049.67 2175.15 L1051.13 2175.39 L1052.6 2175.63 L1054.07 2175.88 L1055.54 2176.13 L1057.01 2176.38 L1058.48 2176.63 L1059.95 2176.88 L1061.42 2177.13 L1062.89 2177.37 L1064.36 2177.61 L1065.83 2177.85 L1067.3 2178.08 L1068.77 2178.3 L1070.23 2178.52 L1071.7 2178.72 L1073.17 2178.92 L1074.64 2179.1 L1076.11 2179.27 L1077.58 2179.43 L1079.05 2179.57 L1080.52 2179.7 L1081.99 2179.82 L1083.46 2179.91 L1084.93 2180 L1086.4 2180.06 L1087.87 2180.11 L1089.33 2180.15 L1090.8 2180.16 L1092.27 2180.16 L1093.74 2180.14 L1095.21 2180.1 L1096.68 2180.05 L1098.15 2179.98 L1099.62 2179.9 L1101.09 2179.79 L1102.56 2179.68 L1104.03 2179.54 L1105.5 2179.4 L1106.97 2179.24 L1108.43 2179.06 L1109.9 2178.88 L1111.37 2178.68 L1112.84 2178.47 L1114.31 2178.26 L1115.78 2178.03 L1117.25 2177.8 L1118.72 2177.56 L1120.19 2177.32 L1121.66 2177.07 L1123.13 2176.83 L1124.6 2176.57 L1126.07 2176.32 L1127.53 2176.07 L1129 2175.83 L1130.47 2175.58 L1131.94 2175.34 L1133.41 2175.11 L1134.88 2174.88 L1136.35 2174.66 L1137.82 2174.45 L1139.29 2174.24 L1140.76 2174.05 L1142.23 2173.87 L1143.7 2173.7 L1145.17 2173.55 L1146.63 2173.41 L1148.1 2173.29 L1149.57 2173.18 L1151.04 2173.08 L1152.51 2173 L1153.98 2172.94 L1155.45 2172.9 L1156.92 2172.87 L1158.39 2172.86 L1159.86 2172.86 L1161.33 2172.89 L1162.8 2172.93 L1164.26 2172.99 L1165.73 2173.06 L1167.2 2173.15 L1168.67 2173.26 L1170.14 2173.38 L1171.61 2173.52 L1173.08 2173.67 L1174.55 2173.83 L1176.02 2174.01 L1177.49 2174.2 L1178.96 2174.4 L1180.43 2174.61 L1181.9 2174.82 L1183.36 2175.05 L1184.83 2175.28 L1186.3 2175.52 L1187.77 2175.77 L1189.24 2176.01 L1190.71 2176.26 L1192.18 2176.52 L1193.65 2176.77 L1195.12 2177.02 L1196.59 2177.26 L1198.06 2177.51 L1199.53 2177.75 L1201 2177.98 L1202.46 2178.2 L1203.93 2178.42 L1205.4 2178.63 L1206.87 2178.83 L1208.34 2179.02 L1209.81 2179.2 L1211.28 2179.36 L1212.75 2179.51 L1214.22 2179.65 L1215.69 2179.77 L1217.16 2179.87 L1218.63 2179.96 L1220.1 2180.04 L1221.56 2180.09 L1223.03 2180.13 L1224.5 2180.16 L1225.97 2180.16 L1227.44 2180.15 L1228.91 2180.12 L1230.38 2180.08 L1231.85 2180.01 L1233.32 2179.94 L1234.79 2179.84 L1236.26 2179.73 L1237.73 2179.6 L1239.2 2179.46 L1240.66 2179.31 L1242.13 2179.14 L1243.6 2178.96 L1245.07 2178.77 L1246.54 2178.57 L1248.01 2178.35 L1249.48 2178.13 L1250.95 2177.9 L1252.42 2177.67 L1253.89 2177.43 L1255.36 2177.18 L1256.83 2176.94 L1258.3 2176.69 L1259.76 2176.43 L1261.23 2176.18 L1262.7 2175.94 L1264.17 2175.69 L1265.64 2175.45 L1267.11 2175.21 L1268.58 2174.98 L1270.05 2174.75 L1271.52 2174.54 L1272.99 2174.33 L1274.46 2174.14 L1275.93 2173.95 L1277.4 2173.78 L1278.86 2173.62 L1280.33 2173.47 L1281.8 2173.34 L1283.27 2173.22 L1284.74 2173.12 L1286.21 2173.03 L1287.68 2172.97 L1289.15 2172.91 L1290.62 2172.88 L1292.09 2172.86 L1293.56 2172.86 L1295.03 2172.87 L1296.5 2172.91 L1297.96 2172.96 L1299.43 2173.03 L1300.9 2173.11 L1302.37 2173.21 L1303.84 2173.32 L1305.31 2173.45 L1306.78 2173.6 L1308.25 2173.76 L1309.72 2173.93 L1311.19 2174.11 L1312.66 2174.31 L1314.13 2174.51 L1315.6 2174.73 L1317.06 2174.95 L1318.53 2175.18 L1320 2175.42 L1321.47 2175.66 L1322.94 2175.9 L1324.41 2176.15" stroke="#f39019" stroke-width="3.6" fill="none"/>
<path d="M738.19 2179 L739.66 2179.39 L741.13 2179.73 L742.6 2180.01 L744.07 2180.22 L745.54 2180.37 L747 2180.44 L748.47 2180.43 L749.94 2180.36 L751.41 2180.21 L752.88 2179.99 L754.35 2179.7 L755.82 2179.35 L757.29 2178.96 L758.76 2178.51 L760.23 2178.03 L761.7 2177.52 L763.17 2176.99 L764.64 2176.45 L766.1 2175.91 L767.57 2175.38 L769.04 2174.88 L770.51 2174.4 L771.98 2173.97 L773.45 2173.58 L774.92 2173.25 L776.39 2172.98 L777.86 2172.77 L779.33 2172.64 L780.8 2172.58 L782.27 2172.59 L783.74 2172.68 L785.2 2172.84 L786.67 2173.07 L788.14 2173.36 L789.61 2173.72 L791.08 2174.12 L792.55 2174.57 L794.02 2175.06 L795.49 2175.58 L796.96 2176.11 L798.43 2176.65 L799.9 2177.19 L801.37 2177.71 L802.84 2178.21 L804.3 2178.68 L805.77 2179.11 L807.24 2179.49 L808.71 2179.81 L810.18 2180.08 L811.65 2180.27 L813.12 2180.39 L814.59 2180.44 L816.06 2180.42 L817.53 2180.32 L819 2180.15 L820.47 2179.91 L821.94 2179.61 L823.4 2179.25 L824.87 2178.84 L826.34 2178.38 L827.81 2177.89 L829.28 2177.37 L830.75 2176.84 L832.22 2176.3 L833.69 2175.76 L835.16 2175.24 L836.63 2174.74 L838.1 2174.28 L839.57 2173.85 L841.04 2173.48 L842.5 2173.17 L843.97 2172.91 L845.44 2172.73 L846.91 2172.62 L848.38 2172.58 L849.85 2172.61 L851.32 2172.72 L852.79 2172.9 L854.26 2173.15 L855.73 2173.46 L857.2 2173.83 L858.67 2174.24 L860.14 2174.71 L861.6 2175.2 L863.07 2175.72 L864.54 2176.26 L866.01 2176.8 L867.48 2177.33 L868.95 2177.85 L870.42 2178.35 L871.89 2178.81 L873.36 2179.22 L874.83 2179.59 L876.3 2179.89 L877.77 2180.14 L879.24 2180.31 L880.7 2180.41 L882.17 2180.44 L883.64 2180.4 L885.11 2180.28 L886.58 2180.09 L888.05 2179.83 L889.52 2179.52 L890.99 2179.14 L892.46 2178.71 L893.93 2178.25 L895.4 2177.75 L896.87 2177.22 L898.34 2176.69 L899.8 2176.15 L901.27 2175.61 L902.74 2175.1 L904.21 2174.61 L905.68 2174.15 L907.15 2173.74 L908.62 2173.39 L910.09 2173.09 L911.56 2172.85 L913.03 2172.69 L914.5 2172.6 L915.97 2172.58 L917.43 2172.63 L918.9 2172.76 L920.37 2172.96 L921.84 2173.23 L923.31 2173.55 L924.78 2173.94 L926.25 2174.37 L927.72 2174.84 L929.19 2175.35 L930.66 2175.87 L932.13 2176.41 L933.6 2176.95 L935.07 2177.48 L936.53 2177.99 L938 2178.48 L939.47 2178.93 L940.94 2179.33 L942.41 2179.68 L943.88 2179.97 L945.35 2180.19 L946.82 2180.35 L948.29 2180.43 L949.76 2180.44 L951.23 2180.37 L952.7 2180.24 L954.17 2180.03 L955.63 2179.75 L957.1 2179.42 L958.57 2179.03 L960.04 2178.59 L961.51 2178.11 L962.98 2177.6 L964.45 2177.07 L965.92 2176.54 L967.39 2176 L968.86 2175.47 L970.33 2174.96 L971.8 2174.48 L973.27 2174.03 L974.73 2173.64 L976.2 2173.3 L977.67 2173.02 L979.14 2172.8 L980.61 2172.66 L982.08 2172.58 L983.55 2172.59 L985.02 2172.66 L986.49 2172.81 L987.96 2173.03 L989.43 2173.31 L990.9 2173.66 L992.37 2174.05 L993.83 2174.5 L995.3 2174.98 L996.77 2175.49 L998.24 2176.02 L999.71 2176.56 L1001.18 2177.1 L1002.65 2177.62 L1004.12 2178.13 L1005.59 2178.61 L1007.06 2179.04 L1008.53 2179.43 L1010 2179.76 L1011.47 2180.04 L1012.93 2180.24 L1014.4 2180.38 L1015.87 2180.44 L1017.34 2180.43 L1018.81 2180.34 L1020.28 2180.18 L1021.75 2179.96 L1023.22 2179.66 L1024.69 2179.31 L1026.16 2178.91 L1027.63 2178.46 L1029.1 2177.97 L1030.57 2177.46 L1032.03 2176.93 L1033.5 2176.39 L1034.97 2175.85 L1036.44 2175.32 L1037.91 2174.82 L1039.38 2174.35 L1040.85 2173.92 L1042.32 2173.54 L1043.79 2173.21 L1045.26 2172.95 L1046.73 2172.75 L1048.2 2172.63 L1049.67 2172.58 L1051.13 2172.6 L1052.6 2172.7 L1054.07 2172.86 L1055.54 2173.1 L1057.01 2173.4 L1058.48 2173.76 L1059.95 2174.17 L1061.42 2174.63 L1062.89 2175.12 L1064.36 2175.64 L1065.83 2176.17 L1067.3 2176.71 L1068.77 2177.25 L1070.23 2177.77 L1071.7 2178.27 L1073.17 2178.73 L1074.64 2179.16 L1076.11 2179.53 L1077.58 2179.85 L1079.05 2180.1 L1080.52 2180.29 L1081.99 2180.4 L1083.46 2180.44 L1084.93 2180.41 L1086.4 2180.31 L1087.87 2180.13 L1089.33 2179.88 L1090.8 2179.57 L1092.27 2179.21 L1093.74 2178.79 L1095.21 2178.33 L1096.68 2177.83 L1098.15 2177.31 L1099.62 2176.78 L1101.09 2176.24 L1102.56 2175.7 L1104.03 2175.18 L1105.5 2174.69 L1106.97 2174.23 L1108.43 2173.81 L1109.9 2173.44 L1111.37 2173.13 L1112.84 2172.89 L1114.31 2172.71 L1115.78 2172.61 L1117.25 2172.58 L1118.72 2172.62 L1120.19 2172.74 L1121.66 2172.92 L1123.13 2173.18 L1124.6 2173.5 L1126.07 2173.87 L1127.53 2174.29 L1129 2174.76 L1130.47 2175.26 L1131.94 2175.78 L1133.41 2176.32 L1134.88 2176.86 L1136.35 2177.39 L1137.82 2177.91 L1139.29 2178.4 L1140.76 2178.85 L1142.23 2179.27 L1143.7 2179.62 L1145.17 2179.92 L1146.63 2180.16 L1148.1 2180.33 L1149.57 2180.42 L1151.04 2180.44 L1152.51 2180.39 L1153.98 2180.26 L1155.45 2180.07 L1156.92 2179.8 L1158.39 2179.48 L1159.86 2179.09 L1161.33 2178.66 L1162.8 2178.19 L1164.26 2177.69 L1165.73 2177.16 L1167.2 2176.63 L1168.67 2176.09 L1170.14 2175.55 L1171.61 2175.04 L1173.08 2174.55 L1174.55 2174.11 L1176.02 2173.7 L1177.49 2173.35 L1178.96 2173.06 L1180.43 2172.83 L1181.9 2172.68 L1183.36 2172.59 L1184.83 2172.58 L1186.3 2172.64 L1187.77 2172.78 L1189.24 2172.99 L1190.71 2173.26 L1192.18 2173.59 L1193.65 2173.98 L1195.12 2174.42 L1196.59 2174.9 L1198.06 2175.4 L1199.53 2175.93 L1201 2176.47 L1202.46 2177.01 L1203.93 2177.54 L1205.4 2178.05 L1206.87 2178.53 L1208.34 2178.97 L1209.81 2179.37 L1211.28 2179.71 L1212.75 2180 L1214.22 2180.21 L1215.69 2180.36 L1217.16 2180.43 L1218.63 2180.43 L1220.1 2180.36 L1221.56 2180.22 L1223.03 2180 L1224.5 2179.72 L1225.97 2179.37 L1227.44 2178.98 L1228.91 2178.54 L1230.38 2178.05 L1231.85 2177.54 L1233.32 2177.01 L1234.79 2176.48 L1236.26 2175.94 L1237.73 2175.41 L1239.2 2174.9 L1240.66 2174.43 L1242.13 2173.99 L1243.6 2173.6 L1245.07 2173.26 L1246.54 2172.99 L1248.01 2172.78 L1249.48 2172.65 L1250.95 2172.58 L1252.42 2172.59 L1253.89 2172.67 L1255.36 2172.83 L1256.83 2173.06 L1258.3 2173.35 L1259.76 2173.7 L1261.23 2174.1 L1262.7 2174.55 L1264.17 2175.03 L1265.64 2175.55 L1267.11 2176.08 L1268.58 2176.62 L1270.05 2177.16 L1271.52 2177.68 L1272.99 2178.19 L1274.46 2178.66 L1275.93 2179.09 L1277.4 2179.47 L1278.86 2179.8 L1280.33 2180.06 L1281.8 2180.26 L1283.27 2180.39 L1284.74 2180.44 L1286.21 2180.42 L1287.68 2180.33 L1289.15 2180.16 L1290.62 2179.93 L1292.09 2179.63 L1293.56 2179.27 L1295.03 2178.86 L1296.5 2178.41 L1297.96 2177.92 L1299.43 2177.4 L1300.9 2176.87 L1302.37 2176.33 L1303.84 2175.79 L1305.31 2175.27 L1306.78 2174.77 L1308.25 2174.3 L1309.72 2173.87 L1311.19 2173.5 L1312.66 2173.18 L1314.13 2172.93 L1315.6 2172.74 L1317.06 2172.62 L1318.53 2172.58 L1320 2172.61 L1321.47 2172.71 L1322.94 2172.89 L1324.41 2173.13" stroke="#f05cf0" stroke-width="3.4" fill="none"/>
</g>
<line x1="737.8" y1="2087.43" x2="737.8" y2="2265.29" stroke="#262626" stroke-width="1.5" />
<line x1="737.8" y1="2264.79" x2="1323.4" y2="2264.79" stroke="#262626" stroke-width="1.5" />
<line x1="731.6" y1="2120.31" x2="737.8" y2="2120.31" stroke="#262626" stroke-width="1.5" />
<line x1="731.6" y1="2176.51" x2="737.8" y2="2176.51" stroke="#262626" stroke-width="1.5" />
<line x1="731.6" y1="2232.71" x2="737.8" y2="2232.71" stroke="#262626" stroke-width="1.5" />
<line x1="751.4" y1="2264.79" x2="751.4" y2="2275.09" stroke="#262626" stroke-width="1.5" />
<line x1="844.7" y1="2264.79" x2="844.7" y2="2275.09" stroke="#262626" stroke-width="1.5" />
<line x1="938" y1="2264.79" x2="938" y2="2275.09" stroke="#262626" stroke-width="1.5" />
<line x1="1031.3" y1="2264.79" x2="1031.3" y2="2275.09" stroke="#262626" stroke-width="1.5" />
<line x1="1124.6" y1="2264.79" x2="1124.6" y2="2275.09" stroke="#262626" stroke-width="1.5" />
<line x1="1217.9" y1="2264.79" x2="1217.9" y2="2275.09" stroke="#262626" stroke-width="1.5" />
<line x1="1311.2" y1="2264.79" x2="1311.2" y2="2275.09" stroke="#262626" stroke-width="1.5" />
<text x="752.4" y="2103.5" font-size="25" text-anchor="start" font-weight="normal" fill="#262626" letter-spacing="0.1">fly 8</text>
<clipPath id="cc9"><rect x="103.69" y="2315.3" width="586.22" height="176.56"/></clipPath>
<g clip-path="url(#cc9)">
<g stroke="#4a10d0" stroke-opacity="0.5" stroke-width="8" stroke-linecap="round" fill="none">
<path d="M129.2 2412.4h0m71.9-23.1h0m44 11.7h0m1.6 2.6h0m222.6 3.5h0m16.7-4h0m33.3 1.8h0m15.2-1h0m14.5 .7h0m22.9-6.7h0"/>
<path d="M182.0 2408.6h0m32.7-55.7h0m173.8 45.9h0m32.2 4.8h0m117.2 0h0m123.4-11.5h0"/>
<path d="M114.4 2375.7h0m117.6 25.7h0m21.3 2.7h0m150.5 .1h0m119.8 11.3h0m1.2-11h0m116.7-2.6h0"/>
<path d="M265.8 2404.0h0m3.3 8.1h0m120.3-10h0m54.4-1.6h0m2.5 1.7h0m95.6-.3h0"/>
<path d="M124.6 2403.8h0m39.1 16.1h0m25.1-12.5h0m157.9-4.9h0m13.3 2.3h0m38.2-3.3h0m3 5.7h0m2.6-3.4h0m19.2-2.3h0m17.7-6.4h0m50.1 13.7h0m4.8-3.8h0m48.3-3h0m5.5-1.5h0m70.4-20.7h0m46.6 34.4h0"/>
<path d="M179.4 2403.1h0m30.7 7.3h0m102.1-8h0m.5-11.4h0m127.1 15.3h0m7.8 .7h0m18.1 7.2h0m8-9.1h0m2.3-3.4h0m11.2-13.4h0m14.7 4.4h0m21.8 3.6h0m27.8 8.4h0m22 4.8h0m102.2-.3h0"/>
<path d="M116.2 2406.0h0m155.6 1.2h0m.4-9.9h0m158.2 5.1h0m64.9 19.2h0m43.7-20.1h0m46.7 .1h0m97.8 2.2h0"/>
<path d="M128.1 2402.9h0m282.5 18.1h0m62.4-14.4h0m32.6-3.8h0m12.7-.2h0m70.7-.5h0m70.4-.5h0"/>
<path d="M125.5 2402.3h0m217.7-2.6h0m24.8 5h0m12.1-1.4h0m93.3-1.5h0m3.1 3.7h0m60-.2h0m.5-3.3h0m12.8-15h0m86.1 15.9h0"/>
<path d="M356.6 2407.0h0m18.2-5.7h0m18.8 4.4h0m37.6-2h0m53.5 3.9h0m13-3.2h0m16 5.2h0m22.5-20.3h0m2.3 17.2h0m16.7 12.8h0m.3-18.9h0"/>
<path d="M227.0 2384.2h0m45.1 20.5h0m33-2.7h0m4.1-2.8h0m28.4 4.7h0m.9-2.6h0m84.3 2.4h0m26.8 1.5h0m24 5.7h0m42.1-9.4h0m25.4 .9h0"/>
<path d="M238.1 2402.7h0m111.3-11.7h0m194.2 9.9h0"/>
<path d="M261.9 2407.6h0m106.8 .1h0m140.5-6.5h0m24.5 1.3h0m3.4 .3h0m92.2-.7h0"/>
<path d="M186.9 2403.4h0m43.3-.7h0m34.9-38.2h0m33.7 42.3h0m9.9-6.8h0m4.8 3.7h0m37.5 3.6h0m27.1-1.8h0m43.3-2h0m26.3 3.6h0m46.3-37.5h0m9.8 61.2h0m13.8-22.9h0m41.2-6.2h0m60-3.2h0"/>
<path d="M190.3 2407.5h0m81.6-4.2h0m29.1-8.4h0m194.5 11.7h0m3.9 .5h0m9.2-5.8h0m4.4 1.4h0m1 0h0m6-4h0m115.2 3.4h0"/>
<path d="M234.5 2410.8h0m79.7-1.9h0m43.5-5.3h0m128.1 1.5h0m40-2.8h0m5.7 1.2h0"/>
<path d="M152.8 2408.7h0m153.3 3.8h0m.9-8.6h0m20.7 3.8h0m6.7-7h0m97.5 4.8h0m21.7 2.4h0m107.3-2.3h0m21.2 15h0m30.8-18.5h0m33.1 12.7h0"/>
<path d="M153.0 2409.0h0m11.7-12.9h0m135.8 8.5h0m171.8-1h0m31.3-3.1h0m7 3.5h0m13.4-1.5h0m28.7-3.3h0"/>
<path d="M124.9 2386.6h0m84 92.9h0m16.1-74.9h0m79.8-4.7h0m1.9 2.2h0m93.4 16.1h0m.4-11.8h0m53.7-.2h0"/>
<path d="M117.0 2403.5h0m7.6-.3h0m50.7-.4h0m60.9-3.5h0m14.6 6.8h0m109-2.9h0m30.4-13.9h0m108.4 14h0m12 1.9h0m70.5-8.7h0"/>
<path d="M116.7 2402.8h0m62.7-9h0m178.8 21.6h0m.4-14.8h0m31.2 8.1h0m46-4.3h0m82.1-.8h0m26.2 1.7h0m17.6-.9h0"/>
<path d="M367.4 2401.2h0m11 4.5h0m54.2 1h0m3.9-4.1h0m88.7-3.7h0m17.9 7.1h0"/>
<path d="M304.6 2402.8h0m38.6 .7h0m128.3 2.6h0m42-6.1h0m88.3 15.5h0m58.4-13.9h0"/>
<path d="M163.7 2390.4h0m24.6 13.3h0m11.7 .8h0m98.8-2.5h0m13.1 3.9h0m29.4-7.9h0m20.2 .5h0m7.7 7.4h0m29.5-2.8h0m51.7-11.4h0m35.4 15.7h0"/>
</g>
<path d="M115.32 2404.12 L119.97 2403.61 L124.63 2403.11 L129.28 2407.67M175.8 2402.83 L180.46 2405.85 L185.11 2403.35 L189.76 2406.22 L194.41 2405.37 L199.07 2391.03 L203.72 2407.44 L208.37 2479.47 L213.02 2408.91 L217.68 2407.47 L222.33 2406.02 L226.98 2404.58 L231.63 2402.06 L236.29 2401.04 L240.94 2401.68 L245.59 2402.33 L250.24 2406.1 L254.9 2408.04 L259.55 2404.96 L264.2 2363.82 L268.85 2404.64 L273.51 2403.11M296.77 2404.38 L301.42 2399.74 L306.08 2403.88 L310.73 2401.87 L315.38 2406.29 L320.03 2406.75 L324.69 2407.21 L329.34 2407.67 L333.99 2400.71 L338.64 2402.59 L343.3 2400.38 L347.95 2402.5 L352.6 2407.34 L357.25 2406.65 L361.91 2402.18 L366.56 2404.55 L371.21 2405.9 L375.86 2403.4 L380.52 2404.52 L385.17 2403.85 L389.82 2403.18 L394.47 2405.71 L399.13 2404.55 L403.78 2404 L408.43 2403.78 L413.08 2403.55 L417.74 2403.32 L422.39 2403.1 L427.04 2403.83 L431.69 2404.57 L436.35 2403.51 L441 2400.7 L445.65 2404.19 L450.3 2405.24 L454.96 2407.02 L459.61 2407.05 L464.26 2407.07 L468.91 2407.1 L473.57 2405.68 L478.22 2403.59 L482.87 2407.6 L487.52 2405.19 L492.18 2408.75 L496.83 2404.83 L501.48 2400.1 L506.13 2402.8 L510.79 2402.88 L515.44 2404.34 L520.09 2402.46 L524.75 2400.9 L529.4 2403.48 L534.05 2403.19 L538.7 2403.63 L543.36 2403.08 L548.01 2402.51 L552.66 2401.94 L557.31 2401.02 L561.97 2405.03 L566.62 2404.36 L571.27 2403.69 L575.92 2400.1 L580.58 2396.52 L585.23 2401.6 L589.88 2402.07M613.14 2402.11 L617.8 2402.12 L622.45 2402.14 L627.1 2402.15 L631.75 2402.33 L636.41 2402.51 L641.06 2401.91 L645.71 2401.82 L650.36 2401.74 L655.02 2401.65 L659.67 2401.57 L664.32 2404.13 L668.97 2406.69 L673.63 2409.24 L678.28 2406.53 L682.93 2403.82" stroke="#4a0fd0" stroke-width="3.2" fill="none" stroke-linejoin="round"/>
<path d="M103.69 2393.15 L105.16 2393.64 L106.63 2394.2 L108.1 2394.82 L109.57 2395.5 L111.04 2396.24 L112.5 2397.02 L113.97 2397.85 L115.44 2398.71 L116.91 2399.61 L118.38 2400.54 L119.85 2401.49 L121.32 2402.45 L122.79 2403.42 L124.26 2404.39 L125.73 2405.35 L127.2 2406.31 L128.67 2407.24 L130.14 2408.15 L131.6 2409.03 L133.07 2409.87 L134.54 2410.67 L136.01 2411.42 L137.48 2412.12 L138.95 2412.76 L140.42 2413.34 L141.89 2413.85 L143.36 2414.29 L144.83 2414.66 L146.3 2414.96 L147.77 2415.18 L149.24 2415.32 L150.7 2415.38 L152.17 2415.36 L153.64 2415.26 L155.11 2415.08 L156.58 2414.83 L158.05 2414.5 L159.52 2414.09 L160.99 2413.62 L162.46 2413.07 L163.93 2412.47 L165.4 2411.8 L166.87 2411.07 L168.34 2410.3 L169.8 2409.48 L171.27 2408.62 L172.74 2407.73 L174.21 2406.8 L175.68 2405.86 L177.15 2404.9 L178.62 2403.93 L180.09 2402.96 L181.56 2402 L183.03 2401.04 L184.5 2400.1 L185.97 2399.19 L187.44 2398.3 L188.9 2397.45 L190.37 2396.65 L191.84 2395.88 L193.31 2395.18 L194.78 2394.52 L196.25 2393.93 L197.72 2393.41 L199.19 2392.95 L200.66 2392.56 L202.13 2392.25 L203.6 2392.02 L205.07 2391.86 L206.54 2391.79 L208 2391.79 L209.47 2391.87 L210.94 2392.03 L212.41 2392.27 L213.88 2392.59 L215.35 2392.98 L216.82 2393.44 L218.29 2393.97 L219.76 2394.57 L221.23 2395.23 L222.7 2395.94 L224.17 2396.7 L225.64 2397.52 L227.1 2398.37 L228.57 2399.26 L230.04 2400.17 L231.51 2401.11 L232.98 2402.07 L234.45 2403.04 L235.92 2404.01 L237.39 2404.97 L238.86 2405.93 L240.33 2406.87 L241.8 2407.79 L243.27 2408.69 L244.74 2409.54 L246.2 2410.36 L247.67 2411.13 L249.14 2411.85 L250.61 2412.51 L252.08 2413.12 L253.55 2413.66 L255.02 2414.13 L256.49 2414.53 L257.96 2414.85 L259.43 2415.1 L260.9 2415.27 L262.37 2415.36 L263.84 2415.38 L265.3 2415.31 L266.77 2415.16 L268.24 2414.94 L269.71 2414.64 L271.18 2414.26 L272.65 2413.81 L274.12 2413.3 L275.59 2412.71 L277.06 2412.07 L278.53 2411.36 L280 2410.61 L281.47 2409.81 L282.93 2408.96 L284.4 2408.08 L285.87 2407.17 L287.34 2406.23 L288.81 2405.28 L290.28 2404.31 L291.75 2403.34 L293.22 2402.38 L294.69 2401.42 L296.16 2400.47 L297.63 2399.55 L299.1 2398.65 L300.57 2397.78 L302.03 2396.96 L303.5 2396.18 L304.97 2395.45 L306.44 2394.77 L307.91 2394.16 L309.38 2393.61 L310.85 2393.12 L312.32 2392.71 L313.79 2392.37 L315.26 2392.1 L316.73 2391.92 L318.2 2391.81 L319.67 2391.78 L321.13 2391.83 L322.6 2391.96 L324.07 2392.17 L325.54 2392.46 L327.01 2392.82 L328.48 2393.25 L329.95 2393.76 L331.42 2394.33 L332.89 2394.96 L334.36 2395.65 L335.83 2396.4 L337.3 2397.19 L338.77 2398.03 L340.23 2398.9 L341.7 2399.81 L343.17 2400.74 L344.64 2401.69 L346.11 2402.65 L347.58 2403.62 L349.05 2404.59 L350.52 2405.56 L351.99 2406.51 L353.46 2407.43 L354.93 2408.34 L356.4 2409.21 L357.87 2410.04 L359.33 2410.83 L360.8 2411.57 L362.27 2412.26 L363.74 2412.89 L365.21 2413.45 L366.68 2413.95 L368.15 2414.38 L369.62 2414.73 L371.09 2415.01 L372.56 2415.21 L374.03 2415.34 L375.5 2415.38 L376.97 2415.35 L378.43 2415.23 L379.9 2415.04 L381.37 2414.77 L382.84 2414.42 L384.31 2414 L385.78 2413.51 L387.25 2412.95 L388.72 2412.33 L390.19 2411.65 L391.66 2410.91 L393.13 2410.13 L394.6 2409.3 L396.07 2408.43 L397.53 2407.53 L399 2406.61 L400.47 2405.66 L401.94 2404.7 L403.41 2403.73 L404.88 2402.76 L406.35 2401.79 L407.82 2400.84 L409.29 2399.91 L410.76 2399 L412.23 2398.12 L413.7 2397.28 L415.17 2396.48 L416.63 2395.73 L418.1 2395.03 L419.57 2394.39 L421.04 2393.81 L422.51 2393.3 L423.98 2392.86 L425.45 2392.49 L426.92 2392.2 L428.39 2391.98 L429.86 2391.84 L431.33 2391.78 L432.8 2391.8 L434.27 2391.9 L435.73 2392.08 L437.2 2392.33 L438.67 2392.67 L440.14 2393.07 L441.61 2393.55 L443.08 2394.1 L444.55 2394.7 L446.02 2395.37 L447.49 2396.1 L448.96 2396.87 L450.43 2397.69 L451.9 2398.55 L453.37 2399.45 L454.83 2400.37 L456.3 2401.31 L457.77 2402.27 L459.24 2403.24 L460.71 2404.21 L462.18 2405.18 L463.65 2406.13 L465.12 2407.07 L466.59 2407.99 L468.06 2408.87 L469.53 2409.72 L471 2410.53 L472.47 2411.29 L473.93 2412 L475.4 2412.65 L476.87 2413.24 L478.34 2413.76 L479.81 2414.22 L481.28 2414.6 L482.75 2414.91 L484.22 2415.14 L485.69 2415.3 L487.16 2415.37 L488.63 2415.37 L490.1 2415.29 L491.57 2415.12 L493.03 2414.88 L494.5 2414.56 L495.97 2414.17 L497.44 2413.71 L498.91 2413.18 L500.38 2412.58 L501.85 2411.92 L503.32 2411.21 L504.79 2410.44 L506.26 2409.63 L507.73 2408.78 L509.2 2407.89 L510.67 2406.97 L512.13 2406.03 L513.6 2405.08 L515.07 2404.11 L516.54 2403.14 L518.01 2402.17 L519.48 2401.21 L520.95 2400.27 L522.42 2399.35 L523.89 2398.46 L525.36 2397.6 L526.83 2396.79 L528.3 2396.02 L529.76 2395.3 L531.23 2394.64 L532.7 2394.03 L534.17 2393.5 L535.64 2393.03 L537.11 2392.63 L538.58 2392.3 L540.05 2392.06 L541.52 2391.89 L542.99 2391.79 L544.46 2391.78 L545.93 2391.85 L547.4 2392 L548.86 2392.22 L550.33 2392.53 L551.8 2392.9 L553.27 2393.35 L554.74 2393.87 L556.21 2394.46 L557.68 2395.1 L559.15 2395.81 L560.62 2396.56 L562.09 2397.37 L563.56 2398.21 L565.03 2399.09 L566.5 2400 L567.96 2400.94 L569.43 2401.89 L570.9 2402.86 L572.37 2403.83 L573.84 2404.8 L575.31 2405.76 L576.78 2406.7 L578.25 2407.63 L579.72 2408.53 L581.19 2409.39 L582.66 2410.21 L584.13 2410.99 L585.6 2411.72 L587.06 2412.4 L588.53 2413.01 L590 2413.56 L591.47 2414.05 L592.94 2414.46 L594.41 2414.8 L595.88 2415.06 L597.35 2415.25 L598.82 2415.35 L600.29 2415.38 L601.76 2415.33 L603.23 2415.2 L604.7 2414.99 L606.16 2414.7 L607.63 2414.34 L609.1 2413.9 L610.57 2413.39 L612.04 2412.82 L613.51 2412.19 L614.98 2411.5 L616.45 2410.75 L617.92 2409.96 L619.39 2409.12 L620.86 2408.24 L622.33 2407.34 L623.8 2406.41 L625.26 2405.45 L626.73 2404.49 L628.2 2403.52 L629.67 2402.55 L631.14 2401.59 L632.61 2400.64 L634.08 2399.71 L635.55 2398.81 L637.02 2397.94 L638.49 2397.11 L639.96 2396.32 L641.43 2395.58 L642.9 2394.89 L644.36 2394.26 L645.83 2393.7 L647.3 2393.2 L648.77 2392.78 L650.24 2392.42 L651.71 2392.14 L653.18 2391.94 L654.65 2391.82 L656.12 2391.78 L657.59 2391.81 L659.06 2391.93 L660.53 2392.13 L662 2392.4 L663.46 2392.75 L664.93 2393.17 L666.4 2393.66 L667.87 2394.22 L669.34 2394.84 L670.81 2395.52 L672.28 2396.26 L673.75 2397.04 L675.22 2397.87 L676.69 2398.74 L678.16 2399.64 L679.63 2400.57 L681.1 2401.52 L682.56 2402.48 L684.03 2403.45 L685.5 2404.42 L686.97 2405.38 L688.44 2406.33 L689.91 2407.27" stroke="#f39019" stroke-width="3.6" fill="none"/>
<path d="M103.69 2400.65 L105.16 2401.79 L106.63 2402.97 L108.1 2404.17 L109.57 2405.36 L111.04 2406.49 L112.5 2407.55 L113.97 2408.5 L115.44 2409.32 L116.91 2409.98 L118.38 2410.47 L119.85 2410.78 L121.32 2410.89 L122.79 2410.8 L124.26 2410.52 L125.73 2410.05 L127.2 2409.4 L128.67 2408.6 L130.14 2407.66 L131.6 2406.62 L133.07 2405.49 L134.54 2404.31 L136.01 2403.11 L137.48 2401.92 L138.95 2400.78 L140.42 2399.71 L141.89 2398.75 L143.36 2397.91 L144.83 2397.24 L146.3 2396.73 L147.77 2396.41 L149.24 2396.28 L150.7 2396.34 L152.17 2396.61 L153.64 2397.06 L155.11 2397.69 L156.58 2398.47 L158.05 2399.4 L159.52 2400.44 L160.99 2401.56 L162.46 2402.74 L163.93 2403.94 L165.4 2405.13 L166.87 2406.28 L168.34 2407.35 L169.8 2408.32 L171.27 2409.17 L172.74 2409.87 L174.21 2410.39 L175.68 2410.73 L177.15 2410.88 L178.62 2410.83 L180.09 2410.59 L181.56 2410.15 L183.03 2409.54 L184.5 2408.77 L185.97 2407.86 L187.44 2406.83 L188.9 2405.71 L190.37 2404.54 L191.84 2403.34 L193.31 2402.15 L194.78 2401 L196.25 2399.91 L197.72 2398.93 L199.19 2398.07 L200.66 2397.36 L202.13 2396.81 L203.6 2396.45 L205.07 2396.29 L206.54 2396.32 L208 2396.54 L209.47 2396.96 L210.94 2397.55 L212.41 2398.31 L213.88 2399.21 L215.35 2400.23 L216.82 2401.33 L218.29 2402.5 L219.76 2403.7 L221.23 2404.89 L222.7 2406.05 L224.17 2407.15 L225.64 2408.14 L227.1 2409.01 L228.57 2409.74 L230.04 2410.3 L231.51 2410.68 L232.98 2410.87 L234.45 2410.86 L235.92 2410.65 L237.39 2410.25 L238.86 2409.67 L240.33 2408.93 L241.8 2408.05 L243.27 2407.04 L244.74 2405.94 L246.2 2404.77 L247.67 2403.58 L249.14 2402.38 L250.61 2401.22 L252.08 2400.12 L253.55 2399.11 L255.02 2398.22 L256.49 2397.48 L257.96 2396.91 L259.43 2396.51 L260.9 2396.3 L262.37 2396.29 L263.84 2396.48 L265.3 2396.86 L266.77 2397.42 L268.24 2398.15 L269.71 2399.02 L271.18 2400.02 L272.65 2401.11 L274.12 2402.27 L275.59 2403.46 L277.06 2404.66 L278.53 2405.83 L280 2406.94 L281.47 2407.95 L282.93 2408.85 L284.4 2409.61 L285.87 2410.2 L287.34 2410.62 L288.81 2410.84 L290.28 2410.87 L291.75 2410.71 L293.22 2410.35 L294.69 2409.8 L296.16 2409.09 L297.63 2408.23 L299.1 2407.25 L300.57 2406.16 L302.03 2405.01 L303.5 2403.82 L304.97 2402.62 L306.44 2401.44 L307.91 2400.33 L309.38 2399.3 L310.85 2398.39 L312.32 2397.62 L313.79 2397.01 L315.26 2396.57 L316.73 2396.33 L318.2 2396.28 L319.67 2396.43 L321.13 2396.77 L322.6 2397.3 L324.07 2397.99 L325.54 2398.84 L327.01 2399.81 L328.48 2400.89 L329.95 2402.04 L331.42 2403.23 L332.89 2404.43 L334.36 2405.6 L335.83 2406.73 L337.3 2407.76 L338.77 2408.69 L340.23 2409.47 L341.7 2410.1 L343.17 2410.55 L344.64 2410.82 L346.11 2410.88 L347.58 2410.75 L349.05 2410.43 L350.52 2409.92 L351.99 2409.24 L353.46 2408.41 L354.93 2407.45 L356.4 2406.38 L357.87 2405.24 L359.33 2404.05 L360.8 2402.85 L362.27 2401.67 L363.74 2400.54 L365.21 2399.49 L366.68 2398.56 L368.15 2397.76 L369.62 2397.11 L371.09 2396.64 L372.56 2396.36 L374.03 2396.27 L375.5 2396.38 L376.97 2396.69 L378.43 2397.18 L379.9 2397.84 L381.37 2398.66 L382.84 2399.61 L384.31 2400.67 L385.78 2401.81 L387.25 2402.99 L388.72 2404.19 L390.19 2405.37 L391.66 2406.51 L393.13 2407.57 L394.6 2408.52 L396.07 2409.33 L397.53 2409.99 L399 2410.48 L400.47 2410.78 L401.94 2410.89 L403.41 2410.8 L404.88 2410.51 L406.35 2410.04 L407.82 2409.39 L409.29 2408.59 L410.76 2407.65 L412.23 2406.6 L413.7 2405.47 L415.17 2404.29 L416.63 2403.09 L418.1 2401.9 L419.57 2400.76 L421.04 2399.69 L422.51 2398.73 L423.98 2397.9 L425.45 2397.23 L426.92 2396.72 L428.39 2396.4 L429.86 2396.28 L431.33 2396.35 L432.8 2396.61 L434.27 2397.07 L435.73 2397.7 L437.2 2398.49 L438.67 2399.41 L440.14 2400.45 L441.61 2401.58 L443.08 2402.75 L444.55 2403.95 L446.02 2405.14 L447.49 2406.29 L448.96 2407.37 L450.43 2408.34 L451.9 2409.18 L453.37 2409.87 L454.83 2410.4 L456.3 2410.74 L457.77 2410.88 L459.24 2410.83 L460.71 2410.58 L462.18 2410.14 L463.65 2409.53 L465.12 2408.76 L466.59 2407.84 L468.06 2406.81 L469.53 2405.7 L471 2404.52 L472.47 2403.32 L473.93 2402.13 L475.4 2400.98 L476.87 2399.9 L478.34 2398.91 L479.81 2398.05 L481.28 2397.35 L482.75 2396.81 L484.22 2396.45 L485.69 2396.29 L487.16 2396.32 L488.63 2396.55 L490.1 2396.96 L491.57 2397.56 L493.03 2398.32 L494.5 2399.22 L495.97 2400.24 L497.44 2401.35 L498.91 2402.52 L500.38 2403.72 L501.85 2404.91 L503.32 2406.07 L504.79 2407.16 L506.26 2408.16 L507.73 2409.03 L509.2 2409.75 L510.67 2410.31 L512.13 2410.68 L513.6 2410.87 L515.07 2410.85 L516.54 2410.64 L518.01 2410.24 L519.48 2409.66 L520.95 2408.92 L522.42 2408.03 L523.89 2407.02 L525.36 2405.92 L526.83 2404.76 L528.3 2403.56 L529.76 2402.36 L531.23 2401.2 L532.7 2400.1 L534.17 2399.1 L535.64 2398.21 L537.11 2397.47 L538.58 2396.9 L540.05 2396.5 L541.52 2396.3 L542.99 2396.3 L544.46 2396.49 L545.93 2396.87 L547.4 2397.43 L548.86 2398.16 L550.33 2399.03 L551.8 2400.03 L553.27 2401.13 L554.74 2402.29 L556.21 2403.48 L557.68 2404.68 L559.15 2405.85 L560.62 2406.95 L562.09 2407.97 L563.56 2408.87 L565.03 2409.62 L566.5 2410.21 L567.96 2410.62 L569.43 2410.85 L570.9 2410.87 L572.37 2410.7 L573.84 2410.34 L575.31 2409.79 L576.78 2409.08 L578.25 2408.22 L579.72 2407.23 L581.19 2406.14 L582.66 2404.99 L584.13 2403.8 L585.6 2402.6 L587.06 2401.43 L588.53 2400.31 L590 2399.29 L591.47 2398.38 L592.94 2397.61 L594.41 2397 L595.88 2396.57 L597.35 2396.33 L598.82 2396.28 L600.29 2396.43 L601.76 2396.78 L603.23 2397.31 L604.7 2398 L606.16 2398.85 L607.63 2399.83 L609.1 2400.9 L610.57 2402.05 L612.04 2403.25 L613.51 2404.44 L614.98 2405.62 L616.45 2406.74 L617.92 2407.78 L619.39 2408.7 L620.86 2409.48 L622.33 2410.11 L623.8 2410.56 L625.26 2410.82 L626.73 2410.88 L628.2 2410.75 L629.67 2410.42 L631.14 2409.91 L632.61 2409.23 L634.08 2408.4 L635.55 2407.43 L637.02 2406.36 L638.49 2405.22 L639.96 2404.03 L641.43 2402.83 L642.9 2401.65 L644.36 2400.52 L645.83 2399.48 L647.3 2398.54 L648.77 2397.75 L650.24 2397.1 L651.71 2396.64 L653.18 2396.36 L654.65 2396.27 L656.12 2396.39 L657.59 2396.69 L659.06 2397.19 L660.53 2397.85 L662 2398.67 L663.46 2399.63 L664.93 2400.69 L666.4 2401.82 L667.87 2403.01 L669.34 2404.21 L670.81 2405.39 L672.28 2406.53 L673.75 2407.58 L675.22 2408.53 L676.69 2409.34 L678.16 2410 L679.63 2410.48 L681.1 2410.78 L682.56 2410.89 L684.03 2410.79 L685.5 2410.5 L686.97 2410.03 L688.44 2409.38 L689.91 2408.57" stroke="#f05cf0" stroke-width="3.4" fill="none"/>
</g>
<line x1="103.5" y1="2314.5" x2="103.5" y2="2492.36" stroke="#262626" stroke-width="1.5" />
<line x1="103.5" y1="2491.86" x2="688.6" y2="2491.86" stroke="#262626" stroke-width="1.5" />
<line x1="97.3" y1="2347.38" x2="103.5" y2="2347.38" stroke="#262626" stroke-width="1.5" />
<text x="91.9" y="2357.28" font-size="22" text-anchor="end" font-weight="normal" fill="#262626" >2</text>
<line x1="97.3" y1="2403.58" x2="103.5" y2="2403.58" stroke="#262626" stroke-width="1.5" />
<text x="91.9" y="2411.48" font-size="22" text-anchor="end" font-weight="normal" fill="#262626" >0</text>
<line x1="97.3" y1="2459.78" x2="103.5" y2="2459.78" stroke="#262626" stroke-width="1.5" />
<text x="91.9" y="2469.68" font-size="22" text-anchor="end" font-weight="normal" fill="#262626" >2</text>
<line x1="116.9" y1="2491.86" x2="116.9" y2="2502.16" stroke="#262626" stroke-width="1.5" />
<text x="116.3" y="2524.2" font-size="22" text-anchor="middle" font-weight="normal" fill="#262626" >-3</text>
<line x1="210.2" y1="2491.86" x2="210.2" y2="2502.16" stroke="#262626" stroke-width="1.5" />
<text x="209.3" y="2524.2" font-size="22" text-anchor="middle" font-weight="normal" fill="#262626" >-2</text>
<line x1="303.5" y1="2491.86" x2="303.5" y2="2502.16" stroke="#262626" stroke-width="1.5" />
<text x="303" y="2524.2" font-size="22" text-anchor="middle" font-weight="normal" fill="#262626" >-1</text>
<line x1="396.8" y1="2491.86" x2="396.8" y2="2502.16" stroke="#262626" stroke-width="1.5" />
<text x="396.2" y="2524.2" font-size="22" text-anchor="middle" font-weight="normal" fill="#262626" >0</text>
<line x1="490.1" y1="2491.86" x2="490.1" y2="2502.16" stroke="#262626" stroke-width="1.5" />
<text x="490.3" y="2524.2" font-size="22" text-anchor="middle" font-weight="normal" fill="#262626" >1</text>
<line x1="583.4" y1="2491.86" x2="583.4" y2="2502.16" stroke="#262626" stroke-width="1.5" />
<text x="583.7" y="2524.2" font-size="22" text-anchor="middle" font-weight="normal" fill="#262626" >2</text>
<line x1="676.7" y1="2491.86" x2="676.7" y2="2502.16" stroke="#262626" stroke-width="1.5" />
<text x="677" y="2524.2" font-size="22" text-anchor="middle" font-weight="normal" fill="#262626" >3</text>
<text x="113.8" y="2326.4" font-size="25" text-anchor="start" font-weight="normal" fill="#262626" letter-spacing="0.1">fly 9</text>
<text transform="translate(65.5 2405.08) rotate(-90)" font-size="22" text-anchor="middle" fill="#262626">drift (rad)</text>
<clipPath id="cc10"><rect x="738.19" y="2315.3" width="586.22" height="176.56"/></clipPath>
<g clip-path="url(#cc10)">
<g stroke="#4a10d0" stroke-opacity="0.5" stroke-width="8" stroke-linecap="round" fill="none">
<path d="M786.6 2409.5h0m6.5 14h0m21.9 4.3h0m4.4-6.4h0m28-20.1h0m3.9 9.4h0m20.6-4.3h0m74.1 .5h0m11.9-6.3h0m4.8 4.7h0m73.5 12.7h0m34.9-10.7h0m6.9-54.7h0m.5 43.4h0m27.4 23.9h0m4.3-37.5h0m46.9 4.1h0m14 11.6h0m28.3-6.5h0m9.1 8.1h0m25.8 3.2h0m34.7 10.5h0m43.3-26.4h0"/>
<path d="M739.5 2421.4h0m49 58.1h0m14.8-67.3h0m7.7-29.7h0m4.7 18.1h0m22.2-1.2h0m12 14.1h0m25.7 11.5h0m21.3-23.4h0m4.9 22.9h0m10.2-37.9h0m44.2 45.3h0m1.9-27.7h0m5.9 31.1h0m16.1-31.8h0m19.2-25.9h0m7.5 27.6h0m4-6.5h0m2-15.1h0m18.1 34.3h0m24.6-22.6h0m68.1 21.3h0m54.4-42.6h0m23.3 41.8h0m37.3-13.5h0"/>
<path d="M847.2 2408.8h0m.1-34.8h0m8.7 28h0m1.5 5.9h0m1.1-36.3h0m9.6 34.1h0m21.5-5.1h0m25.9 4h0m38.2-4.8h0m2.7 4.5h0m22.2 9.8h0m23.4-8.4h0m12.8 3.2h0m27.4 4h0m7.8-2.4h0m108.5-31.4h0m23 29.6h0m25.7-3.2h0m7.6-.6h0m2.8 4.4h0m32.6-9.8h0m13 5.3h0m33.8 5.1h0"/>
<path d="M741.9 2447.2h0m50.4-51.1h0m10.5 2h0m14.4 35h0m21.7-33.1h0m29.4-8.1h0m5.5 12.3h0m37.6-8.9h0m7.3 6.1h0m1.6 8.3h0m4.2-.8h0m17.2-9.1h0m52.8 15.8h0m.8-6.5h0m4.7-7.8h0m31-27.3h0m90.6 28.3h0m56.1 11.9h0m7.4 8.5h0m25.8-15.4h0m13.1-10.6h0m25.4 47.1h0m24.7-33.6h0m30.7-21.9h0"/>
<path d="M768.1 2401.8h0m4.2 3.7h0m33.3-13.8h0m4.8 25.7h0m8.5-4.6h0m3.4-3.6h0m45.5-36.9h0m11.9 88.5h0m43-71.6h0m21.2 2.2h0m14.7-13h0m2.4 22.5h0m27.2 6.4h0m22.9-6.6h0m55.5 1.9h0m4.3-.1h0m40.7-9.6h0m58.9 1.5h0m5.2 22h0m32.2-5.7h0m79.8 7.5h0m18.3 3.6h0"/>
<path d="M778.9 2416.6h0m1.4 55.4h0m61.9-62.2h0m14.4 11.9h0m6.6-21.8h0m3.3-2.7h0m54.4 19.5h0m17.3-12.7h0m3.1-5h0m16.6 18.7h0m12-17h0m16 16.9h0m11.7 .4h0m10.6-5.9h0m52-13.3h0m40.5 17.7h0m43.3-7.9h0m8.5-14.7h0m1.8 6.9h0m34.6 3.4h0m27.5-8.4h0m.1 25.7h0m7.6-20.8h0m29.4 23.6h0"/>
<path d="M749.1 2390.4h0m48 10.5h0m0 1.1h0m36.6-32.1h0m2.8 18.4h0m11.1 7.4h0m2.1-3.3h0m24.7 14.7h0m20.9 3.7h0m28.9-12.5h0m8.2-21.9h0m7.7 33.3h0m.7-14.6h0m7.9 19.8h0m35.1-17.5h0m35 .8h0m19.2-7.9h0m23.7 22h0m1.4-23.1h0m8.3 27.3h0m44 18.8h0m9.4-18.2h0m24.2-.6h0m3.2-12.9h0m17.4-12.6h0m41.7 15.5h0"/>
<path d="M741.5 2409.8h0m52.6-8.9h0m3.4 6h0m51.6 2.8h0m5.1 18.6h0m14.8-22.9h0m10.8-9.5h0m4.8 6.2h0m4.6 6.1h0m51.7 64.5h0m35.8-66.1h0m5.6 7.4h0m24.1-15.7h0m35.3-4.1h0m13.1-7.2h0m49.1 5.6h0m28.5 10.8h0m117.6-12.6h0m12.5 17.3h0"/>
<path d="M750.3 2391.8h0m9.5 17.6h0m15.6-18.7h0m21.2 20h0m35.1-12.1h0m11.3-9.2h0m24.4 18.8h0m17.4-14.2h0m2.7 11.8h0m19.5-9.5h0m.7-2.3h0m3.6 14.2h0m6.6 20.7h0m3.3-14.2h0m9.5 12h0m7.5-89.4h0m13.5 49.6h0m6.9 64.7h0m9.9-44.3h0m4.8-5.1h0m10.7 14.7h0m60.3-16.7h0m7.1-21.1h0m76.4 39.7h0m3.5-.9h0m22.3-5.8h0m58.8-13.8h0m29.8 16.7h0m43.3-3.9h0m14.4-10.4h0"/>
<path d="M807.9 2410.2h0m25.1-25.9h0m47.3 38h0m2.1-16.3h0m0-43.2h0m11.9 42h0m4-13.5h0m53.2 6.7h0m19.5-6.5h0m2.2 53.3h0m96.6-33.2h0m35.4-29.1h0m.9 14.4h0m10 18h0m7-6.3h0m30.1-9.1h0m19.8 15.6h0m33.9-53.7h0m45.9 17.7h0m4.1 28.6h0m10.5 24.2h0m5.1-40.2h0m17.5 23.9h0"/>
<path d="M742.2 2409.0h0m61-2.1h0m13.5-8.9h0m4.4 16.2h0m37.7 12.3h0m11.8-21.4h0m1.2 .7h0m1.6 16.2h0m6.3-42.9h0m59.5 56.8h0m61.9-30.3h0m10.8 5.6h0m38.9-9.6h0m20.2 6.6h0m1.9-4.1h0m17 6.4h0m24.5-68.8h0m51.8 54.3h0m106.3 59.7h0"/>
<path d="M744.6 2397.9h0m45.9 8.7h0m1.8 11.8h0m8.4-18.4h0m72.7-17h0m7.3 14.1h0m.7 30.7h0m30.6-29.9h0m4.1 4.5h0m10.4-26.7h0m38.6 24.3h0m1.3 .4h0m15.2-18.4h0m14.6 19.2h0m.8-56.8h0m3.4 20.1h0m27.8 47.9h0m105.3-11.9h0m55.9-8.1h0m11.1 27.4h0m21 21.6h0m27.2-14.7h0m22.3-18.8h0m22.9-17.1h0m8.8 12.8h0"/>
<path d="M742.9 2368.9h0m1.9 35.1h0m1.2 4.1h0m62.2-30h0m.4 22.7h0m67.7 12.6h0m10.8-34.3h0m39.5 2.8h0m8.3 34.6h0m12.9-22.6h0m10.5 3.1h0m24.8 13.8h0m34.3 16.6h0m98.5-24.3h0m61.8 2.5h0m30.6 .3h0m61.4 2.2h0m17.6 16.9h0m33.6-6.4h0"/>
<path d="M742.6 2419.6h0m61-10.8h0m7.9-13.2h0m28 34.5h0m33.4-61.9h0m15.3 34.2h0m1.7-17.5h0m6.1-8.5h0m31.6 24.5h0m.4-1.8h0m76.4 14.7h0m8-8.8h0m16.9 58.5h0m25.9-55.3h0m70.2-3.6h0m22.7-11.1h0m22.6 15.7h0m15.8 .6h0m20.4-18h0m95.2 6.9h0"/>
<path d="M739.5 2482.2h0m8.4-78.2h0m39.4-11.8h0m15.4 19.5h0m74.8 4.3h0m30.2-17.4h0m2.8 42.2h0m6.8-73.3h0m15 42h0m4.5-1.5h0m9.2-27.9h0m22.7 34.4h0m26.3-20.6h0m71.1 8.3h0m2.7 15.4h0m10.9-17.3h0m101.8 .7h0m49 8.8h0"/>
<path d="M782.0 2397.5h0m18.4-20.8h0m10.4 25.9h0m11.1-12.6h0m33.7 15.3h0m7.7-57.8h0m5.9 55.6h0m1.5 6.8h0m117-23.8h0m6.7 12.1h0m3.7-3.5h0m5.5 2.3h0m6.4 8.1h0m101.6-47.1h0m35.7 42.5h0m68.4-14.2h0"/>
<path d="M745.0 2398.4h0m40.4-43.1h0m25.6 58.3h0m3.4 6.1h0m21.2-20h0m30.5-39.3h0m4 6.8h0m18.2 31.8h0m15.6 3.4h0m8.6-6.1h0m119.5 42.4h0m36.9-46.9h0m107.3 7.5h0m24.9 31.9h0m34-47.6h0m19.1 25.7h0m.5-12h0m9.9 7.1h0m18.1-.7h0m32.3 14.5h0m8.2-27.8h0"/>
<path d="M759.9 2489.7h0m3.8-81h0m35.9-2.7h0m5.4-16.2h0m17.5 11.6h0m24.4-3.6h0m11.7-29.9h0m19.3 26.2h0m4.9-10.6h0m3.7 22.3h0m9.6-4.8h0m36.8-20.4h0m1.8 18h0m13 16h0m14.8-5.1h0m43.6-5.2h0m19.2-3h0m13.2-55.2h0m49.4 65.5h0m88.9-13.6h0"/>
<path d="M782.7 2430.8h0m3.9-33.8h0m5.8 6.5h0m15.4 .8h0m3.6 5.6h0m20.6 13.4h0m10.2-45.9h0m37.4 19.9h0m32.4 24.3h0m37.3-12.5h0m23.9-8.9h0m10.2 25.5h0m44.5-13.7h0m39.5 25h0m6.5-33.1h0m5-6.1h0m18.1-2.8h0m61.6 20.6h0m27.2-8.7h0m10.7 .5h0m91.3 17.6h0"/>
<path d="M822.5 2364.5h0m24.7 50.7h0m31.6-9.8h0m3.6 8.1h0m6.3-30.9h0m33.3 21h0m108-.1h0m25.5-15.7h0m3.4 38.7h0m12.7-19.3h0m10.6-3.7h0m.9-2.1h0m89.9 7.5h0m6.1 .6h0m39 33.2h0m21.4-45.2h0m2.4 9h0m44.1 1.1h0"/>
<path d="M739.7 2403.2h0m48.7-4.6h0m19.2 26.4h0m.5-14.1h0m11-30.8h0m1.7 24.3h0m15.1 1.7h0m18.7 2.4h0m8.6-8.3h0m63.3-4.9h0m2.3 18.3h0m17.5-17.1h0m15.5-.9h0m10.8 16.4h0m10.9 7.7h0m18.8-24.9h0m124.6-22.5h0m83 36.2h0m.1-9.3h0m51 18.8h0m.1-40.6h0m47.1 37.4h0"/>
<path d="M796.3 2323.7h0m1.2 88.6h0m5.4-17.7h0m5.5 19.5h0m9-2.7h0m35-41.5h0m4.1 59.2h0m4.5-9.2h0m12.6-10.9h0m15.7 .7h0m26.4-13.2h0m17 5.6h0m56 11.1h0m4.9-41.6h0m221.1 25.7h0m37.4 39.7h0m22.7-28.6h0m16.7 .7h0m3.1 42.5h0"/>
<path d="M747.4 2405.3h0m72 14.6h0m12.2-26.6h0m14.5 19h0m13.3-11.1h0m35.2-2.6h0m15.3 13.5h0m25.7-12.6h0m64.1 10.7h0m13.8-18.1h0m37.7-4.1h0m6.4-48.7h0m1.7 152.1h0m36.3-134.4h0m11.6 53.2h0m20.1-17.7h0m4.4 4.8h0m22.4-30.1h0m8.6 51h0m15.9-18h0m7.8 1.2h0m123.9 12.1h0"/>
<path d="M788.0 2400.9h0m10 85.4h0m4.1-28.3h0m3.6-54h0m4.4-15.1h0m36.3 8.8h0m23 1.8h0m4.4-1.9h0m31.2 16.2h0m7.2-14.1h0m15.1-24.8h0m.8 24.7h0m52.9 48.9h0m.6-44.7h0m51.6-3.1h0m18.7-7.8h0m22.3-41.7h0m75.9 52.4h0m19.7 1.2h0m3.3-1.9h0m4.9-36.4h0m73.1 15h0m30.8 17.5h0m3.2-1.6h0"/>
</g>
<path d="M740.52 2428.45 L745.17 2402.74 L749.82 2395.42 L754.47 2402.39 L759.13 2423.35 L763.78 2408.67 L768.43 2401.8 L773.08 2405.51 L777.74 2403.65 L782.39 2423.35 L787.04 2399.66 L791.69 2409.64 L796.35 2389.33 L801 2421.65 L805.65 2401.48 L810.3 2405.97 L814.96 2412.85 L819.61 2385.93 L824.26 2405.29 L828.91 2399.64 L833.57 2393.98 L838.22 2398.42 L842.87 2399.58 L847.52 2403.43 L852.18 2417.48 L856.83 2406.22 L861.48 2400.4 L866.13 2400.75 L870.79 2405.03 L875.44 2406.54 L880.09 2403.95 L884.74 2396.38 L889.4 2401.17 L894.05 2403.8 L898.7 2396.45 L903.35 2413.6 L908.01 2400.24 L912.66 2406.35 L917.31 2400.22 L921.97 2405.37 L926.62 2396 L931.27 2397.4 L935.92 2405.34 L940.58 2428.45 L945.23 2398.26 L949.88 2402.89 L954.53 2402.03 L959.19 2404.08 L963.84 2402.6 L968.49 2405.72 L973.14 2401.46 L977.8 2408.06 L982.45 2411.65 L987.1 2406.04 L991.75 2405.21 L996.41 2404.37 L1001.06 2399.21 L1005.71 2403.72 L1010.36 2405.47 L1015.02 2394.87 L1019.67 2398.17 L1024.32 2401.27 L1028.97 2411.44 L1033.63 2400.74 L1038.28 2387.63 L1042.93 2402.41 L1047.58 2400.32 L1052.24 2398.24 L1056.89 2400.94 L1061.54 2421.65 L1066.19 2402.4 L1070.85 2407.43 L1075.5 2403.89 L1080.15 2399.4 L1084.8 2401.41 L1089.46 2411.07 L1094.11 2403.03 L1098.76 2384.23 L1103.41 2392.58 L1108.07 2396.46 L1112.72 2392.93 L1117.37 2409 L1122.02 2409.18 L1126.68 2408.26 L1131.33 2404.76 L1135.98 2404.69 L1140.63 2404.62 L1145.29 2404.55 L1149.94 2400.23 L1154.59 2379.13 L1159.25 2401.05 L1163.9 2396.05 L1168.55 2399.86 L1173.2 2406.23 L1177.86 2380.83 L1182.51 2404.84 L1187.16 2402.96 L1191.81 2405.19 L1196.47 2407.41 L1201.12 2409.06 L1205.77 2402.67 L1210.42 2403.64 L1215.08 2401.15 L1219.73 2409.26 L1224.38 2398.72 L1229.03 2409.8 L1233.69 2389.33 L1238.34 2399.9 L1242.99 2425.05 L1247.64 2408.38 L1252.3 2405.97 L1256.95 2402.51 L1261.6 2402.09 L1266.25 2404.4 L1270.91 2414.84 L1275.56 2409.28 L1280.21 2398.97 L1284.86 2404.95 L1289.52 2416.95 L1294.17 2445.46 L1298.82 2405.31 L1303.47 2401.14 L1308.13 2385.93 L1312.78 2413.3 L1317.43 2408.91 L1322.08 2404.53" stroke="#4a0fd0" stroke-width="3.2" fill="none" stroke-linejoin="round"/>
<path d="M738.19 2403.05 L739.66 2403.77 L741.13 2404.49 L742.6 2405.2 L744.07 2405.9 L745.54 2406.59 L747 2407.26 L748.47 2407.91 L749.94 2408.53 L751.41 2409.12 L752.88 2409.68 L754.35 2410.21 L755.82 2410.69 L757.29 2411.13 L758.76 2411.52 L760.23 2411.87 L761.7 2412.17 L763.17 2412.41 L764.64 2412.6 L766.1 2412.74 L767.57 2412.83 L769.04 2412.85 L770.51 2412.82 L771.98 2412.74 L773.45 2412.6 L774.92 2412.41 L776.39 2412.16 L777.86 2411.87 L779.33 2411.52 L780.8 2411.12 L782.27 2410.68 L783.74 2410.2 L785.2 2409.68 L786.67 2409.12 L788.14 2408.52 L789.61 2407.9 L791.08 2407.25 L792.55 2406.58 L794.02 2405.89 L795.49 2405.19 L796.96 2404.48 L798.43 2403.76 L799.9 2403.04 L801.37 2402.33 L802.84 2401.62 L804.3 2400.92 L805.77 2400.24 L807.24 2399.58 L808.71 2398.95 L810.18 2398.34 L811.65 2397.76 L813.12 2397.22 L814.59 2396.72 L816.06 2396.25 L817.53 2395.83 L819 2395.46 L820.47 2395.14 L821.94 2394.87 L823.4 2394.65 L824.87 2394.48 L826.34 2394.37 L827.81 2394.31 L829.28 2394.31 L830.75 2394.37 L832.22 2394.48 L833.69 2394.64 L835.16 2394.86 L836.63 2395.14 L838.1 2395.46 L839.57 2395.83 L841.04 2396.25 L842.5 2396.71 L843.97 2397.21 L845.44 2397.75 L846.91 2398.33 L848.38 2398.94 L849.85 2399.57 L851.32 2400.23 L852.79 2400.91 L854.26 2401.61 L855.73 2402.31 L857.2 2403.03 L858.67 2403.75 L860.14 2404.47 L861.6 2405.18 L863.07 2405.88 L864.54 2406.57 L866.01 2407.24 L867.48 2407.89 L868.95 2408.51 L870.42 2409.11 L871.89 2409.67 L873.36 2410.19 L874.83 2410.67 L876.3 2411.12 L877.77 2411.51 L879.24 2411.86 L880.7 2412.16 L882.17 2412.41 L883.64 2412.6 L885.11 2412.74 L886.58 2412.82 L888.05 2412.85 L889.52 2412.83 L890.99 2412.74 L892.46 2412.61 L893.93 2412.42 L895.4 2412.17 L896.87 2411.87 L898.34 2411.53 L899.8 2411.13 L901.27 2410.7 L902.74 2410.21 L904.21 2409.69 L905.68 2409.13 L907.15 2408.54 L908.62 2407.92 L910.09 2407.27 L911.56 2406.6 L913.03 2405.91 L914.5 2405.21 L915.97 2404.5 L917.43 2403.78 L918.9 2403.06 L920.37 2402.35 L921.84 2401.64 L923.31 2400.94 L924.78 2400.26 L926.25 2399.6 L927.72 2398.96 L929.19 2398.35 L930.66 2397.78 L932.13 2397.23 L933.6 2396.73 L935.07 2396.27 L936.53 2395.85 L938 2395.47 L939.47 2395.15 L940.94 2394.88 L942.41 2394.65 L943.88 2394.49 L945.35 2394.37 L946.82 2394.32 L948.29 2394.31 L949.76 2394.37 L951.23 2394.48 L952.7 2394.64 L954.17 2394.86 L955.63 2395.13 L957.1 2395.45 L958.57 2395.82 L960.04 2396.23 L961.51 2396.69 L962.98 2397.19 L964.45 2397.73 L965.92 2398.31 L967.39 2398.92 L968.86 2399.55 L970.33 2400.21 L971.8 2400.89 L973.27 2401.59 L974.73 2402.29 L976.2 2403.01 L977.67 2403.73 L979.14 2404.44 L980.61 2405.16 L982.08 2405.86 L983.55 2406.55 L985.02 2407.22 L986.49 2407.87 L987.96 2408.5 L989.43 2409.09 L990.9 2409.65 L992.37 2410.18 L993.83 2410.66 L995.3 2411.1 L996.77 2411.5 L998.24 2411.85 L999.71 2412.15 L1001.18 2412.4 L1002.65 2412.59 L1004.12 2412.74 L1005.59 2412.82 L1007.06 2412.85 L1008.53 2412.83 L1010 2412.75 L1011.47 2412.61 L1012.93 2412.42 L1014.4 2412.18 L1015.87 2411.88 L1017.34 2411.54 L1018.81 2411.15 L1020.28 2410.71 L1021.75 2410.23 L1023.22 2409.71 L1024.69 2409.15 L1026.16 2408.56 L1027.63 2407.94 L1029.1 2407.29 L1030.57 2406.62 L1032.03 2405.93 L1033.5 2405.23 L1034.97 2404.52 L1036.44 2403.8 L1037.91 2403.08 L1039.38 2402.37 L1040.85 2401.66 L1042.32 2400.96 L1043.79 2400.28 L1045.26 2399.62 L1046.73 2398.98 L1048.2 2398.37 L1049.67 2397.79 L1051.13 2397.25 L1052.6 2396.74 L1054.07 2396.28 L1055.54 2395.86 L1057.01 2395.48 L1058.48 2395.16 L1059.95 2394.88 L1061.42 2394.66 L1062.89 2394.49 L1064.36 2394.38 L1065.83 2394.32 L1067.3 2394.31 L1068.77 2394.36 L1070.23 2394.47 L1071.7 2394.63 L1073.17 2394.85 L1074.64 2395.12 L1076.11 2395.44 L1077.58 2395.8 L1079.05 2396.22 L1080.52 2396.68 L1081.99 2397.18 L1083.46 2397.72 L1084.93 2398.29 L1086.4 2398.9 L1087.87 2399.53 L1089.33 2400.19 L1090.8 2400.87 L1092.27 2401.56 L1093.74 2402.27 L1095.21 2402.99 L1096.68 2403.71 L1098.15 2404.42 L1099.62 2405.14 L1101.09 2405.84 L1102.56 2406.53 L1104.03 2407.2 L1105.5 2407.85 L1106.97 2408.48 L1108.43 2409.07 L1109.9 2409.63 L1111.37 2410.16 L1112.84 2410.65 L1114.31 2411.09 L1115.78 2411.49 L1117.25 2411.84 L1118.72 2412.14 L1120.19 2412.39 L1121.66 2412.59 L1123.13 2412.73 L1124.6 2412.82 L1126.07 2412.85 L1127.53 2412.83 L1129 2412.75 L1130.47 2412.62 L1131.94 2412.43 L1133.41 2412.19 L1134.88 2411.89 L1136.35 2411.55 L1137.82 2411.16 L1139.29 2410.72 L1140.76 2410.24 L1142.23 2409.72 L1143.7 2409.17 L1145.17 2408.58 L1146.63 2407.96 L1148.1 2407.31 L1149.57 2406.64 L1151.04 2405.95 L1152.51 2405.25 L1153.98 2404.54 L1155.45 2403.82 L1156.92 2403.11 L1158.39 2402.39 L1159.86 2401.68 L1161.33 2400.98 L1162.8 2400.3 L1164.26 2399.64 L1165.73 2399 L1167.2 2398.39 L1168.67 2397.81 L1170.14 2397.27 L1171.61 2396.76 L1173.08 2396.29 L1174.55 2395.87 L1176.02 2395.49 L1177.49 2395.17 L1178.96 2394.89 L1180.43 2394.67 L1181.9 2394.49 L1183.36 2394.38 L1184.83 2394.32 L1186.3 2394.31 L1187.77 2394.36 L1189.24 2394.47 L1190.71 2394.63 L1192.18 2394.84 L1193.65 2395.11 L1195.12 2395.43 L1196.59 2395.79 L1198.06 2396.21 L1199.53 2396.66 L1201 2397.16 L1202.46 2397.7 L1203.93 2398.27 L1205.4 2398.88 L1206.87 2399.51 L1208.34 2400.17 L1209.81 2400.85 L1211.28 2401.54 L1212.75 2402.25 L1214.22 2402.97 L1215.69 2403.68 L1217.16 2404.4 L1218.63 2405.12 L1220.1 2405.82 L1221.56 2406.51 L1223.03 2407.18 L1224.5 2407.83 L1225.97 2408.46 L1227.44 2409.06 L1228.91 2409.62 L1230.38 2410.15 L1231.85 2410.63 L1233.32 2411.08 L1234.79 2411.48 L1236.26 2411.83 L1237.73 2412.13 L1239.2 2412.39 L1240.66 2412.58 L1242.13 2412.73 L1243.6 2412.82 L1245.07 2412.85 L1246.54 2412.83 L1248.01 2412.75 L1249.48 2412.62 L1250.95 2412.43 L1252.42 2412.19 L1253.89 2411.9 L1255.36 2411.56 L1256.83 2411.17 L1258.3 2410.74 L1259.76 2410.26 L1261.23 2409.74 L1262.7 2409.18 L1264.17 2408.6 L1265.64 2407.98 L1267.11 2407.33 L1268.58 2406.66 L1270.05 2405.98 L1271.52 2405.27 L1272.99 2404.56 L1274.46 2403.85 L1275.93 2403.13 L1277.4 2402.41 L1278.86 2401.7 L1280.33 2401 L1281.8 2400.32 L1283.27 2399.66 L1284.74 2399.02 L1286.21 2398.41 L1287.68 2397.83 L1289.15 2397.28 L1290.62 2396.77 L1292.09 2396.31 L1293.56 2395.88 L1295.03 2395.5 L1296.5 2395.18 L1297.96 2394.9 L1299.43 2394.67 L1300.9 2394.5 L1302.37 2394.38 L1303.84 2394.32 L1305.31 2394.31 L1306.78 2394.36 L1308.25 2394.46 L1309.72 2394.62 L1311.19 2394.84 L1312.66 2395.1 L1314.13 2395.42 L1315.6 2395.78 L1317.06 2396.19 L1318.53 2396.65 L1320 2397.15 L1321.47 2397.69 L1322.94 2398.26 L1324.41 2398.86" stroke="#f39019" stroke-width="3.6" fill="none"/>
<path d="M738.19 2403.02 L739.66 2403.54 L741.13 2404.06 L742.6 2404.57 L744.07 2405.05 L745.54 2405.5 L747 2405.91 L748.47 2406.26 L749.94 2406.54 L751.41 2406.76 L752.88 2406.89 L754.35 2406.95 L755.82 2406.93 L757.29 2406.82 L758.76 2406.64 L760.23 2406.39 L761.7 2406.07 L763.17 2405.68 L764.64 2405.25 L766.1 2404.78 L767.57 2404.28 L769.04 2403.76 L770.51 2403.24 L771.98 2402.72 L773.45 2402.23 L774.92 2401.77 L776.39 2401.35 L777.86 2400.99 L779.33 2400.68 L780.8 2400.45 L782.27 2400.3 L783.74 2400.22 L785.2 2400.22 L786.67 2400.3 L788.14 2400.46 L789.61 2400.7 L791.08 2401.01 L792.55 2401.37 L794.02 2401.79 L795.49 2402.26 L796.96 2402.75 L798.43 2403.27 L799.9 2403.79 L801.37 2404.31 L802.84 2404.81 L804.3 2405.28 L805.77 2405.71 L807.24 2406.09 L808.71 2406.4 L810.18 2406.65 L811.65 2406.83 L813.12 2406.93 L814.59 2406.95 L816.06 2406.89 L817.53 2406.75 L819 2406.53 L820.47 2406.24 L821.94 2405.89 L823.4 2405.48 L824.87 2405.03 L826.34 2404.54 L827.81 2404.03 L829.28 2403.51 L830.75 2402.99 L832.22 2402.48 L833.69 2402 L835.16 2401.56 L836.63 2401.17 L838.1 2400.83 L839.57 2400.56 L841.04 2400.37 L842.5 2400.25 L843.97 2400.21 L845.44 2400.25 L846.91 2400.37 L848.38 2400.57 L849.85 2400.84 L851.32 2401.18 L852.79 2401.57 L854.26 2402.01 L855.73 2402.49 L857.2 2403 L858.67 2403.52 L860.14 2404.04 L861.6 2404.55 L863.07 2405.04 L864.54 2405.49 L866.01 2405.9 L867.48 2406.25 L868.95 2406.53 L870.42 2406.75 L871.89 2406.89 L873.36 2406.95 L874.83 2406.93 L876.3 2406.83 L877.77 2406.65 L879.24 2406.4 L880.7 2406.08 L882.17 2405.7 L883.64 2405.26 L885.11 2404.79 L886.58 2404.29 L888.05 2403.77 L889.52 2403.25 L890.99 2402.74 L892.46 2402.24 L893.93 2401.78 L895.4 2401.36 L896.87 2401 L898.34 2400.69 L899.8 2400.46 L901.27 2400.3 L902.74 2400.22 L904.21 2400.22 L905.68 2400.3 L907.15 2400.46 L908.62 2400.69 L910.09 2401 L911.56 2401.36 L913.03 2401.78 L914.5 2402.24 L915.97 2402.74 L917.43 2403.25 L918.9 2403.77 L920.37 2404.29 L921.84 2404.79 L923.31 2405.26 L924.78 2405.69 L926.25 2406.07 L927.72 2406.4 L929.19 2406.65 L930.66 2406.83 L932.13 2406.93 L933.6 2406.95 L935.07 2406.89 L936.53 2406.75 L938 2406.53 L939.47 2406.25 L940.94 2405.9 L942.41 2405.49 L943.88 2405.04 L945.35 2404.55 L946.82 2404.04 L948.29 2403.52 L949.76 2403 L951.23 2402.49 L952.7 2402.01 L954.17 2401.57 L955.63 2401.18 L957.1 2400.84 L958.57 2400.57 L960.04 2400.37 L961.51 2400.25 L962.98 2400.21 L964.45 2400.25 L965.92 2400.37 L967.39 2400.56 L968.86 2400.83 L970.33 2401.17 L971.8 2401.56 L973.27 2402 L974.73 2402.48 L976.2 2402.98 L977.67 2403.5 L979.14 2404.03 L980.61 2404.54 L982.08 2405.02 L983.55 2405.48 L985.02 2405.89 L986.49 2406.24 L987.96 2406.53 L989.43 2406.74 L990.9 2406.89 L992.37 2406.95 L993.83 2406.93 L995.3 2406.83 L996.77 2406.65 L998.24 2406.4 L999.71 2406.09 L1001.18 2405.71 L1002.65 2405.28 L1004.12 2404.81 L1005.59 2404.31 L1007.06 2403.79 L1008.53 2403.27 L1010 2402.75 L1011.47 2402.26 L1012.93 2401.79 L1014.4 2401.37 L1015.87 2401.01 L1017.34 2400.7 L1018.81 2400.46 L1020.28 2400.3 L1021.75 2400.22 L1023.22 2400.22 L1024.69 2400.3 L1026.16 2400.45 L1027.63 2400.68 L1029.1 2400.99 L1030.57 2401.35 L1032.03 2401.77 L1033.5 2402.23 L1034.97 2402.72 L1036.44 2403.24 L1037.91 2403.76 L1039.38 2404.28 L1040.85 2404.78 L1042.32 2405.25 L1043.79 2405.68 L1045.26 2406.06 L1046.73 2406.39 L1048.2 2406.64 L1049.67 2406.82 L1051.13 2406.93 L1052.6 2406.95 L1054.07 2406.89 L1055.54 2406.76 L1057.01 2406.54 L1058.48 2406.26 L1059.95 2405.91 L1061.42 2405.5 L1062.89 2405.05 L1064.36 2404.57 L1065.83 2404.06 L1067.3 2403.54 L1068.77 2403.02 L1070.23 2402.51 L1071.7 2402.03 L1073.17 2401.58 L1074.64 2401.19 L1076.11 2400.85 L1077.58 2400.58 L1079.05 2400.38 L1080.52 2400.25 L1081.99 2400.21 L1083.46 2400.24 L1084.93 2400.36 L1086.4 2400.56 L1087.87 2400.82 L1089.33 2401.16 L1090.8 2401.55 L1092.27 2401.99 L1093.74 2402.46 L1095.21 2402.97 L1096.68 2403.49 L1098.15 2404.01 L1099.62 2404.52 L1101.09 2405.01 L1102.56 2405.47 L1104.03 2405.87 L1105.5 2406.23 L1106.97 2406.52 L1108.43 2406.74 L1109.9 2406.88 L1111.37 2406.95 L1112.84 2406.93 L1114.31 2406.84 L1115.78 2406.66 L1117.25 2406.41 L1118.72 2406.1 L1120.19 2405.72 L1121.66 2405.29 L1123.13 2404.82 L1124.6 2404.32 L1126.07 2403.81 L1127.53 2403.28 L1129 2402.77 L1130.47 2402.27 L1131.94 2401.81 L1133.41 2401.39 L1134.88 2401.02 L1136.35 2400.71 L1137.82 2400.47 L1139.29 2400.31 L1140.76 2400.22 L1142.23 2400.22 L1143.7 2400.29 L1145.17 2400.45 L1146.63 2400.68 L1148.1 2400.98 L1149.57 2401.34 L1151.04 2401.75 L1152.51 2402.21 L1153.98 2402.71 L1155.45 2403.22 L1156.92 2403.74 L1158.39 2404.26 L1159.86 2404.76 L1161.33 2405.24 L1162.8 2405.67 L1164.26 2406.05 L1165.73 2406.38 L1167.2 2406.64 L1168.67 2406.82 L1170.14 2406.92 L1171.61 2406.95 L1173.08 2406.9 L1174.55 2406.76 L1176.02 2406.55 L1177.49 2406.27 L1178.96 2405.92 L1180.43 2405.52 L1181.9 2405.07 L1183.36 2404.58 L1184.83 2404.07 L1186.3 2403.55 L1187.77 2403.03 L1189.24 2402.52 L1190.71 2402.04 L1192.18 2401.6 L1193.65 2401.2 L1195.12 2400.86 L1196.59 2400.58 L1198.06 2400.38 L1199.53 2400.25 L1201 2400.21 L1202.46 2400.24 L1203.93 2400.36 L1205.4 2400.55 L1206.87 2400.81 L1208.34 2401.14 L1209.81 2401.53 L1211.28 2401.97 L1212.75 2402.45 L1214.22 2402.95 L1215.69 2403.47 L1217.16 2404 L1218.63 2404.51 L1220.1 2405 L1221.56 2405.45 L1223.03 2405.86 L1224.5 2406.22 L1225.97 2406.51 L1227.44 2406.73 L1228.91 2406.88 L1230.38 2406.95 L1231.85 2406.93 L1233.32 2406.84 L1234.79 2406.67 L1236.26 2406.42 L1237.73 2406.11 L1239.2 2405.73 L1240.66 2405.3 L1242.13 2404.84 L1243.6 2404.34 L1245.07 2403.82 L1246.54 2403.3 L1248.01 2402.78 L1249.48 2402.29 L1250.95 2401.82 L1252.42 2401.4 L1253.89 2401.03 L1255.36 2400.72 L1256.83 2400.48 L1258.3 2400.31 L1259.76 2400.22 L1261.23 2400.21 L1262.7 2400.29 L1264.17 2400.44 L1265.64 2400.67 L1267.11 2400.97 L1268.58 2401.33 L1270.05 2401.74 L1271.52 2402.2 L1272.99 2402.69 L1274.46 2403.2 L1275.93 2403.73 L1277.4 2404.25 L1278.86 2404.75 L1280.33 2405.22 L1281.8 2405.66 L1283.27 2406.04 L1284.74 2406.37 L1286.21 2406.63 L1287.68 2406.81 L1289.15 2406.92 L1290.62 2406.95 L1292.09 2406.9 L1293.56 2406.77 L1295.03 2406.56 L1296.5 2406.28 L1297.96 2405.93 L1299.43 2405.53 L1300.9 2405.08 L1302.37 2404.6 L1303.84 2404.09 L1305.31 2403.57 L1306.78 2403.05 L1308.25 2402.54 L1309.72 2402.06 L1311.19 2401.61 L1312.66 2401.21 L1314.13 2400.87 L1315.6 2400.59 L1317.06 2400.39 L1318.53 2400.26 L1320 2400.21 L1321.47 2400.24 L1322.94 2400.35 L1324.41 2400.54" stroke="#f05cf0" stroke-width="3.4" fill="none"/>
</g>
<line x1="737.8" y1="2314.5" x2="737.8" y2="2492.36" stroke="#262626" stroke-width="1.5" />
<line x1="737.8" y1="2491.86" x2="1323.4" y2="2491.86" stroke="#262626" stroke-width="1.5" />
<line x1="731.6" y1="2347.38" x2="737.8" y2="2347.38" stroke="#262626" stroke-width="1.5" />
<line x1="731.6" y1="2403.58" x2="737.8" y2="2403.58" stroke="#262626" stroke-width="1.5" />
<line x1="731.6" y1="2459.78" x2="737.8" y2="2459.78" stroke="#262626" stroke-width="1.5" />
<line x1="751.4" y1="2491.86" x2="751.4" y2="2502.16" stroke="#262626" stroke-width="1.5" />
<text x="745.7" y="2524.2" font-size="22" text-anchor="middle" font-weight="normal" fill="#262626" >-3</text>
<line x1="844.7" y1="2491.86" x2="844.7" y2="2502.16" stroke="#262626" stroke-width="1.5" />
<text x="840.6" y="2524.2" font-size="22" text-anchor="middle" font-weight="normal" fill="#262626" >-2</text>
<line x1="938" y1="2491.86" x2="938" y2="2502.16" stroke="#262626" stroke-width="1.5" />
<text x="933.7" y="2524.2" font-size="22" text-anchor="middle" font-weight="normal" fill="#262626" >-1</text>
<line x1="1031.3" y1="2491.86" x2="1031.3" y2="2502.16" stroke="#262626" stroke-width="1.5" />
<text x="1030" y="2524.2" font-size="22" text-anchor="middle" font-weight="normal" fill="#262626" >0</text>
<line x1="1124.6" y1="2491.86" x2="1124.6" y2="2502.16" stroke="#262626" stroke-width="1.5" />
<text x="1125" y="2524.2" font-size="22" text-anchor="middle" font-weight="normal" fill="#262626" >1</text>
<line x1="1217.9" y1="2491.86" x2="1217.9" y2="2502.16" stroke="#262626" stroke-width="1.5" />
<text x="1217.8" y="2524.2" font-size="22" text-anchor="middle" font-weight="normal" fill="#262626" >2</text>
<line x1="1311.2" y1="2491.86" x2="1311.2" y2="2502.16" stroke="#262626" stroke-width="1.5" />
<text x="1312.8" y="2524.2" font-size="22" text-anchor="middle" font-weight="normal" fill="#262626" >3</text>
<text x="752.4" y="2326.4" font-size="25" text-anchor="start" font-weight="normal" fill="#262626" letter-spacing="0.1">fly 10</text>
<text x="416.3" y="2558.5" font-size="22" text-anchor="middle" font-weight="normal" fill="#262626" >bump orientation, beginning of stop (rad)</text>
<text x="1024.8" y="2559" font-size="22" text-anchor="middle" font-weight="normal" fill="#262626" >bump orientation, beginning of stop (rad)</text>
<rect x="108.2" y="1318.3" width="580.2" height="61.2" fill="#fff" stroke="#000" stroke-width="1.6"/>
<text x="204.6" y="1343.8" font-size="22" text-anchor="start" font-weight="normal" fill="#262626" >standing bouts</text>
<text x="478.7" y="1343.8" font-size="22" text-anchor="start" font-weight="normal" fill="#262626" >best-fitting sinusoid</text>
<circle cx="148" cy="1363.7" r="6.6" fill="#a582e1"/>
<text x="160.4" y="1369.6" font-size="22" text-anchor="start" font-weight="normal" fill="#262626" >individual bouts</text>
<line x1="327.6" y1="1363.7" x2="354.8" y2="1363.7" stroke="#4a0fd0" stroke-width="3.3" stroke-linecap="round"/>
<text x="364.3" y="1369.6" font-size="22" text-anchor="start" font-weight="normal" fill="#262626" >mean</text>
<line x1="473.5" y1="1363.9" x2="499.8" y2="1363.9" stroke="#f39019" stroke-width="3.3" stroke-linecap="round"/>
<text x="511" y="1369.6" font-size="22" text-anchor="start" font-weight="normal" fill="#262626" >8 Hz</text>
<line x1="581.6" y1="1363.9" x2="607.9" y2="1363.9" stroke="#f05cf0" stroke-width="3.3" stroke-linecap="round"/>
<text x="612.3" y="1369.6" font-size="22" text-anchor="start" font-weight="normal" fill="#262626" >16 Hz</text>
<rect x="738.8" y="1318.3" width="580.2" height="61.2" fill="#fff" stroke="#000" stroke-width="1.6"/>
<text x="835.2" y="1343.8" font-size="22" text-anchor="start" font-weight="normal" fill="#262626" >standing bouts</text>
<text x="1109.3" y="1343.8" font-size="22" text-anchor="start" font-weight="normal" fill="#262626" >best-fitting sinusoid</text>
<circle cx="778.6" cy="1363.7" r="6.6" fill="#a582e1"/>
<text x="791" y="1369.6" font-size="22" text-anchor="start" font-weight="normal" fill="#262626" >individual bouts</text>
<line x1="958.2" y1="1363.7" x2="985.4" y2="1363.7" stroke="#4a0fd0" stroke-width="3.3" stroke-linecap="round"/>
<text x="994.9" y="1369.6" font-size="22" text-anchor="start" font-weight="normal" fill="#262626" >mean</text>
<line x1="1104.1" y1="1363.9" x2="1130.4" y2="1363.9" stroke="#f39019" stroke-width="3.3" stroke-linecap="round"/>
<text x="1141.6" y="1369.6" font-size="22" text-anchor="start" font-weight="normal" fill="#262626" >8 Hz</text>
<line x1="1212.2" y1="1363.9" x2="1238.5" y2="1363.9" stroke="#f05cf0" stroke-width="3.3" stroke-linecap="round"/>
<text x="1242.9" y="1369.6" font-size="22" text-anchor="start" font-weight="normal" fill="#262626" >16 Hz</text>
<text x="-1" y="1337.8" font-size="44" text-anchor="start" font-weight="bold" fill="#000" >c</text>
<rect x="1526.0" y="1377.0" width="640.4" height="54.2" fill="#e6e6e6"/>
<rect x="1526.0" y="1485.0" width="640.4" height="54" fill="#e6e6e6"/>
<rect x="1526.0" y="1593.0" width="640.4" height="53.6" fill="#e6e6e6"/>
<rect x="1526.0" y="1701.0" width="640.4" height="53.3" fill="#e6e6e6"/>
<rect x="1526.0" y="1808.6" width="640.4" height="53.8" fill="#e6e6e6"/>
<text x="1600" y="1357.2" font-size="26" text-anchor="middle" font-weight="bold" fill="#262626" >fly</text>
<text x="1803.7" y="1357.2" font-size="26" text-anchor="middle" font-weight="bold" fill="#262626" >R<tspan dy="-9" font-size="17">2</tspan><tspan dy="9">, 8 Hz</tspan></text>
<text x="2050.6" y="1357.2" font-size="26" text-anchor="middle" font-weight="bold" fill="#262626" >R<tspan dy="-9" font-size="17">2</tspan><tspan dy="9">, 16 Hz</tspan></text>
<text x="1600.2" y="1412.2" font-size="26" text-anchor="middle" font-weight="normal" fill="#262626" >1</text>
<text x="1771.5" y="1412.2" font-size="26" text-anchor="start" font-weight="normal" fill="#262626" >0.086</text>
<text x="2012.5" y="1412.2" font-size="26" text-anchor="start" font-weight="normal" fill="#262626" >0.021</text>
<text x="1600.2" y="1466.4" font-size="26" text-anchor="middle" font-weight="normal" fill="#262626" >2</text>
<text x="1771.5" y="1466.4" font-size="26" text-anchor="start" font-weight="normal" fill="#262626" >0.0090</text>
<text x="2012.5" y="1466.4" font-size="26" text-anchor="start" font-weight="normal" fill="#262626" >0.022</text>
<text x="1600.2" y="1520.2" font-size="26" text-anchor="middle" font-weight="normal" fill="#262626" >3</text>
<text x="1771.5" y="1520.2" font-size="26" text-anchor="start" font-weight="normal" fill="#262626" >0.026</text>
<text x="2012.5" y="1520.2" font-size="26" text-anchor="start" font-weight="normal" fill="#262626" >0.073</text>
<text x="1600.2" y="1574.2" font-size="26" text-anchor="middle" font-weight="normal" fill="#262626" >4</text>
<text x="1771.5" y="1574.2" font-size="26" text-anchor="start" font-weight="normal" fill="#262626" >0.013</text>
<text x="2012.5" y="1574.2" font-size="26" text-anchor="start" font-weight="normal" fill="#262626" >0.077</text>
<text x="1600.2" y="1628.2" font-size="26" text-anchor="middle" font-weight="normal" fill="#262626" >5</text>
<text x="1771.5" y="1628.2" font-size="26" text-anchor="start" font-weight="normal" fill="#262626" >0.040</text>
<text x="2012.5" y="1628.2" font-size="26" text-anchor="start" font-weight="normal" fill="#262626" >0.070</text>
<text x="1600.2" y="1681.8" font-size="26" text-anchor="middle" font-weight="normal" fill="#262626" >6</text>
<text x="1771.5" y="1681.8" font-size="26" text-anchor="start" font-weight="normal" fill="#262626" >0.050</text>
<text x="2012.5" y="1681.8" font-size="26" text-anchor="start" font-weight="normal" fill="#262626" >0.0092</text>
<text x="1600.2" y="1736.2" font-size="26" text-anchor="middle" font-weight="normal" fill="#262626" >7</text>
<text x="1771.5" y="1736.2" font-size="26" text-anchor="start" font-weight="normal" fill="#262626" >0.052</text>
<text x="2012.5" y="1736.2" font-size="26" text-anchor="start" font-weight="normal" fill="#262626" >0.014</text>
<text x="1600.2" y="1789.5" font-size="26" text-anchor="middle" font-weight="normal" fill="#262626" >8</text>
<text x="1771.5" y="1789.5" font-size="26" text-anchor="start" font-weight="normal" fill="#262626" >0.0057</text>
<text x="2012.5" y="1789.5" font-size="26" text-anchor="start" font-weight="normal" fill="#262626" >0.0035</text>
<text x="1600.2" y="1843.8" font-size="26" text-anchor="middle" font-weight="normal" fill="#262626" >9</text>
<text x="1771.5" y="1843.8" font-size="26" text-anchor="start" font-weight="normal" fill="#262626" >0.046</text>
<text x="2012.5" y="1843.8" font-size="26" text-anchor="start" font-weight="normal" fill="#262626" >0.016</text>
<text x="1600.2" y="1897.6" font-size="26" text-anchor="middle" font-weight="normal" fill="#262626" >10</text>
<text x="1771.5" y="1897.6" font-size="26" text-anchor="start" font-weight="normal" fill="#262626" >0.028</text>
<text x="2012.5" y="1897.6" font-size="26" text-anchor="start" font-weight="normal" fill="#262626" >0.020</text>
<path d="M1526 1322.7H2166.4M1526 1377H2166.4M1526 1431.2H2166.4M1526 1485H2166.4M1526 1539H2166.4M1526 1593H2166.4M1526 1646.6H2166.4M1526 1701H2166.4M1526 1754.3H2166.4M1526 1808.6H2166.4M1526 1862.4H2166.4M1526 1917.1H2166.4M1526 1322.7V1917.1M1682 1322.7V1917.1M1924.7 1322.7V1917.1M2166.4 1322.7V1917.1" stroke="#222" stroke-width="2.8" fill="none" stroke-linecap="square"/>
<text x="1446" y="1337.8" font-size="43.5" text-anchor="start" font-weight="bold" fill="#000" >d</text>
</svg></body></html>
